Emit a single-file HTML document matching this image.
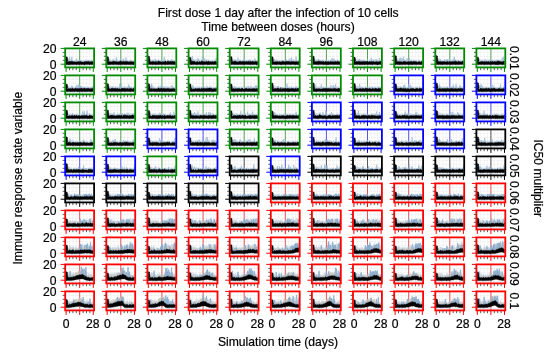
<!DOCTYPE html><html><head><meta charset="utf-8"><style>html,body{margin:0;padding:0;background:#fff;overflow:hidden}svg{display:block;will-change:transform;filter:blur(.3px)}.b{fill:none;stroke:#86a9cc;stroke-width:.75}.d{fill:none;stroke:#97b6d4;stroke-width:.65}.c{fill:#acbfd2;opacity:.6}.t{fill:#d5bb9c;opacity:.6}.k{fill:#000;stroke:#000;stroke-width:.4;stroke-linejoin:round}.z{fill:none;stroke:#d3e3f1;stroke-width:.6}</style></head><body>
<svg width="550" height="353" viewBox="0 0 550 353" font-family="Liberation Sans, sans-serif" font-size="12.15" fill="#000" stroke="#000" stroke-width=".2">
<rect width="550" height="353" fill="#fff" stroke="none"/>
<defs><g id="g"><path d="M4.3 0v19M7.7 0v19M11.1 0v19M17.9 0v19M21.3 0v19M24.7 0v19M0 11.9h28.9M0 7.9h28.9M0 4h28.9" stroke="#d6d6d6" stroke-width=".5" stroke-dasharray="1 1" fill="none"/><path d="M14.5 0v19" stroke="currentColor" stroke-width=".8" opacity=".8"/><path d="M14.5 0v19" stroke="#333" stroke-width=".8" opacity=".15"/><path class="z" d="M0 17.2h28.9"/></g><g id="f"><path d="M-2.5 11.9h2.5M-2.5 7.9h2.5M-2.5 4h2.5M4.3 19v2.8M7.7 19v2.8M11.1 19v2.8M17.9 19v2.8M21.3 19v2.8M24.7 19v2.8" stroke="#333" stroke-width=".8"/><path d="M-4.5 15.8h4.5M-4.5 0h4.5M.9 19v4.5M14.5 19v4.5M28.1 19v4.5" stroke="currentColor" stroke-width="1"/><rect width="28.9" height="19.0" fill="none" stroke="currentColor" stroke-width="1.8"/></g></defs>
<text x="278.2" y="17.1" text-anchor="middle">First dose 1 day after the infection of 10 cells</text>
<text x="278" y="30.6" text-anchor="middle">Time between doses (hours)</text>
<text x="278" y="345.5" text-anchor="middle">Simulation time (days)</text>
<text transform="translate(22.4,178.2) rotate(-90)" text-anchor="middle">Immune response state variable</text>
<text transform="translate(533.6,178.2) rotate(90)" text-anchor="middle">IC50 multiplier</text>
<text x="79.65" y="45.6" text-anchor="middle">24</text>
<text x="66.20" y="328" text-anchor="middle">0</text>
<text x="92.80" y="328" text-anchor="middle">28</text>
<text x="120.77" y="45.6" text-anchor="middle">36</text>
<text x="107.32" y="328" text-anchor="middle">0</text>
<text x="133.92" y="328" text-anchor="middle">28</text>
<text x="161.89" y="45.6" text-anchor="middle">48</text>
<text x="148.44" y="328" text-anchor="middle">0</text>
<text x="175.04" y="328" text-anchor="middle">28</text>
<text x="203.01" y="45.6" text-anchor="middle">60</text>
<text x="189.56" y="328" text-anchor="middle">0</text>
<text x="216.16" y="328" text-anchor="middle">28</text>
<text x="244.13" y="45.6" text-anchor="middle">72</text>
<text x="230.68" y="328" text-anchor="middle">0</text>
<text x="257.28" y="328" text-anchor="middle">28</text>
<text x="285.25" y="45.6" text-anchor="middle">84</text>
<text x="271.80" y="328" text-anchor="middle">0</text>
<text x="298.40" y="328" text-anchor="middle">28</text>
<text x="326.37" y="45.6" text-anchor="middle">96</text>
<text x="312.92" y="328" text-anchor="middle">0</text>
<text x="339.52" y="328" text-anchor="middle">28</text>
<text x="367.49" y="45.6" text-anchor="middle">108</text>
<text x="354.04" y="328" text-anchor="middle">0</text>
<text x="380.64" y="328" text-anchor="middle">28</text>
<text x="408.61" y="45.6" text-anchor="middle">120</text>
<text x="395.16" y="328" text-anchor="middle">0</text>
<text x="421.76" y="328" text-anchor="middle">28</text>
<text x="449.73" y="45.6" text-anchor="middle">132</text>
<text x="436.28" y="328" text-anchor="middle">0</text>
<text x="462.88" y="328" text-anchor="middle">28</text>
<text x="490.85" y="45.6" text-anchor="middle">144</text>
<text x="477.40" y="328" text-anchor="middle">0</text>
<text x="504.00" y="328" text-anchor="middle">28</text>
<text x="56.5" y="52.90" text-anchor="end">20</text>
<text x="56.5" y="68.80" text-anchor="end">0</text>
<text transform="translate(510.3,57.90) rotate(90)" text-anchor="middle">0.01</text>
<text x="56.5" y="79.90" text-anchor="end">20</text>
<text x="56.5" y="95.80" text-anchor="end">0</text>
<text transform="translate(510.3,84.90) rotate(90)" text-anchor="middle">0.02</text>
<text x="56.5" y="106.90" text-anchor="end">20</text>
<text x="56.5" y="122.80" text-anchor="end">0</text>
<text transform="translate(510.3,111.90) rotate(90)" text-anchor="middle">0.03</text>
<text x="56.5" y="133.90" text-anchor="end">20</text>
<text x="56.5" y="149.80" text-anchor="end">0</text>
<text transform="translate(510.3,138.90) rotate(90)" text-anchor="middle">0.04</text>
<text x="56.5" y="160.90" text-anchor="end">20</text>
<text x="56.5" y="176.80" text-anchor="end">0</text>
<text transform="translate(510.3,165.90) rotate(90)" text-anchor="middle">0.05</text>
<text x="56.5" y="187.90" text-anchor="end">20</text>
<text x="56.5" y="203.80" text-anchor="end">0</text>
<text transform="translate(510.3,192.90) rotate(90)" text-anchor="middle">0.06</text>
<text x="56.5" y="214.90" text-anchor="end">20</text>
<text x="56.5" y="230.80" text-anchor="end">0</text>
<text transform="translate(510.3,219.90) rotate(90)" text-anchor="middle">0.07</text>
<text x="56.5" y="241.90" text-anchor="end">20</text>
<text x="56.5" y="257.80" text-anchor="end">0</text>
<text transform="translate(510.3,246.90) rotate(90)" text-anchor="middle">0.08</text>
<text x="56.5" y="268.90" text-anchor="end">20</text>
<text x="56.5" y="284.80" text-anchor="end">0</text>
<text transform="translate(510.3,273.90) rotate(90)" text-anchor="middle">0.09</text>
<text x="56.5" y="295.90" text-anchor="end">20</text>
<text x="56.5" y="311.80" text-anchor="end">0</text>
<text transform="translate(510.3,300.90) rotate(90)" text-anchor="middle">0.1</text>
<g transform="translate(65.2 48.4)" color="#008a00" stroke="none"><use href="#g"/><path class="c" d="M.9 8.4l.6 .8 .5 .1 .6 .7 .6 .2 .5 .7 .6-1 .6 1.6 .5-.6 .6 0 .6 .3 .5 .4 .6-.3 .6 .2 .5 .2 .6 .3 .6 .3 .5-.7 .6 .4 .6-.5 .5 .3 .6-.4 .6-.5 .5 1 .6-.1 .6-.4 .5 .2 .6 .3 .6-.2 .5 .2 .6-.3 .6 .2 .5 .5 .6-1.1 .6 1 .5-1.8 .6 1.1 .6-.4 .5 .3 .6 0 .6-.2 .5 .2 .6 .4 .6 .1 .5-1.2 .6-.2 .6 1.2 .5-.3 .6 .7 0 1.7-.6-.9-.5 .6-.6-.3-.6 .3-.5-.1-.6 0-.6-.1-.5-.4-.6 .2-.6 0-.5 .2-.6-.2-.6-.1-.5 .9-.6-1-.6 .8-.5 .2-.6-.5-.6 .5-.5-.6-.6 .2-.6-.5-.5 .1-.6 .1-.6 .4-.5-.4-.6 .1-.6 0-.5 0-.6 .4-.6 0-.5-.1-.6-.2-.6-.1-.5 .2-.6-.5-.6 .2-.5-.3-.6 .1-.6 .2-.5 0-.6-.6-.6 .7-.5 0-.6-.4-.6 .6-.5-.7-.6 .4z"/><path class="d" d="M.9 13l.6 0 .5 .6 .6-.5 .6 .3 .5-.6 .6-.3 .6 .3 .5 .6 .6-.4 .6-.3 .5 .5 .6-.2 .6 .1 .5 .4 .6-.6 .6 .8 .5-.4 .6-3.2 .6 3.4 .5-.1 .6-.2 .6 .2 .5 .3 .6-.2 .6-1.1 .5 .4 .6 .6 .6 .2 .5 .2 .6-.6 .6 .9 .5-.4 .6-.7 .6 1 .5-1.3 .6 .2 .6 .4 .5-.3 .6 .2 .6-.5 .5 .8 .6-.3 .6 .1 .5 .3 .6-.7 .6 .2 .5-.2 .6 1.1"/><path class="d" d="M.9 12.9l.6-.3 .5 1 .6-2.6 .6 2.5 .5-.1 .6-5 .6 4.8 .5-.1 .6-.4 .6-4.2 .5 4.6 .6 .1 .6 .4 .5-.4 .6 .3 .6 .4 .5-.2 .6 .3 .6-.9 .5 .2 .6-.1 .6-.2 .5 .8 .6-.6 .6-.4 .5-.1 .6 1 .6-.7 .5 .7 .6-.7 .6 .9 .5-.2 .6-1.1 .6 1.2 .5-1.5 .6 .4 .6 .5 .5 .1 .6-.1 .6-.2 .5 .2 .6-.3 .6-.2 .5 .3 .6 .3 .6-.2 .5-.1 .6 .9"/><path class="k" d="M.8 16.1l0-7.8 1.4 .5 .4 3.9-1.1 .1 .5 .7 .6-.6 .6 .4 .5 0 .6-.7 .6 .6 .5 0 .6-.2 .6-.1 .5 .3 .6-.2 .6 .5 .5-.2 .6 .1 .6 .2 .5 .1 .6 0 .6-.4 .5 0 .6 0 .6-.1 .5 .4 .6-.4 .6-.1 .5-.1 .6 .5 .6-.2 .5 .6 .6-.5 .6 .5 .5-.2 .6-.8 .6 1 .5-.9 .6 .1 .6 .2 .5-.2 .6 0 .6-.2 .5 .4 .6 .1 .6 0 .5 .1 .6-.3 .6 .3 .5-.6 .6 .9 0 2.5-.6-.1-.5-.2-.6 .3-.6-.1-.5-.2-.6 .3-.6 0-.5-.2-.6 .1-.6 0-.5 0-.6 0-.6 0-.5 0-.6 .4-.6-.2-.5-.4-.6 .3-.6-.1-.5 0-.6 .1-.6-.1-.5 0-.6-.1-.6 .2-.5-.1-.6 .1-.6-.2-.5 0-.6 .4-.6-.4-.5 .1-.6 0-.6 .1-.5-.1-.6 .1-.6-.1-.5 .1-.6-.2-.6 .3-.5-.3-.6 .2-.6 0-.5 .2-.6-.5-.6 .4-.5-.1-.7-.2z"/><use href="#f"/></g>
<g transform="translate(106.3 48.4)" color="#008a00" stroke="none"><use href="#g"/><path class="c" d="M.9 8.2l.6 1.9 .5 .1 .6 .9 .6-1.3 .5 1.4 .6-.5 .6 .7 .5 .2 .6-1.4 .6 .6 .5-1 .6 1.1 .6 .2 .5 .1 .6 .3 .6-.7 .5 .4 .6-.6 .6 1.2 .5-.3 .6 .8 .6-2 .5 .3 .6 .1 .6 1.1 .5-1.3 .6 1.5 .6-.5 .5-.4 .6 .1 .6 .7 .5 .2 .6-1 .6 .3 .5-.6 .6 1.1 .6-.1 .5 .6 .6-1.1 .6-.3 .5 .7 .6-.3 .6-.5 .5 .8 .6 .1 .6 .1 .5-.3 .6-.9 0 2.4-.6 .4-.5-.1-.6-.2-.6 .6-.5-.6-.6 .1-.6-.3-.5 .1-.6 .4-.6 .2-.5-.5-.6 .1-.6-.4-.5 .5-.6-.7-.6 1-.5-.4-.6-.3-.6 .2-.5-.1-.6 .2-.6 0-.5 0-.6-.9-.6 .4-.5 .1-.6 .7-.6-.2-.5 .1-.6-.1-.6-.4-.5 .4-.6 .2-.6-.7-.5 .3-.6-.1-.6-.7-.5 .8-.6 .1-.6 .2-.5-.1-.6-.1-.6 .5-.5-.8-.6 .3-.6 .1-.5 0-.6 .1z"/><path class="d" d="M.9 13.7l.6-.1 .5 0 .6-.1 .6-.8 .5 1.2 .6-.5 .6 .1 .5-.4 .6 0 .6 .2 .5-.9 .6 .9 .6-.6 .5 .4 .6 .6 .6-.2 .5-.9 .6 .7 .6 .4 .5-.3 .6 .4 .6-.7 .5-.3 .6-.5 .6 .8 .5-.2 .6 .4 .6-1.2 .5 1.2 .6-.4 .6 .5 .5 .1 .6-.8 .6 .4 .5-.1 .6 .2 .6-.1 .5 .8 .6-.4 .6-.7 .5 .4 .6 .3 .6-.2 .5 .5 .6-.4 .6-.2 .5 .2 .6-.8"/><path class="d" d="M.9 12.9l.6 .6 .5 0 .6 0 .6-.4 .5 .6 .6-.6 .6-.2 .5 .8 .6-.2 .6-.1 .5-.9 .6 .5 .6 .3 .5-.4 .6 .8 .6-4.9 .5 4.2 .6 .1 .6 .4 .5-.1 .6 .5 .6-.9 .5-.2 .6-.5 .6-.6 .5 1.7 .6 .1 .6-3.4 .5 3.1 .6-.6 .6 .4 .5 .6 .6-4.5 .6 3.9 .5 0 .6 .5 .6-.3 .5 .4 .6-.1 .6-.6 .5-.1 .6 .2 .6 .2 .5 .2 .6 0 .6 0 .5 0 .6-.2"/><path class="k" d="M.8 16.1l0-8 1.4 .5 .4 4.1-1.1 .7 .5 0 .6-.1 .6-.3 .5 .8 .6-.5 .6 .1 .5 .1 .6-.2 .6-.1 .5-.8 .6 .7 .6 .1 .5-.3 .6 .7 .6-.2 .5-.4 .6 .4 .6 .1 .5-.1 .6 .2 .6-.7 .5-.1 .6-.4 .6 .9 .5 0 .6 0 .6-.2 .5 .1 .6-.2 .6 .3 .5 .4 .6-1 .6 .7 .5-.5 .6 .4 .6-.1 .5 .5 .6-.2 .6-.4 .5-.1 .6 .3 .6-.1 .5 .6 .6-.6 .6 .2 .5 .1 .6-.4 0 3.1-.6 .1-.5 0-.6 0-.6-.1-.5 .1-.6-.1-.6 .1-.5-.1-.6 .1-.6 0-.5-.2-.6 0-.6 .1-.5 .1-.6-.2-.6 .2-.5 0-.6-.1-.6-.1-.5 .1-.6 .1-.6-.1-.5-.1-.6 0-.6 .2-.5 0-.6-.1-.6 .2-.5-.1-.6-.1-.6 .1-.5-.1-.6 0-.6-.1-.5 .1-.6 0-.6 .1-.5 0-.6-.2-.6 0-.5 0-.6 .2-.6-.1-.5 .1-.6 0-.6 0-.5 0-.7-.2z"/><use href="#f"/></g>
<g transform="translate(147.4 48.4)" color="#008a00" stroke="none"><use href="#g"/><path class="c" d="M.9 9.6l.6-.8 .5 .9 .6 1.2 .6-.3 .5 1.1 .6-.4 .6-.5 .5-.3 .6 .7 .6 .5 .5-.2 .6 .4 .6-.2 .5-1.6 .6 1.7 .6 .2 .5-1.1 .6-.7 .6 1.5 .5-.6 .6 .5 .6-.5 .5 .7 .6-.9 .6 .8 .5 .3 .6 .1 .6-1.1 .5 .9 .6-1.7 .6 1.3 .5 .7 .6-1 .6-.8 .5 .4 .6 .8 .6 .5 .5-.7 .6-.2 .6-.1 .5-.1 .6 .2 .6-.2 .5 .2 .6 .3 .6 .2 .5 .3 .6 .4 0 1.6-.6-.6-.5-.3-.6-.3-.6 .8-.5-1-.6 1.1-.6-.6-.5-.4-.6 .5-.6-.3-.5 1-.6-1-.6-.1-.5 .1-.6 .1-.6 1.3-.5-1.4-.6-.3-.6 .8-.5 0-.6 0-.6 .5-.5-.6-.6-.3-.6 .6-.5-.3-.6 0-.6-.2-.5-.1-.6-.3-.6-.1-.5 1.5-.6-.3-.6-1-.5 .4-.6 .3-.6 0-.5-.3-.6 0-.6-.3-.5 .5-.6-.1-.6 .4-.5-.5-.6 .1-.6-.3-.5 .3-.6 .5z"/><path class="d" d="M.9 13.7l.6-.5 .5 0 .6 .2 .6-.3 .5 .6 .6-1.3 .6 1.1 .5-.8 .6 0 .6 .7 .5 0 .6-.1 .6-.6 .5-.4 .6 1.5 .6 0 .5-1.3 .6-.2 .6 .9 .5-.2 .6 .4 .6 .2 .5 0 .6-.6 .6 .2 .5 .7 .6-.9 .6 .5 .5-.3 .6-.6 .6 .1 .5 1.1 .6-.6 .6-.4 .5 0 .6 0 .6 .6 .5-.7 .6 .2 .6-.1 .5 .1 .6 1 .6-1.8 .5 1.2 .6-.3 .6-.1 .5 .7 .6 0"/><path class="d" d="M.9 13.8l.6-.9 .5-.1 .6 .7 .6-.6 .5 .6 .6-.7 .6 .7 .5-1.2 .6 .8 .6 0 .5 .5 .6-3.2 .6 3 .5-.4 .6 1 .6 .1 .5-1.5 .6 .2 .6 .1 .5 .4 .6 .2 .6-.5 .5 .5 .6-1 .6 .4 .5 .9 .6-.5 .6-4.9 .5 5.2 .6-1 .6 .5 .5 1.3 .6-1.1 .6-.2 .5-.3 .6-.4 .6 1.5 .5-.9 .6 .3 .6-.6 .5-1.5 .6 2.3 .6-.7 .5 .8 .6-.9 .6 .1 .5 .5 .6 .8"/><path class="k" d="M.8 16.1l0-8.6 1.4 .5 .4 4.7-1.1 .6 .5-.3 .6 .3 .6-.1 .5 .5 .6-.4 .6 .1 .5-.5 .6 .3 .6 0 .5 .3 .6 0 .6-.3 .5-.4 .6 1 .6 .3 .5-1.5 .6 .1 .6 .3 .5 .1 .6 .2 .6 0 .5 .3 .6-.6 .6 .3 .5 .6 .6-.5 .6 0 .5 0 .6-.8 .6 .3 .5 1.4 .6-1.3 .6-.1 .5-.1 .6 .1 .6 1 .5-1 .6 .3 .6-.5 .5 .4 .6 .6 .6-1.1 .5 1 .6-.8 .6 .3 .5 .3 .6 .6 0 2.2-.6 0-.5 .1-.6-.1-.6 .2-.5-.2-.6 .1-.6-.1-.5 0-.6 0-.6 0-.5 0-.6 0-.6 .1-.5 0-.6-.2-.6 0-.5 .3-.6-.1-.6 .1-.5-.2-.6 0-.6-.1-.5-.1-.6 .3-.6-.1-.5-.1-.6 .1-.6-.1-.5 .2-.6-.1-.6-.1-.5 .2-.6 0-.6-.3-.5 .3-.6 0-.6-.1-.5-.1-.6 0-.6 .2-.5 0-.6-.2-.6 .1-.5-.1-.6 .1-.6 0-.5 .1-.7-.2z"/><use href="#f"/></g>
<g transform="translate(188.6 48.4)" color="#008a00" stroke="none"><use href="#g"/><path class="c" d="M.9 8.9l.6 .7 .5 .1 .6-.6 .6 1.2 .5 .2 .6-.3 .6 .3 .5 .5 .6 0 .6-.8 .5 1.5 .6-.8 .6 .3 .5 .3 .6 .1 .6 .8 .5-1.2 .6 .3 .6 .1 .5-.8 .6 .3 .6 .2 .5 0 .6 .3 .6-.9 .5 1.4 .6-1 .6 .6 .5 .2 .6-1 .6-.5 .5 1.2 .6-1.3 .6 1.1 .5 .4 .6 .4 .6-.3 .5-.4 .6 .8 .6-1.4 .5 .9 .6-.4 .6 .6 .5-.5 .6-1.1 .6 1.3 .5-.2 .6 .4 0 1.8-.6-.6-.5 0-.6-.1-.6-.1-.5 1-.6-.6-.6 .1-.5-.3-.6 1-.6-1.3-.5 .9-.6-.2-.6-.3-.5-.1-.6-.5-.6 .9-.5 .2-.6-1-.6 .6-.5 .2-.6-.5-.6 .3-.5 .1-.6-.3-.6-.2-.5-.1-.6-.3-.6 1-.5 .1-.6-.4-.6 .1-.5 .7-.6-.8-.6-.1-.5-.1-.6 .8-.6 0-.5-.5-.6-.5-.6 .1-.5 0-.6-.1-.6 0-.5 .3-.6-.9-.6 .6-.5 1-.6-.4z"/><path class="d" d="M.9 13.3l.6 .4 .5-1 .6-.5 .6 .4 .5 .2 .6 0 .6 .3 .5-.1 .6-.3 .6 .5 .5 .5 .6 0 .6-.9 .5-.2 .6 .7 .6-2.3 .5 1.5 .6 .9 .6 .3 .5-.7 .6-.4 .6 .3 .5-.2 .6 .2 .6 .5 .5-.2 .6-.4 .6 .9 .5-.3 .6-.9 .6 1.4 .5-.7 .6-.7 .6 .8 .5-.4 .6 .8 .6-.1 .5-1.1 .6 1.7 .6-1.2 .5 .5 .6-.2 .6 .7 .5-1 .6-.2 .6 .3 .5 .1 .6 .5"/><path class="d" d="M.9 12.9l.6 1.1 .5-1.3 .6-.3 .6 .8 .5-5.4 .6 5 .6-.1 .5 .5 .6-.3 .6 .6 .5 .3 .6-.4 .6-1 .5 .5 .6-3.3 .6 3.6 .5 .1 .6-.1 .6 .4 .5-.2 .6-.8 .6 .1 .5-4.6 .6 4.9 .6 .2 .5-.6 .6-2.6 .6 3.5 .5-.4 .6-.6 .6 1.1 .5-.2 .6-.9 .6 .4 .5 0 .6 .3 .6 .7 .5-1.3 .6 1.3 .6-1.1 .5 .6 .6-.7 .6 1.2 .5-.9 .6 .2 .6 0 .5-3.9 .6 4.1"/><path class="k" d="M.8 16.1l0-7.5 1.4 .4 .4 3.7-1.1 1.1 .5-1 .6-.6 .6 .9 .5-.3 .6 0 .6 .1 .5 0 .6-.1 .6 .5 .5 .5 .6 0 .6-.8 .5 .1 .6 .1 .6 .8 .5-.7 .6-.1 .6 .4 .5-.1 .6-1 .6 .3 .5 .1 .6 .2 .6 .3 .5-.1 .6-.3 .6 .5 .5-.2 .6-.6 .6 1 .5-.2 .6-.9 .6 .5 .5 .1 .6 .3 .6 .2 .5-.9 .6 1.3 .6-1 .5 .3 .6-.1 .6 .6 .5-1 .6 .1 .6 .1 .5 0 .6 .6 0 2.6-.6 0-.5-.2-.6 .1-.6 0-.5 0-.6 .1-.6-.2-.5 0-.6 .2-.6-.2-.5 .1-.6 0-.6 .1-.5 0-.6 0-.6 .1-.5-.1-.6-.1-.6-.2-.5 .2-.6 .2-.6-.2-.5 .1-.6-.1-.6 .1-.5 0-.6-.1-.6 .1-.5 0-.6-.1-.6 0-.5 0-.6 .2-.6-.1-.5-.1-.6 .1-.6 0-.5-.2-.6 .1-.6-.1-.5 .1-.6 .1-.6-.1-.5 0-.6 .4-.6-.4-.5 0-.7-.1z"/><use href="#f"/></g>
<g transform="translate(229.7 48.4)" color="#008a00" stroke="none"><use href="#g"/><path class="c" d="M.9 9.4l.6-.8 .5 2.1 .6-.3 .6-.2 .5-.2 .6 1 .6-.4 .5 .3 .6-.4 .6 .8 .5 0 .6-.3 .6 .7 .5 .2 .6-1.5 .6 1.1 .5-.5 .6 .1 .6 .4 .5 .1 .6-.6 .6 1.4 .5-2.3 .6 .8 .6 .6 .5 .4 .6-1 .6 .2 .5 .4 .6 0 .6-.6 .5 .1 .6 1.5 .6-2.7 .5 2.1 .6-1.1 .6 1.3 .5-.3 .6-.4 .6 .1 .5-.8 .6 1.3 .6-.4 .5-.5 .6 .6 .6 .2 .5-.9 .6 .9 0 1.7-.6-.7-.5 .5-.6-.3-.6-.2-.5 .5-.6 0-.6 0-.5-.2-.6-.5-.6 .4-.5 .5-.6-.7-.6 .2-.5-.4-.6 1.3-.6-1.3-.5 .4-.6 .3-.6 0-.5-.8-.6 .8-.6 .2-.5-.6-.6 .2-.6-.6-.5 1.1-.6-.7-.6 .1-.5 .2-.6-.4-.6 .3-.5 0-.6-.5-.6 1.4-.5-.8-.6 .3-.6-.2-.5-.1-.6-.5-.6 .1-.5-.2-.6 .5-.6-.1-.5 0-.6-.2-.6 .7-.5-.4-.6-.1z"/><path class="d" d="M.9 12.9l.6 .1 .5 .4 .6-.9 .6 .5 .5-.6 .6 .7 .6-.9 .5 .9 .6-1.5 .6 1.9 .5 .1 .6 .1 .6-4.5 .5 5.1 .6-1.8 .6 .8 .5-.2 .6-.5 .6 .3 .5 0 .6 0 .6 .9 .5-1.5 .6-3 .6 3.6 .5 .8 .6-.6 .6-.6 .5 .5 .6 .4 .6-.8 .5 0 .6 1.5 .6-1.3 .5 .3 .6-.1 .6 .6 .5-.6 .6-.1 .6-.3 .5 .5 .6 .1 .6 .3 .5-.4 .6-.2 .6 .6 .5-.5 .6 .8"/><path class="d" d="M.9 13l.6 0 .5 .7 .6-1.1 .6 .3 .5 .3 .6-.5 .6 0 .5-.2 .6-.3 .6 1.2 .5 .1 .6-.4 .6 .3 .5 .7 .6-1.3 .6 .3 .5 .1 .6-.2 .6 .3 .5 0 .6-.3 .6 .8 .5-1.6 .6 .8 .6-.3 .5 .9 .6-.2 .6-.8 .5 .3 .6 .3 .6-.1 .5-.3 .6 .8 .6-2.7 .5 2.4 .6-.9 .6 1.3 .5-.5 .6-.6 .6 .6 .5 .3 .6-.1 .6-3.3 .5 2.6 .6 .4 .6 .4 .5-.5 .6 .5"/><path class="k" d="M.8 16.1l0-8.1 1.4 .4 .4 4.3-1.1 .5 .5 .4 .6-.7 .6 .2 .5 0 .6 .1 .6-.5 .5 .2 .6-.1 .6 .5 .5 .1 .6 .2 .6-.3 .5 .8 .6-1.4 .6 .5 .5 0 .6-.3 .6 .4 .5-.2 .6-.1 .6 .7 .5-1.1 .6 .6 .6-.2 .5 .6 .6-.2 .6-.8 .5 .8 .6 0 .6-.3 .5-.4 .6 1.3 .6-1.3 .5 .4 .6-.2 .6 .7 .5-.5 .6-.4 .6 .5 .5 .2 .6 0 .6 0 .5-.5 .6 .2 .6 .3 .5-.5 .6 .7 0 2.7-.6-.1-.5 .3-.6-.2-.6-.2-.5 0-.6 .1-.6 0-.5 .1-.6 0-.6-.2-.5 .1-.6 0-.6 .2-.5-.1-.6-.1-.6-.1-.5 .2-.6-.1-.6 0-.5-.1-.6-.1-.6 .2-.5 .1-.6-.1-.6 .2-.5-.2-.6 .2-.6-.2-.5 0-.6 .1-.6-.2-.5 .1-.6 0-.6 .1-.5 0-.6-.3-.6 .2-.5 .1-.6-.1-.6 .1-.5 0-.6-.1-.6 0-.5 0-.6-.1-.6 .2-.5-.3-.7 .1z"/><use href="#f"/></g>
<g transform="translate(270.8 48.4)" color="#008a00" stroke="none"><use href="#g"/><path class="c" d="M.9 9.4l.6 .2 .5 .3 .6 .2 .6 .9 .5-.1 .6 .4 .6-.1 .5 .1 .6-.7 .6 .6 .5-.1 .6 1.2 .6-.9 .5 0 .6-.1 .6 .7 .5-.9 .6-.1 .6 .6 .5 0 .6-.4 .6 .8 .5-.8 .6-.3 .6 1 .5-2.2 .6 1.7 .6 .3 .5-.5 .6-.3 .6 1.1 .5-.1 .6 .3 .6-.6 .5-2.4 .6 1.7 .6 .6 .5-.9 .6 .4 .6 .4 .5-.2 .6 .7 .6-.5 .5 .2 .6 0 .6 0 .5-.9 .6 .2 0 2.1-.6 .3-.5-.1-.6 .3-.6-.2-.5-.2-.6 .3-.6 0-.5-.1-.6-.4-.6 .4-.5-.2-.6 .3-.6-.5-.5 .2-.6 .4-.6-.3-.5 .1-.6-.2-.6-.4-.5 .5-.6 0-.6-.3-.5 .4-.6-.5-.6 .5-.5 .4-.6-.5-.6-.3-.5 0-.6 .1-.6 .5-.5 0-.6-.2-.6 .1-.5-.3-.6 .9-.6-1.2-.5 .7-.6-.5-.6 .4-.5-.1-.6 .1-.6 .1-.5-.2-.6 0-.6-.1-.5 .3-.6-.1z"/><path class="d" d="M.9 10.5l.6 3.1 .5-.3 .6 0 .6-.2 .5 .5 .6-1 .6 .3 .5 .7 .6-.7 .6 .7 .5-.7 .6 1.1 .6-.7 .5-.2 .6 .4 .6 .2 .5-.7 .6-.4 .6 .3 .5-.7 .6 .5 .6 1.1 .5-.3 .6-1.2 .6 .9 .5-.2 .6 .1 .6 .2 .5-.5 .6 .3 .6 .3 .5-3.4 .6 3.7 .6-.5 .5-.3 .6 .4 .6-.2 .5 0 .6-.6 .6 .9 .5 .2 .6 0 .6-5.6 .5 5.3 .6 .1 .6 0 .5-.2 .6-.4"/><path class="d" d="M.9 13.6l.6-.3 .5 .1 .6-.1 .6-.2 .5-2.1 .6 2.5 .6-.3 .5 .2 .6-.3 .6 .5 .5-.7 .6 1 .6-1.1 .5 .2 .6 .6 .6 .1 .5-.9 .6 .3 .6-.3 .5-.9 .6 .8 .6 .7 .5-.4 .6-.2 .6 .7 .5-.5 .6 .3 .6-.1 .5-.4 .6 .4 .6-.2 .5 .2 .6 .2 .6-1.1 .5-3 .6 4.2 .6-.3 .5-.1 .6-.4 .6 .5 .5 .2 .6-.5 .6 .2 .5-.4 .6 .9 .6-.2 .5-.2 .6 0"/><path class="k" d="M.8 16.1l0-8 1.4 .5 .4 4.1-1.1 .8 .5-.3 .6 .1 .6 0 .5 .2 .6-.1 .6-.1 .5 .1 .6-.4 .6 .5 .5-.7 .6 1.2 .6-.9 .5 .3 .6-.1 .6 .2 .5 0 .6-.5 .6-.1 .5 0 .6 .3 .6 .5 .5-.4 .6-.5 .6 .5 .5-.4 .6 .3 .6 0 .5-.5 .6 .4 .6 .2 .5-.1 .6 .3 .6-.4 .5-.2 .6 .5 .6-.3 .5 .2 .6-.4 .6 .4 .5 .1 .6 0 .6-.3 .5 .2 .6 .2 .6-.3 .5 .1 .6-.3 0 3.4-.6-.1-.5 0-.6 0-.6-.1-.5-.1-.6 .2-.6 .2-.5-.3-.6 0-.6 0-.5-.1-.6 0-.6 .1-.5 .1-.6 0-.6-.1-.5-.1-.6 .1-.6 0-.5 0-.6-.1-.6 .2-.5-.1-.6 .2-.6-.2-.5-.1-.6 .1-.6 .1-.5-.1-.6 .1-.6 0-.5 0-.6 0-.6-.2-.5 .1-.6 0-.6 0-.5-.1-.6 .2-.6 0-.5-.2-.6 .2-.6-.1-.5 0-.6 0-.6 .1-.5-.2-.7 0z"/><use href="#f"/></g>
<g transform="translate(311.9 48.4)" color="#008a00" stroke="none"><use href="#g"/><path class="c" d="M.9 8.6l.6 .1 .5 .2 .6 1.1 .6 .6 .5 0 .6 .1 .6 .3 .5 .3 .6-1 .6 .1 .5 .8 .6-.2 .6 .2 .5 .2 .6 .2 .6-1.2 .5 1.5 .6-1.4 .6 .9 .5 0 .6 .7 .6-.9 .5 .3 .6-.3 .6 1.3 .5-.7 .6-1 .6 .4 .5 .5 .6 .2 .6-1.2 .5 .9 .6-1.1 .6 .4 .5 .6 .6-.3 .6 .9 .5-.2 .6 0 .6-.7 .5 .9 .6-.8 .6-.1 .5-.5 .6 .3 .6 .6 .5 .4 .6 0 0 1.7-.6-.3-.5 0-.6-.2-.6-.3-.5 0-.6 .6-.6 .1-.5-1-.6 .7-.6 0-.5 .3-.6-.5-.6 .5-.5-.7-.6 .8-.6-.5-.5-.4-.6 .9-.6-.2-.5-.3-.6-.1-.6 0-.5 .9-.6-.9-.6-.1-.5 .1-.6 .8-.6-.5-.5-.3-.6-.2-.6 .7-.5-.7-.6 .5-.6-.2-.5-.4-.6 0-.6 .3-.5-.3-.6-.1-.6 .7-.5-.3-.6 .2-.6-.1-.5 0-.6-.1-.6-.1-.5-.1-.6 .4z"/><path class="d" d="M.9 13.1l.6-.2 .5 .3 .6-.1 .6 .2 .5-.1 .6 .2 .6-.7 .5 .9 .6-1.3 .6-1.5 .5 2.3 .6-.5 .6 .3 .5 .2 .6 .3 .6-1.2 .5 .8 .6-.1 .6-.2 .5 .8 .6 .3 .6-.7 .5-.3 .6 .2 .6 1 .5-.8 .6 0 .6-.1 .5 .2 .6 .5 .6-1.1 .5-.4 .6 .9 .6-.7 .5 1.3 .6-.6 .6-3.1 .5 1 .6 2 .6-.4 .5 .6 .6 .4 .6-.8 .5 .1 .6-.3 .6 .9 .5-.7 .6 .9"/><path class="d" d="M.9 13.4l.6-.7 .5 .4 .6-.3 .6-.2 .5-.2 .6 .8 .6-.4 .5 .6 .6-.6 .6 0 .5 .2 .6 0 .6-.4 .5 .8 .6-.1 .6-.8 .5 1 .6-.9 .6 .6 .5 .1 .6 .3 .6-.9 .5 .5 .6 0 .6 .6 .5-.7 .6 .2 .6 0 .5 .2 .6 .4 .6-1.4 .5 .6 .6 .8 .6-4.2 .5 4 .6-.4 .6 0 .5-.3 .6 0 .6-.4 .5 .9 .6-.6 .6-.2 .5-.5 .6 .9 .6 .5 .5 0 .6 .2"/><path class="k" d="M.8 16.1l0-8.6 1.4 .5 .4 4.7-1.1 .2 .5 .1 .6 .1 .6 .1 .5 0 .6 .1 .6-.2 .5 .3 .6-.7 .6 .1 .5 .3 .6-.3 .6 0 .5 .4 .6 .2 .6-.5 .5 .7 .6-.7 .6 .2 .5 .3 .6 .5 .6-.8 .5-.1 .6 .1 .6 .9 .5-.9 .6 0 .6 .1 .5 .3 .6 .2 .6-.9 .5 .4 .6 .5 .6-.8 .5 .7 .6-.5 .6 .5 .5-.3 .6 0 .6-.7 .5 1 .6-.1 .6-.6 .5 0 .6 .3 .6 .2 .5 0 .6 .3 0 2.6-.6-.1-.5 .1-.6-.1-.6 .1-.5-.1-.6 0-.6-.1-.5 0-.6 .2-.6-.1-.5 0-.6 .2-.6-.2-.5 0-.6-.1-.6 .2-.5-.3-.6 .2-.6 0-.5 .1-.6 0-.6 0-.5 0-.6-.3-.6 .4-.5-.3-.6 .1-.6 .1-.5 0-.6-.2-.6 0-.5 .1-.6-.2-.6 .1-.5 .1-.6 0-.6 0-.5 .1-.6 0-.6-.1-.5-.2-.6 .3-.6-.2-.5 .1-.6-.1-.6 0-.5 .1-.7-.1z"/><use href="#f"/></g>
<g transform="translate(353 48.4)" color="#008a00" stroke="none"><use href="#g"/><path class="c" d="M.9 8.6l.6-.3 .5 2 .6-.4 .6 .7 .5 .5 .6 0 .6-.5 .5 .1 .6 .7 .6-.8 .5 .5 .6 .5 .6-.2 .5 .2 .6 .1 .6-1 .5 .6 .6-.6 .6 .5 .5 .4 .6 .1 .6-.4 .5 .9 .6-1.7 .6 1.6 .5 .2 .6-1 .6-1.2 .5 2.1 .6-1.4 .6 .7 .5 .6 .6-1.4 .6 .3 .5 0 .6 .5 .6 .8 .5-1 .6 .4 .6-1.3 .5 1.3 .6-.6 .6 .4 .5 0 .6 .3 .6-1.2 .5 .9 .6-.1 0 1.5-.6 .2-.5 0-.6 .1-.6 .2-.5 .1-.6-.1-.6-.2-.5 0-.6 .3-.6-.1-.5 .4-.6-.4-.6-.3-.5 0-.6 .2-.6 .1-.5-.5-.6 .1-.6 .5-.5-.6-.6 .5-.6 .2-.5 .1-.6-1.1-.6 1.1-.5-.9-.6 .7-.6-.3-.5-.2-.6 .2-.6-.1-.5-.1-.6 .2-.6 .1-.5 0-.6 0-.6-.3-.5 .1-.6 .1-.6-.3-.5 .4-.6-.2-.6 .2-.5-.4-.6 .7-.6-.3-.5-.1-.6-.1z"/><path class="d" d="M.9 12.8l.6 0 .5 .7 .6 .3 .6-.9 .5 .3 .6 0 .6 0 .5-.3 .6 0 .6-2.5 .5 2.6 .6-.1 .6 .3 .5-1.8 .6 1.9 .6-.4 .5-.4 .6 .7 .6-.7 .5 .1 .6 1.1 .6-.7 .5 .5 .6-1 .6 1.1 .5 0 .6-.1 .6-.6 .5 .6 .6-.4 .6-3.9 .5 4.3 .6-.4 .6 0 .5-1.8 .6 1.6 .6 .6 .5-.1 .6-2.8 .6 2.8 .5-.4 .6 .6 .6-.2 .5 .1 .6-.4 .6 .1 .5-.3 .6 .2"/><path class="d" d="M.9 13.4l.6 .1 .5-1.7 .6 1.9 .6-1 .5 .5 .6 0 .6-.1 .5-.8 .6 .9 .6-.2 .5-.9 .6 .6 .6 .3 .5-.2 .6-.1 .6 .4 .5 .1 .6 .1 .6-.3 .5 .1 .6 .4 .6-.6 .5 .2 .6-.3 .6 .8 .5 .2 .6-.6 .6-.8 .5 1.1 .6-.7 .6 .3 .5 .1 .6 .3 .6-.2 .5-.3 .6 .4 .6 .2 .5-.5 .6 .2 .6 0 .5-.2 .6 .4 .6-.2 .5-.1 .6-3.5 .6 3.5 .5-.9 .6 .4"/><path class="k" d="M.8 16.1l0-7.5 1.4 .5 .4 3.6-1.1 .5 .5 .1 .6 .3 .6-.7 .5 .4 .6-.2 .6 .2 .5-.4 .6 .3 .6-.1 .5-.1 .6 .3 .6 0 .5 0 .6-.1 .6-.2 .5 .1 .6 .1 .6-.2 .5 .2 .6 .3 .6-.7 .5 .9 .6-1.1 .6 1.1 .5-.1 .6-.2 .6-.5 .5 .6 .6-.5 .6-.1 .5 .5 .6-.1 .6-.2 .5 0 .6 .3 .6 .4 .5-.4 .6 .1 .6-.3 .5 0 .6 .2 .6 .1 .5-.1 .6-.2 .6-.1 .5 0 .6-.2 0 3.2-.6 0-.5-.1-.6 .2-.6 0-.5 .1-.6 .2-.6-.2-.5 0-.6-.1-.6 0-.5-.1-.6 0-.6 .1-.5 0-.6 .2-.6 0-.5-.2-.6 0-.6 .1-.5-.1-.6 0-.6 .1-.5-.1-.6-.1-.6 0-.5 .1-.6-.1-.6 .2-.5 .1-.6 0-.6-.2-.5 .2-.6-.1-.6 0-.5-.1-.6 0-.6 .3-.5-.1-.6-.3-.6-.1-.5 .1-.6 .3-.6-.2-.5 0-.6 .1-.6-.2-.5 .2-.7-.2z"/><use href="#f"/></g>
<g transform="translate(394.2 48.4)" color="#008a00" stroke="none"><use href="#g"/><path class="c" d="M.9 8.3l.6 1.5 .5 .4 .6 .5 .6-1.3 .5 1.8 .6 .3 .6-.2 .5 .1 .6 .2 .6-.6 .5 .2 .6 .2 .6-.2 .5 .1 .6-.7 .6 .3 .5 .4 .6 .4 .6-.2 .5 .5 .6-.3 .6-1.1 .5 1 .6-.6 .6 .9 .5-.6 .6 .4 .6-.3 .5-.3 .6 .3 .6 .7 .5-1.7 .6 .5 .6 .4 .5 .3 .6 .2 .6 0 .5-.9 .6 .4 .6 1.2 .5-1.4 .6 .1 .6-.4 .5 1.2 .6 .4 .6-1 .5 .2 .6-.7 0 2.7-.6-.5-.5-.3-.6 1-.6-.3-.5-.4-.6 .3-.6-.1-.5 .9-.6-.9-.6 .1-.5 .2-.6-.4-.6-.2-.5 0-.6 0-.6 0-.5 .6-.6-.6-.6 0-.5-.1-.6 .4-.6-.3-.5 .6-.6-.4-.6-.1-.5 .2-.6 .4-.6-.1-.5-.3-.6-.2-.6 .3-.5-.8-.6 .2-.6 .7-.5 .2-.6-.5-.6 .4-.5-.5-.6 .4-.6-.4-.5 .2-.6-.1-.6 .4-.5-.7-.6 .3-.6 0-.5-.7-.6 .6z"/><path class="d" d="M.9 13.2l.6-.9 .5 1 .6-.4 .6-.1 .5 .3 .6 .2 .6 .1 .5-.4 .6-3.9 .6 4.1 .5 .5 .6-4 .6 3.8 .5 0 .6-.6 .6-.2 .5 .1 .6-.5 .6 1 .5 .3 .6-.1 .6-.1 .5-.9 .6 .4 .6-3.3 .5 3.2 .6 .6 .6-.5 .5 0 .6 .2 .6 .4 .5-.4 .6 0 .6-.3 .5 0 .6-.1 .6 1.1 .5-.2 .6-.2 .6 .7 .5-1 .6 .2 .6-.7 .5 .7 .6 .7 .6-1.2 .5 .4 .6 .2"/><path class="d" d="M.9 12.9l.6-.3 .5 .5 .6-.1 .6-.4 .5 .6 .6-.2 .6 .4 .5-3.2 .6 3.1 .6-.6 .5 .5 .6 .2 .6 .1 .5-.3 .6-4.9 .6 4.1 .5 .9 .6-.9 .6 1.1 .5 .1 .6-3.9 .6 3.4 .5 .1 .6-.2 .6 .9 .5-.7 .6-.1 .6-1 .5 .7 .6 .3 .6 .4 .5-.3 .6-.2 .6-.1 .5 .1 .6 .2 .6 .5 .5-.2 .6-.1 .6 .9 .5-.9 .6 .1 .6-.5 .5 .4 .6 .4 .6-1.1 .5 .3 .6 .8"/><path class="k" d="M.8 16.1l0-8.9 1.4 .5 .4 5-1.1-.2 .5 .7 .6 0 .6-.3 .5 .7 .6-.4 .6 .1 .5-.2 .6 .4 .6-.4 .5 .5 .6-.4 .6 .5 .5-.2 .6-.7 .6-.2 .5 .8 .6-.3 .6 .2 .5 .3 .6 .1 .6-.4 .5-.2 .6 .1 .6 .4 .5-.6 .6 .3 .6-.4 .5 .1 .6 0 .6 .6 .5-.6 .6 0 .6 0 .5 0 .6 .2 .6 .4 .5-.2 .6-.1 .6 .9 .5-.9 .6 .1 .6-.3 .5 .4 .6 .3 .6-1 .5 .3 .6 .5 0 2.6-.6 .1-.5-.2-.6 .2-.6 .1-.5-.3-.6 0-.6 .1-.5-.1-.6 0-.6 .3-.5-.1-.6-.1-.6-.1-.5 .3-.6-.2-.6 0-.5 .1-.6 .1-.6-.1-.5-.1-.6 .1-.6-.1-.5 .1-.6 0-.6-.1-.5-.1-.6 0-.6 .1-.5 .1-.6-.1-.6-.2-.5 .3-.6-.1-.6 0-.5 .1-.6-.1-.6 .2-.5-.2-.6 .1-.6 0-.5 0-.6-.1-.6 0-.5 .1-.6-.1-.6 0-.5 .2-.7-.3z"/><use href="#f"/></g>
<g transform="translate(435.3 48.4)" color="#008a00" stroke="none"><use href="#g"/><path class="c" d="M.9 9.7l.6 .1 .5 .7 .6-.1 .6-.2 .5-.3 .6 1.3 .6 .4 .5-1.2 .6 1.3 .6-.1 .5-.1 .6 .3 .6 0 .5-.5 .6 .3 .6 .2 .5 0 .6-.1 .6 0 .5-.6 .6 .9 .6 0 .5-1 .6 .9 .6-.4 .5-.7 .6 .5 .6 .3 .5-1.3 .6 .4 .6-.5 .5 1 .6-.9 .6-.2 .5 1.6 .6 .1 .6-.4 .5 0 .6-.2 .6 .2 .5 .4 .6 .1 .6-1 .5-.1 .6 1.3 .6-1.2 .5 .6 .6-.2 0 2.2-.6-.6-.5-.2-.6 .9-.6-.1-.5-.3-.6 .3-.6-.3-.5-.1-.6-.2-.6 .4-.5 .2-.6-.4-.6 .2-.5-.7-.6-.1-.6 .5-.5 0-.6 .3-.6-.4-.5 .5-.6-.1-.6-.3-.5 .7-.6-.4-.6-.6-.5 1-.6 .3-.6-1.3-.5 .5-.6 .4-.6 0-.5-.3-.6-.2-.6 .2-.5 0-.6-.1-.6 0-.5 .2-.6 0-.6-.5-.5 .5-.6 .3-.6-1.1-.5 .6-.6-.3-.6 .3-.5-.1-.6-.2z"/><path class="d" d="M.9 13l.6 0 .5-2.1 .6 1.7 .6 .6 .5-.7 .6 .8 .6-.2 .5-.4 .6 .5 .6 .4 .5-.6 .6 .2 .6 .3 .5-1.2 .6-1.5 .6 2.5 .5 .2 .6-2.4 .6 2 .5-.6 .6 1.5 .6-.3 .5-3.5 .6 3.2 .6 .3 .5-1.1 .6 .9 .6-.5 .5-.2 .6-1.3 .6 1.4 .5-4.5 .6 4.1 .6-.7 .5 1.3 .6-.8 .6 1.5 .5-.6 .6-.9 .6 .5 .5 .4 .6-.1 .6-.2 .5 .7 .6-.3 .6-.7 .5 0 .6 .8"/><path class="d" d="M.9 12.8l.6 .3 .5 .3 .6-.5 .6 .6 .5-1 .6 1.1 .6-3.2 .5 2.6 .6 .1 .6 .2 .5 .1 .6-.2 .6-.1 .5 0 .6 0 .6-.2 .5 .4 .6 0 .6 .1 .5-2.7 .6 3.1 .6-.5 .5-.4 .6 .6 .6 .3 .5-.7 .6 .3 .6 .1 .5-.8 .6 .5 .6-.3 .5 .2 .6-.4 .6-.1 .5 .4 .6 .1 .6 .5 .5-.2 .6-.4 .6-.1 .5 .5 .6-.5 .6 .3 .5 .2 .6 0 .6-.5 .5 0 .6 .8"/><path class="k" d="M.8 16.1l0-8.9 1.4 .5 .4 5-1.1 .4 .5 .1 .6-.3 .6 .3 .5-.6 .6 1.1 .6-.3 .5-.5 .6 .5 .6 0 .5-.2 .6 0 .6 .1 .5 0 .6-.2 .6 .2 .5 .3 .6 0 .6-.4 .5-.5 .6 1.3 .6-.3 .5-1 .6 .6 .6 .4 .5-.7 .6 .3 .6 .1 .5-.5 .6 .4 .6-.3 .5 0 .6-.5 .6 .1 .5 .7 .6-.2 .6 .4 .5-.2 .6-.4 .6 .2 .5 .1 .6 .3 .6-.3 .5 .3 .6 .1 .6-.9 .5 .2 .6 .6 0 2.7-.6 0-.5-.1-.6 .1-.6 0-.5 0-.6 0-.6-.1-.5 .2-.6-.1-.6 .1-.5-.1-.6 0-.6 .1-.5 0-.6-.2-.6 0-.5 0-.6 .1-.6 .1-.5-.2-.6 .1-.6 .2-.5-.1-.6-.1-.6 0-.5 0-.6 0-.6 .1-.5-.1-.6 .1-.6-.1-.5 0-.6 0-.6 0-.5-.1-.6 .2-.6 0-.5-.3-.6 .3-.6 .1-.5-.2-.6-.2-.6 .1-.5 .2-.6-.3-.6 .2-.5 .1-.7-.2z"/><use href="#f"/></g>
<g transform="translate(476.4 48.4)" color="#008a00" stroke="none"><use href="#g"/><path class="c" d="M.9 8.9l.6 .5 .5 1.4 .6-1 .6 1.1 .5 .5 .6 0 .6 0 .5-.8 .6 .4 .6-.3 .5 1 .6-.3 .6-.3 .5 .8 .6-.8 .6 0 .5 .6 .6-.4 .6 .7 .5-1.4 .6 .7 .6 1.1 .5-1 .6-.9 .6 1.4 .5-1 .6 .1 .6 .4 .5 .7 .6-.8 .6 .5 .5-.8 .6 0 .6-.1 .5-.4 .6 .3 .6 .7 .5-.6 .6 .2 .6 .6 .5-1 .6 1.7 .6-.8 .5 .6 .6-.8 .6 .3 .5-1.2 .6 .3 0 2.3-.6-.5-.5 .6-.6 0-.6 .5-.5-.6-.6 .6-.6-.6-.5 0-.6-.3-.6-.3-.5 .4-.6-.2-.6 .1-.5 .2-.6 .5-.6-.3-.5-.1-.6 .1-.6 .3-.5-.4-.6-.1-.6 .2-.5 .5-.6-1.1-.6 .5-.5 .7-.6-.1-.6-.9-.5 .5-.6 .1-.6 .4-.5-1-.6 .5-.6 .2-.5-.5-.6 .4-.6-.1-.5-.1-.6-.1-.6-.1-.5 .2-.6 .2-.6 0-.5 .1-.6-.1-.6 .1-.5-.6-.6 .4z"/><path class="d" d="M.9 13.3l.6-.4 .5 .8 .6-.5 .6 .5 .5-.1 .6 0 .6-.5 .5-.5 .6 .5 .6-.3 .5 .4 .6 .3 .6-.8 .5-1.7 .6 2.3 .6-.5 .5 1.2 .6-1.2 .6 .2 .5-.1 .6 .9 .6-2.5 .5 1.3 .6-.4 .6-.7 .5 1.7 .6-.8 .6 1 .5-.6 .6 0 .6 .5 .5-.3 .6 0 .6-.5 .5 .5 .6-.7 .6 .6 .5-.4 .6 .3 .6 .5 .5-.1 .6 .6 .6-.8 .5 .7 .6-.9 .6 .6 .5-.7 .6 .5"/><path class="d" d="M.9 13.4l.6-.8 .5 .6 .6 .3 .6-.1 .5-.5 .6 .3 .6 .2 .5-.8 .6 .6 .6 .1 .5 .2 .6 0 .6-.6 .5 .5 .6-.3 .6-.2 .5 .8 .6-.4 .6-.3 .5-.3 .6 .7 .6 .2 .5-.6 .6-.4 .6 .8 .5-.3 .6-.3 .6-.3 .5 1.1 .6-.4 .6 0 .5 0 .6 .1 .6-.6 .5 .2 .6 0 .6 0 .5-.9 .6 .7 .6 .4 .5 0 .6 .7 .6-1.1 .5-3.3 .6 3.8 .6-4.9 .5 4.4 .6 .6"/><path class="k" d="M.8 16.1l0-7.6 1.4 .5 .4 3.7-1.1 .2 .5 .6 .6-.1 .6 .1 .5-.1 .6 0 .6-.2 .5-.2 .6 .1 .6 .1 .5 .1 .6 .1 .6-.4 .5 .5 .6-.2 .6-.5 .5 1 .6-.4 .6-.1 .5-.5 .6 .9 .6 .1 .5-.7 .6-.5 .6 1.1 .5-.5 .6-.2 .6 .1 .5 .4 .6-.3 .6-.1 .5 .1 .6 .3 .6-.5 .5-.2 .6-.1 .6 .2 .5-.4 .6 .3 .6 .3 .5 0 .6 .6 .6-.6 .5 .6 .6-.5 .6 0 .5-.6 .6 .5 0 3-.6 .2-.5-.1-.6 0-.6 .3-.5-.4-.6 .1-.6 0-.5 0-.6 0-.6 .1-.5 0-.6 0-.6 0-.5 0-.6 0-.6 0-.5-.1-.6-.1-.6 .1-.5-.1-.6 0-.6 .1-.5 0-.6 0-.6 .1-.5 0-.6-.2-.6 0-.5-.1-.6 .2-.6 .2-.5-.3-.6 .1-.6-.1-.5 .2-.6 0-.6-.1-.5-.1-.6 0-.6 0-.5 .2-.6-.1-.6-.1-.5 .1-.6-.1-.6 .2-.5-.1-.7-.1z"/><use href="#f"/></g>
<g transform="translate(65.2 75.4)" color="#008a00" stroke="none"><use href="#g"/><path class="c" d="M.9 9.3l.6-1.2 .5 1.9 .6 .6 .6 .1 .5-.2 .6 1.1 .6-.8 .5 .8 .6-.5 .6-.3 .5 .5 .6-.7 .6 .9 .5 .3 .6-.4 .6 .4 .5-.5 .6-.1 .6 .2 .5 .1 .6-.3 .6 .5 .5-.4 .6 0 .6-1 .5 .8 .6 0 .6 .2 .5-.6 .6 .8 .6-.1 .5-.6 .6 .6 .6-.6 .5 1 .6-.4 .6 .5 .5-1.5 .6 .9 .6 0 .5 .4 .6-.7 .6 .7 .5 0 .6-.7 .6 .1 .5 .1 .6 .3 0 1.9-.6-.5-.5 .1-.6-.2-.6 .7-.5-.1-.6-.3-.6 .3-.5-.3-.6-.3-.6 .1-.5 .5-.6-.2-.6-.1-.5 .6-.6-1-.6 .3-.5-.1-.6 .3-.6 .4-.5-.9-.6 .4-.6 .3-.5-.9-.6 .7-.6 0-.5 .1-.6-.1-.6 0-.5-.1-.6-.1-.6-.2-.5 .4-.6 .1-.6-.1-.5 .3-.6-.7-.6 .1-.5 .4-.6-.1-.6 .2-.5-.5-.6 .5-.6-.2-.5 .1-.6 .3-.6-.3-.5-.1-.6 .3z"/><path class="d" d="M.9 13.5l.6-.8 .5 .5 .6 .2 .6 .1 .5-.1 .6-.2 .6-.1 .5 .2 .6-.4 .6 .3 .5-.1 .6-.2 .6 .6 .5-.4 .6 .2 .6-.5 .5 0 .6 .3 .6 .2 .5-.2 .6-3.8 .6 3.8 .5 .2 .6 .1 .6-1.6 .5 1.7 .6-2.4 .6 1 .5 1 .6 .3 .6-.9 .5 .3 .6-.3 .6 1.5 .5-.9 .6 0 .6 .1 .5-.1 .6-.1 .6 .3 .5 .1 .6-.3 .6 .3 .5-.1 .6-.7 .6 .3 .5-.3 .6-2.7"/><path class="d" d="M.9 13.5l.6-.6 .5 .4 .6 .1 .6-.3 .5 .3 .6 0 .6-.5 .5 .5 .6-.1 .6-3.1 .5 2.8 .6-.2 .6 .8 .5-.7 .6 .5 .6-.3 .5-.1 .6-3.1 .6 2.8 .5 .7 .6 0 .6 .1 .5-4.4 .6 3.7 .6-2.4 .5 2.4 .6 .4 .6-.3 .5 .5 .6-.3 .6-.4 .5-.1 .6-.4 .6 1.3 .5-.5 .6 .3 .6-.1 .5-.2 .6 0 .6 .1 .5 .3 .6-.5 .6 .5 .5 .1 .6-.9 .6 .4 .5 .1 .6 .2"/><path class="k" d="M.8 16.1l0-7.5 1.4 .5 .4 3.6-1.1 .5 .5 .1 .6 .3 .6-.3 .5-.1 .6 .2 .6-.5 .5 .5 .6-.2 .6 .1 .5-.4 .6-.1 .6 .7 .5-.3 .6 .1 .6-.1 .5-.4 .6 .2 .6 .1 .5 .1 .6 0 .6 .1 .5-.1 .6 0 .6-.7 .5 .9 .6-.3 .6-.4 .5 .9 .6-.4 .6-.3 .5 .1 .6-.3 .6 1 .5-.6 .6 .1 .6 .2 .5-.5 .6-.1 .6 .3 .5 .3 .6-.3 .6 .3 .5 .1 .6-.7 .6 .2 .5-.1 .6 .5 0 2.8-.6 .1-.5-.1-.6 .1-.6-.1-.5 .1-.6 .1-.6-.2-.5 0-.6-.2-.6 .1-.5 .2-.6-.1-.6 .1-.5 0-.6-.1-.6 .1-.5-.1-.6-.1-.6 .3-.5-.1-.6 0-.6-.1-.5-.1-.6 .1-.6 .2-.5-.2-.6 .2-.6-.1-.5 0-.6-.2-.6-.2-.5 .4-.6 0-.6-.1-.5 0-.6 0-.6 .1-.5-.2-.6 .2-.6 0-.5-.2-.6 .1-.6-.1-.5 .1-.6 .1-.6-.1-.5-.1-.7 0z"/><use href="#f"/></g>
<g transform="translate(106.3 75.4)" color="#008a00" stroke="none"><use href="#g"/><path class="c" d="M.9 9.8l.6 .6 .5-.4 .6 .6 .6 0 .5 .2 .6 .8 .6-1.3 .5 .3 .6 0 .6 .5 .5-.4 .6-.7 .6 1.7 .5-.9 .6 .4 .6-.8 .5 1.4 .6-.9 .6 .4 .5 .6 .6-.7 .6-.1 .5 .4 .6 1.1 .6-.9 .5-.3 .6 .2 .6-.9 .5 1.2 .6-.8 .6-.7 .5 0 .6 1.3 .6-.6 .5 .2 .6-.3 .6 .9 .5 0 .6-.4 .6-.3 .5-.2 .6 .8 .6-.2 .5 .5 .6-.3 .6-1.8 .5 1.3 .6 .1 0 1.8-.6-.4-.5 .4-.6 .4-.6-.2-.5-.3-.6 .1-.6-.2-.5-.4-.6 .9-.6 0-.5-.3-.6-.4-.6 1-.5-1-.6 .5-.6-.1-.5-.3-.6 .2-.6 .1-.5-.5-.6 .5-.6-.5-.5 .5-.6 .7-.6-.5-.5-.1-.6 0-.6 .2-.5-.5-.6-.1-.6 .6-.5-.3-.6-.3-.6 .1-.5 .2-.6-.4-.6 .4-.5 .4-.6-1-.6 .5-.5-.1-.6 .7-.6-.6-.5 .3-.6-.3-.6 .1-.5 .6-.6-.3z"/><path class="d" d="M.9 13.2l.6 .7 .5-.9 .6 .2 .6 .2 .5-.8 .6 .7 .6-.2 .5 .2 .6-.8 .6 1 .5 0 .6-1 .6 .8 .5-.3 .6-.4 .6 .7 .5 .3 .6-.8 .6 .3 .5 .2 .6-.2 .6-4.4 .5 4.2 .6 1 .6-5.5 .5 3.6 .6 1.1 .6-.4 .5 .2 .6 0 .6-.3 .5 .9 .6-.1 .6-.4 .5 .8 .6-.9 .6 .5 .5-4.4 .6 4.7 .6-1.6 .5 .8 .6-1.4 .6 1.4 .5 .6 .6-.6 .6 0 .5-1 .6 1.5"/><path class="d" d="M.9 13.4l.6 .6 .5-1 .6 .3 .6 .3 .5-1.2 .6 1.3 .6-.5 .5-.2 .6-1.1 .6 1.9 .5-.6 .6-.3 .6 .3 .5-.7 .6 .5 .6 .3 .5-.1 .6-.3 .6 0 .5 .5 .6 .1 .6-.6 .5 .4 .6 .8 .6-1.1 .5-.2 .6 .4 .6-.4 .5 .4 .6 0 .6-1 .5 1.2 .6 0 .6-.6 .5 .7 .6-.7 .6-.2 .5 .9 .6-2.8 .6 1.9 .5 .5 .6 .3 .6-.1 .5 .3 .6 0 .6-.4 .5-.2 .6 .1"/><path class="k" d="M.8 16.1l0-7.9 1.4 .5 .4 4-1.1 1.1 .5-.6 .6-.1 .6 .3 .5-.3 .6 .6 .6-.7 .5 .1 .6-.5 .6 1 .5-.4 .6-.4 .6 .4 .5-.2 .6-.1 .6 .3 .5 .3 .6-.6 .6 .1 .5 .5 .6-.2 .6 0 .5 .1 .6 .5 .6-.7 .5-.5 .6 .5 .6-.5 .5 .5 .6-.1 .6-.2 .5 .3 .6 .1 .6-.5 .5 1 .6-1 .6 .4 .5 .3 .6 0 .6-.9 .5 .4 .6 .2 .6-.1 .5 .3 .6 .2 .6-.4 .5-.4 .6 .4 0 3.1-.6 0-.5-.1-.6-.1-.6 0-.5 .1-.6-.1-.6 .2-.5 .1-.6-.2-.6-.1-.5 .1-.6 0-.6 0-.5 0-.6-.1-.6 .2-.5 .1-.6-.3-.6-.1-.5 .2-.6-.1-.6 .2-.5-.1-.6 0-.6 0-.5 0-.6 .1-.6-.1-.5-.2-.6 .4-.6-.3-.5 .3-.6-.3-.6 .2-.5 0-.6-.1-.6 0-.5 .2-.6-.3-.6 .2-.5 0-.6-.1-.6 0-.5 0-.6 .3-.6-.3-.5 0-.7-.1z"/><use href="#f"/></g>
<g transform="translate(147.4 75.4)" color="#008a00" stroke="none"><use href="#g"/><path class="c" d="M.9 8.7l.6 .7 .5-.2 .6 .8 .6 .2 .5 .1 .6 .7 .6 0 .5-1 .6 .6 .6 1.1 .5-.6 .6 .9 .6 0 .5 0 .6-.5 .6-1.6 .5 2.1 .6-1.6 .6-.3 .5 .2 .6 1.3 .6-.4 .5-.7 .6 .8 .6-1 .5 1.3 .6-1.2 .6-.3 .5 .8 .6 .8 .6-1.3 .5-.3 .6 2.1 .6-1.5 .5 .7 .6 .1 .6-.4 .5 .9 .6-1.6 .6 .2 .5 .8 .6-.1 .6-.3 .5 .5 .6-.1 .6-.4 .5 .2 .6 .9 0 1.5-.6-.2-.5-.1-.6-.3-.6 0-.5 .3-.6-.2-.6 .2-.5 .2-.6-.2-.6 .2-.5-.3-.6-.2-.6 .2-.5-.4-.6 .7-.6-.3-.5-.1-.6 .2-.6-.3-.5 0-.6-.2-.6 .5-.5-.3-.6 0-.6-.3-.5 .1-.6 .6-.6 0-.5-.6-.6-.4-.6 1.2-.5-.3-.6 0-.6 .1-.5 .1-.6 0-.6-.4-.5 .8-.6-.7-.6-.2-.5 1.1-.6-1-.6-.1-.5 .3-.6-.2-.6 .1-.5 0-.6 .5z"/><path class="d" d="M.9 13.4l.6-.3 .5 0 .6-.1 .6 .4 .5-.6 .6-4.6 .6 5.8 .5-.9 .6 .3 .6 .5 .5-.7 .6 .3 .6 .3 .5-.6 .6 .2 .6 .1 .5-.1 .6-.9 .6 .3 .5 .3 .6 .3 .6-.4 .5-3 .6 2.7 .6 .5 .5-.2 .6 0 .6 .1 .5-.3 .6 .7 .6-.8 .5-.3 .6 1.2 .6-.7 .5 .2 .6-.5 .6 .6 .5 .5 .6-.8 .6 .8 .5-.6 .6 .2 .6-.1 .5-.1 .6 .2 .6 0 .5-.3 .6 .5"/><path class="d" d="M.9 13.8l.6-.9 .5 .5 .6-.4 .6 .5 .5-.6 .6-2.4 .6 3.8 .5-1.3 .6 .3 .6 .7 .5-.8 .6 .1 .6 .2 .5 0 .6-.1 .6 0 .5-.1 .6-1.2 .6 .7 .5 .7 .6-.2 .6-.7 .5-3.3 .6 3.6 .6 .3 .5 .1 .6-.3 .6-.1 .5-.1 .6 .2 .6 .2 .5-.3 .6 .4 .6-.8 .5 .5 .6-.8 .6 .6 .5 .6 .6-.1 .6 .3 .5-.5 .6-3.2 .6 3.5 .5-.7 .6 .1 .6-.1 .5 .6 .6-.1"/><path class="k" d="M.8 16.1l0-7.9 1.4 .5 .4 4-1.1 .5 .5 0 .6-.1 .6 .2 .5-.3 .6 .1 .6 1 .5-1.1 .6 .2 .6 .7 .5-.8 .6 .4 .6 0 .5-.1 .6-.1 .6 0 .5 .3 .6-1.2 .6 .4 .5 .6 .6 0 .6-.6 .5-.1 .6 .3 .6 0 .5 .3 .6-.5 .6 .2 .5 0 .6 .3 .6-.2 .5 .1 .6 .3 .6-.7 .5 .4 .6-.2 .6 .2 .5 .3 .6-.2 .6 .2 .5-.2 .6-.2 .6 .2 .5-.3 .6 0 .6 .3 .5 .1 .6 .2 0 2.7-.6 0-.5-.1-.6 0-.6 0-.5-.1-.6 .1-.6 .1-.5 .1-.6-.3-.6 .2-.5 0-.6 0-.6-.2-.5 .1-.6 .1-.6 .1-.5-.2-.6 .1-.6 0-.5 0-.6-.1-.6 .1-.5 0-.6 0-.6-.2-.5 0-.6 .2-.6 .1-.5 0-.6-.3-.6 0-.5 .2-.6 .1-.6 0-.5-.3-.6 .2-.6 0-.5-.1-.6-.1-.6 0-.5 .1-.6-.1-.6 .2-.5 0-.6-.1-.6 .1-.5-.2-.7 0z"/><use href="#f"/></g>
<g transform="translate(188.6 75.4)" color="#008a00" stroke="none"><use href="#g"/><path class="c" d="M.9 9.2l.6 1.3 .5-.2 .6-.1 .6 .4 .5 .7 .6 .4 .6-1 .5 .6 .6 .2 .6-.3 .5-.4 .6 1.2 .6-.2 .5-1.3 .6 .5 .6-.7 .5 .7 .6 .5 .6 .3 .5 .6 .6-1.4 .6 .7 .5 0 .6-.7 .6 .4 .5-1.2 .6 .8 .6 .5 .5-.2 .6-.6 .6-.7 .5 .4 .6 1 .6 .5 .5-1.4 .6 .8 .6-1.1 .5 .6 .6 .1 .6 1.4 .5-1.3 .6 .3 .6 .2 .5-.2 .6 .3 .6 .2 .5-1.1 .6-.2 0 2.6-.6-.6-.5 .7-.6 .6-.6-.9-.5 .3-.6 .1-.6 .1-.5 .3-.6-.8-.6 0-.5 0-.6-.2-.6-.1-.5 .8-.6-.7-.6 .1-.5 .2-.6 .4-.6-.7-.5 .8-.6-.4-.6-.1-.5-.1-.6-.1-.6 .5-.5 0-.6-.8-.6 1.2-.5 .1-.6-.5-.6-.4-.5 .1-.6 .4-.6-.2-.5 .6-.6-.4-.6-.8-.5 1.3-.6-.2-.6-.4-.5 0-.6 .7-.6-.7-.5-.2-.6-.3-.6 .9-.5-.1-.6-.5z"/><path class="d" d="M.9 12.7l.6 1.1 .5-.1 .6-.7 .6 .2 .5 .1 .6 .7 .6-.8 .5-.4 .6 1.1 .6-.3 .5-1.1 .6 .7 .6 .3 .5-.2 .6 .3 .6-.5 .5-.2 .6 .6 .6 .3 .5 .1 .6-1.8 .6-.8 .5 1.9 .6-1.3 .6 1 .5-.2 .6 .6 .6 .5 .5-1.6 .6 1 .6 0 .5-.3 .6-.5 .6 .7 .5-.3 .6-.2 .6 .4 .5-.2 .6 .2 .6 .9 .5-.6 .6 0 .6-.2 .5-.2 .6 1.1 .6-1 .5-1 .6 .6"/><path class="d" d="M.9 13.3l.6 .2 .5 .3 .6-.9 .6 .2 .5 .3 .6-3.6 .6 3.4 .5 .2 .6 .4 .6 .2 .5-1.2 .6 .4 .6 .2 .5-.3 .6 .3 .6-.5 .5-.2 .6-.3 .6 1.5 .5-.4 .6-1 .6 .6 .5 .3 .6-.4 .6-.4 .5 .5 .6 .2 .6 .1 .5-.5 .6 .4 .6-.4 .5-.6 .6 .6 .6 .2 .5-1.2 .6 .9 .6-.2 .5 0 .6-.1 .6 1.2 .5-.5 .6-.2 .6 .3 .5-.8 .6 .9 .6-.7 .5-.5 .6 .2"/><path class="k" d="M.8 16.1l0-7.8 1.4 .4 .4 4-1.1 .9 .5 .1 .6-.9 .6 .3 .5 .2 .6 .7 .6-.7 .5 0 .6 .4 .6 .2 .5-1.3 .6 .8 .6 .4 .5-.6 .6 .2 .6-.4 .5-.1 .6 .4 .6 .5 .5-.1 .6-1.2 .6 .8 .5 0 .6-.5 .6 .1 .5 .1 .6 .1 .6 .4 .5-.8 .6 .7 .6-.4 .5-.2 .6-.1 .6 .7 .5-.8 .6 .1 .6 .2 .5 0 .6 0 .6 .8 .5-.3 .6-.1 .6-.1 .5-.3 .6 .9 .6-.6 .5-.7 .6 .6 0 3-.6 .1-.5-.1-.6 .1-.6 0-.5 .1-.6 0-.6 0-.5 0-.6 .1-.6-.2-.5 0-.6 .1-.6-.2-.5 .2-.6-.2-.6 .1-.5 .1-.6 0-.6-.1-.5-.1-.6 .1-.6 .2-.5-.2-.6 .2-.6-.3-.5 .1-.6 .1-.6-.1-.5 .2-.6-.3-.6 .2-.5-.1-.6-.1-.6 .2-.5-.1-.6 0-.6 0-.5 0-.6-.1-.6 .2-.5-.2-.6 0-.6 .3-.5-.1-.6 .1-.6-.2-.5 .2-.7-.3z"/><use href="#f"/></g>
<g transform="translate(229.7 75.4)" color="#008a00" stroke="none"><use href="#g"/><path class="c" d="M.9 8.6l.6 .7 .5-.3 .6 .5 .6 1.3 .5 .1 .6-.1 .6 .6 .5-.6 .6 .1 .6 .7 .5-.2 .6 .3 .6 0 .5-.5 .6-.3 .6 .4 .5 .3 .6 .4 .6-.5 .5-.6 .6 .5 .6 .3 .5-.1 .6-.2 .6 .8 .5-1.4 .6 .1 .6 .4 .5-.4 .6 1.2 .6-.5 .5-.4 .6 0 .6 .2 .5 .4 .6-.5 .6 0 .5-.2 .6 .7 .6-.4 .5 .1 .6-.1 .6-1 .5 1.2 .6 .1 .6-.4 .5-.1 .6-.3 0 2.2-.6 .3-.5-.2-.6 .1-.6 .2-.5-.6-.6 .4-.6-.1-.5-.2-.6 .3-.6-.1-.5 .2-.6 .1-.6-.1-.5-.1-.6-.2-.6 .4-.5-.4-.6 .6-.6-.7-.5-.1-.6 .3-.6-.2-.5 .6-.6-.2-.6 .6-.5-.8-.6-.1-.6-.4-.5 .7-.6 .3-.6-.4-.5-.3-.6 .3-.6-.3-.5 .2-.6-.1-.6 .5-.5-.5-.6 .3-.6-.3-.5 .4-.6-.4-.6 0-.5 .2-.6 0-.6-.7-.5 1-.6-.3z"/><path class="d" d="M.9 13.4l.6-.5 .5-.5 .6 1 .6-.2 .5-.1 .6-.3 .6-1.7 .5 2 .6 .4 .6-.1 .5 .3 .6-.6 .6 0 .5-.3 .6 .7 .6-.8 .5 .5 .6 .1 .6-.3 .5-.5 .6 .8 .6-.1 .5 .9 .6-.6 .6 .1 .5-.8 .6 .4 .6-.3 .5-.4 .6 1.4 .6-.6 .5 .2 .6-.3 .6 .1 .5-.2 .6-2.8 .6 3.1 .5-.1 .6-.1 .6-.9 .5 .4 .6 .5 .6-.1 .5-3 .6 3.4 .6-3.5 .5 3.2 .6-.1"/><path class="d" d="M.9 13.3l.6 .2 .5-1.7 .6 1.5 .6-.3 .5-.2 .6 0 .6 .3 .5 .1 .6 .5 .6-1.3 .5 1.3 .6-.7 .6 .4 .5-.9 .6 .8 .6 0 .5-.1 .6 .3 .6 0 .5-.6 .6 .1 .6 .2 .5 1 .6-.7 .6 .2 .5-.7 .6-.2 .6-.3 .5 .5 .6 .7 .6-3.2 .5 2.8 .6-.3 .6 0 .5 .4 .6 .1 .6 0 .5-.3 .6 .1 .6-.2 .5-.3 .6 .5 .6-.5 .5 .1 .6 .6 .6-.2 .5 0 .6-.8"/><path class="k" d="M.8 16.1l0-7.8 1.4 .5 .4 3.9-1.1 .9 .5-1 .6 .7 .6 0 .5-.2 .6 0 .6 .4 .5-.4 .6 .3 .6-.3 .5 .5 .6-.5 .6 .1 .5-.2 .6 .3 .6-.3 .5 .3 .6 .4 .6-.3 .5-.7 .6 .4 .6 .1 .5 .8 .6-.6 .6 .2 .5-.6 .6 .2 .6-.3 .5 .1 .6 .7 .6-.6 .5 .4 .6-.4 .6 .2 .5 .1 .6 .1 .6-.1 .5-.2 .6 .1 .6-.3 .5 .2 .6 .1 .6-.4 .5 .6 .6-.2 .6-.1 .5 .2 .6-.3 0 3.3-.6-.3-.5 .3-.6-.2-.6-.1-.5 .4-.6-.3-.6 .1-.5-.1-.6 .1-.6-.1-.5 0-.6 .2-.6-.2-.5 0-.6-.1-.6 0-.5 .2-.6-.1-.6 0-.5-.1-.6 0-.6 0-.5 .2-.6-.2-.6 0-.5 0-.6 .1-.6 0-.5 .1-.6 .1-.6-.4-.5 .1-.6 .1-.6 0-.5 .1-.6 0-.6-.2-.5 0-.6 .1-.6 .1-.5 .1-.6-.1-.6 0-.5-.1-.6 .1-.6 0-.5-.1-.7-.1z"/><use href="#f"/></g>
<g transform="translate(270.8 75.4)" color="#008a00" stroke="none"><use href="#g"/><path class="c" d="M.9 8.1l.6 1.8 .5 .2 .6-.5 .6 1.4 .5-1.6 .6 1.4 .6 .4 .5-.3 .6-.1 .6-.2 .5 .6 .6-.8 .6-.1 .5 1.8 .6 .3 .6-1.9 .5 1.7 .6-1 .6 .4 .5 0 .6 .1 .6 .3 .5-1.1 .6 .7 .6-1 .5 1.5 .6-.3 .6-1 .5 1 .6-.8 .6-.4 .5 1.8 .6-.5 .6-1.2 .5-.3 .6 1 .6 .4 .5-.7 .6 .5 .6 .4 .5-.6 .6 .2 .6-.4 .5 1 .6-.8 .6-.5 .5 .6 .6 .2 0 1.6-.6-.4-.5 .2-.6-.2-.6 .8-.5-.5-.6-.1-.6-.1-.5 .5-.6-.2-.6-.1-.5 0-.6-.4-.6 0-.5 .7-.6-.2-.6 .4-.5-.8-.6 .4-.6-.1-.5 0-.6-.1-.6 .6-.5-1.1-.6 .5-.6 0-.5 .3-.6-.4-.6 .3-.5-.3-.6 .5-.6 .3-.5-1.6-.6 1.6-.6-.2-.5-.6-.6-.2-.6 .1-.5-.2-.6 .6-.6-.3-.5 .1-.6 .1-.6-.1-.5 .5-.6-.6-.6 0-.5 .1-.6-.1z"/><path class="d" d="M.9 12.7l.6 .5 .5-.7 .6 .4 .6 .8 .5-.8 .6 .4 .6-.7 .5 .1 .6 .7 .6-.8 .5 0 .6 .3 .6 .3 .5 .5 .6 .1 .6-1.5 .5 1.5 .6-.5 .6-.3 .5 .4 .6-.3 .6 0 .5 .2 .6-.4 .6-.2 .5 1.1 .6-.6 .6-.1 .5 .2 .6 0 .6-.6 .5 .6 .6 .2 .6 0 .5-1 .6 .2 .6 .7 .5 0 .6-.2 .6 .3 .5-.6 .6 .2 .6-2.5 .5 3.2 .6-1.1 .6 .4 .5 0 .6 .1"/><path class="d" d="M.9 13l.6 .3 .5-.3 .6-.2 .6 .8 .5-.4 .6-.1 .6 0 .5-.3 .6 .1 .6 0 .5-2.2 .6 2.2 .6 .1 .5-.2 .6 1 .6-1.8 .5 1.4 .6 0 .6-.7 .5 .7 .6-.7 .6 .5 .5 .1 .6 0 .6-1.4 .5 .2 .6-3.8 .6 4.9 .5 0 .6 .1 .6-1.3 .5 1.7 .6-.3 .6-.6 .5-.2 .6-.2 .6 .9 .5 .1 .6-.7 .6 .3 .5-.5 .6 .7 .6 .2 .5 .2 .6-.5 .6 0 .5-.3 .6 .7"/><path class="k" d="M.8 16.1l0-8.6 1.4 .4 .4 4.8-1.1 .4 .5-.1 .6 0 .6 .6 .5-.5 .6 .1 .6-.1 .5-.1 .6 .3 .6-.6 .5 .2 .6-.1 .6 .2 .5 .6 .6 .2 .6-1.6 .5 1.6 .6-.3 .6-.5 .5 .3 .6-.3 .6 .4 .5-.3 .6 0 .6-.5 .5 1.1 .6-.6 .6 .1 .5 0 .6 .1 .6-.4 .5 .8 .6-.4 .6 .2 .5-.7 .6 0 .6 .4 .5 0 .6 .1 .6 .2 .5-.5 .6 .1 .6 .1 .5 .5 .6-.8 .6 .2 .5-.2 .6 .4 0 2.8-.6 .1-.5 0-.6 0-.6-.1-.5 .2-.6-.2-.6 .2-.5 0-.6 0-.6-.1-.5 0-.6 .1-.6-.1-.5-.1-.6 0-.6 .2-.5 0-.6 .2-.6-.3-.5 .2-.6-.1-.6-.2-.5 .3-.6-.2-.6 .1-.5-.1-.6 0-.6 0-.5 .1-.6-.2-.6 .2-.5 0-.6 0-.6-.1-.5 .1-.6 0-.6-.1-.5 .1-.6 0-.6-.1-.5 0-.6 0-.6-.1-.5 .2-.6-.2-.6 .2-.5 0-.7-.2z"/><use href="#f"/></g>
<g transform="translate(311.9 75.4)" color="#008a00" stroke="none"><use href="#g"/><path class="c" d="M.9 9l.6 .8 .5-.5 .6 .9 .6 .7 .5 .8 .6-1.7 .6 1.2 .5 .7 .6-1.3 .6 .9 .5-1.1 .6 .9 .6 .1 .5 .3 .6-.2 .6 .2 .5 0 .6-.5 .6 .1 .5-.8 .6 1 .6 .4 .5-1.1 .6 .4 .6-.3 .5 .5 .6 .4 .6-1.2 .5 .8 .6 .7 .6 0 .5-1.3 .6 1 .6 .6 .5-.6 .6-1.4 .6 1.5 .5-1.3 .6 .6 .6 .5 .5-1.2 .6 1.5 .6-.8 .5 .9 .6-.8 .6-.9 .5 1.7 .6-.4 0 1.3-.6 .6-.5-.9-.6 .5-.6 .3-.5-.3-.6 .3-.6-.4-.5 .2-.6-.1-.6-.7-.5 1-.6-.3-.6-.1-.5 1-.6-.9-.6 0-.5 .1-.6 .1-.6-.4-.5-.1-.6 .7-.6-.6-.5 .1-.6 .1-.6-.4-.5 .4-.6-.1-.6 .2-.5-.5-.6 .4-.6 .2-.5 .1-.6 .1-.6-.2-.5 .4-.6-.5-.6-.1-.5 .3-.6-.4-.6 .6-.5-.2-.6-.5-.6 .7-.5-.3-.6-.2-.6-.6-.5 .9-.6-.7z"/><path class="d" d="M.9 13l.6-.2 .5-.1 .6-.2 .6-3.8 .5 5.1 .6-.6 .6-.1 .5 .8 .6-1.2 .6 .9 .5-.4 .6 .1 .6 .4 .5-.5 .6 .5 .6-.2 .5 0 .6-.8 .6-.2 .5 .7 .6-.5 .6 .7 .5-.6 .6 .6 .6-.7 .5 .3 .6 .1 .6-.5 .5 .3 .6 .5 .6-.2 .5-3.7 .6 3.9 .6 .6 .5-1.4 .6-2.8 .6 3.6 .5-.7 .6 .6 .6-.2 .5-.2 .6 .1 .6 .3 .5-.2 .6 .1 .6-.5 .5 1 .6-1.1"/><path class="d" d="M.9 12.4l.6 1.1 .5-.9 .6 .6 .6 .4 .5 .2 .6-.9 .6 .4 .5 .3 .6-.5 .6 .1 .5 .2 .6 0 .6 .5 .5-.4 .6-4.6 .6 4.8 .5-.3 .6-.2 .6-.7 .5 .6 .6 .2 .6 0 .5-.5 .6 0 .6 .1 .5 .1 .6 .6 .6-1 .5 0 .6 .6 .6-.1 .5-.2 .6 .4 .6 .7 .5-.8 .6 .1 .6-.2 .5-.8 .6 .2 .6-3.7 .5 4.1 .6 .6 .6-.4 .5 .4 .6-.4 .6-.7 .5 1.3 .6-.7"/><path class="k" d="M.8 16.1l0-8.8 1.4 .5 .4 4.9-1.1 .8 .5-.9 .6 .6 .6 .2 .5 .3 .6-.7 .6 .5 .5 .2 .6-.6 .6 .4 .5-.3 .6 .1 .6 .5 .5-.4 .6 .2 .6-.1 .5-.1 .6-.2 .6-.4 .5 .5 .6-.2 .6 .1 .5-.4 .6 .4 .6-.1 .5-.1 .6 .6 .6-.7 .5 .1 .6 .4 .6-.1 .5-.1 .6 0 .6 .9 .5-1 .6 .1 .6 .3 .5-1 .6 .7 .6 .1 .5-.2 .6 .4 .6-.3 .5 .3 .6-.3 .6-.5 .5 .9 .6-.6 0 3.3-.6-.1-.5 .1-.6 .2-.6-.2-.5-.1-.6-.1-.6 .2-.5 .1-.6-.2-.6-.2-.5 .2-.6 0-.6-.1-.5 .1-.6 0-.6-.1-.5 .1-.6 0-.6 .1-.5-.1-.6 .2-.6-.1-.5-.1-.6 0-.6 .2-.5-.1-.6-.2-.6 .1-.5-.1-.6 .2-.6 0-.5-.2-.6 0-.6 .2-.5-.1-.6 0-.6 0-.5 0-.6-.1-.6 .1-.5 .1-.6 0-.6 0-.5-.2-.6 .1-.6 .1-.5-.3-.7 .1z"/><use href="#f"/></g>
<g transform="translate(353 75.4)" color="#008a00" stroke="none"><use href="#g"/><path class="c" d="M.9 8.5l.6 1.4 .5-.2 .6 .1 .6 .9 .5-.5 .6 .5 .6-.7 .5 1.4 .6 .3 .6-.2 .5-.4 .6 .4 .6-.1 .5-.1 .6-.1 .6 .6 .5-.2 .6 .2 .6 .2 .5-.8 .6-1.2 .6 1.4 .5 .5 .6-.5 .6-1 .5 1.6 .6-1.7 .6-.2 .5 1.5 .6 .1 .6 0 .5-.7 .6 .1 .6 .2 .5 .7 .6-.3 .6-.5 .5 .1 .6-1.6 .6 2.2 .5-.2 .6 0 .6-.3 .5-.5 .6-.5 .6 1.5 .5-.2 .6 .1 0 1.5-.6-.1-.5 .3-.6-.4-.6-.2-.5-.1-.6 .9-.6-.3-.5-.1-.6-.4-.6 .2-.5-.4-.6 1.3-.6-.5-.5-.4-.6-.2-.6 .4-.5 .4-.6-.4-.6 .1-.5-.1-.6-.7-.6 .9-.5 .1-.6-.7-.6 .3-.5-.3-.6-.2-.6 .2-.5 .6-.6-.2-.6-.2-.5 .2-.6-.4-.6 .8-.5-.4-.6 .3-.6-.9-.5 .7-.6 .3-.6 0-.5-.5-.6 .4-.6-.4-.5 .3-.6-.4-.6 0-.5 .3-.6-.6z"/><path class="d" d="M.9 12.7l.6 .8 .5-.7 .6 .1 .6 .6 .5-.2 .6 .5 .6-.7 .5 .3 .6 .3 .6-5 .5 3.4 .6 .7 .6 .7 .5-2.1 .6 1.3 .6 .5 .5-.2 .6 .5 .6 .3 .5-.7 .6-.4 .6 .2 .5 .5 .6-.3 .6 .4 .5-.1 .6-1.4 .6 1.2 .5 .2 .6-.2 .6 .6 .5-.4 .6-.4 .6-.1 .5 .7 .6 .1 .6-.9 .5-.2 .6 .6 .6 0 .5 .3 .6-.6 .6-.5 .5 .2 .6 .5 .6 .2 .5-1.8 .6 1.9"/><path class="d" d="M.9 12.9l.6 .3 .5-.1 .6 .1 .6 .4 .5-.4 .6 .3 .6-.4 .5 .4 .6 .4 .6-.3 .5-.7 .6 .9 .6-1.2 .5 1.2 .6-.8 .6 .6 .5-.6 .6 .3 .6 0 .5-.4 .6-.6 .6 .4 .5 .6 .6-.3 .6 .6 .5-.3 .6-.7 .6 .7 .5 0 .6 0 .6 .5 .5-2.4 .6 1.2 .6 .4 .5 .3 .6 .8 .6-1.8 .5 .9 .6 0 .6-.2 .5 .6 .6 .1 .6-1.7 .5 1.1 .6-.3 .6 .8 .5-.5 .6 0"/><path class="k" d="M.8 16.1l0-8.2 1.4 .5 .4 4.3-1.1 .7 .5-.3 .6 0 .6 .4 .5-.3 .6 .4 .6-.4 .5 .5 .6 0 .6-.3 .5-.7 .6 .9 .6-.3 .5 .4 .6-.8 .6 .4 .5-.2 .6 .2 .6 .2 .5-.6 .6-.2 .6 .2 .5 .3 .6-.3 .6 .7 .5-.1 .6-.9 .6 .7 .5 .1 .6-.1 .6 .4 .5-.4 .6-.4 .6 .2 .5 .4 .6 .5 .6-1.3 .5 .4 .6-.2 .6 .4 .5 .1 .6 .3 .6-.9 .5 .1 .6 .2 .6 .4 .5-.3 .6 .1 0 3.1-.6-.2-.5 .1-.6 0-.6 0-.5 0-.6 0-.6 0-.5 0-.6-.1-.6 .1-.5-.1-.6 .1-.6 0-.5-.4-.6 .2-.6 .2-.5 .1-.6-.2-.6 .1-.5 0-.6-.1-.6-.2-.5 .2-.6-.1-.6 .2-.5 0-.6-.1-.6 .1-.5-.1-.6 .1-.6-.2-.5-.1-.6 .3-.6-.2-.5 .3-.6-.2-.6 .1-.5-.1-.6-.3-.6 .4-.5-.1-.6 0-.6 .1-.5-.1-.6 0-.6 .1-.5 0-.7-.2z"/><use href="#f"/></g>
<g transform="translate(394.2 75.4)" color="#0000ff" stroke="none"><use href="#g"/><path class="c" d="M.9 9.9l.6-.1 .5 .4 .6-1 .6 1.3 .5 0 .6 .4 .6 0 .5 0 .6-.1 .6-.8 .5 1.1 .6 0 .6 .9 .5-.3 .6-.5 .6-.2 .5 .4 .6 .1 .6 .2 .5 0 .6 .6 .6-.9 .5-.6 .6 .6 .6 1 .5-.5 .6-.5 .6-.9 .5 .1 .6 .9 .6-.5 .5-.1 .6 1.2 .6-.5 .5 .5 .6-1.3 .6 .5 .5-.3 .6 0 .6 .8 .5 1 .6-1 .6-1.5 .5 .6 .6 .6 .6 .4 .5 0 .6-.9 0 1.6-.6 .8-.5 0-.6-.2-.6 0-.5-.3-.6 .3-.6 .9-.5-.8-.6-.8-.6 .7-.5 0-.6 .1-.6 .3-.5 .1-.6-.2-.6-.8-.5 .6-.6-.1-.6-.2-.5 .1-.6 .2-.6 0-.5 .7-.6-.8-.6 .1-.5-.4-.6 1.1-.6-.6-.5-.4-.6-.1-.6 .5-.5-.2-.6-.3-.6 .2-.5 .3-.6-.5-.6 0-.5-.4-.6 .4-.6-.1-.5 .9-.6-.7-.6 0-.5 .6-.6-1.1-.6 .7-.5-.1-.6-.3z"/><path class="d" d="M.9 12.9l.6 .4 .5-.1 .6-.6 .6 1.1 .5-.5 .6-.3 .6 .4 .5-.3 .6 .1 .6-.8 .5-.2 .6 .4 .6 .8 .5-.4 .6-3 .6 3.5 .5 0 .6-.9 .6 .7 .5-.2 .6 .8 .6-.7 .5-.1 .6 .2 .6 .8 .5-.8 .6-3.8 .6 3.4 .5-.4 .6 1 .6-.2 .5-.6 .6 .9 .6 .2 .5-.3 .6 0 .6 0 .5-.2 .6-1.2 .6 1.5 .5 .2 .6-1.1 .6 .3 .5 0 .6 .1 .6 .3 .5 .2 .6-.9"/><path class="d" d="M.9 12.8l.6 .4 .5-.2 .6-.2 .6 .9 .5-.5 .6-.1 .6 .2 .5-.3 .6-.3 .6-.1 .5-.6 .6 .8 .6 .6 .5-1.3 .6 .7 .6 .4 .5-3.8 .6 3.7 .6-.2 .5 .6 .6 .5 .6-1.2 .5 .7 .6-5 .6 5 .5-.4 .6-.2 .6 0 .5-.4 .6 .6 .6 .2 .5-.4 .6 .7 .6-.3 .5 .2 .6-.5 .6-.1 .5 0 .6-.2 .6 .8 .5 .6 .6-1.1 .6 0 .5-.1 .6 .5 .6 0 .5-.4 .6-.3"/><path class="k" d="M.8 16.1l0-7.8 1.4 .5 .4 3.9-1.1 .4 .5 .1 .6-.7 .6 1.1 .5-.6 .6 0 .6 .7 .5-.9 .6 .1 .6-.4 .5 .4 .6 0 .6 .5 .5-.3 .6-.2 .6 .3 .5 .2 .6-.5 .6 .1 .5 .4 .6 .6 .6-1.1 .5 .4 .6-.1 .6 .8 .5-.7 .6 0 .6-.2 .5-.1 .6 .2 .6 .1 .5-.6 .6 .8 .6 .2 .5-.1 .6-.3 .6-.1 .5 0 .6-.7 .6 .8 .5 .8 .6-.9 .6-.3 .5 .3 .6 0 .6 .2 .5 0 .6-.8 0 3.7-.6-.1-.5 0-.6 .2-.6-.3-.5 .2-.6-.1-.6 0-.5 0-.6-.1-.6 0-.5 .2-.6 .1-.6-.1-.5-.2-.6-.1-.6 .1-.5 .3-.6-.1-.6-.1-.5 0-.6 0-.6 .3-.5-.1-.6-.2-.6 0-.5 .1-.6 .2-.6-.1-.5 .1-.6-.2-.6 .1-.5-.1-.6 .1-.6-.3-.5 .2-.6 0-.6-.2-.5 .2-.6-.1-.6 0-.5 .1-.6-.1-.6-.2-.5 .3-.6-.1-.6-.1-.5 .2-.7-.2z"/><use href="#f"/></g>
<g transform="translate(435.3 75.4)" color="#0000ff" stroke="none"><use href="#g"/><path class="c" d="M.9 9.3l.6 1.3 .5-.9 .6-.5 .6 1.8 .5 .1 .6-.4 .6-.4 .5 .5 .6 .9 .6-.4 .5-.1 .6 .7 .6-.9 .5-.3 .6 .5 .6 .1 .5 .1 .6 .3 .6-1.2 .5 .2 .6 .3 .6 .9 .5-.2 .6-.1 .6-.7 .5-.1 .6 .4 .6 .1 .5 .7 .6-.7 .6 .8 .5-.3 .6-1.2 .6 .6 .5-.1 .6 .3 .6 0 .5-.1 .6 .3 .6 .1 .5-1.3 .6 .9 .6 .5 .5 0 .6-1.1 .6 1.4 .5-1.9 .6 1.5 0 1.5-.6 0-.5 .2-.6-.3-.6 0-.5 .1-.6-.3-.6 .4-.5-.1-.6-.1-.6 0-.5 .5-.6-.2-.6 0-.5-.1-.6-.6-.6 1.1-.5-.3-.6-.4-.6 .4-.5-.8-.6 .3-.6-.1-.5 .1-.6 .7-.6-.7-.5 .4-.6-.2-.6-.7-.5 1.2-.6-.4-.6-.2-.5-.1-.6-.1-.6 .7-.5-.4-.6 .4-.6-.7-.5 .7-.6-.3-.6-.2-.5 .2-.6-.5-.6 .4-.5 .4-.6-.5-.6 .4-.5 0-.6-.6z"/><path class="d" d="M.9 12.9l.6 .1 .5-1.7 .6 2 .6 0 .5-.3 .6-.2 .6 .7 .5-.3 .6-1.4 .6 2 .5-.9 .6 .4 .6-.1 .5-.1 .6-.3 .6 .1 .5 0 .6 .4 .6 .2 .5-1.6 .6 1 .6 .5 .5-.5 .6 .3 .6-.4 .5 .1 .6-.2 .6-.3 .5 1.3 .6-2.6 .6 2.5 .5 .3 .6-1.2 .6 .4 .5-4.4 .6 4.8 .6 .1 .5-.3 .6-.3 .6 .5 .5 0 .6-1.2 .6 1 .5-.4 .6 .1 .6 .1 .5-.4 .6 .5"/><path class="d" d="M.9 12.7l.6 .7 .5 0 .6-.5 .6 .6 .5-.1 .6-4.5 .6 4.1 .5 0 .6 .2 .6 .4 .5-.8 .6 .7 .6-.2 .5 .2 .6-.6 .6-.2 .5 .2 .6-.1 .6 .7 .5-1.2 .6 .6 .6 .6 .5-.4 .6 .3 .6-.6 .5-.3 .6 0 .6 .3 .5 .8 .6-4.3 .6 3.2 .5 1.3 .6-1 .6 .6 .5-.2 .6 0 .6 0 .5-.2 .6 .2 .6 .2 .5-.2 .6-3.3 .6 3 .5 .1 .6 .3 .6-.3 .5 .4 .6 0"/><path class="k" d="M.8 16.1l0-8.6 1.4 .5 .4 4.7-1.1 .8 .5 0 .6-.4 .6 .5 .5-.4 .6-.4 .6 .5 .5-.2 .6 .2 .6 .3 .5-.7 .6 .7 .6-.4 .5 .4 .6-.7 .6 .1 .5 .1 .6 .2 .6 .4 .5-1.2 .6 .7 .6 .2 .5-.4 .6 .7 .6-.7 .5-.1 .6 .1 .6-.3 .5 .8 .6-.4 .6 .4 .5 .3 .6-1.1 .6 .6 .5 .1 .6 0 .6 .2 .5-.5 .6 0 .6 .1 .5 .1 .6-.4 .6 .3 .5-.1 .6 0 .6 .3 .5-.2 .6 0 0 3-.6 .1-.5-.1-.6 0-.6 .1-.5-.1-.6 0-.6 0-.5 0-.6 0-.6 0-.5 .1-.6 0-.6-.2-.5 .1-.6 .1-.6-.3-.5 .1-.6 .3-.6-.3-.5 .1-.6 0-.6 0-.5 .1-.6-.1-.6 0-.5-.1-.6 .1-.6-.2-.5 .2-.6 .1-.6 .1-.5 0-.6 0-.6-.2-.5 0-.6 .2-.6-.2-.5-.1-.6 .2-.6-.2-.5 .2-.6 0-.6-.1-.5 .2-.6-.2-.6-.1-.5 0-.7 0z"/><use href="#f"/></g>
<g transform="translate(476.4 75.4)" color="#0000ff" stroke="none"><use href="#g"/><path class="c" d="M.9 8.6l.6 1.6 .5-.8 .6 1.2 .6-.3 .5-.1 .6-.1 .6 1 .5-.5 .6-.1 .6-.4 .5 1.6 .6 0 .6-.2 .5-1 .6 1.2 .6-.6 .5 .6 .6 .1 .6-1 .5 .7 .6 .2 .6-.2 .5-.1 .6-1.1 .6 1.3 .5-.3 .6 .3 .6-1 .5 .4 .6-.2 .6 .4 .5 .3 .6 .4 .6 .2 .5-.5 .6 .2 .6 .1 .5-.2 .6-.6 .6 .5 .5-.1 .6 .6 .6 0 .5-.2 .6-.1 .6-1.3 .5-.1 .6 1.8 0 1.4-.6-.2-.5-.5-.6 .4-.6 .1-.5-.1-.6 .2-.6-.1-.5 .2-.6-.7-.6 .1-.5 .2-.6 .5-.6-.1-.5-.1-.6-.2-.6 .4-.5-.8-.6 .2-.6-.1-.5-.3-.6 .3-.6 .2-.5-.3-.6 .2-.6 .4-.5-.4-.6-.1-.6-.1-.5 .2-.6 .2-.6-.3-.5-.3-.6 .4-.6 0-.5 .3-.6-.2-.6 .2-.5-.3-.6 .2-.6-.4-.5 .5-.6-.8-.6 .8-.5 .6-.6-.4-.6-.7-.5 .3-.6 0z"/><path class="d" d="M.9 13.2l.6-.2 .5 .1 .6 .3 .6 .8 .5-1 .6-.6 .6-3.9 .5 1.2 .6 3.1 .6-.3 .5 .5 .6 0 .6 .1 .5-.5 .6 .5 .6-.4 .5 .3 .6 .2 .6-.5 .5 .2 .6-.1 .6 0 .5 .3 .6-.1 .6-1.1 .5 1.3 .6-.4 .6-.4 .5 .6 .6-.5 .6-.3 .5 1.2 .6-.1 .6-.1 .5 .4 .6-.7 .6-.5 .5 .6 .6-.1 .6 .6 .5-.2 .6-.3 .6 .3 .5-.2 .6 .2 .6-.5 .5-.2 .6 .6"/><path class="d" d="M.9 13.4l.6-.5 .5 .1 .6 .6 .6 .3 .5-4.1 .6 2.7 .6 .9 .5-.5 .6 .4 .6-.2 .5 .4 .6-.1 .6 .1 .5-.7 .6 .1 .6-.3 .5-.2 .6 .6 .6-.3 .5 .2 .6 0 .6 0 .5 .4 .6-.2 .6 0 .5-3.6 .6 .2 .6 3 .5 .3 .6 .3 .6-.3 .5 .5 .6-.2 .6 .4 .5-.1 .6-.6 .6 .4 .5-.3 .6-.6 .6 1.3 .5-4.7 .6 4.3 .6-.2 .5-.2 .6 .5 .6-.5 .5-1.8 .6 2.3"/><path class="k" d="M.8 16.1l0-8.9 1.4 .5 .4 5-1.1 .5 .5-.3 .6 .7 .6 .4 .5-.6 .6-.8 .6 .8 .5-.5 .6 .4 .6-.2 .5 .3 .6-.2 .6 .2 .5-.3 .6 0 .6-.4 .5 .3 .6 .3 .6-.2 .5-.2 .6 .1 .6 .1 .5 .4 .6-.4 .6-.2 .5 .3 .6-.2 .6-.3 .5 .3 .6 .1 .6-.2 .5 .8 .6-.4 .6 .2 .5 .1 .6 .1 .6-.5 .5-.2 .6-.1 .6 .7 .5-.2 .6 .1 .6-.2 .5 .1 .6-.1 .6-.4 .5 .5 .6 .2 0 2.5-.6 0-.5 0-.6 .2-.6-.1-.5 0-.6 .1-.6-.1-.5-.1-.6 0-.6 .2-.5-.2-.6 0-.6 .1-.5 0-.6 0-.6 .1-.5 0-.6-.1-.6 0-.5-.1-.6 .3-.6-.3-.5 .2-.6-.1-.6 .1-.5 0-.6-.2-.6 .1-.5-.1-.6 0-.6 .2-.5 0-.6-.1-.6 .2-.5-.2-.6 .1-.6 0-.5-.1-.6 .1-.6-.1-.5 .3-.6-.4-.6 .1-.5 .1-.6 .1-.6-.2-.5 .1-.7-.2z"/><use href="#f"/></g>
<g transform="translate(65.2 102.4)" color="#008a00" stroke="none"><use href="#g"/><path class="c" d="M.9 8.2l.6 1.4 .5-.7 .6 1.7 .6-.3 .5 1.5 .6-1.4 .6 1.1 .5-.2 .6 .1 .6 0 .5-.5 .6-.1 .6 1 .5-.5 .6 .3 .6 .2 .5-.3 .6-.7 .6 .9 .5-.6 .6 .5 .6 .3 .5-.8 .6 .7 .6 .3 .5-.4 .6-.2 .6-.5 .5 .8 .6 0 .6-.6 .5 .2 .6 .4 .6-.1 .5-.5 .6 .2 .6-.5 .5 .6 .6 .1 .6-1 .5 .1 .6 0 .6 .5 .5 .9 .6-.9 .6 .2 .5 .2 .6 .1 0 1.3-.6 .7-.5 0-.6-.5-.6 .3-.5-.4-.6-.4-.6 .4-.5 .6-.6-.1-.6-.1-.5-.3-.6-.4-.6 .1-.5 .4-.6-.2-.6 0-.5 .1-.6 .2-.6-.3-.5-.1-.6 .3-.6 .4-.5-.2-.6-.4-.6 .1-.5 .1-.6 0-.6 .2-.5-.4-.6-.3-.6 .6-.5 .1-.6-.6-.6 .1-.5 .5-.6-.3-.6-.2-.5 .1-.6 .3-.6-.1-.5 .5-.6-.8-.6 .7-.5-.2-.6 0-.6-.2-.5-.6-.6-.1z"/><path class="d" d="M.9 12.6l.6 .1 .5-3.6 .6 4.6 .6 0 .5 0 .6-.9 .6 1.2 .5-.9 .6 .2 .6-.1 .5-2.3 .6 2 .6 .8 .5-.9 .6 .3 .6 .3 .5-.3 .6-.2 .6-.1 .5 .8 .6-.2 .6-.2 .5 .2 .6-.1 .6 0 .5 .4 .6-.1 .6-.7 .5-3.7 .6 2 .6 1.9 .5-1.8 .6 1.8 .6-.2 .5-.1 .6-.5 .6 .9 .5 .5 .6-.1 .6 0 .5-.6 .6-.7 .6 0 .5 1.4 .6-.4 .6 .5 .5 0 .6-.6"/><path class="d" d="M.9 12.8l.6-.3 .5 .9 .6 0 .6 .2 .5-.2 .6-.6 .6 .9 .5-.6 .6-.1 .6-.2 .5 0 .6 .3 .6 .6 .5-.7 .6-.2 .6 .5 .5 .1 .6-.8 .6 .4 .5 .1 .6 .1 .6 .2 .5-.4 .6-.3 .6 .9 .5 .1 .6-.5 .6-.2 .5 0 .6 .4 .6-.1 .5-4.6 .6 4.4 .6 .4 .5-.5 .6-.2 .6-4.4 .5 4.8 .6 0 .6 .7 .5-1.1 .6 .1 .6 .2 .5 .2 .6 0 .6 .4 .5 .1 .6-.6"/><path class="k" d="M.8 16.1l0-8.5 1.4 .5 .4 4.6-1.1 0 .5 .6 .6 .2 .6 0 .5 .2 .6-.7 .6 .8 .5-.5 .6 .1 .6-.3 .5-.1 .6 .2 .6 .3 .5-.5 .6-.1 .6 .6 .5-.1 .6-.6 .6 .3 .5 .4 .6-.2 .6 0 .5-.1 .6-.1 .6 .4 .5 .2 .6-.4 .6-.3 .5 .1 .6 .3 .6-.2 .5-.1 .6 0 .6 .2 .5-.4 .6-.1 .6 .4 .5 .3 .6 .1 .6 .1 .5-.6 .6-.4 .6 .4 .5 .4 .6-.3 .6 .5 .5 0 .6-.7 0 3.1-.6 .3-.5-.4-.6 .2-.6 .1-.5-.1-.6 .1-.6 .1-.5-.1-.6-.2-.6 .3-.5-.1-.6-.1-.6 0-.5 0-.6 .1-.6-.3-.5 .4-.6-.2-.6 .1-.5 .1-.6-.2-.6 0-.5 0-.6 .1-.6 0-.5-.1-.6-.1-.6 .3-.5-.2-.6 0-.6 0-.5 .1-.6 0-.6-.1-.5 0-.6 .1-.6 0-.5 0-.6-.1-.6 0-.5 0-.6 0-.6 .1-.5 0-.6-.1-.6 0-.5 0-.7-.1z"/><use href="#f"/></g>
<g transform="translate(106.3 102.4)" color="#008a00" stroke="none"><use href="#g"/><path class="c" d="M.9 8.4l.6 .8 .5 1.3 .6-.3 .6 1.6 .5-1.4 .6 .5 .6-.6 .5 .3 .6 .1 .6 .7 .5-.2 .6 .7 .6-.5 .5 .4 .6-.1 .6-.2 .5 .4 .6-1.7 .6 1.5 .5-.2 .6-.8 .6 .8 .5-.6 .6 .7 .6-.6 .5 .2 .6 .9 .6-.3 .5-.4 .6-1.6 .6 1.8 .5-.5 .6-.1 .6-.8 .5-.2 .6 .7 .6 1.4 .5-.1 .6-.7 .6-1 .5 .2 .6 .3 .6 .5 .5-.6 .6-.3 .6 .3 .5 .6 .6-.3 0 1.7-.6 .1-.5 .4-.6-.5-.6-.3-.5 .8-.6-.1-.6 .2-.5-.1-.6-.3-.6 .6-.5-.2-.6-.5-.6 .2-.5 0-.6-.2-.6 0-.5 .3-.6-.8-.6 .8-.5 0-.6 .9-.6-1.1-.5 0-.6 .2-.6 .2-.5-.3-.6-.2-.6 .3-.5 0-.6-.3-.6 .6-.5-.2-.6 .3-.6 0-.5-.5-.6 .5-.6-.7-.5 .5-.6-.6-.6 .3-.5-.4-.6 .6-.6-.3-.5 1.1-.6-1.2-.6 .4-.5-.3-.6 .1z"/><path class="d" d="M.9 13.1l.6 0 .5 .3 .6-.3 .6 .5 .5-.8 .6 .3 .6-.5 .5 .6 .6-.3 .6 .5 .5-.6 .6-2.8 .6 3.2 .5 0 .6 .5 .6-.5 .5 .1 .6-.6 .6 .1 .5 .5 .6-.8 .6 .7 .5 .2 .6-.2 .6-.1 .5-.2 .6-1.7 .6 1.9 .5-.3 .6-1 .6 1.2 .5-.3 .6 .2 .6 .3 .5-.1 .6-.1 .6 .3 .5 .1 .6-.6 .6 .5 .5 0 .6-.4 .6 .4 .5-.8 .6 .4 .6 .4 .5-2.1 .6 .7"/><path class="d" d="M.9 12.9l.6 0 .5 .2 .6-.1 .6 1 .5-1 .6 .2 .6-1 .5 1 .6-.8 .6 .3 .5 .2 .6 .6 .6-.6 .5 .3 .6 .1 .6-.4 .5 .4 .6-.6 .6 .4 .5-.2 .6-.4 .6 .3 .5 .6 .6-.4 .6-.4 .5-1.6 .6 3 .6-.8 .5-.1 .6-1.1 .6 1 .5-.5 .6 .2 .6 .3 .5 .1 .6-.3 .6-2.5 .5 3.3 .6-.6 .6 .3 .5 .1 .6-.5 .6 .4 .5-.7 .6 .3 .6 .1 .5 0 .6-.2"/><path class="k" d="M.8 16.1l0-8.6 1.4 .5 .4 4.7-1.1 .2 .5 .3 .6-.4 .6 1.2 .5-1.1 .6 .3 .6-.6 .5 .4 .6-.3 .6 .6 .5-.5 .6 .7 .6-.5 .5 .5 .6 0 .6-.3 .5 .2 .6-.6 .6 .3 .5 0 .6-.3 .6 .2 .5 .3 .6-.2 .6-.2 .5 0 .6 1.1 .6-.9 .5 0 .6-.8 .6 .8 .5-.3 .6 0 .6 .2 .5 0 .6-.2 .6 .5 .5 .2 .6-.6 .6 .3 .5 .1 .6-.2 .6 .1 .5-.8 .6 .3 .6 .5 .5-.4 .6-.1 0 3.5-.6-.1-.5 .1-.6 .1-.6-.1-.5 0-.6 .1-.6-.1-.5 .2-.6-.1-.6 0-.5-.1-.6 0-.6 0-.5 .1-.6-.1-.6-.2-.5 .3-.6-.1-.6 0-.5 .1-.6-.2-.6 0-.5 0-.6 0-.6 .1-.5 0-.6 0-.6 0-.5 .2-.6-.2-.6 0-.5 0-.6-.1-.6 .2-.5-.1-.6-.1-.6 .1-.5 .1-.6-.3-.6 .3-.5 0-.6-.1-.6 0-.5-.2-.6 .3-.6-.2-.5 .3-.7-.3z"/><use href="#f"/></g>
<g transform="translate(147.4 102.4)" color="#008a00" stroke="none"><use href="#g"/><path class="c" d="M.9 8.9l.6-.1 .5 1 .6-.2 .6 .4 .5 1.1 .6 .4 .6-.3 .5-.9 .6 .3 .6 1.3 .5-1.6 .6 1 .6-.7 .5 .6 .6-.1 .6 0 .5 .8 .6-.5 .6-.4 .5 .4 .6-.2 .6-.3 .5 .5 .6 .3 .6-.5 .5-.3 .6 1 .6-1 .5 .4 .6-.7 .6 1.8 .5-.6 .6 0 .6-.4 .5 .6 .6-.4 .6-.1 .5 .2 .6-.1 .6-.3 .5 .8 .6 0 .6-.7 .5 .2 .6 .9 .6-1.1 .5 .4 .6-1.5 0 2.8-.6 0-.5-.1-.6 .9-.6-.6-.5-.2-.6 .6-.6-.2-.5-.3-.6-.1-.6 0-.5-.3-.6 .5-.6-.1-.5-.3-.6 .7-.6-.3-.5 .6-.6-.8-.6-.4-.5 .7-.6 .1-.6 .2-.5-.9-.6 .9-.6-.4-.5-.5-.6 0-.6 .4-.5-.2-.6 .1-.6 .3-.5-.2-.6-.1-.6-.1-.5 .3-.6-.1-.6-.5-.5 1.2-.6-1.1-.6-.1-.5 .4-.6 .7-.6 0-.5-.5-.6-.4-.6 .5-.5-.5-.6 .2z"/><path class="d" d="M.9 12.5l.6 .6 .5 .2 .6-.2 .6 0 .5 .6 .6 .3 .6-1.1 .5-.2 .6 0 .6 1 .5-.8 .6 .5 .6-.3 .5 0 .6 .2 .6-.4 .5 .5 .6-.3 .6 0 .5 .3 .6-1.2 .6 .2 .5 1.1 .6-.2 .6-.5 .5 1.1 .6-2.4 .6 1.9 .5-1.3 .6 .9 .6 1 .5-.5 .6 0 .6-.5 .5 .4 .6 0 .6-.6 .5-.3 .6 .6 .6 .1 .5 .5 .6-.3 .6-.8 .5 .5 .6-4 .6 3.5 .5 .6 .6-.2"/><path class="d" d="M.9 13.2l.6-.5 .5-3.2 .6 2.7 .6 1.1 .5 0 .6 .6 .6-.9 .5-.1 .6-.6 .6 1.7 .5-1.3 .6 .4 .6 .1 .5-.2 .6 .2 .6-.2 .5 .6 .6-.4 .6-.7 .5-2.1 .6 2.1 .6-.2 .5 .7 .6 .7 .6-.7 .5 .8 .6-.6 .6-.1 .5-.5 .6 .4 .6 1.1 .5-1.3 .6 .7 .6-.8 .5 .6 .6 .1 .6-.6 .5 .3 .6-3.1 .6 3.4 .5-.5 .6 1 .6-.6 .5 .1 .6 .6 .6-.8 .5-.2 .6-.2"/><path class="k" d="M.8 16.1l0-8.1 1.4 .4 .4 4.3-1.1 .2 .5 .5 .6-.5 .6 .4 .5 .5 .6 0 .6-.7 .5-.4 .6 .1 .6 1.1 .5-1.2 .6 .5 .6 .1 .5-.3 .6 .1 .6 .1 .5 .2 .6-.3 .6-.1 .5 .2 .6-.4 .6 0 .5 .5 .6 .4 .6-.9 .5 .9 .6-.2 .6-.1 .5-.7 .6 .4 .6 .8 .5-.6 .6 .3 .6-.7 .5 .3 .6 .1 .6-.5 .5 .3 .6 0 .6 .1 .5 .3 .6 .2 .6-.6 .5 .2 .6 .6 .6-.9 .5 .1 .6 0 0 3.1-.6-.1-.5 .1-.6 0-.6 0-.5 0-.6 .2-.6-.1-.5 .1-.6-.2-.6-.2-.5 .1-.6 .1-.6 0-.5-.2-.6 .1-.6 .1-.5 .1-.6-.1-.6 .3-.5-.1-.6-.2-.6-.1-.5 .1-.6 .1-.6-.2-.5 .1-.6 0-.6 .1-.5 0-.6 0-.6 0-.5 .1-.6-.1-.6 0-.5 .1-.6-.2-.6 0-.5 .1-.6-.1-.6 .1-.5 0-.6 0-.6-.1-.5-.1-.6 .1-.6 .2-.5-.2-.7-.1z"/><use href="#f"/></g>
<g transform="translate(188.6 102.4)" color="#008a00" stroke="none"><use href="#g"/><path class="c" d="M.9 9l.6-.1 .5 .5 .6 .6 .6 .8 .5-.2 .6 .5 .6 0 .5-.6 .6 1 .6-.7 .5-.4 .6 .5 .6 .3 .5 .7 .6 0 .6-.5 .5 1 .6-.7 .6-.7 .5 1.3 .6-1.5 .6 .8 .5-.5 .6 .3 .6-1.2 .5 1.5 .6-.5 .6 .3 .5-.7 .6 .7 .6 .9 .5-.5 .6-.8 .6-.9 .5 1.2 .6 .3 .6-1.8 .5 .6 .6 1 .6-.3 .5-.8 .6 .2 .6 1.1 .5-.3 .6 .7 .6-1.2 .5 .2 .6-.6 0 2.9-.6 0-.5-.7-.6 .8-.6-.4-.5 0-.6-.5-.6 .6-.5-.2-.6 .4-.6-.3-.5-.1-.6 .3-.6-.4-.5 .2-.6-.1-.6 .4-.5 .4-.6-.6-.6-.1-.5 .3-.6-.3-.6-.2-.5 0-.6 .2-.6 .3-.5-.3-.6 0-.6 .6-.5-1-.6 .4-.6 1.4-.5-1.1-.6 .2-.6-.3-.5 0-.6-.3-.6 0-.5 .7-.6-.1-.6-.5-.5-.1-.6 .2-.6-.2-.5 .6-.6-1-.6 .8-.5-.3-.6 .6z"/><path class="d" d="M.9 13.8l.6-.8 .5-.1 .6-.2 .6 1.1 .5-.8 .6-1.6 .6 1.5 .5 .1 .6 .4 .6-.3 .5-.2 .6 .1 .6 0 .5 .2 .6 .6 .6-.9 .5 1.5 .6-1.2 .6-.4 .5 .6 .6-.2 .6-.1 .5 .4 .6-.6 .6-.2 .5 .5 .6-.5 .6 .8 .5-.5 .6-3.4 .6 4.2 .5-.7 .6 0 .6 .1 .5-.1 .6 .1 .6-.2 .5-.1 .6 .4 .6-.6 .5 .3 .6-.5 .6 .1 .5 .6 .6 .5 .6-1.1 .5 .6 .6 .2"/><path class="d" d="M.9 13.5l.6-.4 .5 .5 .6-1.3 .6 1.2 .5-.9 .6 .3 .6 .1 .5 .1 .6-3.4 .6 3.9 .5-.7 .6 .2 .6 .1 .5 .2 .6-4.4 .6 4.4 .5 .8 .6-1.8 .6 .5 .5 .7 .6-.3 .6-.1 .5 .2 .6 0 .6-.9 .5-.3 .6 1 .6 .1 .5-.4 .6 .3 .6 .5 .5-.2 .6-.7 .6-3.3 .5 3.6 .6 .4 .6-3.2 .5 2.9 .6 .2 .6-.4 .5 .3 .6-.8 .6 .6 .5-.2 .6 .8 .6-1.1 .5 .5 .6-.1"/><path class="k" d="M.8 16.1l0-8.4 1.4 .5 .4 4.5-1.1 .4 .5 .3 .6-.8 .6 1 .5-.6 .6 .2 .6-.2 .5 .1 .6 .5 .6 .1 .5-.7 .6 0 .6 .3 .5 0 .6 .3 .6-.2 .5 1.1 .6-1.4 .6-.4 .5 1 .6-.6 .6 0 .5 .3 .6-.3 .6-.2 .5 0 .6 .2 .6 .3 .5-.3 .6 .1 .6 .6 .5-.4 .6-.4 .6 .1 .5-.2 .6 .4 .6-.3 .5 .1 .6 .3 .6-.4 .5 .2 .6-.6 .6 .5 .5 0 .6 .4 .6-.8 .5 .7 .6 0 0 2.7-.6 .2-.5-.1-.6 .1-.6-.2-.5 .1-.6 0-.6 0-.5 .1-.6 0-.6-.1-.5 0-.6 0-.6 0-.5-.1-.6 .4-.6-.4-.5 .1-.6-.1-.6 .1-.5-.1-.6 0-.6 .2-.5 0-.6-.1-.6 0-.5-.1-.6 0-.6 0-.5 .1-.6 .1-.6-.1-.5-.1-.6 .1-.6 0-.5-.1-.6-.1-.6 .3-.5-.1-.6 0-.6 0-.5 .2-.6-.2-.6 .1-.5-.4-.6 .3-.6 .1-.5-.1-.7-.1z"/><use href="#f"/></g>
<g transform="translate(229.7 102.4)" color="#008a00" stroke="none"><use href="#g"/><path class="c" d="M.9 8.1l.6 1 .5 .5 .6 1.9 .6-1.2 .5-.4 .6 1.3 .6-.4 .5-.7 .6 1 .6-.4 .5 .5 .6-.2 .6 0 .5 .8 .6-.8 .6 .1 .5 .6 .6-.2 .6 .3 .5-.8 .6 .1 .6 .2 .5 0 .6-.1 .6 .2 .5-1.4 .6 .2 .6 2.7 .5-1.3 .6 .6 .6-1.4 .5 1.3 .6-1.5 .6 .8 .5 .5 .6-1.8 .6 1.3 .5-1 .6 1 .6-.3 .5 .6 .6-.4 .6 .6 .5-.5 .6-.9 .6 1.2 .5-1 .6 .9 0 1.9-.6-.2-.5-.1-.6-.3-.6 .2-.5 .3-.6-.8-.6 .8-.5 0-.6-.3-.6-.1-.5 .6-.6-.8-.6 .4-.5 .4-.6-.8-.6 .8-.5-.2-.6 .2-.6 .1-.5 .5-.6-1-.6-.5-.5 .6-.6-.2-.6-.1-.5 .4-.6-.8-.6 .3-.5 .5-.6-.3-.6 .1-.5-.5-.6 .4-.6 .3-.5-.5-.6 .2-.6 .2-.5 0-.6-.2-.6-.1-.5 0-.6 .2-.6-.1-.5 .5-.6 .2-.6-.7-.5 .4-.6-.1z"/><path class="d" d="M.9 13.2l.6 .2 .5-.1 .6 .6 .6-.4 .5-.4 .6 .2 .6-.2 .5 .1 .6 .1 .6 .2 .5 0 .6-.9 .6-.1 .5 1.1 .6-.4 .6-.7 .5 .8 .6-.2 .6 .3 .5-.4 .6-.4 .6 .9 .5-.3 .6-.1 .6 .4 .5-1 .6 .6 .6 1.2 .5-.5 .6-.4 .6-.1 .5 .4 .6-.8 .6 .8 .5-.4 .6-.8 .6 1 .5-.6 .6 0 .6 .4 .5 .2 .6-1.3 .6 1 .5-.1 .6-.6 .6 .6 .5 .2 .6 .4"/><path class="d" d="M.9 9.1l.6 4.5 .5-1 .6 1.4 .6-.8 .5-.7 .6 .8 .6-.2 .5-.1 .6 .1 .6-.5 .5 .6 .6-.6 .6 .5 .5-.2 .6-.1 .6-.1 .5 .6 .6-4.4 .6 4.3 .5-.4 .6 0 .6 .6 .5-.7 .6 .5 .6 0 .5-.8 .6 .5 .6 .8 .5-.6 .6-3.8 .6 4.2 .5 .2 .6-1.3 .6-.7 .5 1.6 .6-.5 .6 .5 .5-.4 .6-3.8 .6 4.2 .5 .1 .6-.7 .6 .4 .5 .1 .6-.3 .6 .2 .5 0 .6 .6"/><path class="k" d="M.8 16.1l0-8 1.4 .5 .4 4.1-1.1 .8 .5-.4 .6 .7 .6-.2 .5-.5 .6 .1 .6-.2 .5 0 .6 .1 .6 .2 .5 0 .6-.2 .6-.2 .5 .5 .6-.3 .6-.4 .5 .5 .6-.1 .6 .3 .5-.5 .6-.3 .6 .8 .5-.4 .6 .1 .6 .2 .5-.6 .6 .5 .6 1 .5-.5 .6-.1 .6-.2 .5 .2 .6-.8 .6 .8 .5-.4 .6-.4 .6 .8 .5-.6 .6 .1 .6 .3 .5 0 .6-.8 .6 .8 .5-.3 .6-.2 .6 .3 .5 .1 .6 .2 0 2.8-.6-.1-.5-.1-.6 .2-.6 0-.5-.1-.6 .1-.6-.1-.5 .1-.6-.1-.6 0-.5-.1-.6 .2-.6 0-.5 0-.6 0-.6-.1-.5 0-.6 0-.6 .1-.5-.1-.6 .1-.6 0-.5-.2-.6 .1-.6 .1-.5-.1-.6-.2-.6 .2-.5 0-.6 0-.6 .1-.5-.1-.6 0-.6 .1-.5-.1-.6 .1-.6 0-.5 0-.6-.1-.6 0-.5 0-.6 .1-.6-.1-.5 0-.6 0-.6 .2-.5-.2-.7-.1z"/><use href="#f"/></g>
<g transform="translate(270.8 102.4)" color="#008a00" stroke="none"><use href="#g"/><path class="c" d="M.9 8l.6 1.4 .5-1.3 .6 2 .6-.3 .5 1.1 .6-.6 .6 0 .5 .8 .6 .4 .6-.3 .5 .5 .6 .6 .6-1.6 .5 .5 .6 .6 .6 .6 .5-1 .6 .3 .6 .1 .5 .2 .6-1 .6 1.5 .5-.8 .6 .3 .6 .1 .5-.2 .6-1.3 .6 .6 .5 .6 .6 0 .6-1.4 .5 .9 .6-.3 .6 .3 .5 .4 .6-.3 .6-.2 .5 .2 .6-.7 .6 .3 .5 1.1 .6-.7 .6 0 .5-.6 .6 .5 .6 1.1 .5-.7 .6-.9 0 2.1-.6 .4-.5 .6-.6-.7-.6-.3-.5 .5-.6 0-.6 .1-.5-.4-.6 .1-.6-.4-.5 .1-.6 .6-.6-.4-.5 .3-.6-.4-.6-.1-.5 .3-.6 0-.6 .2-.5-.5-.6-.1-.6 .5-.5 .4-.6-.3-.6 .1-.5 .3-.6-.8-.6 .7-.5-.6-.6 .2-.6 .1-.5 .5-.6-.7-.6 .3-.5-.3-.6 .6-.6-.6-.5 .1-.6-.2-.6 .2-.5-.4-.6 .3-.6 0-.5 .1-.6-.6-.6-.1-.5 .4-.6-.1z"/><path class="d" d="M.9 12.5l.6 .4 .5-.2 .6 0 .6 .5 .5-3.5 .6 3.6 .6-.4 .5-.3 .6 .4 .6 0 .5 .3 .6 .1 .6-.5 .5 .6 .6-.8 .6-.7 .5 1.4 .6 0 .6-.5 .5 .7 .6-.5 .6 .7 .5-.2 .6 0 .6-.5 .5 .2 .6-.5 .6 .2 .5 .3 .6 .1 .6-.3 .5-.1 .6-.1 .6 .6 .5-.3 .6 .4 .6-.9 .5 .2 .6 .5 .6-.2 .5 .3 .6 0 .6-4.2 .5 3.8 .6 .2 .6 .7 .5-.7 .6-.4"/><path class="d" d="M.9 13l.6 0 .5-.4 .6 .3 .6 .2 .5 .3 .6-.1 .6-.3 .5 0 .6 .3 .6-.1 .5 .1 .6 .2 .6-.1 .5 .1 .6-.4 .6 1 .5-1.2 .6 .6 .6-.3 .5 .3 .6-.7 .6-1.1 .5 1 .6 .6 .6 .3 .5-.4 .6-.9 .6 .9 .5 .5 .6-.3 .6-.3 .5 0 .6-.9 .6 1.3 .5-.8 .6 .3 .6-.2 .5 .1 .6 .2 .6 .1 .5 .3 .6-.4 .6 .4 .5-.8 .6 .6 .6-.2 .5-.1 .6-1.1"/><path class="k" d="M.8 16.1l0-7.7 1.4 .5 .4 3.8-1.1 .3 .5-.4 .6 .1 .6 .6 .5-.1 .6 0 .6-.3 .5 .4 .6-.2 .6 .2 .5-.1 .6 .6 .6-.6 .5 .3 .6-.3 .6 .7 .5-.5 .6-.1 .6-.2 .5 .6 .6-.7 .6 .8 .5-.3 .6-.1 .6 .3 .5-.4 .6-.5 .6 .1 .5 .5 .6-.2 .6 0 .5-.3 .6 .1 .6 .4 .5-.3 .6 .4 .6-.6 .5-.1 .6 .4 .6-.1 .5 .4 .6-.1 .6 0 .5-.5 .6 .3 .6 .7 .5-.6 .6-.4 0 3.4-.6 .1-.5-.4-.6 .2-.6 0-.5 0-.6 0-.6 0-.5-.1-.6 .1-.6 .1-.5 .1-.6-.2-.6 0-.5 0-.6 0-.6 0-.5 .2-.6-.2-.6 0-.5 .1-.6 .1-.6-.1-.5-.2-.6 .2-.6 0-.5-.2-.6 .3-.6-.2-.5 0-.6 .2-.6-.2-.5 .1-.6-.2-.6 .2-.5-.1-.6 0-.6-.1-.5 0-.6 .1-.6-.1-.5 .1-.6 0-.6-.1-.5 .1-.6 .1-.6-.1-.5 0-.7-.1z"/><use href="#f"/></g>
<g transform="translate(311.9 102.4)" color="#0000ff" stroke="none"><use href="#g"/><path class="c" d="M.9 9.2l.6 .3 .5 .7 .6 .4 .6-.7 .5 1 .6 .1 .6 .6 .5-.6 .6-.5 .6 .7 .5-.5 .6-.4 .6 .9 .5-.2 .6 .8 .6 .2 .5-.6 .6 .3 .6 .4 .5-.3 .6 .1 .6-.7 .5 .7 .6-.2 .6 .5 .5-.3 .6 0 .6-.4 .5-.8 .6 .9 .6 0 .5-.9 .6 1.6 .6-.4 .5-.8 .6 .5 .6-.6 .5 .6 .6 0 .6 .4 .5-1.2 .6 .3 .6 .3 .5-1.3 .6 1.8 .6-.9 .5 .1 .6 .7 0 1.6-.6-.6-.5 .2-.6 .6-.6-.8-.5 .1-.6 .1-.6-.1-.5 .3-.6 0-.6 .2-.5-.2-.6-.1-.6-.2-.5 .4-.6 .4-.6-.5-.5-.2-.6 .1-.6-.3-.5 .3-.6 .2-.6 .4-.5 .3-.6-.4-.6-.2-.5-.3-.6 .3-.6-.2-.5 .3-.6-.1-.6 0-.5 0-.6-.2-.6-.5-.5 .1-.6-.6-.6 .5-.5 .9-.6-.4-.6 .2-.5 .3-.6-.3-.6-.4-.5 0-.6 .6-.6-.7-.5 .5-.6-.4z"/><path class="d" d="M.9 12.3l.6 .8 .5-.7 .6 .9 .6-.2 .5-.1 .6-.1 .6 .9 .5-.5 .6-.1 .6 .2 .5-.6 .6-.6 .6-2 .5 2.2 .6 .7 .6 .5 .5 0 .6-4 .6 3.9 .5-.5 .6 .1 .6-.2 .5 .5 .6-4.2 .6 4.8 .5-.5 .6-.4 .6 0 .5-.4 .6 .4 .6 .1 .5-.1 .6-3.5 .6 3.6 .5-.3 .6 .4 .6-.1 .5 .1 .6-.5 .6 .2 .5 .1 .6 .1 .6-.6 .5 .4 .6 .6 .6-.6 .5-.1 .6 .5"/><path class="d" d="M.9 12.9l.6 .5 .5-1 .6 1 .6-1 .5 .8 .6 .3 .6-.3 .5 .2 .6-.2 .6 .3 .5-.6 .6-.6 .6 .7 .5-.5 .6 .4 .6 .4 .5-.3 .6 .6 .6-.1 .5-.7 .6 .7 .6-.4 .5-4.5 .6 4.7 .6 .8 .5-.4 .6-.6 .6 .2 .5-.9 .6 .5 .6 .2 .5-.4 .6 1.2 .6-.6 .5-.4 .6-.3 .6 .8 .5-.3 .6-.2 .6 .4 .5-.4 .6 .3 .6-.7 .5 0 .6 1.1 .6-1.1 .5 .4 .6 .6"/><path class="k" d="M.8 16.1l0-8.6 1.4 .5 .4 4.7-1.1 .7 .5-.5 .6 .7 .6-.6 .5 0 .6 .4 .6 .3 .5-.3 .6-.2 .6 .4 .5-.9 .6-.5 .6 .6 .5-.1 .6 .5 .6 .2 .5 0 .6 0 .6 .1 .5-.3 .6 .2 .6-.3 .5 .3 .6 .2 .6 .4 .5-.3 .6-.4 .6-.2 .5-.3 .6 .3 .6-.1 .5 .2 .6 .5 .6-.4 .5-.4 .6 .2 .6 .1 .5 .2 .6-.2 .6 0 .5-.3 .6 .1 .6-.1 .5-.1 .6 .8 .6-.6 .5-.2 .6 .6 0 2.9-.6-.1-.5 .2-.6-.2-.6 .1-.5-.1-.6 .1-.6-.1-.5 .2-.6-.1-.6-.2-.5 .2-.6-.1-.6 0-.5 .1-.6 0-.6 0-.5 0-.6-.2-.6 .1-.5-.1-.6 .3-.6 0-.5-.1-.6 .1-.6 .1-.5-.2-.6-.2-.6-.1-.5 .3-.6 0-.6 0-.5-.1-.6 0-.6-.1-.5 0-.6 .1-.6-.1-.5 .2-.6 0-.6 0-.5-.1-.6 .1-.6-.1-.5-.1-.6 .1-.6-.2-.5 .3-.7-.2z"/><use href="#f"/></g>
<g transform="translate(353 102.4)" color="#0000ff" stroke="none"><use href="#g"/><path class="c" d="M.9 8.1l.6 1.3 .5 .9 .6 .3 .6-.3 .5 .3 .6-.3 .6 .5 .5-.3 .6 1.1 .6-.9 .5 1.9 .6-1.6 .6 .5 .5-.6 .6 .5 .6-.3 .5-.3 .6 .4 .6 0 .5 .3 .6-.8 .6 1.1 .5-.5 .6 .2 .6 0 .5 .1 .6 .2 .6-.1 .5-.1 .6-.2 .6-1.3 .5 .7 .6 .4 .6-.2 .5-.1 .6 .7 .6-.4 .5 .1 .6 1 .6-.4 .5-.2 .6 .2 .6 0 .5-.5 .6-.3 .6 .9 .5-.8 .6-.3 0 2.4-.6-.1-.5 .4-.6-.5-.6 0-.5 .4-.6 0-.6-.5-.5 .7-.6-.1-.6-.2-.5-.1-.6-.2-.6 .4-.5-.7-.6 .1-.6 .1-.5-.4-.6 1.1-.6-.3-.5-.3-.6 0-.6-.2-.5 .7-.6-.2-.6-.3-.5 .3-.6-.6-.6 .6-.5-.2-.6 0-.6-.5-.5 .5-.6 0-.6-.2-.5 .7-.6-.2-.6 .6-.5-1.1-.6 .6-.6-.4-.5 .1-.6 .1-.6-.2-.5-.1-.6-.1-.6 .5-.5-.2-.6-.3z"/><path class="d" d="M.9 13.1l.6 .3 .5 .2 .6-.9 .6 .1 .5 .2 .6 .1 .6 0 .5-.1 .6 .6 .6-1 .5 1.7 .6-.8 .6-.2 .5-.8 .6 .9 .6-.3 .5-.4 .6 .6 .6 .1 .5-.2 .6-.2 .6 .6 .5-.9 .6 .8 .6-.2 .5-.3 .6 .2 .6 0 .5 .3 .6 .1 .6-.8 .5 0 .6 .2 .6-.1 .5 .3 .6-.1 .6-.6 .5 .8 .6-.1 .6-4.2 .5 4.1 .6 .2 .6-.2 .5 .2 .6-3.8 .6 4.1 .5-.7 .6 .1"/><path class="d" d="M.9 13l.6 .1 .5 .3 .6-.3 .6 0 .5-.6 .6 .7 .6-.1 .5-4.8 .6 5.4 .6-.6 .5 .9 .6-.4 .6 0 .5-.7 .6 0 .6 .5 .5-1.3 .6-.7 .6 1.3 .5 .2 .6-.3 .6 .9 .5-.3 .6 .2 .6 .1 .5-.5 .6 .2 .6-.1 .5 .5 .6 .2 .6-1.5 .5 .8 .6-.1 .6-.2 .5 .5 .6-.2 .6 .1 .5-1.7 .6 2.3 .6 0 .5-.9 .6 .2 .6 0 .5-.5 .6 .5 .6 .7 .5-.8 .6 .2"/><path class="k" d="M.8 16.1l0-8.9 1.4 .5 .4 5-1.1 .6 .5 .2 .6-.5 .6 .1 .5 .1 .6 .2 .6-.1 .5-.1 .6 .4 .6-.6 .5 1.1 .6-.6 .6 .2 .5-.7 .6 .2 .6 0 .5-.5 .6 .5 .6 0 .5 .2 .6-.6 .6 .6 .5-.3 .6 .3 .6 .2 .5-.7 .6 .2 .6 0 .5 .3 .6 .3 .6-1.1 .5 .4 .6-.1 .6-.1 .5 .7 .6-.4 .6 .2 .5 .1 .6 .2 .6 .1 .5-.7 .6 .5 .6 0 .5-.4 .6 0 .6 .5 .5-.4 .6 .1 0 2.9-.6 0-.5 .1-.6-.2-.6 .2-.5 .2-.6-.2-.6 .1-.5-.3-.6 .1-.6 .1-.5 .1-.6-.2-.6 0-.5 0-.6 .1-.6 0-.5 0-.6 0-.6 0-.5-.1-.6 .1-.6-.1-.5 .1-.6-.1-.6 .1-.5-.1-.6 0-.6 0-.5 .1-.6 0-.6 .1-.5-.3-.6 .3-.6-.1-.5-.1-.6-.1-.6 .4-.5-.1-.6-.1-.6-.1-.5-.1-.6-.1-.6 .3-.5-.1-.6 0-.6-.1-.5 0-.7 0z"/><use href="#f"/></g>
<g transform="translate(394.2 102.4)" color="#0000ff" stroke="none"><use href="#g"/><path class="c" d="M.9 9.5l.6-.4 .5 .4 .6 .6 .6 .1 .5 .2 .6 .4 .6 .4 .5 .4 .6 .1 .6 .1 .5-.5 .6-.4 .6 .1 .5 .3 .6 .5 .6-1.1 .5-.4 .6 1.8 .6-.8 .5-.6 .6 1 .6-.4 .5 1 .6-.5 .6-.5 .5 .8 .6-1.4 .6 .4 .5-.1 .6 .6 .6-.3 .5 .5 .6-.5 .6 .8 .5-1.2 .6-.1 .6 .3 .5 .8 .6-.9 .6-1.2 .5 1.6 .6 0 .6 .3 .5 .1 .6 .2 .6-.7 .5 .1 .6-.1 0 1.9-.6-.4-.5 .2-.6 .4-.6 .2-.5-.1-.6-.7-.6 .6-.5 .1-.6-.6-.6 .3-.5 0-.6-.1-.6 .1-.5 .3-.6-.3-.6 .2-.5-.4-.6 .6-.6-.4-.5-.2-.6 .3-.6 .2-.5-.2-.6 .4-.6 .3-.5-1.2-.6 .6-.6-.6-.5 .3-.6 .4-.6-1.1-.5 .6-.6 .2-.6-.2-.5-.1-.6 .3-.6 .5-.5-.3-.6 0-.6-.1-.5-.2-.6 .7-.6-1-.5 0-.6 .1-.6 .3-.5-.2-.6 .5z"/><path class="d" d="M.9 13.6l.6-.4 .5-1.9 .6 .9 .6 .4 .5 .3 .6 1.1 .6-.8 .5-.1 .6 .3 .6 .1 .5 .3 .6-.6 .6-.1 .5-.3 .6 .5 .6-.4 .5-1 .6 1.5 .6-.2 .5-1 .6 1.1 .6-.7 .5-2.4 .6 3.8 .6-.5 .5 .2 .6-.6 .6-.5 .5 .7 .6 .3 .6-.8 .5 .3 .6-.1 .6-1.2 .5 1.3 .6-.2 .6-3.6 .5 4 .6-.2 .6 .6 .5-.5 .6-.4 .6 .7 .5 .3 .6-1 .6 .3 .5-.2 .6-.2"/><path class="d" d="M.9 13.7l.6-1.4 .5 .8 .6-.1 .6-.2 .5 .2 .6 1 .6-.9 .5 .2 .6 .3 .6-.8 .5 .9 .6-.6 .6 .1 .5-.5 .6 .5 .6-.2 .5-1.1 .6-2.9 .6 4.2 .5-.4 .6 .5 .6-1.3 .5 1.8 .6-.3 .6-.1 .5 .3 .6-.3 .6-.5 .5 .6 .6 .1 .6-.8 .5 .3 .6 .1 .6 .4 .5-.4 .6 .1 .6-.1 .5 .1 .6-.3 .6 .7 .5-.9 .6 .2 .6 0 .5 .6 .6-.1 .6-.6 .5 .2 .6-.3"/><path class="k" d="M.8 16.1l0-7.5 1.4 .5 .4 3.6-1.1 .3 .5 .2 .6-.3 .6-.1 .5 0 .6 1 .6-.7 .5 .2 .6 .1 .6 0 .5 .3 .6-.5 .6-.3 .5 .1 .6 .2 .6-.2 .5-.6 .6 1.1 .6-.4 .5-.3 .6 .6 .6-.6 .5 1.2 .6-.3 .6-.4 .5 .2 .6-.2 .6-.3 .5 .2 .6 .4 .6-.6 .5 .4 .6-.2 .6 .3 .5-.3 .6-.1 .6 .1 .5 0 .6-.3 .6 .6 .5-.1 .6-.6 .6 .7 .5 .1 .6-.2 .6-.4 .5-.2 .6 .4 0 3.1-.6-.2-.5 .1-.6 .1-.6-.1-.5 .1-.6-.2-.6 .1-.5 0-.6-.1-.6 .1-.5-.1-.6 .2-.6-.1-.5 0-.6 0-.6 .1-.5-.1-.6 0-.6 .1-.5-.1-.6-.2-.6 .3-.5 .1-.6-.3-.6 .2-.5-.1-.6 .1-.6 .1-.5-.2-.6 .1-.6-.2-.5 0-.6 .1-.6 0-.5 0-.6 0-.6 0-.5 .1-.6-.2-.6 .1-.5 0-.6 0-.6 .1-.5-.1-.6 0-.6 0-.5 .1-.7-.2z"/><use href="#f"/></g>
<g transform="translate(435.3 102.4)" color="#0000ff" stroke="none"><use href="#g"/><path class="c" d="M.9 9.2l.6-.8 .5 1.8 .6-.1 .6-.8 .5 .4 .6 1.6 .6-1.4 .5 1 .6 .8 .6-1.5 .5 .6 .6 .4 .6 .5 .5-.5 .6 .5 .6-.2 .5-.4 .6-.2 .6-.2 .5 .9 .6-.8 .6 1 .5-.3 .6-.5 .6 .6 .5-.6 .6 .5 .6 0 .5 0 .6 .6 .6-1 .5-1.4 .6 2.4 .6-1 .5 .2 .6 .7 .6-.5 .5-.4 .6-.6 .6 .8 .5-.3 .6-.7 .6 1.6 .5-1.4 .6 1.5 .6-.7 .5 .2 .6-1.4 0 3.1-.6 0-.5 .3-.6 0-.6-.5-.5 .4-.6-.4-.6 .2-.5-.4-.6 .3-.6 .2-.5 .3-.6-.2-.6-.2-.5 .1-.6 .4-.6-.9-.5 0-.6 .6-.6-.2-.5-.4-.6 .4-.6 0-.5 .3-.6-.3-.6-.1-.5 .3-.6-.4-.6 0-.5 0-.6 .1-.6 .1-.5 .5-.6-.5-.6 .3-.5-.3-.6-.4-.6 .2-.5 .2-.6 .2-.6-.6-.5 .5-.6 .1-.6-.7-.5 .9-.6-.6-.6 .5-.5 0-.6-.2z"/><path class="d" d="M.9 13.3l.6 .3 .5-.4 .6 0 .6 .2 .5-.5 .6 .5 .6-.3 .5-.5 .6 .4 .6-.5 .5 .6 .6-.1 .6 .4 .5 0 .6-.3 .6 .8 .5-.8 .6-.3 .6 .2 .5-.3 .6 .2 .6 .5 .5-.9 .6 .6 .6 .3 .5-.2 .6-.3 .6 0 .5-3.6 .6 4.3 .6-.5 .5-.4 .6 .8 .6-.3 .5 0 .6 0 .6 .5 .5-4.2 .6 3.5 .6-.4 .5 .7 .6-.5 .6 .7 .5-.4 .6 .1 .6 .2 .5-.5 .6 .3"/><path class="d" d="M.9 12.5l.6 1 .5 .1 .6-.5 .6 .6 .5-1 .6 .9 .6-.5 .5-.5 .6 .4 .6 .3 .5-.1 .6-.5 .6 .7 .5 .2 .6-.6 .6 .9 .5-.5 .6-.3 .6-.2 .5 .3 .6-.2 .6 .5 .5-.4 .6-.4 .6 1 .5-4.1 .6 3.6 .6-.4 .5 .5 .6-.3 .6-.5 .5 .2 .6 .8 .6 0 .5-.1 .6-.7 .6 .8 .5-2.5 .6 1.7 .6-.5 .5 .7 .6-.2 .6 .8 .5-.8 .6 .8 .6-.5 .5 .2 .6 0"/><path class="k" d="M.8 16.1l0-8 1.4 .5 .4 4.1-1.1 .8 .5 0 .6-.5 .6 .6 .5-.9 .6 .7 .6-.1 .5-.5 .6 .6 .6-.2 .5-.2 .6-.2 .6 .4 .5 .3 .6-.3 .6 .5 .5-.5 .6-.1 .6-.1 .5 0 .6 0 .6 .4 .5-.3 .6 .1 .6 .3 .5-.3 .6 0 .6-.4 .5 .4 .6 .2 .6-.6 .5 0 .6 .9 .6-.4 .5-.1 .6 .2 .6 .2 .5-.3 .6-.2 .6-.3 .5 .4 .6-.2 .6 .4 .5-.4 .6 .5 .6 0 .5-.3 .6 0 0 3-.6 .1-.5 0-.6-.2-.6 0-.5 0-.6 .2-.6-.1-.5-.1-.6 .2-.6-.1-.5-.1-.6 .2-.6-.1-.5 .1-.6-.2-.6 .3-.5-.2-.6 0-.6 .1-.5 0-.6-.2-.6 .2-.5 0-.6-.2-.6 .1-.5 .2-.6-.1-.6 0-.5 0-.6 0-.6-.1-.5 .1-.6 .1-.6-.1-.5 0-.6 0-.6 .1-.5-.1-.6-.3-.6 .2-.5 0-.6 0-.6 0-.5 .1-.6 0-.6-.2-.5 .1-.7-.1z"/><use href="#f"/></g>
<g transform="translate(476.4 102.4)" color="#0000ff" stroke="none"><use href="#g"/><path class="c" d="M.9 9.3l.6 .4 .5 .7 .6 .3 .6-.3 .5-.1 .6 .5 .6 .2 .5 0 .6-.1 .6-.1 .5 .4 .6 .1 .6 .4 .5-.9 .6 .2 .6 .4 .5 .1 .6-.2 .6-.3 .5 1.2 .6-.9 .6 .2 .5 .5 .6-.9 .6-.3 .5 .8 .6-.2 .6-.2 .5 .4 .6-.6 .6-.3 .5 .5 .6 .6 .6-1.8 .5 .8 .6 .9 .6 0 .5-1.3 .6 1.8 .6-.6 .5 .7 .6-2 .6 1 .5 .1 .6 .7 .6-1.8 .5 1 .6 .6 0 1.3-.6 .5-.5-.5-.6 .2-.6-.4-.5 .3-.6 0-.6 .3-.5-.4-.6 .4-.6-.3-.5 .1-.6 0-.6-.8-.5 .3-.6 .2-.6-.5-.5 .7-.6-.3-.6 .3-.5 .4-.6-.9-.6 .6-.5 .4-.6-.9-.6 .4-.5-.5-.6 .6-.6 .3-.5-.4-.6-.5-.6 .5-.5-.4-.6 .1-.6 .3-.5-.2-.6-.2-.6 .3-.5 .2-.6-.6-.6 .7-.5-.4-.6-.1-.6 .2-.5-.2-.6 .2-.6 .6-.5-.3-.6-.6z"/><path class="d" d="M.9 12.8l.6 .9 .5-.2 .6-3 .6 2.7 .5-.2 .6 .2 .6-.2 .5 .7 .6-1 .6 .2 .5 .2 .6-4.8 .6 4.2 .5 .7 .6-1.1 .6 .4 .5 .5 .6-.4 .6 .8 .5-.1 .6 0 .6-.3 .5 0 .6 .1 .6 .7 .5-.6 .6-.6 .6 1.2 .5-.8 .6-.3 .6 0 .5 0 .6 .6 .6-.4 .5-.5 .6 .8 .6 .3 .5-.8 .6 1 .6-.8 .5 .2 .6 .3 .6-.1 .5-.3 .6 .3 .6 0 .5 .5 .6-1.3"/><path class="d" d="M.9 12.2l.6 1.4 .5 .3 .6-.5 .6-.4 .5 .2 .6-.2 .6 0 .5 .3 .6-.6 .6 .3 .5 .3 .6-.3 .6 .3 .5-.6 .6 .2 .6 .1 .5 .4 .6-.5 .6 .2 .5 .8 .6-.5 .6-.5 .5 .4 .6-.8 .6 1.1 .5-.2 .6-.7 .6 1.2 .5-.5 .6-1.1 .6 .6 .5-.6 .6 .5 .6 0 .5-.5 .6 .9 .6 .2 .5 .1 .6 .1 .6-.9 .5 .9 .6-.7 .6-.4 .5 .1 .6 .9 .6-.3 .5 .4 .6-.3"/><path class="k" d="M.8 16.1l0-8.6 1.4 .5 .4 4.7-1.1 .8 .5 .3 .6-.6 .6-.2 .5 .2 .6-.2 .6 .1 .5 .4 .6-.7 .6 .6 .5-.2 .6-.3 .6 .2 .5 .2 .6-.3 .6-.1 .5 .4 .6-.5 .6 .5 .5 .4 .6-.3 .6-.6 .5 .5 .6-.4 .6 .9 .5-.4 .6-.6 .6 .9 .5-.4 .6-.3 .6 .3 .5-.7 .6 .5 .6-.2 .5-.3 .6 .8 .6 0 .5-.1 .6 .3 .6-.4 .5 .4 .6-.3 .6 0 .5-.3 .6 .4 .6-.2 .5 .5 .6-.5 0 3-.6 .1-.5-.1-.6 .2-.6-.2-.5 .1-.6-.2-.6 .1-.5 0-.6 .1-.6-.1-.5 0-.6 .1-.6 0-.5-.1-.6 .2-.6-.1-.5-.2-.6 .1-.6-.1-.5 .1-.6-.1-.6 0-.5 0-.6 .1-.6 .1-.5-.1-.6 .1-.6 0-.5-.2-.6 0-.6 0-.5 .2-.6-.2-.6 .1-.5 .1-.6 0-.6-.1-.5 0-.6 .2-.6-.3-.5 0-.6 .1-.6 0-.5 0-.6 .1-.6 .1-.5-.1-.7-.2z"/><use href="#f"/></g>
<g transform="translate(65.2 129.4)" color="#008a00" stroke="none"><use href="#g"/><path class="c" d="M.9 8.7l.6 1.1 .5 .9 .6 .2 .6-.4 .5 1.1 .6-1 .6 .6 .5-.3 .6-.6 .6 1.6 .5-.8 .6-1 .6 .5 .5 .5 .6 .7 .6-.2 .5 .4 .6-1.4 .6 1.6 .5-.6 .6-.5 .6 .6 .5-.1 .6-1.1 .6 .6 .5 .2 .6 .3 .6-.6 .5 0 .6-.1 .6 .3 .5-.1 .6 .2 .6 .5 .5 .2 .6-1.2 .6 .3 .5 .7 .6 .4 .6 .2 .5-.6 .6-.1 .6-.2 .5-.5 .6-.1 .6-.2 .5 .1 .6 .8 0 1.6-.6 .1-.5-.1-.6-.2-.6 0-.5 .2-.6 .2-.6 .3-.5-.1-.6 0-.6-.1-.5-.3-.6 .2-.6-.1-.5 .2-.6-.3-.6-.4-.5 0-.6 .3-.6 .3-.5-.1-.6 .1-.6-.5-.5 .2-.6-.4-.6 1.1-.5-.5-.6-.1-.6 0-.5 .4-.6-.3-.6 .1-.5-.4-.6 .3-.6-.1-.5 0-.6-.5-.6 .7-.5 .5-.6-.8-.6-.1-.5 0-.6-.5-.6 1.2-.5-1-.6 .9-.6-.2-.5 0-.6 .3z"/><path class="d" d="M.9 13.4l.6 .2 .5-.6 .6 .6 .6-1 .5 1.1 .6-1.4 .6 .8 .5-.3 .6 .4 .6 .8 .5-.5 .6-.7 .6 .3 .5 .2 .6 .2 .6-.4 .5 .5 .6-.5 .6 .2 .5-.1 .6 .2 .6-.2 .5 .9 .6-1.8 .6 .7 .5-.3 .6 .9 .6-.7 .5 .5 .6-.5 .6-2.8 .5 2.7 .6 .5 .6 0 .5-.3 .6 .6 .6-.2 .5-.2 .6 .6 .6 0 .5-.1 .6-.6 .6 0 .5-.3 .6 .4 .6-.3 .5 .3 .6-.4"/><path class="d" d="M.9 13.8l.6-.4 .5 .2 .6 0 .6-.7 .5 .8 .6-1.2 .6-3.2 .5 3.8 .6 .3 .6 .3 .5-.9 .6-.3 .6 .5 .5-.2 .6 .4 .6-.7 .5 1 .6-.5 .6 .3 .5-.4 .6 .5 .6 .1 .5 .3 .6-1.1 .6 .4 .5-.5 .6 .8 .6-.3 .5 .3 .6-.4 .6-.1 .5 0 .6 .4 .6 0 .5-.3 .6 .4 .6 .1 .5-.3 .6 .6 .6-.5 .5 .2 .6 .1 .6-.3 .5-3.8 .6 3.7 .6 0 .5 .2 .6-.2"/><path class="k" d="M.8 16.1l0-8.7 1.4 .5 .4 4.8-1.1 .7 .5 0 .6 .2 .6-.9 .5 1 .6-1.2 .6 .5 .5 0 .6 .1 .6 .8 .5-.5 .6-.7 .6 .5 .5 0 .6 .1 .6-.3 .5 .4 .6-.1 .6 .3 .5-.4 .6 0 .6 .1 .5 .5 .6-1.1 .6 .4 .5-.2 .6 .5 .6-.1 .5 .1 .6-.3 .6-.3 .5 0 .6 .4 .6 .3 .5-.2 .6 .1 .6-.2 .5 .3 .6 .1 .6 0 .5 .1 .6-.3 .6-.2 .5-.2 .6 0 .6 .2 .5 .1 .6-.1 0 2.9-.6 .1-.5 0-.6 0-.6 .1-.5-.2-.6 .1-.6 .1-.5-.1-.6 0-.6 0-.5-.1-.6 .2-.6-.1-.5 .1-.6-.2-.6-.1-.5 .2-.6 0-.6 .1-.5-.2-.6 .1-.6 .2-.5-.2-.6 .1-.6 0-.5-.2-.6 .2-.6 0-.5 0-.6-.1-.6 .2-.5-.4-.6 .2-.6 0-.5 .2-.6 0-.6-.1-.5-.1-.6-.2-.6 .3-.5-.2-.6 .1-.6 .1-.5-.2-.6 0-.6 .2-.5 0-.7-.2z"/><use href="#f"/></g>
<g transform="translate(106.3 129.4)" color="#008a00" stroke="none"><use href="#g"/><path class="c" d="M.9 10.2l.6-.5 .5 .7 .6-.2 .6-.1 .5 .6 .6 .6 .6 0 .5 .4 .6-.3 .6 .3 .5-1.2 .6 .4 .6 .1 .5 .2 .6 .2 .6 .1 .5-.7 .6 1 .6 .1 .5 .3 .6-.6 .6-.9 .5 .5 .6 0 .6-.2 .5 1.2 .6-.4 .6-.9 .5 .4 .6 0 .6-.7 .5 1.2 .6-.8 .6 .2 .5 .2 .6-1.5 .6 1.9 .5-1.3 .6 1.1 .6-.4 .5 .5 .6 .4 .6-.1 .5-.6 .6-.7 .6 .6 .5 .1 .6-.9 0 2.2-.6 .3-.5 .2-.6 0-.6 .5-.5-.4-.6 .3-.6-.3-.5-.3-.6 .6-.6-.5-.5 .2-.6-.4-.6 .1-.5-.2-.6-.5-.6 1.4-.5-.9-.6 .3-.6 .2-.5-.3-.6 .2-.6 .4-.5-.3-.6 .1-.6-.7-.5 .4-.6 .5-.6 0-.5-.3-.6-.1-.6 .2-.5-.3-.6-.3-.6 .4-.5-.3-.6 .3-.6-.4-.5 .9-.6-.2-.6-.2-.5-.2-.6 .4-.6-.3-.5 .1-.6 .2-.6-.2-.5 .2-.6 0z"/><path class="d" d="M.9 13.1l.6-.1 .5-.1 .6 .8 .6-.9 .5 .3 .6 .5 .6-.6 .5 .1 .6 .4 .6-3.1 .5 2.3 .6 .5 .6-.1 .5 .2 .6-.7 .6 .6 .5 .1 .6 .1 .6 .1 .5-.4 .6 .6 .6-.4 .5-.5 .6 .8 .6-.2 .5-.1 .6-.2 .6 .1 .5-2.4 .6 2.5 .6-.6 .5 1.2 .6-1.4 .6 .5 .5-.4 .6 .3 .6 .6 .5-.2 .6-.3 .6 0 .5 .3 .6 .4 .6-.5 .5 .3 .6-.3 .6-3.2 .5 3.2 .6-.5"/><path class="d" d="M.9 13.1l.6 .4 .5 0 .6 0 .6-.3 .5-.4 .6 .8 .6-.8 .5 .4 .6 .4 .6-.2 .5-.5 .6 .3 .6-.1 .5-3.6 .6 3.1 .6 .7 .5-.3 .6 .1 .6 .2 .5 .3 .6-.2 .6-.6 .5-.1 .6 .7 .6-.3 .5 .8 .6-.7 .6-.8 .5 1.1 .6-.4 .6-.3 .5 1 .6-1.5 .6 .4 .5 .4 .6-.1 .6 .2 .5-.4 .6 .4 .6-.7 .5 .8 .6-.1 .6 .2 .5 .4 .6-.9 .6 .1 .5 0 .6-.3"/><path class="k" d="M.8 16.1l0-8.2 1.4 .5 .4 4.3-1.1 .8 .5-.2 .6 .2 .6-.2 .5-.1 .6 .3 .6-.4 .5 .2 .6 .2 .6 .2 .5-.9 .6 .4 .6-.3 .5 .3 .6-.4 .6 .3 .5 .3 .6-.2 .6 .1 .5 .3 .6 0 .6-.5 .5-.4 .6 .7 .6-.1 .5 .3 .6-.4 .6-.2 .5 .3 .6-.2 .6-.3 .5 .9 .6-1.4 .6 .5 .5 .2 .6-.1 .6 .4 .5-.2 .6 .5 .6-.6 .5 .3 .6 .3 .6-.3 .5 .4 .6-.5 .6 0 .5-.2 .6-.3 0 3.6-.6 0-.5 0-.6-.1-.6 0-.5 0-.6 0-.6-.1-.5 .1-.6 .1-.6 0-.5-.1-.6 .1-.6-.1-.5-.1-.6 .2-.6 0-.5-.2-.6 .1-.6-.1-.5 .1-.6 .1-.6 0-.5 .1-.6-.2-.6 0-.5 .1-.6-.1-.6 .1-.5-.2-.6 .1-.6 0-.5 .1-.6-.2-.6 .1-.5 .1-.6-.1-.6 .1-.5-.1-.6 .1-.6-.2-.5 .2-.6 .1-.6-.1-.5-.1-.6 0-.6 0-.5-.1-.7 0z"/><use href="#f"/></g>
<g transform="translate(147.4 129.4)" color="#0000ff" stroke="none"><use href="#g"/><path class="c" d="M.9 8.7l.6 1.8 .5-1.1 .6 1.1 .6-.4 .5 .9 .6-.4 .6 .4 .5-.1 .6 1 .6-1 .5 .8 .6-1.3 .6 .9 .5-.4 .6 .4 .6 0 .5-.2 .6 .5 .6 .5 .5 .4 .6-.6 .6-.2 .5 0 .6-1 .6 .3 .5 1 .6-.9 .6 .3 .5 0 .6 .4 .6 .3 .5-.5 .6-.5 .6 .1 .5-.6 .6 .8 .6-.1 .5 .2 .6 1.1 .6-.5 .5-.9 .6 1.3 .6-1.4 .5 .2 .6-.3 .6 .7 .5 .1 .6 .4 0 1.3-.6-.3-.5-.2-.6 .8-.6-1-.5 0-.6 1-.6-.3-.5 0-.6 .5-.6-1-.5-.3-.6 .6-.6-.6-.5 .1-.6 0-.6 .3-.5 .3-.6-.2-.6 .3-.5-.7-.6 .2-.6 .9-.5-.7-.6-.1-.6 .3-.5-.4-.6 .8-.6 .1-.5-.3-.6-.2-.6-.2-.5 .1-.6-.4-.6 .1-.5 0-.6 .4-.6-.1-.5-.7-.6 1-.6-.4-.5-.3-.6 .6-.6-.2-.5-.5-.6 .6-.6-.7-.5 .6-.6 0z"/><path class="d" d="M.9 13.3l.6 .1 .5-.6 .6 .7 .6-1.4 .5 1.3 .6 .1 .6-.4 .5-.3 .6 .5 .6-.9 .5 1 .6 .2 .6-.5 .5-.1 .6-.5 .6 .6 .5-.2 .6 .3 .6 .3 .5-.6 .6 .8 .6-3 .5 2.3 .6 .2 .6-.3 .5 1.2 .6-.9 .6-.4 .5 .8 .6-.3 .6 .1 .5-.4 .6-.1 .6-.4 .5 .2 .6 .5 .6-.6 .5 .1 .6 1.1 .6-.3 .5 0 .6 .4 .6-1.2 .5 .3 .6 .7 .6-1.1 .5-4 .6 5"/><path class="d" d="M.9 13.4l.6 .1 .5-.7 .6 .7 .6-1.3 .5 .8 .6 .7 .6-.6 .5-.3 .6 .4 .6-.8 .5 1 .6-.1 .6-1 .5 .8 .6 0 .6 .3 .5-.1 .6 0 .6 0 .5-4.4 .6 4.8 .6-.6 .5 .5 .6-1.1 .6-.2 .5 1.6 .6-1 .6-.2 .5 .9 .6-.3 .6-.1 .5-.6 .6 .1 .6 0 .5-.1 .6 .6 .6-.7 .5 .4 .6 .7 .6-.1 .5-.2 .6 .3 .6-.6 .5-1.2 .6 2.1 .6-.8 .5 .3 .6-.1"/><path class="k" d="M.8 16.1l0-7.8 1.4 .5 .4 3.9-1.1 .6 .5-.6 .6 .7 .6-.6 .5 .5 .6 .2 .6-.6 .5 .3 .6 .4 .6-1 .5 .7 .6 .1 .6-.4 .5 0 .6-.1 .6 .4 .5-.1 .6 .2 .6 .2 .5 .3 .6-.1 .6-.8 .5 .4 .6-.3 .6 .1 .5 .7 .6-.9 .6-.2 .5 .7 .6-.3 .6 .2 .5-.3 .6-.3 .6 0 .5-.1 .6 .6 .6-.6 .5 .3 .6 1 .6-.5 .5 0 .6 .3 .6-1 .5 0 .6 1 .6-.8 .5 .2 .6 .3 0 2.9-.6-.3-.5 .2-.6-.1-.6-.1-.5 .1-.6 0-.6 0-.5-.1-.6 .1-.6 0-.5 0-.6-.1-.6 .1-.5 0-.6-.1-.6 .1-.5 .1-.6 0-.6-.2-.5 0-.6 .3-.6 0-.5-.1-.6 0-.6 0-.5-.1-.6 .1-.6 0-.5-.1-.6 .1-.6-.1-.5 .2-.6-.1-.6 0-.5-.1-.6 0-.6 0-.5-.1-.6 .2-.6 0-.5 0-.6-.1-.6 0-.5 .1-.6-.1-.6 0-.5 .2-.7-.3z"/><use href="#f"/></g>
<g transform="translate(188.6 129.4)" color="#0000ff" stroke="none"><use href="#g"/><path class="c" d="M.9 9.4l.6 .3 .5 .7 .6-.4 .6 1 .5 .4 .6-.7 .6 .1 .5 .8 .6 0 .6-1.2 .5 .6 .6 .1 .6-.1 .5-.9 .6 .4 .6 .1 .5 1.1 .6-.3 .6-.7 .5 .6 .6 .5 .6-.3 .5-.1 .6-.1 .6 .7 .5-.4 .6-1.8 .6 1.5 .5 .4 .6-.6 .6 .4 .5 .2 .6-1.2 .6 1.2 .5-1.3 .6 1.4 .6 .5 .5-.5 .6-1.8 .6 .5 .5-.2 .6 1.5 .6 .1 .5-.8 .6 .2 .6 .1 .5-.3 .6 .6 0 1.4-.6 .1-.5 .6-.6-.5-.6 0-.5-.1-.6 0-.6 .1-.5-.1-.6 0-.6 .9-.5-.4-.6-.5-.6 0-.5 .2-.6-.5-.6 .2-.5 0-.6 0-.6-.1-.5 .1-.6-.4-.6 .7-.5 .2-.6-.6-.6 .2-.5-.3-.6 .4-.6 .1-.5-.8-.6 .7-.6 .1-.5-.1-.6-.1-.6-.5-.5 .4-.6 0-.6-.3-.5 .1-.6 .7-.6-.3-.5-.2-.6-.3-.6 .4-.5 .4-.6-.4-.6 .2-.5-.3-.6 0z"/><path class="d" d="M.9 12.9l.6 .3 .5-.8 .6 .9 .6 .1 .5-.7 .6 .2 .6 .4 .5-.5 .6 .5 .6-.4 .5-.3 .6 .4 .6 0 .5-.4 .6 .7 .6-.3 .5-2.9 .6 3 .6-.4 .5 .9 .6-.7 .6-.1 .5 .3 .6-.7 .6 1.2 .5-.9 .6-.4 .6 .8 .5-4.3 .6-.9 .6 5.1 .5-5 .6 4.6 .6 .2 .5 .4 .6-.1 .6 .5 .5 .4 .6-1 .6 .1 .5-2 .6-1 .6 3.1 .5 .1 .6-2.2 .6 2.7 .5-.5 .6-.4"/><path class="d" d="M.9 12.8l.6-.4 .5 1.1 .6-.8 .6 1.1 .5-.9 .6-.2 .6 .5 .5-.3 .6 0 .6 0 .5-.2 .6 .5 .6-.3 .5-.6 .6 1 .6-.2 .5 .1 .6 .3 .6-.8 .5 .6 .6 .1 .6-.3 .5-3.2 .6 3.3 .6 .6 .5-.7 .6-.3 .6 .1 .5 .1 .6 .1 .6 .1 .5-.4 .6 .2 .6 .6 .5-1.3 .6 .7 .6 .6 .5 .5 .6-1.1 .6 .3 .5-.1 .6 .1 .6-.6 .5 .8 .6-.1 .6 .3 .5-.5 .6 .1"/><path class="k" d="M.8 16.1l0-8.1 1.4 .5 .4 4.2-1.1 .4 .5 .3 .6-.2 .6 .4 .5-.4 .6-.4 .6 .3 .5 .2 .6 .3 .6-.7 .5-.1 .6 .3 .6 0 .5-.4 .6 .5 .6 .1 .5 .1 .6-.1 .6-.7 .5 .8 .6-.1 .6-.4 .5 .3 .6-.2 .6 .6 .5-.2 .6-.7 .6 .4 .5-.1 .6 .1 .6 0 .5 0 .6-.2 .6 .5 .5-.2 .6 0 .6 .5 .5 .4 .6-.9 .6 0 .5 .1 .6-.1 .6 0 .5 .1 .6 0 .6 .5 .5-.6 .6-.1 0 3.4-.6-.5-.5 .3-.6-.2-.6 .2-.5 0-.6-.2-.6 .1-.5 .1-.6-.1-.6-.1-.5 0-.6 .1-.6 .1-.5-.1-.6-.2-.6 .2-.5 .2-.6 0-.6-.2-.5-.1-.6 .3-.6-.1-.5 0-.6-.1-.6 0-.5-.1-.6 .1-.6 .1-.5-.1-.6 .1-.6-.1-.5 0-.6 .3-.6-.2-.5 .1-.6-.2-.6-.1-.5 0-.6 .1-.6-.1-.5 .1-.6 .1-.6-.2-.5 0-.6 0-.6 .1-.5 0-.7-.1z"/><use href="#f"/></g>
<g transform="translate(229.7 129.4)" color="#008a00" stroke="none"><use href="#g"/><path class="c" d="M.9 8.7l.6 1.3 .5-.2 .6 0 .6 .7 .5-.7 .6 1.1 .6-.1 .5-.5 .6 .4 .6-.1 .5 .4 .6 .3 .6 .5 .5 0 .6-1.3 .6 .4 .5 1.1 .6-1 .6 .2 .5 .7 .6-.7 .6 .4 .5-.1 .6 .1 .6-.2 .5-.3 .6-.4 .6 .5 .5-.2 .6 .2 .6 .7 .5-.5 .6 .1 .6 0 .5-.6 .6 .2 .6 .7 .5-.3 .6 .2 .6-.8 .5 .4 .6-.9 .6 1.6 .5-.5 .6-.1 .6-.1 .5 0 .6-.2 0 1.7-.6 .2-.5-.4-.6 .2-.6 .5-.5 .3-.6-.9-.6 .4-.5-.2-.6 .3-.6-.2-.5 .2-.6-.6-.6 .7-.5 0-.6-.3-.6 .2-.5 .1-.6-.4-.6-.2-.5 .1-.6 .6-.6 .1-.5-.4-.6-.1-.6 0-.5-.1-.6 .1-.6 .3-.5-.3-.6 .2-.6 .3-.5-.8-.6-.2-.6 .8-.5 .1-.6-.2-.6-.3-.5 .5-.6-.3-.6-.2-.5 .2-.6 .1-.6-.6-.5 .7-.6 0-.6-.3-.5 .5-.6-.1z"/><path class="d" d="M.9 13.6l.6-.6 .5 .2 .6-.2 .6 .4 .5-.8 .6 .3 .6-2.4 .5-1 .6 3.7 .6-.1 .5-.8 .6 1.1 .6 0 .5-.3 .6-.4 .6-.3 .5 .7 .6 0 .6-.1 .5 .2 .6-.5 .6 .2 .5 .1 .6-.2 .6 .3 .5 .1 .6 0 .6-.3 .5-.2 .6 .2 .6-2.9 .5 3.4 .6-.3 .6-3.5 .5 3.6 .6-1.2 .6 1.1 .5-.3 .6-.3 .6 .5 .5 .2 .6-.7 .6 1.2 .5-.2 .6-.6 .6-.6 .5 .9 .6-.3"/><path class="d" d="M.9 13.1l.6-1.3 .5 1.4 .6-.1 .6-2.9 .5 2.6 .6 .4 .6-.2 .5-.4 .6 0 .6 .9 .5-1 .6 .9 .6 0 .5-.4 .6-.5 .6-.1 .5-2.5 .6 3.2 .6 .1 .5-.1 .6 .1 .6-.7 .5 .3 .6 .2 .6 0 .5 .6 .6-.7 .6-.2 .5 .1 .6 .3 .6 .3 .5-.3 .6 0 .6 .1 .5-.3 .6-.4 .6 .5 .5-.7 .6-.1 .6 .6 .5 0 .6-4.1 .6 4.8 .5-.5 .6-.1 .6-.2 .5 .2 .6-.2"/><path class="k" d="M.8 16.1l0-8.5 1.4 .5 .4 4.6-1.1 .8 .5-.5 .6 .3 .6 0 .5-.7 .6 .6 .6-.1 .5-.2 .6 .2 .6 .3 .5-.5 .6 .3 .6 .2 .5-.1 .6-.8 .6 .2 .5 .8 .6-.3 .6-.2 .5 .3 .6-.3 .6-.1 .5 .1 .6 0 .6 .1 .5 .4 .6-.1 .6-.6 .5-.1 .6 .2 .6 .4 .5-.1 .6-.2 .6 .3 .5 0 .6-.7 .6 .6 .5-.2 .6 .2 .6-.3 .5 .2 .6-.4 .6 .9 .5-.3 .6-.5 .6-.2 .5 .4 .6-.2 0 3.6-.6-.1-.5-.1-.6 .2-.6-.1-.5-.1-.6 0-.6 .2-.5-.2-.6 .1-.6 0-.5 .2-.6-.3-.6-.1-.5 .2-.6-.1-.6 0-.5 0-.6 .1-.6-.2-.5 .1-.6 .1-.6-.1-.5 .1-.6 .1-.6-.1-.5-.1-.6 0-.6 0-.5 .1-.6-.1-.6 .1-.5 0-.6-.1-.6-.2-.5 .3-.6-.2-.6 .2-.5 0-.6-.1-.6-.2-.5 .1-.6 0-.6 .1-.5 .1-.6 0-.6-.2-.5 .1-.7-.1z"/><use href="#f"/></g>
<g transform="translate(270.8 129.4)" color="#008a00" stroke="none"><use href="#g"/><path class="c" d="M.9 7.5l.6 1.5 .5 1 .6 .3 .6-.5 .5 .6 .6-.3 .6 .6 .5 0 .6 .9 .6-.9 .5 .3 .6 .3 .6 .1 .5-.1 .6 .2 .6 .7 .5-1.2 .6 .7 .6-1.6 .5 .7 .6 1.2 .6-.5 .5 0 .6-.6 .6 .4 .5 .7 .6-1.1 .6 .7 .5-.8 .6 .9 .6-.1 .5 0 .6-.5 .6 1 .5-.1 .6-.4 .6-.5 .5 .2 .6 .1 .6-.2 .5 .5 .6-.5 .6 .2 .5-.3 .6 .5 .6-1.4 .5 1.6 .6-.3 0 1.4-.6 .3-.5-.5-.6 .5-.6 .7-.5-.9-.6 .1-.6 .4-.5-.3-.6-.2-.6 .2-.5 0-.6 .1-.6 .1-.5 .3-.6-.4-.6 .1-.5 0-.6-.3-.6-.4-.5 .5-.6 .3-.6 .5-.5-.7-.6 0-.6-.2-.5 .2-.6 .5-.6-1-.5 .6-.6 .1-.6-.7-.5 .8-.6-.5-.6 .1-.5 .7-.6-1-.6-.1-.5 0-.6 .8-.6 .1-.5-.3-.6-.5-.6-.4-.5 .9-.6 0-.6-.5-.5 0-.6 .1z"/><path class="d" d="M.9 12.9l.6 .1 .5-.1 .6 .5 .6 .2 .5-1.9 .6-.6 .6 2.1 .5 .6 .6-.1 .6-.8 .5-.2 .6 .2 .6 .8 .5-.4 .6-.2 .6 .3 .5-.4 .6 0 .6 .2 .5-.6 .6 1.3 .6-.6 .5-.5 .6 .5 .6-.3 .5 .6 .6 .1 .6-.6 .5-.8 .6 .9 .6 .4 .5-.3 .6-.1 .6 .5 .5-.3 .6 .1 .6-.3 .5-.3 .6 0 .6 .6 .5-.5 .6 .2 .6-.2 .5 1.1 .6-.9 .6-.7 .5 .8 .6-.6"/><path class="d" d="M.9 13.2l.6-.5 .5-.1 .6 .8 .6-.2 .5-1 .6 .6 .6 .3 .5 .3 .6 .3 .6-1.1 .5 .1 .6 .1 .6 .8 .5-.3 .6-.2 .6 .7 .5-1.4 .6-.4 .6 1.3 .5-.5 .6-3.3 .6 4 .5-.2 .6-.1 .6 0 .5 .9 .6-.6 .6-.1 .5-.5 .6 .4 .6-.1 .5-.2 .6 .4 .6 .5 .5-.6 .6-.2 .6 .2 .5-.1 .6-.6 .6 .8 .5 .2 .6-.3 .6-.4 .5 .8 .6-.9 .6-.4 .5 .8 .6-.4"/><path class="k" d="M.8 16.1l0-8 1.4 .5 .4 4.1-1.1 .2 .5 0 .6 .5 .6 0 .5-.9 .6 .4 .6 .5 .5 .3 .6-.1 .6-.8 .5 0 .6 .1 .6 1 .5-.7 .6-.1 .6 .5 .5-.8 .6 .7 .6-.1 .5-.6 .6 1 .6-.5 .5-.2 .6 .2 .6 0 .5 .7 .6-.5 .6-.3 .5-.5 .6 .4 .6 .3 .5 0 .6-.1 .6 .4 .5-.3 .6-.1 .6-.1 .5 0 .6-.2 .6 .2 .5 .3 .6-.4 .6-.1 .5 .9 .6-.7 .6-.5 .5 .5 .6-.3 0 3.2-.6 .2-.5-.1-.6-.1-.6 .1-.5-.1-.6 0-.6 .2-.5-.3-.6 0-.6 .4-.5-.2-.6-.1-.6 .1-.5 .1-.6-.1-.6 0-.5 .1-.6-.3-.6 .3-.5 0-.6 0-.6-.1-.5 .1-.6-.1-.6 .1-.5-.1-.6 0-.6 0-.5 .1-.6 0-.6-.4-.5 .5-.6-.2-.6 .2-.5 .2-.6-.4-.6 0-.5 0-.6 0-.6 0-.5 0-.6 .1-.6-.1-.5-.1-.6 .3-.6-.2-.5 .2-.7-.3z"/><use href="#f"/></g>
<g transform="translate(311.9 129.4)" color="#0000ff" stroke="none"><use href="#g"/><path class="c" d="M.9 8.7l.6 .1 .5 1.2 .6 .3 .6 .1 .5 .9 .6-.8 .6-.8 .5 1.8 .6 .1 .6-1.6 .5 1.3 .6 .2 .6-1 .5 .9 .6 .1 .6 .4 .5-.6 .6-.4 .6 .1 .5 .4 .6-.7 .6 .3 .5 .5 .6-1.2 .6 1.1 .5-.6 .6 .5 .6-.6 .5 .3 .6-.5 .6 .6 .5 .3 .6-.4 .6 .6 .5 .5 .6-1.6 .6 1.4 .5-.4 .6 .5 .6-.3 .5-.1 .6 .3 .6 .4 .5-.8 .6 0 .6-.4 .5 .5 .6 .4 0 1.4-.6 .1-.5-.3-.6 0-.6-.2-.5 1-.6-.7-.6-.4-.5 .1-.6 .5-.6-.4-.5 .6-.6 0-.6-.2-.5-.5-.6-.1-.6 0-.5 .4-.6-.4-.6-.3-.5 .1-.6 .2-.6-.3-.5 .3-.6-.2-.6 .8-.5-.8-.6 .6-.6-.2-.5 .2-.6-1.1-.6 .4-.5 .7-.6-.1-.6-.3-.5 .8-.6-.6-.6 0-.5-.6-.6 .9-.6-.4-.5-.3-.6 .5-.6 .5-.5-.5-.6 0-.6 .2-.5-.4-.6 .2z"/><path class="d" d="M.9 13.4l.6-.3 .5 .5 .6-.3 .6-.1 .5 .6 .6-.5 .6-.5 .5 0 .6 .5 .6-1.1 .5 1.1 .6-.5 .6 1.1 .5-1.1 .6 .4 .6-.2 .5-.4 .6-.7 .6 1.1 .5-.2 .6 .3 .6-.5 .5 .9 .6-1 .6 0 .5 .2 .6 .4 .6-.5 .5 0 .6 .2 .6 .2 .5-.4 .6 .5 .6 0 .5 0 .6 .1 .6-1.7 .5 1.4 .6 .8 .6-.9 .5-4.5 .6 5 .6 .8 .5-1.2 .6 .4 .6 0 .5-.2 .6 .3"/><path class="d" d="M.9 13.2l.6 0 .5 .3 .6-.1 .6-.5 .5 .5 .6-.4 .6-.5 .5 0 .6 .6 .6-1 .5 .7 .6 .5 .6 .3 .5-.7 .6 .4 .6 .1 .5-.7 .6-.7 .6 1.5 .5-.2 .6-.2 .6-3.4 .5 3.8 .6-.6 .6-2.8 .5 2.4 .6 .5 .6-.4 .5-.2 .6 .4 .6 .1 .5-.4 .6 .1 .6 .2 .5 .8 .6 .3 .6 0 .5-1 .6 .8 .6-1.1 .5 .1 .6 .5 .6 .8 .5-.9 .6-.2 .6 .1 .5 .1 .6 0"/><path class="k" d="M.8 16.1l0-8.5 1.4 .5 .4 4.6-1.1 .3 .5 .4 .6-.2 .6 0 .5 .5 .6-.5 .6-.5 .5 .3 .6 .4 .6-.9 .5 .6 .6 0 .6 .6 .5-.8 .6 .3 .6 .1 .5-.7 .6-.4 .6 1.1 .5-.2 .6 .2 .6-.6 .5 .8 .6-.8 .6 .2 .5-.3 .6 .3 .6-.2 .5-.1 .6 .3 .6 .4 .5-.4 .6 0 .6 .1 .5 .5 .6 .2 .6 0 .5-.6 .6 .4 .6-.5 .5-.1 .6 .4 .6 .7 .5-1 .6 .2 .6 0 .5 .3 .6-.1 0 3-.6 0-.5-.1-.6-.2-.6 .3-.5-.2-.6 .1-.6 0-.5-.1-.6 .1-.6-.1-.5 .2-.6-.2-.6 .1-.5-.2-.6 .1-.6 0-.5-.2-.6 .3-.6-.1-.5 .1-.6 0-.6-.1-.5 0-.6 0-.6 0-.5 .1-.6-.3-.6 .1-.5 .1-.6 .1-.6 0-.5 0-.6 .1-.6-.1-.5 .1-.6-.1-.6-.1-.5 0-.6 .2-.6-.4-.5 .3-.6-.1-.6 0-.5 .2-.6 0-.6-.2-.5 .1-.7-.2z"/><use href="#f"/></g>
<g transform="translate(353 129.4)" color="#0000ff" stroke="none"><use href="#g"/><path class="c" d="M.9 9l.6 1.2 .5 .2 .6 .4 .6 .8 .5-.9 .6 .4 .6 0 .5 .5 .6-.7 .6 .3 .5 .4 .6 0 .6-.6 .5 1 .6-1 .6 .7 .5-1 .6 .8 .6-.8 .5 .8 .6 .2 .6-.5 .5-.5 .6-.1 .6 .4 .5 .2 .6 .1 .6-.9 .5 1 .6-.4 .6 .3 .5 .5 .6-.8 .6 .5 .5 .8 .6-1.3 .6 .6 .5-.5 .6 .2 .6 .7 .5-.1 .6-.3 .6-1.8 .5 2 .6-.7 .6 .3 .5 .9 .6-.1 0 1.4-.6 .1-.5-.1-.6-.4-.6 .2-.5-.5-.6 .4-.6 .5-.5 .1-.6-.9-.6-.2-.5 .5-.6-.6-.6 1.2-.5-.9-.6 0-.6 .2-.5 .4-.6 0-.6-.2-.5-1.1-.6 .5-.6 .4-.5-.1-.6-.2-.6-.6-.5 .9-.6 .5-.6-.6-.5 .1-.6 .1-.6 .1-.5-.3-.6 .4-.6-.1-.5-.4-.6 .6-.6-.1-.5-.5-.6 0-.6 .4-.5-.4-.6 .4-.6 .1-.5 .1-.6-.6-.6 .4-.5-.3-.6-.1z"/><path class="d" d="M.9 13l.6-.2 .5 .6 .6-.7 .6 .5 .5 .4 .6-.4 .6-.4 .5 .6 .6-.6 .6 .2 .5 .6 .6 0 .6-.4 .5 0 .6 .4 .6-.4 .5 .4 .6-.5 .6 .1 .5-.2 .6 .6 .6-.2 .5-1.1 .6 .4 .6 .3 .5 .2 .6-.5 .6-.4 .5 1.2 .6 .1 .6-.5 .5 0 .6-.1 .6 .2 .5 .7 .6-1.3 .6 0 .5 0 .6-.2 .6-.7 .5 1.5 .6-.2 .6-.1 .5 .6 .6-1 .6 1.2 .5-.3 .6-.1"/><path class="d" d="M.9 13.2l.6-4.3 .5 4.2 .6-.1 .6 .2 .5-.2 .6 .4 .6-.3 .5 .3 .6-3 .6 2.7 .5 .5 .6-.4 .6 .1 .5 .1 .6-.3 .6-.4 .5 .9 .6-.6 .6 0 .5-.4 .6 .9 .6-.4 .5-.8 .6 .4 .6-.2 .5 .8 .6-.9 .6 0 .5 1 .6 .2 .6-.3 .5-.1 .6 0 .6-.6 .5 .5 .6-.9 .6 1.2 .5-.8 .6 .4 .6 .9 .5-.7 .6-.2 .6 0 .5 .4 .6 0 .6 .4 .5 0 .6 0"/><path class="k" d="M.8 16.1l0-7.7 1.4 .5 .4 3.8-1.1 .4 .5 .3 .6-.4 .6 .6 .5-.1 .6-.1 .6-.4 .5 .4 .6-.4 .6 0 .5 .5 .6 .1 .6-.6 .5 .4 .6 .1 .6-.4 .5 .3 .6-.1 .6-.1 .5-.1 .6 .6 .6-.5 .5-.9 .6 .6 .6 .2 .5 .1 .6-.4 .6-.5 .5 1.1 .6 .2 .6 0 .5-.4 .6-.2 .6 0 .5 .9 .6-1.2 .6 .6 .5-.5 .6 .2 .6 .9 .5-.1 .6-.5 .6-.4 .5 .5 .6-.2 .6 .4 .5 .1 .6-.1 0 2.7-.6-.1-.5 .1-.6 .1-.6-.2-.5 .1-.6 .1-.6-.3-.5 .3-.6-.1-.6-.1-.5 0-.6 0-.6-.1-.5 .1-.6 0-.6-.3-.5 .5-.6-.3-.6 .3-.5-.2-.6 0-.6-.1-.5 .1-.6 0-.6 0-.5 0-.6 .1-.6 0-.5-.1-.6 .1-.6-.1-.5-.1-.6 .2-.6-.1-.5-.1-.6 .3-.6-.2-.5 0-.6 .1-.6 0-.5 .1-.6-.1-.6-.2-.5 .1-.6-.1-.6 0-.5 .1-.7-.1z"/><use href="#f"/></g>
<g transform="translate(394.2 129.4)" color="#0000ff" stroke="none"><use href="#g"/><path class="c" d="M.9 7.5l.6 1.5 .5 1.3 .6-.9 .6 .9 .5 1.1 .6-.9 .6 .7 .5 .1 .6 .5 .6-.3 .5-.4 .6-1 .6 1.1 .5 .6 .6-.9 .6 1.1 .5-.4 .6-.6 .6-1.2 .5 1.6 .6 .2 .6-.5 .5 .2 .6-.4 .6-.7 .5 2 .6-.8 .6-.4 .5 .8 .6-.6 .6 .9 .5-.1 .6-.7 .6 .4 .5-.1 .6 .2 .6-.5 .5-1.6 .6 1.9 .6-.3 .5-.1 .6 .3 .6-.3 .5 0 .6 .9 .6-1.9 .5 1.4 .6 .5 0 1.4-.6-.2-.5-.1-.6 .4-.6-.4-.5-.2-.6-.2-.6-.1-.5 .2-.6 .1-.6-.3-.5 .4-.6 .3-.6 .2-.5-.1-.6-.7-.6 .6-.5 0-.6-.4-.6 .5-.5-.3-.6-.2-.6 .6-.5-.8-.6 .6-.6-.1-.5 .3-.6-.4-.6 0-.5 0-.6 .4-.6-.1-.5 .1-.6-.1-.6-.2-.5-.1-.6-.1-.6-.5-.5 .7-.6 .6-.6-.7-.5 .1-.6-.3-.6 .6-.5-.1-.6-.9-.6 .8-.5-.3-.6-.3z"/><path class="d" d="M.9 12.8l.6 .2 .5 .4 .6-1 .6 .7 .5 .3 .6-.3 .6 .1 .5-.2 .6 .9 .6-.7 .5-.6 .6 .3 .6 .4 .5 0 .6-.2 .6 .6 .5-.2 .6-.1 .6-.2 .5-.6 .6 .5 .6 .5 .5-.3 .6 .3 .6-.8 .5 .8 .6-.8 .6-.1 .5 .8 .6-.4 .6 .2 .5 0 .6-1.2 .6 1.2 .5-2 .6 2.2 .6-.2 .5-.6 .6 .3 .6-.2 .5 0 .6-.6 .6 .5 .5 .7 .6 .3 .6-.4 .5-.3 .6 .6"/><path class="d" d="M.9 12.6l.6 .5 .5-.7 .6 .3 .6 .8 .5 .3 .6-.7 .6-.2 .5 .4 .6 .8 .6-1.3 .5 0 .6 .3 .6 .3 .5-.2 .6 .3 .6-.1 .5-.5 .6 .5 .6-.7 .5 .6 .6-.2 .6 .5 .5-.9 .6 .3 .6-.1 .5 .8 .6-1.1 .6 .6 .5 .3 .6-5.7 .6 5.8 .5-.5 .6-.5 .6 1 .5-2.8 .6 2.5 .6-.7 .5 .1 .6 0 .6 .4 .5-.2 .6-.1 .6 .2 .5-2.9 .6 3.5 .6-.7 .5 0 .6 .6"/><path class="k" d="M.8 16.1l0-8.3 1.4 .5 .4 4.4-1.1 .4 .5 .3 .6-.8 .6 .9 .5 .1 .6-.6 .6 .3 .5-.1 .6 .7 .6-.6 .5-.7 .6 .5 .6 .1 .5 .1 .6 .2 .6 .1 .5-.1 .6 .1 .6-.4 .5 0 .6 0 .6 .4 .5-.3 .6 .1 .6-.6 .5 .8 .6-.6 .6 .2 .5 .3 .6-.5 .6 .4 .5 0 .6-.6 .6 .7 .5 .1 .6-.2 .6-.3 .5-.4 .6 .3 .6-.1 .5-.2 .6 .1 .6 .2 .5 .2 .6 .4 .6-.4 .5 .1 .6 .2 0 2.8-.6-.2-.5 .2-.6 .1-.6-.2-.5 0-.6 0-.6-.1-.5 .2-.6 0-.6-.1-.5 0-.6-.1-.6 .1-.5 0-.6 .1-.6 0-.5-.1-.6 0-.6 0-.5 .1-.6-.1-.6 0-.5 0-.6-.1-.6 .2-.5-.2-.6 .2-.6 .1-.5-.2-.6 0-.6-.1-.5 0-.6 .2-.6-.1-.5 .1-.6-.2-.6 .1-.5 0-.6-.1-.6 .2-.5-.1-.6 .1-.6 0-.5-.2-.6 0-.6 .2-.5-.1-.7-.1z"/><use href="#f"/></g>
<g transform="translate(435.3 129.4)" color="#0000ff" stroke="none"><use href="#g"/><path class="c" d="M.9 7.8l.6 1.1 .5 1.9 .6-.3 .6-.1 .5 .3 .6 .2 .6 .4 .5-.5 .6 .7 .6 .2 .5-.7 .6-1.2 .6 2.1 .5-.2 .6-.3 .6 .5 .5-.5 .6-.1 .6 .2 .5 .5 .6-.3 .6 1.1 .5-1 .6-.4 .6-.3 .5 .4 .6-1 .6 1.4 .5-.8 .6 .8 .6 .4 .5-.7 .6 1.1 .6-1.6 .5 .5 .6-.4 .6 .6 .5-.4 .6-.3 .6 0 .5-1 .6 1.5 .6 .5 .5-1.2 .6 .4 .6 .4 .5-.2 .6 .5 0 1.5-.6-.5-.5 .1-.6-.2-.6-.3-.5 1-.6-.3-.6-.6-.5 0-.6 .2-.6-.1-.5 .5-.6-.5-.6 .5-.5-.2-.6 .9-.6-1.1-.5 .7-.6-.4-.6 .2-.5 .1-.6-.4-.6 0-.5 .7-.6-.4-.6 .2-.5 .4-.6-.5-.6 .1-.5-.1-.6-.7-.6 0-.5 1.2-.6-.5-.6-.4-.5 .5-.6-.9-.6 .6-.5 0-.6-.1-.6-.1-.5 .4-.6-.1-.6-.5-.5 .2-.6 .1-.6 .3-.5-.4-.6 .1z"/><path class="d" d="M.9 13.4l.6-.3 .5 .5 .6-.5 .6 .3 .5-.6 .6-3.3 .6 4 .5-.6 .6-.1 .6 .5 .5 .2 .6-1.1 .6 1 .5-.1 .6 .2 .6 .2 .5-.7 .6-.1 .6 .8 .5-.2 .6 0 .6 .3 .5 0 .6-.2 .6-.3 .5-.2 .6 0 .6 .1 .5 .2 .6-.5 .6 .6 .5-1 .6 1.7 .6-.9 .5-.1 .6-.5 .6 .8 .5-.5 .6 0 .6-.2 .5 .1 .6 .4 .6 0 .5-.7 .6 .3 .6-.3 .5 .4 .6 0"/><path class="d" d="M.9 13.1l.6 0 .5 .6 .6-.3 .6-.5 .5 0 .6-2.4 .6 3.1 .5-.8 .6 0 .6 .6 .5-.1 .6-.4 .6 .8 .5-1 .6 1 .6 .3 .5-1.5 .6 .2 .6 .5 .5-3.4 .6 2.9 .6 1.5 .5-.5 .6-.1 .6 0 .5-.2 .6-3.8 .6 3.8 .5 0 .6 0 .6-.1 .5-.5 .6 1.3 .6-1 .5-1.9 .6 1.8 .6 .1 .5-.2 .6-.6 .6 .4 .5-.4 .6 .9 .6 .6 .5-2.1 .6 .7 .6-3.5 .5 4.1 .6 .5"/><path class="k" d="M.8 16.1l0-8.8 1.4 .5 .4 4.9-1.1 .4 .5 .4 .6-.3 .6-.1 .5-.2 .6 .5 .6 .1 .5-.4 .6 .1 .6 .1 .5 0 .6-.6 .6 .9 .5-.5 .6 .4 .6 .5 .5-1.2 .6 0 .6 .7 .5 .1 .6-.1 .6 .5 .5-.4 .6-.2 .6 .4 .5-.7 .6 0 .6 .4 .5-.1 .6-.2 .6 .4 .5-.7 .6 1.1 .6-.9 .5 .2 .6-.5 .6 .5 .5-.5 .6 .1 .6-.2 .5 0 .6 .6 .6 .3 .5-1 .6 .3 .6 .2 .5-.1 .6 .5 0 2.7-.6 0-.5 0-.6 .1-.6 0-.5-.1-.6 .1-.6-.1-.5 .1-.6-.1-.6 0-.5 .1-.6 .2-.6-.3-.5 .1-.6 0-.6-.1-.5 .1-.6 0-.6-.2-.5 .2-.6 0-.6-.1-.5 .2-.6-.2-.6 0-.5 0-.6 0-.6 0-.5 .1-.6-.1-.6-.2-.5 .3-.6 0-.6-.2-.5 .1-.6 0-.6 0-.5-.1-.6 .2-.6-.1-.5 0-.6 0-.6 0-.5-.1-.6 .2-.6-.1-.5 0-.7-.1z"/><use href="#f"/></g>
<g transform="translate(476.4 129.4)" color="#000" stroke="none"><use href="#g"/><path class="c" d="M.9 9.4l.6-.1 .5 1.3 .6-1.6 .6 1.6 .5 .3 .6 .4 .6 .1 .5-.3 .6 .2 .6-.2 .5 0 .6-.2 .6-.4 .5 .8 .6-.6 .6 1.2 .5 0 .6-1.3 .6 1.2 .5-.2 .6-.5 .6 .3 .5-.3 .6 .7 .6-1.2 .5 .5 .6 .7 .6 0 .5 .7 .6-.4 .6-.5 .5 .1 .6-.4 .6-.6 .5 0 .6 .8 .6 .2 .5-.6 .6-.1 .6 .8 .5-.2 .6-.2 .6 .5 .5 .1 .6-1.1 .6-.1 .5-.9 .6 .9 0 2.2-.6 0-.5 .3-.6-.3-.6 .5-.5-.2-.6-.2-.6-.2-.5 .3-.6-.2-.6-.3-.5 .5-.6-.2-.6 .2-.5 0-.6 .1-.6-.3-.5 .3-.6 .2-.6 .5-.5-.8-.6 .1-.6 .3-.5-.6-.6 .1-.6 .3-.5-.4-.6 .6-.6-.1-.5-.1-.6 .1-.6 .3-.5 0-.6-.7-.6 .4-.5-.6-.6 .4-.6-.1-.5 .6-.6-.8-.6-.1-.5 .3-.6 .1-.6 .2-.5-.6-.6 0-.6 .1-.5-.2-.6 .2z"/><path class="d" d="M.9 13.1l.6-.2 .5 .1 .6-.4 .6 .5 .5 .3 .6 0 .6-.4 .5-.5 .6 .4 .6 .5 .5-.1 .6-.2 .6-.4 .5 .5 .6-.4 .6 .4 .5 .7 .6-.5 .6 .1 .5-.1 .6-.1 .6-.2 .5 .4 .6-.4 .6-.2 .5 .6 .6-.2 .6-.3 .5 1.2 .6-.8 .6-.1 .5-.2 .6 .4 .6-.3 .5-.8 .6 0 .6 .8 .5-.9 .6 .3 .6 .5 .5-.2 .6 .4 .6-.5 .5 .4 .6-.2 .6 .2 .5-.1 .6 0"/><path class="d" d="M.9 8.7l.6 4.2 .5 0 .6-3.5 .6 3 .5 1.3 .6-1 .6-2.1 .5 2.5 .6-.3 .6 .5 .5-.3 .6 .1 .6-4.5 .5 4.6 .6 .1 .6 .7 .5-.1 .6-.7 .6-.2 .5 .7 .6-.2 .6-.6 .5 .2 .6-.2 .6 .1 .5-3.5 .6 4 .6-.2 .5 .8 .6-.4 .6-.5 .5-.1 .6 .2 .6 0 .5-.2 .6-.1 .6 .2 .5-.5 .6 .4 .6-.1 .5-.1 .6 .1 .6-2.7 .5 3.2 .6-.4 .6 .2 .5-.4 .6 .3"/><path class="k" d="M.8 16.1l0-8.7 1.4 .4 .4 4.9-1.1 .1 .5 .2 .6-.1 .6 0 .5 .6 .6-.2 .6-.1 .5-.3 .6 .1 .6 .8 .5-.6 .6 .1 .6-.4 .5 .6 .6-.4 .6 .7 .5 0 .6-.3 .6-.1 .5 .1 .6 .1 .6-.6 .5 .4 .6-.3 .6-.1 .5 .6 .6-.3 .6-.1 .5 .8 .6-.5 .6-.2 .5-.3 .6 .3 .6-.1 .5 0 .6-.2 .6 .2 .5-.5 .6 .3 .6 .2 .5-.3 .6 .2 .6 .2 .5 .2 .6-.5 .6 .3 .5-.3 .6 0 0 3.3-.6-.2-.5 .3-.6-.2-.6-.1-.5 0-.6 0-.6 .1-.5 0-.6 0-.6 .1-.5-.2-.6 .2-.6-.1-.5 .2-.6-.2-.6 .1-.5-.1-.6 .1-.6 0-.5-.1-.6 0-.6 0-.5 0-.6 .2-.6-.1-.5-.1-.6 0-.6-.1-.5 .3-.6-.1-.6-.1-.5 .1-.6 0-.6 0-.5-.1-.6 .1-.6 0-.5-.2-.6 .2-.6 0-.5 .1-.6-.1-.6-.2-.5 0-.6 .1-.6 0-.5 .1-.7-.2z"/><use href="#f"/></g>
<g transform="translate(65.2 156.4)" color="#0000ff" stroke="none"><use href="#g"/><path class="c" d="M.9 8.2l.6 1.9 .5-.7 .6 .4 .6 0 .5-.1 .6 1.3 .6 .1 .5 0 .6-.6 .6 1 .5 .8 .6-.4 .6-.7 .5 .6 .6-.4 .6-1.3 .5 1.8 .6-.5 .6 .1 .5 .2 .6-.4 .6 .5 .5-1.8 .6 2.3 .6-2 .5 1.4 .6 .5 .6-1.2 .5 .8 .6-1.5 .6 1.5 .5 .4 .6-.3 .6-.6 .5 .3 .6 .1 .6-.1 .5 .4 .6-1 .6 .4 .5 .1 .6-.3 .6 .1 .5-.2 .6-.6 .6 .4 .5 .8 .6-.2 0 1.6-.6 .3-.5 .4-.6-.8-.6 0-.5 0-.6-.4-.6 .9-.5-.6-.6 .3-.6 .6-.5-.3-.6 .1-.6-.1-.5 0-.6 .1-.6 0-.5-.3-.6-.8-.6 .8-.5-.3-.6 .7-.6-.2-.5-.2-.6 .2-.6-.8-.5 .5-.6-.1-.6 .2-.5-.3-.6 .2-.6 .4-.5-.5-.6 0-.6 .2-.5-.6-.6 .9-.6 .2-.5-.6-.6-.1-.6 .1-.5 .4-.6-.2-.6-.4-.5-.1-.6 .2-.6 .1-.5 .1-.6-.3z"/><path class="d" d="M.9 12.8l.6 .7 .5-1.4 .6 .6 .6 .3 .5-.4 .6 .5 .6 .7 .5-.4 .6-.7 .6 .7 .5 .6 .6-.1 .6-1 .5 .4 .6-1 .6 .5 .5 .5 .6-.3 .6 0 .5 .3 .6-.1 .6-.2 .5-.2 .6 .4 .6-.5 .5 .6 .6 .1 .6-.6 .5 .6 .6-1.3 .6 1.3 .5 .1 .6-.4 .6 0 .5-1.5 .6 1.6 .6 0 .5 .6 .6-.6 .6-.6 .5 1.1 .6-1.4 .6 .5 .5 .2 .6-.6 .6 1.3 .5-.4 .6-.1"/><path class="d" d="M.9 12.6l.6 .8 .5-.3 .6-.1 .6-.5 .5 .4 .6 0 .6 .6 .5 0 .6-.3 .6-.1 .5 .8 .6-.7 .6-.4 .5 .3 .6 0 .6-.2 .5 .7 .6-.2 .6-.3 .5 .3 .6-.2 .6-2.8 .5 2.2 .6 1 .6-.5 .5 .4 .6-.3 .6 0 .5 .1 .6-.7 .6-3.5 .5 4.3 .6 .2 .6-.2 .5 .3 .6-.6 .6 .6 .5-.1 .6-.4 .6-1 .5 1.2 .6-.7 .6 .3 .5-.3 .6 .1 .6 1 .5-.2 .6-1.1"/><path class="k" d="M.8 16.1l0-8.9 1.4 .4 .4 5.1-1.1 .6 .5-.1 .6-.1 .6-.2 .5 .1 .6 .4 .6 .2 .5-.4 .6-.1 .6 .1 .5 .6 .6-.2 .6-.9 .5 .6 .6-.2 .6 0 .5 .5 .6-.4 .6-.2 .5 .3 .6-.2 .6 .1 .5-.5 .6 .8 .6-.2 .5 .2 .6 .2 .6-.7 .5 .3 .6-.8 .6 .8 .5 .3 .6 0 .6-.1 .5 0 .6 .1 .6-.1 .5 .3 .6-.6 .6-.3 .5 .6 .6-.9 .6 .4 .5 0 .6 0 .6 .8 .5-.4 .6-.3 0 3-.6 .1-.5 0-.6 .1-.6-.1-.5 .1-.6 0-.6-.2-.5 .2-.6 0-.6-.1-.5 .2-.6-.2-.6 0-.5 0-.6 0-.6-.1-.5 .3-.6-.1-.6 0-.5-.1-.6 .1-.6-.1-.5 0-.6 0-.6 0-.5 .2-.6-.2-.6 0-.5 0-.6 .1-.6-.1-.5 .2-.6-.3-.6 .1-.5 .1-.6 0-.6 0-.5-.2-.6 0-.6 .1-.5 .1-.6-.2-.6 .1-.5 .2-.6-.3-.6 .2-.5 0-.7-.2z"/><use href="#f"/></g>
<g transform="translate(106.3 156.4)" color="#0000ff" stroke="none"><use href="#g"/><path class="c" d="M.9 9.3l.6-.5 .5 .7 .6 .8 .6 0 .5 1 .6-.5 .6 .3 .5 .2 .6-.5 .6 1.4 .5-1 .6 .5 .6-1.5 .5 1 .6 0 .6-.2 .5 .6 .6-.1 .6 0 .5-.5 .6 1.5 .6-1.2 .5-2 .6 2.5 .6 0 .5 0 .6-.6 .6 .1 .5 0 .6-1 .6 0 .5 1.7 .6-.5 .6-2 .5 2 .6-.3 .6 1.1 .5-.2 .6-1 .6 .1 .5 .5 .6-.9 .6 1.2 .5-.3 .6 .2 .6 .1 .5-.7 .6-.4 0 1.8-.6 .4-.5 .7-.6-.4-.6 .3-.5-.3-.6-.4-.6 .2-.5 .3-.6-.5-.6 .3-.5 .6-.6-1-.6 0-.5 .1-.6 .2-.6 .3-.5-.4-.6-.1-.6 0-.5 .4-.6-.2-.6-.1-.5 0-.6 0-.6-.4-.5 .3-.6 1-.6-.8-.5 .5-.6-.3-.6 .2-.5-.2-.6-.4-.6 .4-.5-.9-.6 .7-.6-.2-.5 .8-.6-.7-.6 .3-.5-.1-.6-.4-.6 .9-.5-.4-.6-.1-.6 .4-.5 .2-.6-.6z"/><path class="d" d="M.9 13.2l.6 .4 .5 .2 .6-.7 .6 .4 .5 .4 .6-1.1 .6 .1 .5 .5 .6-.6 .6 .9 .5-.7 .6-.1 .6-.6 .5 1 .6-.4 .6 .7 .5-2 .6 2 .6 .1 .5-.5 .6 .2 .6-.2 .5-.5 .6 .2 .6-.1 .5-.1 .6 0 .6 .7 .5-.5 .6 .1 .6-.1 .5 .2 .6-.1 .6-2 .5 1.8 .6 .2 .6 1.2 .5-.9 .6-.4 .6 .8 .5-1.2 .6 .6 .6-.5 .5 1.1 .6-.1 .6 0 .5-.4 .6-.4"/><path class="d" d="M.9 12.7l.6 1.1 .5-.3 .6-.3 .6 .4 .5 .2 .6-.8 .6 .4 .5 0 .6-.5 .6 1 .5-.7 .6-.4 .6-.1 .5 .5 .6-.3 .6 .4 .5 .5 .6-.5 .6 .1 .5-.3 .6 .8 .6-1.2 .5 .1 .6 0 .6 .3 .5-3.4 .6 3.1 .6 .5 .5-.4 .6 .2 .6 .2 .5 .4 .6-.5 .6-.1 .5-.2 .6 0 .6 1 .5-.6 .6-.1 .6 .4 .5-.3 .6-.1 .6 .3 .5-.2 .6 .4 .6-.5 .5-.6 .6-4.1"/><path class="k" d="M.8 16.1l0-8.6 1.4 .5 .4 4.7-1.1 1.2 .5-.2 .6-.4 .6 .1 .5 .4 .6-.9 .6 .4 .5 .1 .6-.3 .6 .7 .5-.8 .6 .2 .6-.7 .5 .9 .6-.4 .6 .4 .5 .2 .6-.2 .6 .3 .5-.5 .6 .8 .6-1 .5-.3 .6 .4 .6 0 .5 0 .6 .1 .6 .2 .5-.4 .6 0 .6 .1 .5 .4 .6-.3 .6-.2 .5-.1 .6 0 .6 1 .5-.6 .6-.3 .6 .5 .5-.3 .6-.2 .6 .4 .5 .3 .6-.3 .6 .4 .5-.7 .6-.4 0 3.5-.6 0-.5 0-.6 0-.6 0-.5 0-.6 .1-.6-.1-.5 0-.6 .2-.6-.2-.5 .1-.6 0-.6 0-.5 0-.6 0-.6-.1-.5 0-.6 .2-.6-.3-.5 .2-.6-.1-.6 .1-.5-.1-.6 .2-.6-.3-.5 .3-.6-.3-.6 .2-.5-.2-.6 .1-.6 .1-.5-.1-.6 0-.6 .1-.5-.1-.6-.2-.6 .3-.5-.1-.6 .1-.6 0-.5 .1-.6-.1-.6 .1-.5-.2-.6 .1-.6-.2-.5 .2-.7-.2z"/><use href="#f"/></g>
<g transform="translate(147.4 156.4)" color="#008a00" stroke="none"><use href="#g"/><path class="c" d="M.9 8.8l.6 1.9 .5 0 .6 .5 .6-.5 .5 0 .6-.2 .6 0 .5 .9 .6-.2 .6 .7 .5-1.9 .6 1.5 .6 .3 .5-.4 .6-.6 .6 1.7 .5-1.6 .6 .1 .6-1.1 .5 1.3 .6 .7 .6-.4 .5-.8 .6 .7 .6-.6 .5 .7 .6 .5 .6-.5 .5-.7 .6 1.1 .6-1.2 .5 1.4 .6-1.3 .6 1.4 .5-.4 .6-.9 .6 .8 .5 .4 .6 0 .6-.9 .5-.6 .6 1 .6-.2 .5 .7 .6-1.2 .6 .2 .5 .4 .6 0 0 1.6-.6-.1-.5 .2-.6 0-.6 .4-.5-.6-.6 .2-.6 .1-.5-.5-.6 .7-.6 .3-.5 0-.6-1-.6 .9-.5-.2-.6-.1-.6 0-.5 0-.6 0-.6-1-.5 .7-.6 .4-.6-.6-.5 0-.6 .2-.6 .2-.5 0-.6 0-.6-.8-.5 .3-.6 .2-.6-.1-.5 1.2-.6-.8-.6-.1-.5 .1-.6-.1-.6-.5-.5 .8-.6-.6-.6 .5-.5-.4-.6 .2-.6-.6-.5 .5-.6 .6-.6-.6-.5 .5-.6-.7z"/><path class="d" d="M.9 12.6l.6 1.2 .5-1 .6 .9 .6-.5 .5-.8 .6 1 .6-.3 .5 .1 .6-.2 .6 .7 .5-1.2 .6 .2 .6-3 .5 3.3 .6 .2 .6 .6 .5-1.2 .6 .3 .6-.7 .5-.1 .6 .6 .6 .6 .5 0 .6-1 .6 .5 .5 .3 .6-.6 .6 0 .5-.5 .6 1.5 .6-.1 .5 .2 .6-.7 .6 .6 .5-.1 .6-.8 .6 1.3 .5-.1 .6-.6 .6-.3 .5 .5 .6 .1 .6-.4 .5 .1 .6-.5 .6 .2 .5-3.8 .6 3.6"/><path class="d" d="M.9 13l.6 .6 .5-.6 .6 .4 .6-.5 .5-.4 .6 .7 .6 0 .5 .2 .6-1.2 .6 1.4 .5-.8 .6 .4 .6 .2 .5-.5 .6-.2 .6 1.2 .5-.9 .6 .2 .6-.2 .5-.6 .6 1 .6 0 .5-.5 .6 .3 .6-.2 .5-.3 .6 .6 .6 0 .5-.8 .6 1.1 .6-.3 .5 .1 .6 .2 .6-.5 .5 .7 .6-3.2 .6 2.8 .5-.1 .6 .2 .6-.5 .5-.6 .6 1 .6-.6 .5 .7 .6-.1 .6-.6 .5 0 .6 .3"/><path class="k" d="M.8 16.1l0-8.2 1.4 .4 .4 4.4-1.1 .9 .5-.5 .6 .6 .6-.6 .5-.5 .6 .6 .6-.2 .5 .4 .6-.5 .6 .6 .5-.8 .6 .5 .6 .1 .5-.1 .6 .1 .6 .8 .5-1.2 .6 .1 .6-.2 .5-.3 .6 .8 .6 0 .5 0 .6-.2 .6-.2 .5 0 .6 .6 .6-.4 .5-.7 .6 1 .6 0 .5 0 .6 0 .6 .1 .5 .2 .6-.9 .6 1 .5 0 .6-.3 .6-.7 .5 .5 .6-.1 .6-.2 .5 .6 .6-.4 .6 0 .5-.2 .6 .1 0 3.1-.6 0-.5-.2-.6 .2-.6 .1-.5 .1-.6 0-.6 0-.5-.2-.6 .1-.6-.1-.5-.1-.6 .1-.6 0-.5 0-.6 .2-.6-.2-.5 .1-.6-.1-.6 .2-.5-.3-.6 0-.6 .2-.5 .1-.6-.1-.6-.1-.5 .2-.6-.1-.6-.2-.5 0-.6 0-.6 .1-.5 .1-.6 .1-.6 0-.5-.2-.6-.1-.6 .1-.5 .1-.6 .1-.6-.2-.5 0-.6 .1-.6-.1-.5 .1-.6 .1-.6-.3-.5 .3-.7-.3z"/><use href="#f"/></g>
<g transform="translate(188.6 156.4)" color="#0000ff" stroke="none"><use href="#g"/><path class="c" d="M.9 8.5l.6-.4 .5 .8 .6 .2 .6 1 .5 1.2 .6-.1 .6-.4 .5-.3 .6 1.5 .6-.1 .5-.9 .6 1.1 .6 .5 .5-.8 .6-.6 .6-.3 .5 1.1 .6-1 .6 .8 .5-.4 .6 0 .6 .4 .5-.5 .6 .6 .6-.7 .5 .4 .6 .6 .6 .2 .5-1.5 .6 1.5 .6-1.6 .5 .7 .6-1.2 .6-.1 .5 1.3 .6 .1 .6-.5 .5 .3 .6 .6 .6-.1 .5-.4 .6 .2 .6-.1 .5-.4 .6-.2 .6-1 .5 .3 .6 .7 0 2.2-.6-.4-.5 .5-.6-.9-.6 .4-.5 .2-.6 0-.6 .3-.5 .4-.6-.3-.6-.4-.5-.1-.6 .4-.6-.2-.5-.3-.6 .4-.6-.2-.5 0-.6 .6-.6-.6-.5 .7-.6-.1-.6-.5-.5 .4-.6 0-.6-.7-.5 .3-.6 .4-.6-.7-.5 .8-.6-.4-.6 .7-.5-1.5-.6 1-.6 .2-.5 .5-.6-.6-.6-.2-.5 .1-.6 .5-.6-.5-.5-.4-.6 .7-.6-.4-.5-.4-.6-.1-.6 .5-.5-.1-.6 .1z"/><path class="d" d="M.9 13.3l.6-.3 .5 .1 .6-.5 .6-.1 .5-3.3 .6 4.5 .6-.7 .5 .1 .6-2.8 .6 2.7 .5-.1 .6 .6 .6 .5 .5-.4 .6-.1 .6-1.1 .5 .8 .6 .2 .6 .4 .5-1.8 .6 1.5 .6-.4 .5-1 .6 1.1 .6 .4 .5-.8 .6 .8 .6 .2 .5-.6 .6 .5 .6-.8 .5 .1 .6 .2 .6-.8 .5 .8 .6 .2 .6-.5 .5 .2 .6 .1 .6 .7 .5-.8 .6-.6 .6 .7 .5-.5 .6-.4 .6 1.2 .5-.7 .6 .2"/><path class="d" d="M.9 12.4l.6 .6 .5 .3 .6-.6 .6 .3 .5 .3 .6 .6 .6-1.5 .5 1 .6 .4 .6-.2 .5-.2 .6 0 .6-2.3 .5 2.6 .6-.2 .6-.9 .5 1.3 .6-.6 .6 .4 .5-.7 .6 .6 .6-.2 .5-.4 .6 .7 .6 0 .5-.4 .6 .2 .6 .3 .5-4.1 .6 3.6 .6-.5 .5-.1 .6 .5 .6-.9 .5 .9 .6-.2 .6-.5 .5 .2 .6 .9 .6 .3 .5-.5 .6-.8 .6 .4 .5-.7 .6-.2 .6 1.4 .5-.5 .6 .3"/><path class="k" d="M.8 16.1l0-8.4 1.4 .5 .4 4.5-1.1 .5 .5 .1 .6-.5 .6 .1 .5 .4 .6 .4 .6-.7 .5 .4 .6 .5 .6-.5 .5-.1 .6 .2 .6 .6 .5-.5 .6-.2 .6-1 .5 1.5 .6-.7 .6 .4 .5-.8 .6 .7 .6-.4 .5-.3 .6 .7 .6 0 .5-.4 .6 .5 .6 .1 .5-.7 .6 .6 .6-.6 .5 0 .6 .2 .6-.4 .5 .3 .6 .2 .6-.4 .5 .1 .6 .4 .6 .3 .5-.4 .6-.3 .6 0 .5-.2 .6-.4 .6 .9 .5-.5 .6 .4 0 3-.6 .1-.5 .1-.6-.2-.6-.1-.5 .1-.6 0-.6-.1-.5 .2-.6-.2-.6 0-.5 .2-.6-.1-.6 0-.5 .1-.6-.1-.6 .2-.5 0-.6-.1-.6-.1-.5 .1-.6 0-.6 .1-.5-.1-.6-.1-.6 .1-.5 0-.6 .1-.6-.2-.5 .1-.6-.1-.6 0-.5 0-.6-.1-.6 .3-.5-.1-.6-.2-.6 .2-.5-.2-.6 .1-.6 0-.5 0-.6 .1-.6-.3-.5 .3-.6-.1-.6 .1-.5-.1-.7-.1z"/><use href="#f"/></g>
<g transform="translate(229.7 156.4)" color="#000" stroke="none"><use href="#g"/><path class="c" d="M.9 7.9l.6 1.5 .5 1.2 .6-.2 .6 .6 .5-.4 .6 .2 .6-1.3 .5 .6 .6 1.1 .6 1 .5-.4 .6-.8 .6 .2 .5 .1 .6 .4 .6-1.1 .5 .4 .6 .5 .6 .9 .5-1.3 .6 .1 .6 .4 .5-.7 .6 .8 .6-.8 .5 1.2 .6-.5 .6-.3 .5-.4 .6 .9 .6-.3 .5-.3 .6 .9 .6-.3 .5-.3 .6-.4 .6 .8 .5-.6 .6 .6 .6-1.2 .5-.5 .6 1.6 .6-.6 .5 .5 .6-.4 .6 .7 .5-.2 .6 .1 0 1.3-.6 0-.5 .4-.6-.4-.6 .2-.5-.1-.6-.2-.6-.4-.5 .3-.6 .6-.6-.8-.5 .5-.6-.1-.6 0-.5 .4-.6-.3-.6-.3-.5 .2-.6 .3-.6-.4-.5-.3-.6 .5-.6 .2-.5-.6-.6 .6-.6-.7-.5 .8-.6-.7-.6 .5-.5 .4-.6-1-.6-.3-.5 .6-.6 .2-.6-.1-.5 0-.6 .4-.6-.1-.5 .4-.6-.4-.6-.1-.5-.1-.6-.3-.6 .5-.5 .1-.6-.2-.6 .2-.5 .1-.6-1z"/><path class="d" d="M.9 12.8l.6-2.2 .5 3.2 .6-.3 .6-.2 .5-.4 .6 0 .6 .4 .5 0 .6 .2 .6 .3 .5-.8 .6 .8 .6-.7 .5 .1 .6 .2 .6-.2 .5-.9 .6 .1 .6 1.5 .5-.3 .6-.9 .6 1.1 .5-1 .6 .6 .6-.8 .5 1 .6-.4 .6-.8 .5 .7 .6 .6 .6-.9 .5 .3 .6-.1 .6 .6 .5-.3 .6 0 .6 0 .5-.8 .6 1.2 .6-.6 .5-5 .6 5.2 .6 0 .5 .2 .6-.9 .6 1.1 .5-.8 .6 .4"/><path class="d" d="M.9 9.2l.6 4.7 .5-.2 .6-.5 .6-.2 .5 .3 .6-.4 .6 .3 .5-3.7 .6 3.8 .6 .4 .5-.5 .6 .3 .6-.7 .5 .1 .6 .4 .6-.3 .5-1 .6 .6 .6-3.1 .5 3.8 .6-.9 .6 1.3 .5-1.5 .6 1.4 .6-.8 .5 .2 .6 .6 .6-.7 .5-.1 .6 .4 .6 .2 .5-.3 .6-.1 .6 .6 .5-.5 .6-.1 .6 .1 .5-.4 .6 .7 .6-.5 .5 0 .6 .3 .6 .2 .5 .2 .6-.8 .6 .8 .5-.5 .6 .2"/><path class="k" d="M.8 16.1l0-8 1.4 .4 .4 4.2-1.1 1 .5-.1 .6-.2 .6 .2 .5-.1 .6-.5 .6 .3 .5 .1 .6 .1 .6 .4 .5-.4 .6 .1 .6-.4 .5 0 .6 .1 .6-.2 .5-.6 .6 .3 .6 1 .5-.4 .6-.5 .6 .7 .5-.8 .6 .7 .6-.6 .5 .6 .6-.2 .6-.5 .5 .3 .6 .4 .6-.3 .5-.2 .6 .3 .6 .3 .5-.4 .6 0 .6 .1 .5-.5 .6 .8 .6-.6 .5-.3 .6 .4 .6 .2 .5 .1 .6-.2 .6 .4 .5-.4 .6 0 0 3-.6 0-.5 0-.6-.1-.6 .2-.5-.1-.6 0-.6 .2-.5-.1-.6 0-.6 0-.5-.1-.6 .1-.6-.1-.5 .1-.6 0-.6-.1-.5 .1-.6-.1-.6 0-.5 0-.6 0-.6 .1-.5-.2-.6 0-.6 .2-.5 0-.6-.1-.6 .1-.5-.1-.6 .1-.6-.1-.5 0-.6 0-.6 .1-.5-.1-.6 .1-.6 0-.5 0-.6-.2-.6 .1-.5 0-.6 0-.6 .1-.5 .1-.6-.2-.6 0-.5 .1-.7-.2z"/><use href="#f"/></g>
<g transform="translate(270.8 156.4)" color="#0000ff" stroke="none"><use href="#g"/><path class="c" d="M.9 9.3l.6-.5 .5 1.5 .6-.1 .6-.1 .5 1 .6 0 .6 .5 .5 .2 .6 0 .6-.7 .5 .4 .6 .1 .6 .5 .5-1.4 .6 .6 .6-.3 .5 .2 .6-.4 .6 1.3 .5-1.6 .6 .7 .6 .3 .5 .5 .6-.6 .6-.4 .5 .8 .6 0 .6-.4 .5-.4 .6-.5 .6 1.1 .5-.3 .6 .4 .6-.3 .5-.1 .6 .6 .6-.4 .5 0 .6 .3 .6-.6 .5 .2 .6-.7 .6 .7 .5 0 .6 0 .6 .3 .5 .7 .6-.9 0 1.8-.6 .5-.5-.4-.6-.4-.6-.1-.5 .2-.6 .2-.6-.2-.5-.2-.6 .7-.6 0-.5-.5-.6 .3-.6-.3-.5-.2-.6 .1-.6 .3-.5 0-.6-.5-.6 .3-.5-.1-.6 0-.6 .1-.5 0-.6 0-.6 .4-.5-.6-.6 .1-.6-.3-.5 .9-.6-.7-.6 .1-.5 .1-.6-.2-.6 0-.5 .8-.6-.4-.6-.2-.5-.2-.6 .8-.6-.2-.5 .1-.6-.5-.6 .3-.5-.3-.6 0-.6 .1-.5-.3-.6 .3z"/><path class="d" d="M.9 13.4l.6-.9 .5 .4 .6 .2 .6 .2 .5 0 .6-.1 .6 .4 .5-.1 .6 0 .6-.8 .5 .1 .6 .2 .6 .8 .5-1.1 .6 .3 .6 .2 .5-.4 .6 .3 .6 .6 .5-1.2 .6 .7 .6-.1 .5-.5 .6 .4 .6 .1 .5-.3 .6-.2 .6 .1 .5 .6 .6-.7 .6 .6 .5-.3 .6-.1 .6-.2 .5 .2 .6 .6 .6-.5 .5 .9 .6-.2 .6-.8 .5 .2 .6 .3 .6-2.1 .5 1.8 .6-.1 .6 .4 .5 0 .6 .1"/><path class="d" d="M.9 13.1l.6-.2 .5 .2 .6 .2 .6 0 .5 0 .6-.5 .6 1.1 .5-.4 .6 .4 .6-4.3 .5 3.7 .6 0 .6-1.8 .5-1.5 .6 3.1 .6 0 .5-.4 .6-4.3 .6 5.1 .5-.8 .6-.3 .6 .7 .5-.1 .6 .2 .6 .1 .5-.4 .6-.3 .6 .2 .5 .5 .6-4.9 .6 5.1 .5-1.2 .6-2.2 .6 3 .5 .1 .6 .3 .6-1 .5 .8 .6-4.7 .6 4.5 .5 .1 .6 .2 .6-.2 .5-1.4 .6 1.1 .6 .3 .5 .8 .6-.6"/><path class="k" d="M.8 16.1l0-7.5 1.4 .5 .4 3.6-1.1 .2 .5 .3 .6-.1 .6 0 .5 .3 .6-.3 .6 .5 .5-.1 .6 .2 .6-.8 .5 .2 .6 .2 .6 .4 .5-.8 .6 0 .6 .2 .5-.1 .6-.1 .6 .7 .5-.9 .6 .3 .6-.1 .5 .6 .6-.4 .6 0 .5 0 .6-.1 .6 0 .5 .1 .6-.3 .6 .5 .5 0 .6-.3 .6-.1 .5 .2 .6 .3 .6-.3 .5 .5 .6 0 .6-.7 .5 .2 .6 .2 .6-.2 .5-.2 .6 .1 .6 .4 .5 .4 .6-.5 0 3-.6-.1-.5 .1-.6-.1-.6 .1-.5-.1-.6 .2-.6-.2-.5 .1-.6-.1-.6 0-.5-.1-.6 .1-.6 .1-.5 0-.6-.1-.6 .1-.5 .1-.6-.3-.6 .3-.5-.2-.6-.1-.6 .1-.5 .1-.6 0-.6 0-.5-.1-.6 .1-.6-.1-.5 0-.6-.1-.6 .1-.5 0-.6 0-.6-.1-.5 .2-.6 .1-.6-.1-.5-.2-.6 .2-.6-.1-.5 .1-.6 .3-.6-.4-.5 0-.6 .1-.6 0-.5-.1-.7-.1z"/><use href="#f"/></g>
<g transform="translate(311.9 156.4)" color="#000" stroke="none"><use href="#g"/><path class="c" d="M.9 10l.6-.4 .5-.1 .6 1 .6-.5 .5-.1 .6 .2 .6 .3 .5 .7 .6-1.5 .6 .5 .5 .8 .6 .3 .6-.1 .5 .1 .6 .5 .6-.3 .5 .3 .6-.6 .6 .4 .5 0 .6-.6 .6 1 .5-.5 .6-.4 .6 .4 .5-.8 .6 1.1 .6 0 .5-.2 .6 .5 .6-.1 .5-.5 .6-.2 .6 .3 .5 .1 .6-.3 .6-.7 .5 1.2 .6 .4 .6-.5 .5-.3 .6-.6 .6 .8 .5 .5 .6-1 .6 .5 .5-.6 .6-.3 0 2.2-.6 .6-.5-.4-.6 .1-.6 .2-.5-.1-.6-.3-.6-.2-.5 .4-.6 .4-.6-.1-.5-.3-.6 .2-.6-.4-.5 .3-.6 .1-.6-.4-.5 .5-.6 .2-.6-.3-.5-.1-.6 .3-.6-.7-.5 .2-.6-.3-.6 .6-.5 .3-.6-.8-.6 0-.5 .2-.6-.3-.6 .5-.5-.5-.6 .8-.6-.6-.5 .1-.6 .1-.6-.3-.5 0-.6 .3-.6-.2-.5-.3-.6-.1-.6 .6-.5 0-.6 .1-.6-.1-.5 .1-.6 .2z"/><path class="d" d="M.9 13l.6 .2 .5-.1 .6-.1 .6 .1 .5 .3 .6-1.4 .6 .3 .5 .6 .6-.3 .6 0 .5 .1 .6 .5 .6 0 .5-.5 .6 .4 .6-.2 .5 .6 .6-1 .6 .4 .5 .1 .6-.2 .6 1 .5-.6 .6-.7 .6 .6 .5-.1 .6 .3 .6 .1 .5-.7 .6 1.1 .6-.2 .5-.5 .6-.1 .6 .4 .5-.5 .6 .7 .6-.3 .5 .2 .6-.4 .6-.2 .5-.3 .6 .6 .6 0 .5-.1 .6-.2 .6-.3 .5-1.7 .6 2.2"/><path class="d" d="M.9 13.7l.6-.6 .5 .3 .6-.8 .6 .8 .5-.4 .6-.7 .6-.1 .5 1 .6 .2 .6-.5 .5 0 .6 .5 .6-.9 .5 .6 .6-4.2 .6 4 .5 .6 .6-.7 .6 .2 .5 .1 .6-5 .6 5.7 .5-4.4 .6 3.6 .6-4.4 .5 4.4 .6 .7 .6-.4 .5 0 .6 .2 .6 .1 .5-.6 .6 .5 .6-.2 .5-.1 .6-.2 .6 .2 .5 .3 .6 .1 .6-2 .5 .7 .6 .4 .6-3.7 .5 4.4 .6-.1 .6-.1 .5 0 .6-.1"/><path class="k" d="M.8 16.1l0-8.7 1.4 .5 .4 4.8-1.1 .6 .5-.1 .6 .1 .6-.1 .5 0 .6-.6 .6 .1 .5 .3 .6 .2 .6-.3 .5 0 .6 .3 .6-.1 .5-.1 .6 .6 .6-.8 .5 .5 .6-.5 .6 .3 .5-.2 .6 0 .6 .8 .5-.3 .6-.6 .6 .3 .5-.2 .6 .7 .6-.3 .5 .1 .6 .3 .6-.2 .5-.5 .6 .4 .6-.1 .5-.3 .6 .4 .6-.2 .5 .3 .6 .1 .6-.4 .5-.4 .6 .2 .6 .3 .5 .1 .6-.2 .6-.1 .5 .4 .6-.6 0 3.3-.6-.2-.5 .2-.6 0-.6-.1-.5-.1-.6 .2-.6-.1-.5 0-.6 .3-.6-.1-.5 0-.6-.1-.6 0-.5 0-.6 0-.6 0-.5 .1-.6 0-.6-.1-.5 0-.6-.1-.6 .1-.5 0-.6 0-.6 0-.5-.1-.6 .3-.6-.3-.5 .1-.6-.1-.6 .2-.5-.1-.6 .2-.6-.2-.5-.2-.6 .2-.6 0-.5 0-.6 .1-.6-.2-.5 .1-.6-.1-.6 .2-.5 0-.6 0-.6-.1-.5 0-.7-.1z"/><use href="#f"/></g>
<g transform="translate(353 156.4)" color="#000" stroke="none"><use href="#g"/><path class="c" d="M.9 9.2l.6-.6 .5 1.5 .6 .7 .6-.9 .5 .9 .6-.1 .6-.9 .5 1.1 .6-.7 .6 1.4 .5 0 .6-1.2 .6 1.9 .5-.9 .6 .3 .6-.3 .5-.6 .6 .6 .6 .4 .5-.8 .6 .3 .6 .5 .5 .2 .6-.1 .6-.5 .5-.4 .6-.6 .6 1.3 .5 .2 .6-.6 .6 .5 .5-1.4 .6 .2 .6 1.9 .5-1.5 .6 1 .6-.2 .5-1.1 .6 1 .6-.5 .5-.5 .6 .6 .6-1.2 .5 1.9 .6-1.1 .6 .7 .5-.9 .6 .7 0 1.4-.6 0-.5 .3-.6 .3-.6 .7-.5-.9-.6 0-.6-.5-.5 .2-.6 .8-.6-.9-.5 .5-.6 0-.6-.1-.5 1-.6-1.3-.6 0-.5 .4-.6-.5-.6 .7-.5-.1-.6 .1-.6 .1-.5-.7-.6 .3-.6 .2-.5 .1-.6-.2-.6 .1-.5 .1-.6-.3-.6-.6-.5 .7-.6-.1-.6-.1-.5 .8-.6-.8-.6 0-.5-.1-.6-.3-.6 .5-.5-.2-.6 .7-.6-.2-.5-.4-.6 .2-.6 .2-.5-.1-.6 .2z"/><path class="d" d="M.9 13.4l.6-.3 .5 .4 .6-3.9 .6 3.2 .5 .6 .6 0 .6-.3 .5-.5 .6-.5 .6 1 .5-.1 .6-.3 .6 .9 .5-.7 .6-.3 .6-2.8 .5 2.9 .6 .2 .6 .7 .5-.2 .6-1 .6 1.3 .5-.3 .6-.2 .6-.1 .5 .5 .6-.3 .6 .3 .5 0 .6-1.7 .6 1.2 .5-.3 .6-.6 .6 1.4 .5-.2 .6-.4 .6 .4 .5-.7 .6 .9 .6-.5 .5-1.2 .6 1.4 .6-.1 .5 1 .6-.7 .6-.5 .5-.3 .6 .2"/><path class="d" d="M.9 13.5l.6-.4 .5 .4 .6-.5 .6 0 .5 .1 .6 .8 .6-1.3 .5 .5 .6-.5 .6 .3 .5 .3 .6 .1 .6 .6 .5-.9 .6 .3 .6-3.5 .5 2.7 .6 .9 .6 0 .5 .2 .6-.3 .6 0 .5-.2 .6 .2 .6-.2 .5-3.6 .6 4 .6-.4 .5 .2 .6-.8 .6 .5 .5-.1 .6 0 .6 1.6 .5-1.4 .6 .4 .6-.2 .5-.4 .6 .8 .6-5.4 .5 4.4 .6 .5 .6 .1 .5 .9 .6-1 .6-.1 .5-.3 .6 .1"/><path class="k" d="M.8 16.1l0-7.4 1.4 .5 .4 3.5-1.1 .7 .5 .1 .6-.2 .6-.2 .5 .4 .6 .2 .6-.7 .5 .2 .6-.5 .6 .3 .5 .1 .6 0 .6 .8 .5-.8 .6 .1 .6 .1 .5-.7 .6 .6 .6 .3 .5-.1 .6-.1 .6 .2 .5-.1 .6-.2 .6-.3 .5 .7 .6-.1 .6-.1 .5 .1 .6-.7 .6 .5 .5-.4 .6 0 .6 1.3 .5-1 .6 .1 .6 0 .5-.5 .6 .9 .6-.8 .5-.2 .6 .5 .6 0 .5 .9 .6-.7 .6-.3 .5-.3 .6 0 0 3.5-.6-.1-.5 .2-.6-.2-.6-.1-.5 .1-.6 0-.6 .1-.5-.1-.6 0-.6 .1-.5 0-.6-.2-.6 .1-.5-.1-.6 .2-.6-.1-.5 .2-.6-.4-.6 .3-.5 0-.6 0-.6 0-.5 0-.6-.1-.6 0-.5 .2-.6-.2-.6 0-.5 0-.6 .1-.6 0-.5-.1-.6 0-.6 0-.5 .1-.6-.3-.6 .3-.5 0-.6 0-.6 0-.5 0-.6-.2-.6 .1-.5 .1-.6-.1-.6 0-.5-.1-.7 0z"/><use href="#f"/></g>
<g transform="translate(394.2 156.4)" color="#000" stroke="none"><use href="#g"/><path class="c" d="M.9 7.6l.6 1.9 .5-.2 .6 1.1 .6 .9 .5-.2 .6-.3 .6-.3 .5 .5 .6 .3 .6-.4 .5 .8 .6-.4 .6-.6 .5 .1 .6-.7 .6 .7 .5 .1 .6-.4 .6 .9 .5 0 .6 .7 .6-.9 .5 .1 .6 .3 .6-1 .5 .2 .6 .9 .6-.5 .5 .1 .6-.1 .6 .5 .5-.3 .6 .4 .6 .1 .5-.5 .6 .1 .6 .3 .5-.1 .6-.3 .6 .2 .5-.5 .6 .3 .6 .2 .5-.4 .6 0 .6 .3 .5 .3 .6-.6 0 2-.6 .7-.5-.8-.6 0-.6-.3-.5 .7-.6-.4-.6-.2-.5 .5-.6-.6-.6 .3-.5 .3-.6 .1-.6-.6-.5 .5-.6 0-.6 .1-.5-.1-.6-.6-.6 .7-.5-.4-.6 .5-.6-.4-.5-.3-.6 .1-.6 0-.5 0-.6 .6-.6-.4-.5-.3-.6-.1-.6 .2-.5-.4-.6 .5-.6 .7-.5-.7-.6 .5-.6-.3-.5-.4-.6 .6-.6-.1-.5-.3-.6 .2-.6 .3-.5 0-.6-.2-.6 0-.5-.1-.6-.2z"/><path class="d" d="M.9 12.6l.6-2.9 .5 3.6 .6-.2 .6 .7 .5 0 .6-.4 .6-3.6 .5 3 .6 .8 .6-.7 .5 .3 .6 .3 .6-.4 .5 .8 .6-1.6 .6 .2 .5 .7 .6-2.7 .6 .2 .5 2.4 .6 .6 .6-1 .5 .1 .6 .2 .6-4.9 .5 5 .6 .5 .6-.7 .5 .2 .6-.5 .6 .9 .5-.3 .6 .4 .6-.5 .5 .1 .6 .5 .6-.2 .5-.8 .6-.3 .6 1 .5-.8 .6-3.6 .6 4.3 .5-.3 .6-.1 .6 .3 .5 .4 .6-.3"/><path class="d" d="M.9 13.1l.6 .4 .5 0 .6-.2 .6 .3 .5 .1 .6-.5 .6-.4 .5 .8 .6-.4 .6-.5 .5 .6 .6 .3 .6-.5 .5 .8 .6-.8 .6-.7 .5 .7 .6-.4 .6 .2 .5 .4 .6 .5 .6-.9 .5 .4 .6-.2 .6-.2 .5 .2 .6 .5 .6-1 .5 1 .6-3.8 .6 3.5 .5 .2 .6-.2 .6 .1 .5-.7 .6 .8 .6-.6 .5-.2 .6 .2 .6 .7 .5-.9 .6 .3 .6-.1 .5 .1 .6-.1 .6 0 .5-3.5 .6 3.8"/><path class="k" d="M.8 16.1l0-8 1.4 .5 .4 4.1-1.1 .6 .5 .1 .6 0 .6 .2 .5 0 .6-.3 .6-.2 .5 .3 .6 .1 .6-.6 .5 .4 .6 .3 .6-.5 .5 .7 .6-.7 .6-.5 .5 .4 .6-.2 .6 .1 .5 .3 .6 .4 .6-.6 .5 0 .6 0 .6-.1 .5 .3 .6 .4 .6-.5 .5 .4 .6-.7 .6 .6 .5 .1 .6-.1 .6 0 .5-.5 .6 .6 .6-.1 .5-.3 .6-.3 .6 .6 .5-.5 .6 .2 .6 .4 .5-.7 .6 .3 .6 0 .5 .8 .6-.7 0 3.1-.6 .1-.5 0-.6-.1-.6 0-.5-.1-.6-.1-.6 .3-.5-.2-.6 .1-.6-.1-.5-.1-.6 .2-.6-.1-.5-.1-.6 .2-.6-.1-.5 .2-.6-.2-.6-.1-.5 .2-.6-.3-.6 .2-.5 .1-.6 0-.6-.1-.5 .1-.6 0-.6-.3-.5 .3-.6 .1-.6-.3-.5 .2-.6 0-.6 .1-.5-.1-.6 .1-.6-.1-.5-.2-.6 .2-.6-.1-.5 0-.6 .1-.6 0-.5 0-.6-.1-.6 0-.5 0-.7-.1z"/><use href="#f"/></g>
<g transform="translate(435.3 156.4)" color="#000" stroke="none"><use href="#g"/><path class="c" d="M.9 8.4l.6 1.6 .5-.1 .6 .5 .6 .6 .5 .1 .6-.3 .6 .8 .5-.1 .6-.4 .6-.3 .5 .1 .6 .5 .6 .2 .5 .3 .6-.9 .6 .8 .5-.3 .6 .2 .6-.1 .5 .2 .6 .2 .6-.2 .5-.8 .6 .9 .6-1.1 .5 .2 .6 .6 .6 0 .5-.1 .6-1.5 .6 1.3 .5 .5 .6 0 .6-.1 .5-.9 .6 .6 .6 .4 .5-1.1 .6 .8 .6-.2 .5-.1 .6-.2 .6 1 .5-.7 .6 .9 .6-.8 .5-.1 .6-.1 0 2.2-.6-.4-.5-.1-.6 .7-.6-.5-.5 .3-.6-.9-.6 .2-.5 .3-.6 0-.6 .7-.5-.5-.6 .1-.6 .2-.5 .1-.6-.4-.6 .3-.5-.3-.6-.1-.6-.2-.5 .3-.6 .5-.6-.4-.5-.5-.6 .6-.6-.7-.5 .6-.6 .2-.6-.3-.5-.2-.6 .2-.6-.1-.5 .4-.6-.8-.6 .7-.5-.2-.6-.2-.6 .1-.5-.1-.6 0-.6 .3-.5 .6-.6-.7-.6 .7-.5-.8-.6 .4-.6-.6-.5 .8-.6-.3z"/><path class="d" d="M.9 13.1l.6 .6 .5-1.1 .6 .7 .6-.4 .5 1.1 .6-.6 .6-2.5 .5 2.1 .6 .1 .6-.1 .5 .3 .6-.9 .6-.9 .5 1.9 .6-.7 .6-.2 .5 .5 .6-.3 .6 .4 .5 .1 .6-.1 .6 .2 .5-1.2 .6 1.4 .6-4.3 .5 3.9 .6 .5 .6-.7 .5-.1 .6 0 .6 .3 .5 .5 .6-.2 .6 0 .5 .2 .6-.7 .6 .1 .5 .8 .6-.8 .6-.1 .5 0 .6-.4 .6 1 .5-.4 .6 .3 .6-.7 .5 .1 .6 .8"/><path class="d" d="M.9 13.4l.6 0 .5-2.5 .6 2.5 .6-.2 .5 .7 .6-.9 .6 .3 .5-.4 .6 .1 .6-.6 .5 .8 .6-.3 .6 .1 .5 .5 .6-.7 .6 .6 .5-.4 .6 .4 .6-.3 .5-.1 .6 .5 .6-.1 .5-.6 .6 .6 .6-.7 .5 .6 .6 .4 .6-.3 .5-.4 .6 .2 .6-.1 .5 0 .6 .2 .6 .3 .5-.1 .6-.3 .6 .1 .5 .1 .6-.4 .6-.1 .5-.1 .6-.2 .6 .3 .5-.4 .6 1.2 .6-1 .5 .5 .6-4.3"/><path class="k" d="M.8 16.1l0-8 1.4 .5 .4 4.1-1.1 1 .5-.8 .6 .6 .6-.4 .5 .8 .6-.7 .6 .7 .5-.6 .6-.3 .6 0 .5 .1 .6-.1 .6 .2 .5 .2 .6-.7 .6 .8 .5-.4 .6 .1 .6-.2 .5 .2 .6 .3 .6-.2 .5-.6 .6 .7 .6-.6 .5 .5 .6 .4 .6-.5 .5-.3 .6 .2 .6 .1 .5 .3 .6-.3 .6 .4 .5-.1 .6-.2 .6-.1 .5 .5 .6-.7 .6 0 .5-.3 .6-.2 .6 .9 .5-.3 .6 .5 .6-.7 .5 .1 .6 .4 0 2.7-.6 .2-.5 0-.6-.1-.6-.1-.5 .2-.6 0-.6-.1-.5 .1-.6 .1-.6-.3-.5 .1-.6-.1-.6 .3-.5-.3-.6 .1-.6 0-.5 .1-.6 0-.6-.1-.5-.1-.6 .3-.6-.1-.5 0-.6 .1-.6-.2-.5 0-.6-.1-.6 .3-.5-.1-.6-.1-.6 .1-.5-.2-.6 .1-.6 0-.5 .1-.6-.1-.6 .1-.5-.1-.6-.2-.6 .3-.5-.2-.6 .1-.6 .1-.5-.1-.6 .1-.6-.2-.5 .2-.7-.2z"/><use href="#f"/></g>
<g transform="translate(476.4 156.4)" color="#000" stroke="none"><use href="#g"/><path class="c" d="M.9 8.6l.6 .8 .5-.5 .6 1.9 .6-.8 .5 1.3 .6-.3 .6-.1 .5-.2 .6 .4 .6 .4 .5-.1 .6-.3 .6 .2 .5-.8 .6 1.4 .6 0 .5-1.5 .6 1.4 .6 .2 .5-.3 .6 0 .6-.4 .5 .8 .6-1.6 .6 1 .5 .2 .6-.7 .6 1 .5-.3 .6 0 .6-.3 .5 .6 .6-.5 .6 .5 .5-.1 .6-1.9 .6 2 .5-1 .6-.7 .6 1.3 .5-1.6 .6 2 .6-1.5 .5 1.2 .6-.7 .6 .9 .5-.5 .6-1.4 0 2.7-.6 .5-.5 .1-.6-.4-.6 .8-.5-.9-.6 .4-.6-.3-.5 .3-.6 0-.6 .3-.5 .1-.6-1.3-.6 1.3-.5-.2-.6 .1-.6-.3-.5-.1-.6 .2-.6 0-.5 .2-.6-.5-.6 .2-.5-.4-.6 .3-.6 .4-.5-.2-.6-.3-.6 .2-.5 .2-.6-.1-.6-.4-.5 .7-.6-.1-.6-.4-.5 .3-.6-.7-.6 .8-.5-.5-.6 .6-.6-.1-.5-.1-.6-.2-.6 .5-.5-.4-.6 .3-.6-.9-.5 .6-.6-.4z"/><path class="d" d="M.9 13l.6 .4 .5-4.3 .6 4.5 .6-.5 .5-3.4 .6 3.4 .6-.3 .5 .4 .6 .5 .6-.6 .5 .3 .6-.5 .6 .3 .5-.2 .6 .5 .6 .1 .5-4.2 .6 3.9 .6-.3 .5-.1 .6 .1 .6-.3 .5 .4 .6 .2 .6-.3 .5 0 .6-.1 .6 .8 .5-.6 .6 .1 .6 0 .5 .3 .6 .1 .6-.7 .5 .7 .6-1.2 .6 .7 .5 .5 .6-.2 .6 0 .5-.4 .6 .5 .6-.9 .5 1 .6-.7 .6 .6 .5-4.4 .6 3.5"/><path class="d" d="M.9 12.9l.6 .2 .5-.5 .6 .9 .6 0 .5 .3 .6-.4 .6 0 .5 .1 .6 .3 .6-1 .5 .9 .6-1.2 .6 1.1 .5-.4 .6 .4 .6 .2 .5-1 .6 .4 .6 0 .5-.1 .6-2.8 .6 2.7 .5-.2 .6 .4 .6-.7 .5 .8 .6-.5 .6 .6 .5-.4 .6 0 .6 .1 .5 0 .6 .2 .6 .2 .5 .3 .6-1.4 .6 1.4 .5-.1 .6-.4 .6-.1 .5-.4 .6 .3 .6-.1 .5 .7 .6-1 .6 .7 .5-.5 .6 0"/><path class="k" d="M.8 16.1l0-8.9 1.4 .5 .4 5-1.1 .6 .5-.6 .6 .9 .6-.3 .5 .4 .6-.5 .6 .2 .5 .1 .6 .1 .6-.6 .5 .5 .6-.8 .6 .7 .5-.3 .6 .4 .6 .1 .5-.7 .6 .4 .6 .1 .5-.2 .6-.2 .6 .3 .5 .2 .6-.4 .6-.3 .5 .4 .6-.2 .6 .5 .5-.2 .6 0 .6-.2 .5 .1 .6 .3 .6-.1 .5 .2 .6-1.3 .6 1.3 .5-.1 .6-.3 .6 0 .5-.3 .6 .3 .6-.4 .5 .9 .6-.8 .6 .4 .5-.1 .6-.5 0 3.4-.6 .2-.5 0-.6 0-.6-.1-.5-.1-.6 .1-.6 .1-.5 .2-.6-.5-.6 0-.5 .1-.6 .2-.6 0-.5-.1-.6 .1-.6 0-.5-.1-.6 0-.6 0-.5 0-.6 .1-.6-.1-.5-.1-.6 .1-.6 0-.5 0-.6 .1-.6-.2-.5 0-.6 .2-.6-.2-.5 .1-.6-.1-.6 .1-.5-.1-.6 .1-.6 .1-.5 0-.6 0-.6 0-.5-.2-.6 .3-.6-.1-.5-.1-.6-.1-.6 .1-.5-.1-.7 0z"/><use href="#f"/></g>
<g transform="translate(65.2 183.4)" color="#000" stroke="none"><use href="#g"/><path class="c" d="M.9 8.9l.6-.7 .5 2 .6-.8 .6 0 .5 1.2 .6 .8 .6-.1 .5-.5 .6 .6 .6-.8 .5 1.4 .6-1.4 .6 1.4 .5-2.5 .6 1.1 .6-.2 .5 .4 .6 .7 .6-.9 .5 1.2 .6-.4 .6-1.2 .5 1.1 .6 .6 .6-1.7 .5 .3 .6 .5 .6-.2 .5 .6 .6 .2 .6-.7 .5-.2 .6-.1 .6 .6 .5-.3 .6-.1 .6 .9 .5-1.8 .6 1 .6 .4 .5-.4 .6-2.2 .6 2.1 .5 0 .6 .1 .6 .8 .5-.1 .6-1.3 0 2.7-.6 .1-.5 .2-.6 .1-.6-.7-.5-.1-.6 .2-.6 .3-.5 .2-.6-.3-.6-.1-.5 .5-.6-.9-.6 .5-.5 .1-.6 .1-.6-.3-.5 .4-.6 .5-.6-.7-.5 .2-.6 .2-.6-.7-.5 .4-.6 .2-.6 .2-.5-.5-.6-.2-.6 .5-.5-.5-.6 .4-.6-.3-.5-.2-.6-.1-.6 .5-.5 .3-.6-.5-.6 1-.5-.7-.6-.2-.6 .3-.5-.1-.6 .6-.6 0-.5-.6-.6-.4-.6 .4-.5-.5-.6 .1z"/><path class="b" d="M.9 12.8l.6 0 .5 .4 .6-.8 .6-.9 .5 2.4 .6-.1 .6-.5 .5-.5 .6 .4 .6 .1 .5 .8 .6-1.2 .6 .7 .5-.9 .6 0 .6-.6 .5 .8 .6-1.7 .6 1.8 .5 .4 .6-.9 .6 .4 .5-1 .6 1.5 .6-.5 .5 0 .6 .7 .6-.9 .5 .6 .6-1 .6 1.1 .5-.8 .6-.7 .6 1 .5-2.4 .6 1.7 .6 1.2 .5-.3 .6-1.9 .6 1.7 .5-.9 .6 .7 .6-.1 .5 .2 .6-2.5 .6 3.1 .5-.5 .6-.1"/><path class="b" d="M.9 12.3l.6 .3 .5 .9 .6-.6 .6 0 .5 .9 .6-.3 .6-.6 .5 .5 .6-2.3 .6 2.1 .5 .9 .6-1.4 .6 .9 .5-.3 .6-3 .6 2.6 .5 0 .6 .5 .6-.8 .5-1.6 .6 2.1 .6-.1 .5 .5 .6-.3 .6-.1 .5-.1 .6 .5 .6-.2 .5-.3 .6 .7 .6-.3 .5-2.7 .6 2.4 .6-.3 .5-.3 .6-1.4 .6 2.3 .5-.3 .6-1.4 .6-1.1 .5 .3 .6 1.6 .6 .3 .5-.3 .6 1 .6 0 .5-1 .6 .7"/><path class="k" d="M.8 16.1l0-7.6 1.4 .5 .4 3.7-1.1 .1 .5 .5 .6-.4 .6 .4 .5 .6 .6 0 .6-.6 .5 .1 .6-.3 .6 .2 .5 .7 .6-1 .6 .5 .5-.3 .6-.5 .6 .1 .5 .2 .6 .3 .6-.4 .5 .5 .6-.5 .6 .2 .5 .5 .6-.2 .6-.2 .5-.4 .6 .7 .6-.2 .5-.2 .6 .7 .6-.5 .5-.4 .6 .3 .6-.1 .5-.1 .6-.5 .6 .9 .5-.5 .6 .1 .6 .3 .5-.2 .6-.3 .6-.2 .5 .1 .6 .7 .6-.1 .5-.2 .6-.1 0 3.3-.6 0-.5 .1-.6-.2-.6 .1-.5-.2-.6 .1-.6-.2-.5 .2-.6-.1-.6-.1-.5 .3-.6-.1-.6-.1-.5 0-.6 0-.6 .1-.5 0-.6-.2-.6 .3-.5-.2-.6 0-.6 .3-.5-.1-.6-.3-.6 .1-.5 0-.6 .2-.6 0-.5-.1-.6-.1-.6 .2-.5 0-.6-.1-.6 0-.5 .1-.6 0-.6-.1-.5 0-.6 0-.6-.1-.5 .4-.6-.1-.6-.1-.5-.1-.6 0-.6 .1-.5-.2-.7 0z"/><use href="#f"/></g>
<g transform="translate(106.3 183.4)" color="#000" stroke="none"><use href="#g"/><path class="c" d="M.9 8.2l.6 .4 .5 1.1 .6 0 .6 .1 .5 1.1 .6 0 .6 .2 .5-.2 .6-1.3 .6 2.3 .5-.8 .6 .3 .6-.5 .5-1.7 .6 1.6 .6-.7 .5 1.4 .6-.4 .6-.4 .5 .4 .6 .6 .6-.1 .5-2.1 .6 .7 .6 1.1 .5 0 .6-.1 .6-.1 .5 .1 .6 .5 .6-.6 .5 .2 .6-.4 .6 0 .5 .3 .6-.1 .6-.6 .5-.7 .6 .8 .6 .2 .5-.1 .6 .1 .6-.5 .5 1.1 .6-.4 .6-1.2 .5 .6 .6 .5 0 2.3-.6-.2-.5-.2-.6 .5-.6 0-.5-.2-.6-.2-.6 .4-.5-.1-.6 0-.6-.3-.5-.2-.6-.1-.6 .9-.5-.9-.6 .2-.6 .7-.5-.2-.6 0-.6-.3-.5 0-.6-.2-.6 .4-.5-.1-.6-.3-.6-.1-.5 .7-.6-.2-.6 .2-.5-.5-.6 .3-.6 .2-.5-.6-.6 .1-.6 0-.5-.1-.6 1-.6-.5-.5 .2-.6-.3-.6 .1-.5 .4-.6-.6-.6 .4-.5-.6-.6 .4-.6-.5-.5 .4-.6 0z"/><path class="b" d="M.9 12.7l.6 .7 .5-2.3 .6 1.8 .6 0 .5-1.4 .6 1.8 .6 .1 .5 .2 .6-.4 .6-.2 .5 .3 .6 .6 .6-1 .5 .2 .6 0 .6-.3 .5 .7 .6-2.1 .6 1.3 .5 .5 .6-.3 .6-1.9 .5 1.5 .6 .4 .6 .2 .5 .1 .6-2.7 .6 2.3 .5-1.1 .6 1.5 .6 .3 .5-1.7 .6 1 .6-.2 .5 .7 .6-.7 .6-.2 .5-1.9 .6 2.9 .6-.1 .5 .1 .6-2.5 .6 2.1 .5-.1 .6-1.4 .6 .8 .5 .8 .6 .1"/><path class="b" d="M.9 13.2l.6-.5 .5 .2 .6 .5 .6-.3 .5 .6 .6-1 .6 1 .5-.6 .6 0 .6 .5 .5-.4 .6 .1 .6-.6 .5 .3 .6-.1 .6 .1 .5 .1 .6-.1 .6-2.5 .5 3 .6-2.4 .6 2.3 .5-.5 .6-1.6 .6 1.8 .5-.1 .6-.5 .6-.1 .5 .7 .6 .2 .6 .1 .5 .2 .6-.7 .6-.4 .5 1.2 .6-1.4 .6 .2 .5 .6 .6 .3 .6-.1 .5-1.3 .6 1.1 .6-.1 .5-1.2 .6 1.6 .6-1.9 .5 1.7 .6-.4"/><path class="k" d="M.8 16.1l0-8.4 1.4 .5 .4 4.5-1.1 .5 .5-.4 .6 .5 .6-.4 .5 .6 .6-.4 .6 .6 .5-.4 .6-.1 .6 .3 .5-.2 .6 .5 .6-1 .5 .1 .6 0 .6-.1 .5 .6 .6-.2 .6-.3 .5 .5 .6-.2 .6 .2 .5-.7 .6 .1 .6 .3 .5 .1 .6-.4 .6 .2 .5 0 .6 .3 .6 0 .5 .2 .6-.7 .6-.2 .5 .9 .6-.9 .6 .1 .5 .2 .6 .3 .6 0 .5 .1 .6-.4 .6 .2 .5 .2 .6 0 .6-.5 .5 .2 .6 .2 0 2.9-.6 0-.5 .1-.6 .1-.6-.3-.5 .3-.6-.2-.6 .1-.5-.1-.6 .1-.6-.1-.5 0-.6 .2-.6-.2-.5-.2-.6 .2-.6 0-.5 0-.6 .2-.6-.1-.5 .1-.6-.1-.6 .1-.5-.1-.6 .1-.6 0-.5-.1-.6-.1-.6 .1-.5 0-.6-.1-.6 .1-.5-.1-.6 .2-.6 0-.5-.1-.6 .1-.6 0-.5-.1-.6-.1-.6 .2-.5-.1-.6 .1-.6-.1-.5-.2-.6 .1-.6 0-.5 0-.7 0z"/><use href="#f"/></g>
<g transform="translate(147.4 183.4)" color="#000" stroke="none"><use href="#g"/><path class="c" d="M.9 9.6l.6 .4 .5 0 .6-.5 .6 .3 .5 .8 .6-.1 .6-.9 .5 .9 .6 .7 .6-.1 .5-.3 .6 .1 .6-.1 .5-.1 .6 .6 .6 .2 .5-.7 .6 .4 .6-1 .5 1.1 .6 .5 .6-1.2 .5 .6 .6 .2 .6-1.1 .5-.5 .6 1.6 .6 .3 .5-.5 .6-1.1 .6-.1 .5-.7 .6 1.8 .6-.1 .5-.6 .6 .8 .6-.7 .5 .1 .6 .7 .6 .4 .5-1.3 .6 .7 .6-1.1 .5 1 .6-.6 .6 1 .5-.3 .6-.4 0 2-.6 .5-.5 .3-.6-.6-.6 .6-.5-.1-.6 .1-.6-1-.5 .8-.6-.1-.6 0-.5-.5-.6 .3-.6-.2-.5-.5-.6 .6-.6 .1-.5-.3-.6 .4-.6 0-.5 .8-.6-.6-.6-.8-.5 .4-.6 .1-.6 .5-.5-1-.6 .8-.6-.1-.5-.5-.6 0-.6 .1-.5 .2-.6-.1-.6 .3-.5 .3-.6-.6-.6 .3-.5 .1-.6 .1-.6-.7-.5 0-.6 .7-.6 0-.5-.3-.6-.2-.6 .3-.5 .6-.6-.3z"/><path class="b" d="M.9 13.6l.6 .1 .5-.6 .6-.8 .6 1 .5 .3 .6-.1 .6-1 .5-.1 .6 .8 .6 .2 .5-.5 .6 .2 .6 0 .5 .2 .6-.6 .6 .3 .5-.5 .6-.3 .6 .4 .5 .1 .6 .6 .6-1.1 .5 1.3 .6-2.5 .6 .3 .5 1 .6 .7 .6 .4 .5-.6 .6 .5 .6-.6 .5 .2 .6-.2 .6-.4 .5 .7 .6-2.7 .6 2.6 .5 0 .6 .3 .6 .2 .5-2.9 .6 3 .6-.5 .5-1.7 .6 1.6 .6 .6 .5-.4 .6-.6"/><path class="b" d="M.9 13.1l.6 .8 .5-.9 .6 0 .6 .3 .5-.6 .6 .6 .6-1.4 .5 .7 .6 .9 .6-.4 .5-.4 .6-.4 .6 .7 .5 .2 .6-.1 .6-.5 .5 0 .6 0 .6-1.8 .5 2.2 .6 .1 .6-2.1 .5 0 .6 2.1 .6 0 .5-.4 .6-.8 .6 2.1 .5-1 .6 0 .6 0 .5 .2 .6-.6 .6-.6 .5 .6 .6-1 .6 .6 .5 1 .6-1.7 .6 1.9 .5-1.7 .6 1.3 .6 .1 .5 .4 .6-1 .6 1.2 .5-.8 .6-.3"/><path class="k" d="M.8 16.1l0-7.5 1.4 .5 .4 3.6-1.1 1.1 .5-.6 .6-.3 .6 .2 .5 .3 .6 0 .6-.7 .5 0 .6 .7 .6-.1 .5-.1 .6-.3 .6 .6 .5-.3 .6-.3 .6 .1 .5-.2 .6-.1 .6 0 .5 .5 .6 .1 .6-.8 .5 1 .6-.5 .6-.1 .5-.4 .6 .8 .6 .6 .5-.8 .6 0 .6-.4 .5 .3 .6-.1 .6-.6 .5 .5 .6 .2 .6-.3 .5 .5 .6 0 .6 .1 .5-.8 .6 1 .6-.1 .5 .1 .6-.6 .6 .6 .5-.3 .6-.5 0 3.5-.6 0-.5 0-.6-.1-.6 .2-.5 0-.6-.2-.6 .1-.5-.2-.6 .3-.6-.3-.5 .1-.6 0-.6-.1-.5 .2-.6 .1-.6-.2-.5 .1-.6-.1-.6 0-.5 .2-.6-.1-.6 .1-.5-.1-.6 0-.6-.2-.5 .4-.6-.2-.6 0-.5 .1-.6 .1-.6-.2-.5 .2-.6 0-.6-.2-.5 0-.6 .2-.6-.2-.5 .1-.6 0-.6-.1-.5 .1-.6-.1-.6 0-.5 0-.6 .1-.6 0-.5-.2-.7 0z"/><use href="#f"/></g>
<g transform="translate(188.6 183.4)" color="#000" stroke="none"><use href="#g"/><path class="c" d="M.9 9.5l.6-1.7 .5 1.1 .6 1.1 .6 .5 .5-1.4 .6 1.4 .6-.4 .5 .7 .6-.2 .6 .7 .5-.7 .6 .3 .6 .8 .5-.2 .6 0 .6-.5 .5 .5 .6-.8 .6 .8 .5-.1 .6-.1 .6-.7 .5-1.3 .6 .9 .6 .5 .5 0 .6-.4 .6 .9 .5-.2 .6-.5 .6-.3 .5 .8 .6-.4 .6 .3 .5 1.2 .6-1.5 .6 .2 .5 .5 .6 .3 .6-1.1 .5 .6 .6-.1 .6-.4 .5 .4 .6-.7 .6 1.2 .5-1.7 .6-.2 0 3.2-.6 0-.5 .4-.6-.4-.6 .1-.5 .2-.6-.3-.6 .3-.5-.2-.6 .7-.6-.1-.5-.1-.6-.2-.6 .2-.5-.5-.6-.1-.6 .4-.5-.5-.6 0-.6 .4-.5-.1-.6-.2-.6 .2-.5-.4-.6 .3-.6 0-.5 .2-.6 0-.6-.1-.5 .2-.6 .2-.6 .2-.5-.3-.6 .2-.6 .1-.5-.1-.6-.5-.6 .1-.5 .1-.6-.3-.6 .6-.5-.2-.6-.4-.6 .1-.5 .1-.6 0-.6-.1-.5 .2-.6 .4z"/><path class="b" d="M.9 13.7l.6-.5 .5-.1 .6 .2 .6-.5 .5 .5 .6-.4 .6-.2 .5 .8 .6-.4 .6-.3 .5 0 .6-1.6 .6 2.1 .5 .3 .6-.4 .6 .2 .5 0 .6-.2 .6 .1 .5-.4 .6 .4 .6-2.4 .5 2.2 .6-.1 .6-.2 .5 .1 .6 0 .6 .2 .5 .1 .6-2.7 .6 .3 .5 2 .6 .2 .6 .1 .5-.7 .6-.6 .6 1.6 .5-.5 .6-.1 .6 .2 .5 .1 .6-1.6 .6 1.6 .5-1.2 .6 .7 .6 .7 .5-1 .6 .5"/><path class="b" d="M.9 13.4l.6-.2 .5-.2 .6 .3 .6-.4 .5 .1 .6-.1 .6 .1 .5 .4 .6-.7 .6 .6 .5-.1 .6 0 .6 .5 .5 0 .6-.2 .6-.4 .5 .3 .6-1.5 .6 1.4 .5-.1 .6 0 .6 0 .5-.3 .6-2.2 .6 1.4 .5 .8 .6-.1 .6-1.6 .5-.7 .6 2.3 .6-.3 .5 .8 .6-.7 .6 .5 .5 0 .6 .1 .6-.2 .5 .3 .6-.2 .6-.1 .5 .2 .6-.6 .6 .6 .5-.1 .6-.4 .6 .4 .5-.3 .6 .2"/><path class="k" d="M.8 16.1l0-8.5 1.4 .4 .4 4.7-1.1 .5 .5-.2 .6 .1 .6 0 .5-.1 .6-.1 .6 .4 .5 .2 .6-.6 .6 .3 .5-.1 .6-.1 .6 .5 .5 .1 .6-.1 .6-.2 .5 .3 .6-.2 .6-.2 .5-.2 .6 .1 .6 0 .5-.2 .6 0 .6-.3 .5 .4 .6-.2 .6 .2 .5 .1 .6-.4 .6 0 .5 .5 .6-.4 .6 .1 .5 .5 .6-.2 .6 .2 .5 .1 .6 .1 .6-.7 .5 .2 .6-.3 .6 .3 .5-.2 .6-.1 .6 .4 .5-.4 .6 0 0 3.4-.6 .1-.5-.1-.6 .1-.6-.1-.5-.1-.6 .1-.6 0-.5 0-.6 .1-.6-.2-.5 .2-.6-.1-.6-.1-.5 .1-.6 0-.6-.1-.5 0-.6 0-.6 0-.5 0-.6-.1-.6 .1-.5-.1-.6 .2-.6-.1-.5 .2-.6-.1-.6 0-.5 0-.6 0-.6-.1-.5 .2-.6 0-.6 0-.5 0-.6-.1-.6-.1-.5 .2-.6 0-.6-.1-.5-.1-.6 .2-.6-.1-.5-.1-.6 .2-.6-.1-.5 0-.7-.1z"/><use href="#f"/></g>
<g transform="translate(229.7 183.4)" color="#000" stroke="none"><use href="#g"/><path class="c" d="M.9 9.3l.6-.5 .5 .7 .6 1.1 .6-.6 .5 .1 .6-.6 .6 1.1 .5 .5 .6 .2 .6-.6 .5 .9 .6 .3 .6-1.9 .5 1.2 .6-.5 .6 .4 .5-1.5 .6 1.2 .6 .8 .5-1 .6 .5 .6-.3 .5 .8 .6-.1 .6-.1 .5-.1 .6 .3 .6-.7 .5 .6 .6-.8 .6-.7 .5 .8 .6 .2 .6-1.1 .5 0 .6 .5 .6 1.1 .5 .3 .6-1.5 .6 .1 .5 .6 .6-.3 .6-.1 .5-.3 .6 1 .6-.4 .5-.8 .6 .5 0 2.6-.6 .1-.5-.4-.6 .7-.6-.9-.5 .1-.6 0-.6 .1-.5 0-.6-.1-.6 1-.5-.5-.6-.5-.6-.4-.5 .3-.6 .4-.6-.2-.5-.1-.6 .5-.6-.1-.5-.4-.6 .6-.6-.4-.5 .1-.6 .1-.6 .3-.5-.2-.6-.4-.6 .5-.5 .2-.6-.5-.6-.2-.5 .2-.6 .3-.6 0-.5-.2-.6 .4-.6 .2-.5-.8-.6 .1-.6 .2-.5-.3-.6-.2-.6 .5-.5-.5-.6 .3-.6 .3-.5-.1-.6-.1z"/><path class="b" d="M.9 13.4l.6-.3 .5 .2 .6-.4 .6 0 .5 .4 .6-1.1 .6 1 .5 .2 .6-.5 .6 .2 .5 .7 .6-.1 .6-1 .5 .4 .6 .1 .6-.1 .5-.4 .6 .5 .6 .5 .5-.8 .6-.1 .6-1.7 .5 2.6 .6-1 .6-1.3 .5-.5 .6 2.5 .6-.5 .5 .4 .6-2 .6 1.3 .5-.1 .6-.1 .6-.2 .5-.7 .6 1.4 .6-2 .5 2.5 .6-2.2 .6 2 .5-.4 .6 .2 .6-.3 .5-.1 .6-1.8 .6 2.3 .5-1.8 .6 1.2"/><path class="b" d="M.9 13.3l.6 0 .5-1.9 .6 1.4 .6 .1 .5-.1 .6-.4 .6 .6 .5 .5 .6-.7 .6 .1 .5 .4 .6-2.1 .6 2.1 .5 .2 .6-.1 .6-.3 .5-.3 .6 0 .6 1 .5-.5 .6-.7 .6 .4 .5 .6 .6-3.1 .6 2.6 .5 .2 .6-.1 .6-.7 .5 .9 .6-.3 .6-1.5 .5-.3 .6 1.9 .6-.7 .5-.1 .6 .7 .6-1.7 .5 2.2 .6-1.2 .6 .7 .5-.1 .6-.5 .6 .3 .5-2.2 .6 .2 .6 2.3 .5-1.6 .6 1.8"/><path class="k" d="M.8 16.1l0-8.3 1.4 .5 .4 4.4-1.1 .6 .5 .1 .6-.3 .6-.3 .5 .5 .6-.5 .6 .2 .5 .3 .6-.2 .6-.1 .5 .8 .6-.2 .6-.4 .5 .2 .6 0 .6-.3 .5-.2 .6 .2 .6 .5 .5-.2 .6-.5 .6 .4 .5 .2 .6-.3 .6-.1 .5-.1 .6 .4 .6-.6 .5 .4 .6 .1 .6-.5 .5 .1 .6 .2 .6-.4 .5-.3 .6 .4 .6 .5 .5 .5 .6-1 .6 .1 .5 0 .6-.1 .6 0 .5-.1 .6 .9 .6-.7 .5 .4 .6-.1 0 3.2-.6-.3-.5 0-.6 .1-.6 0-.5 0-.6 0-.6 0-.5 .1-.6-.2-.6 0-.5 .1-.6 0-.6-.1-.5 0-.6 0-.6 0-.5 .2-.6-.2-.6 .1-.5 0-.6 0-.6-.2-.5 .4-.6-.1-.6-.1-.5 0-.6-.1-.6 0-.5 .2-.6-.1-.6 .1-.5-.1-.6-.1-.6 0-.5 .2-.6 0-.6 0-.5 0-.6 .2-.6-.3-.5 0-.6 0-.6 .1-.5-.1-.6 .1-.6-.1-.5 0-.7-.1z"/><use href="#f"/></g>
<g transform="translate(270.8 183.4)" color="#f00" stroke="none"><use href="#g"/><path class="c" d="M.9 9.4l.6-.3 .5 .3 .6-.1 .6 2.2 .5-1.1 .6-.3 .6 1 .5-.2 .6-.6 .6 0 .5 1.2 .6-1.1 .6 0 .5 .3 .6 .6 .6 0 .5 0 .6-.8 .6 .7 .5 0 .6-1.2 .6 .1 .5 1.6 .6-1 .6 .1 .5-.4 .6 .4 .6 .2 .5-1.1 .6 1 .6 0 .5-.2 .6 .3 .6-.1 .5-.3 .6-.6 .6 .9 .5 .8 .6-1.7 .6 .7 .5 .4 .6-.5 .6-.6 .5 .2 .6 .9 .6 .3 .5-.3 .6 .3 0 1.7-.6 .3-.5 .1-.6-.1-.6-.6-.5 .2-.6 .4-.6 .1-.5-.5-.6 .2-.6-.1-.5 .1-.6 0-.6-.2-.5 .6-.6-.8-.6-.1-.5 .7-.6-.3-.6-.1-.5 .1-.6 0-.6 .3-.5-.6-.6 .4-.6 .3-.5-.8-.6 .3-.6 .4-.5-.2-.6 0-.6 .2-.5-.1-.6-.3-.6 .1-.5 .3-.6-.3-.6-.1-.5 .4-.6 0-.6 .1-.5-.5-.6 .3-.6-.4-.5 1-.6-.3-.6-.5-.5 .6-.6-.6z"/><path class="b" d="M.9 13.1l.6 .7 .5-1 .6 .4 .6 .6 .5-.7 .6 .2 .6-.3 .5 .8 .6-.5 .6 .2 .5-.3 .6 .1 .6 .1 .5-.3 .6 .1 .6 .3 .5-.5 .6 .1 .6 .2 .5 .3 .6-.8 .6-1.9 .5 2.2 .6 0 .6-.3 .5-1.6 .6 1.9 .6 0 .5-.2 .6 .4 .6 .1 .5-1.8 .6 1.3 .6 .7 .5-.4 .6 .1 .6-1.8 .5 1.1 .6-1.2 .6 1.2 .5 .9 .6-.2 .6-.3 .5-.2 .6 .7 .6-2.6 .5 2 .6 .5"/><path class="b" d="M.9 12.3l.6 1.5 .5-.5 .6-.1 .6 .8 .5-.9 .6-.1 .6 .2 .5-.1 .6 0 .6 .1 .5-.3 .6-.3 .6 .4 .5 .2 .6 0 .6 .3 .5-.5 .6-.3 .6 .5 .5 .3 .6-1.2 .6 .4 .5 .8 .6-.4 .6 0 .5 .1 .6-.2 .6 .2 .5 0 .6 .1 .6 .1 .5-2.7 .6 .2 .6 2.7 .5-1.8 .6-.6 .6 .6 .5 .9 .6 .6 .6-.4 .5-.9 .6 1.4 .6-.6 .5-.4 .6 1.1 .6 .2 .5-3 .6-.1"/><path class="k" d="M.8 16.1l0-7.4 1.4 .5 .4 3.5-1.1 1 .5-.6 .6 .5 .6 .3 .5-1 .6 .4 .6-.3 .5 .5 .6-.1 .6 0 .5-.4 .6 .1 .6 .3 .5-.3 .6-.1 .6 .3 .5 .1 .6-.2 .6 0 .5 .2 .6-.4 .6-.3 .5 .8 .6-.3 .6-.4 .5 .6 .6-.3 .6 0 .5-.1 .6 .1 .6 .3 .5-.7 .6 .1 .6 .8 .5-.6 .6 .2 .6 0 .5-.1 .6 .1 .6-.2 .5 .5 .6-.1 .6-.4 .5-.2 .6 .6 .6 .1 .5-.1 .6-.3 0 3-.6 .1-.5 0-.6 0-.6 0-.5 0-.6-.1-.6 .1-.5 0-.6-.3-.6 .3-.5-.1-.6 .1-.6-.1-.5 .1-.6-.1-.6 0-.5 .1-.6 0-.6 0-.5-.1-.6 .2-.6-.2-.5 0-.6 0-.6 0-.5 .1-.6-.1-.6 .1-.5 .2-.6-.3-.6 .1-.5 0-.6 .3-.6-.3-.5 0-.6-.1-.6 .1-.5 0-.6 .2-.6-.1-.5-.1-.6 0-.6-.1-.5 .2-.6 0-.6 0-.5-.1-.7-.1z"/><use href="#f"/></g>
<g transform="translate(311.9 183.4)" color="#f00" stroke="none"><use href="#g"/><path class="c" d="M.9 8.3l.6 .3 .5 .7 .6 1.1 .6-.1 .5 1 .6-1.4 .6 1.5 .5-1.1 .6 .8 .6 0 .5 .5 .6-.6 .6-.8 .5 .6 .6 .3 .6 .4 .5-.8 .6 .5 .6 0 .5-.4 .6-.4 .6 .3 .5 .3 .6 .1 .6 .7 .5-.5 .6-.4 .6 .1 .5-.4 .6 0 .6 .4 .5-1.5 .6 1.4 .6 .7 .5-.2 .6 .2 .6-.5 .5 0 .6-1.2 .6 .6 .5-.3 .6 .6 .6 0 .5 .9 .6-.9 .6-.5 .5-.1 .6 1.8 0 1.4-.6-.3-.5-.1-.6 .2-.6 .5-.5-1.1-.6 .5-.6 .1-.5 .1-.6-.1-.6 .6-.5-.9-.6 .2-.6 .2-.5-.2-.6 0-.6-1-.5 1.7-.6-1.3-.6 .2-.5 .5-.6-.2-.6 .3-.5 .5-.6-.9-.6 .4-.5-.4-.6 .5-.6-.4-.5 0-.6 .4-.6-.3-.5 .6-.6-1.1-.6 .4-.5 .1-.6 .2-.6 .3-.5-.7-.6 .3-.6 0-.5 .2-.6 0-.6 .1-.5-.9-.6 1-.6-.4-.5-.5-.6 .4z"/><path class="b" d="M.9 12.5l.6 .2 .5 .2 .6 .7 .6-.9 .5 .1 .6 .6 .6 0 .5 0 .6-.1 .6-.2 .5 .5 .6-.2 .6-.6 .5 .3 .6-.4 .6 1.1 .5-1.2 .6 .5 .6-.2 .5 0 .6 .7 .6-.6 .5 .3 .6-2.7 .6 2.8 .5-.5 .6 0 .6-1.3 .5-.3 .6 1.2 .6 1.5 .5-2.1 .6 .2 .6 .5 .5 .2 .6 .4 .6-.3 .5 1 .6-.8 .6 .3 .5-3.1 .6 2.6 .6-.5 .5 1.5 .6-.6 .6-.1 .5-.5 .6 .5"/><path class="b" d="M.9 13.2l.6-.5 .5 .6 .6 .2 .6-.8 .5-.7 .6 1.6 .6-2.6 .5 2.2 .6 0 .6-.3 .5 .7 .6-.3 .6 0 .5-.2 .6-.4 .6 1.2 .5-1.4 .6 .8 .6-2.1 .5 1.4 .6 .8 .6-.7 .5 .6 .6-.3 .6 1 .5-1.2 .6-2 .6 2.4 .5-.3 .6-.4 .6 1.1 .5-1.5 .6 1 .6 .2 .5 0 .6-.9 .6 .6 .5 .4 .6-1.9 .6 2 .5-.6 .6 .1 .6-.5 .5 1.2 .6-3.3 .6 2.6 .5-.1 .6-2.6"/><path class="k" d="M.8 16.1l0-7.8 1.4 .5 .4 3.9-1.1 0 .5 .5 .6 .4 .6-1 .5 .9 .6-.1 .6 0 .5-.2 .6 0 .6-.3 .5 .7 .6-.3 .6-.2 .5-.1 .6-.4 .6 1.1 .5-.6 .6 .3 .6-.4 .5 0 .6 .4 .6-.5 .5 .4 .6-.4 .6 .9 .5-.5 .6-.3 .6 .2 .5-.5 .6-.2 .6 1.3 .5-1.7 .6 1 .6 0 .5 .2 .6-.2 .6-.2 .5 .9 .6-.6 .6 .1 .5-.1 .6-.1 .6-.5 .5 1.1 .6-.5 .6-.2 .5 .1 .6 .3 0 2.8-.6 0-.5-.1-.6 .2-.6-.2-.5 0-.6 .1-.6 0-.5-.1-.6-.1-.6 .2-.5 0-.6 .1-.6-.2-.5 .1-.6-.1-.6 0-.5 .1-.6-.2-.6 0-.5 .2-.6 .1-.6-.4-.5 .4-.6-.2-.6 0-.5-.1-.6 .4-.6-.1-.5-.2-.6 .2-.6-.1-.5-.1-.6 .1-.6 .1-.5-.1-.6 0-.6 0-.5 .1-.6-.1-.6 0-.5 .2-.6-.3-.6 0-.5 .2-.6-.1-.6-.1-.5 .1-.7-.1z"/><use href="#f"/></g>
<g transform="translate(353 183.4)" color="#f00" stroke="none"><use href="#g"/><path class="c" d="M.9 9l.6-.5 .5 1.9 .6-.4 .6 0 .5 .1 .6-.7 .6 1 .5-.1 .6-.5 .6 1.3 .5-1.2 .6 .5 .6 1 .5 .5 .6-.9 .6 0 .5 .4 .6-.8 .6 .1 .5 .7 .6-.8 .6 .5 .5-.4 .6 .2 .6 .4 .5-.3 .6 .5 .6 .3 .5-1.5 .6 1 .6-.8 .5 .5 .6-.4 .6-.1 .5-.4 .6 1 .6-.2 .5 .8 .6 0 .6 .3 .5-.6 .6-.7 .6 .3 .5 .4 .6-.6 .6 .4 .5-1.4 .6 1.3 0 2.4-.6-.2-.5-.6-.6 .2-.6 .4-.5-.5-.6 .2-.6 .3-.5 .3-.6-.5-.6 .7-.5-.9-.6 0-.6 .4-.5-.8-.6 .3-.6 .6-.5-1-.6 .8-.6-.4-.5 .6-.6-.1-.6 .2-.5-.1-.6-.5-.6 .1-.5 1-.6-1-.6 .2-.5 .4-.6-.8-.6 .2-.5 .1-.6 .4-.6-.1-.5-.1-.6-.8-.6-.1-.5 .9-.6-.4-.6 .5-.5-.4-.6 .1-.6 .3-.5-.3-.6 .6-.6 0-.5-.6-.6 .3z"/><path class="b" d="M.9 13.2l.6-.4 .5 .7 .6 .3 .6-.5 .5-2 .6 2 .6-.6 .5 .5 .6-.7 .6 .5 .5-.7 .6 0 .6 1 .5-1.9 .6 2.3 .6-.5 .5-2 .6-.2 .6 2.5 .5-.4 .6-.4 .6-1.6 .5 1.5 .6 .3 .6 .2 .5 .4 .6-.6 .6-.1 .5-.3 .6 .9 .6-1.3 .5 1.1 .6-2.4 .6 1.9 .5 .6 .6-.3 .6-.1 .5 .6 .6-.4 .6-2.2 .5 2.1 .6-1.3 .6-.4 .5 2.2 .6-.7 .6 0 .5 .5 .6-1.7"/><path class="b" d="M.9 12.9l.6 .4 .5 .1 .6 .4 .6-.5 .5-.2 .6 0 .6-.2 .5 .7 .6-.6 .6 .5 .5-1.8 .6 .9 .6 .3 .5 .6 .6-.2 .6-.7 .5 .2 .6-.3 .6 1 .5-.6 .6-1.5 .6 2 .5-.7 .6 .3 .6 .1 .5 .6 .6-1.2 .6 .8 .5-.7 .6 .9 .6-1 .5 1.1 .6-2.1 .6 .8 .5 .9 .6-.2 .6 .1 .5 .8 .6-.6 .6 .4 .5-.7 .6 .2 .6-.5 .5 .4 .6-2.8 .6 1.9 .5 1 .6 .5"/><path class="k" d="M.8 16.1l0-7.7 1.4 .5 .4 3.8-1.1 .4 .5 .6 .6 0 .6-.6 .5 .3 .6-.3 .6-.1 .5 .4 .6-.5 .6 .4 .5-.9 .6 .1 .6 .8 .5 .1 .6 .1 .6-.4 .5-.1 .6-.2 .6 .8 .5-.4 .6-.2 .6 1 .5-1 .6-.1 .6 .5 .5 .1 .6-.2 .6 .1 .5-.6 .6 .4 .6-.8 .5 1 .6-.6 .6-.3 .5 .8 .6-.4 .6 0 .5 .9 .6-.7 .6 .5 .5-.3 .6-.3 .6-.2 .5 .5 .6-.4 .6-.2 .5 .6 .6 .2 0 2.9-.6-.1-.5-.1-.6 .2-.6 0-.5-.2-.6-.1-.6 .2-.5-.1-.6-.1-.6 0-.5 .1-.6-.2-.6 0-.5 .2-.6-.1-.6 .2-.5-.2-.6 .1-.6-.1-.5 .1-.6 0-.6 0-.5-.1-.6 .2-.6 .1-.5-.3-.6 .1-.6 0-.5 0-.6 0-.6 .1-.5 0-.6-.2-.6 .2-.5 0-.6-.2-.6 .1-.5 0-.6-.2-.6 .2-.5 0-.6 .2-.6-.2-.5-.2-.6 .5-.6-.4-.5 0-.7 0z"/><use href="#f"/></g>
<g transform="translate(394.2 183.4)" color="#f00" stroke="none"><use href="#g"/><path class="c" d="M.9 7.8l.6 .9 .5 1.5 .6-.8 .6 1.1 .5-1.2 .6 .4 .6 .5 .5-.3 .6 1.5 .6-.9 .5-.2 .6 .5 .6 .7 .5-.2 .6-1.2 .6 1 .5 .9 .6-.8 .6 .5 .5 .2 .6-1.2 .6 .2 .5 .1 .6 .4 .6 0 .5-.6 .6 .3 .6-.6 .5 .7 .6-1.1 .6 1 .5 .5 .6-.8 .6 .8 .5-.7 .6-.6 .6 .2 .5 .5 .6 .2 .6 .1 .5 .1 .6-.2 .6-.1 .5-.7 .6-.3 .6 1.5 .5 0 .6-.4 0 1.9-.6 .3-.5-.1-.6-.2-.6 0-.5 .2-.6-.4-.6 .5-.5-.1-.6-.2-.6 .5-.5-.1-.6-.3-.6-.4-.5 .3-.6-.1-.6 .5-.5-.2-.6-.3-.6 .4-.5-.8-.6 .3-.6 .1-.5 .8-.6-.5-.6 0-.5-.5-.6 .1-.6 .7-.5-.5-.6 .4-.6 .2-.5-1-.6 .4-.6 .3-.5-.1-.6 .1-.6-.3-.5 .2-.6-.3-.6-.1-.5 .4-.6-.4-.6 .1-.5 .6-.6-.4-.6 .1-.5-.6-.6 .6z"/><path class="b" d="M.9 13l.6-.1 .5 .4 .6 .1 .6-1.4 .5 .7 .6 .2 .6-2.1 .5 2.1 .6 0 .6 .7 .5-.8 .6 .7 .6-.1 .5-.5 .6 .1 .6-.2 .5 .7 .6 .1 .6-.6 .5 .6 .6-.7 .6-.1 .5 .3 .6-.1 .6 .9 .5-1.7 .6 .4 .6-1.4 .5 0 .6 1.6 .6 .1 .5 .6 .6-.6 .6 .3 .5-.5 .6 0 .6 .7 .5 .1 .6-2.7 .6 2.5 .5-.4 .6 .1 .6 .4 .5-3.1 .6 2.8 .6 .3 .5 0 .6-2.6"/><path class="b" d="M.9 13.2l.6-.3 .5 .5 .6-.2 .6-1.5 .5-.3 .6 1.7 .6 .3 .5-.6 .6-1.8 .6 2.3 .5-.2 .6 .4 .6-.6 .5 .6 .6-.3 .6-.3 .5 1 .6-.4 .6-.5 .5 .7 .6-1 .6-.3 .5 .6 .6 .3 .6 .4 .5-.8 .6 .2 .6-.5 .5-2.2 .6 2.8 .6-.1 .5-2.2 .6 .1 .6 2 .5-.1 .6-.5 .6 1.1 .5 .2 .6-2.5 .6 2.2 .5-1.1 .6 .7 .6 .2 .5 .1 .6-.6 .6 .4 .5-2.3 .6 .9"/><path class="k" d="M.8 16.1l0-7.5 1.4 .4 .4 3.7-1.1 0 .5 .6 .6-.1 .6 .4 .5-.6 .6-.1 .6 .4 .5-.4 .6 .1 .6 .3 .5-.2 .6 .3 .6-.1 .5 .1 .6-.3 .6-.4 .5 1 .6-.2 .6-.4 .5 .5 .6-.7 .6-.1 .5 .5 .6 0 .6 .5 .5-.8 .6-.1 .6-.3 .5 .8 .6-.4 .6 .3 .5 .2 .6-.5 .6 .1 .5-.3 .6 .4 .6 .3 .5 .1 .6-.5 .6 .2 .5 .1 .6-.5 .6 .4 .5-.2 .6 0 .6 .2 .5 .1 .6-.3 0 3.2-.6-.1-.5 .2-.6-.2-.6-.1-.5 0-.6 .2-.6 0-.5-.2-.6-.1-.6 .3-.5-.1-.6-.1-.6 0-.5 .1-.6 0-.6 .2-.5-.2-.6-.2-.6 .3-.5 0-.6-.2-.6 .1-.5 .1-.6 .1-.6-.1-.5-.1-.6 0-.6-.1-.5 .1-.6-.1-.6 .2-.5 .1-.6-.4-.6 .3-.5 0-.6-.1-.6-.1-.5-.1-.6 0-.6 .1-.5 .1-.6 .2-.6-.2-.5 0-.6-.1-.6 0-.5 .2-.7-.2z"/><use href="#f"/></g>
<g transform="translate(435.3 183.4)" color="#f00" stroke="none"><use href="#g"/><path class="c" d="M.9 7.9l.6 1.7 .5 .3 .6 .3 .6 .2 .5 .9 .6-.4 .6-.4 .5 0 .6-.2 .6 .2 .5 .5 .6 .5 .6-1.1 .5 .2 .6 .6 .6-.6 .5 1.1 .6-.9 .6-.6 .5 1.4 .6 .1 .6-1.6 .5 .8 .6 0 .6-.6 .5-.5 .6 1 .6 1 .5 .1 .6-1.2 .6 .6 .5-.5 .6-.5 .6 .7 .5 0 .6 0 .6 .8 .5-2.1 .6 1 .6-1.4 .5 2.1 .6-1.3 .6 .7 .5 .4 .6-.6 .6 1.3 .5-.5 .6-1.7 0 2.9-.6 .5-.5 .4-.6-.9-.6 .8-.5-.7-.6 .5-.6 .6-.5-.8-.6 .4-.6-.7-.5 .8-.6-.8-.6 .3-.5-.2-.6-.2-.6 .3-.5 .6-.6-.6-.6 .6-.5-.1-.6-.4-.6 .3-.5-1.1-.6 1.3-.6-.3-.5-.4-.6 .7-.6-.2-.5-.4-.6 .7-.6 .1-.5-.6-.6 .1-.6-.4-.5 .5-.6 .1-.6-.3-.5 0-.6-.3-.6 0-.5 .5-.6-.1-.6 .7-.5-.7-.6 .1-.6 .1-.5-.2-.6-.2z"/><path class="b" d="M.9 12.9l.6 .1 .5 .2 .6 .3 .6-.2 .5-1.5 .6 1.4 .6 .3 .5-.5 .6 0 .6-.2 .5-.6 .6 1 .6 0 .5-.7 .6 .9 .6-.4 .5 .7 .6 0 .6-1.4 .5 .8 .6 .5 .6-1 .5 .2 .6 .9 .6-1.3 .5-.6 .6 1.2 .6-.2 .5 .3 .6-.9 .6 1.1 .5-.3 .6-2.2 .6 1.9 .5 0 .6-.1 .6 .3 .5-.3 .6 .7 .6-.2 .5 .9 .6-.7 .6-.4 .5 .3 .6-1.9 .6 2.4 .5-.6 .6-.5"/><path class="b" d="M.9 13l.6-.3 .5 .6 .6-.4 .6 .4 .5 .6 .6-.6 .6-.5 .5-.6 .6 .6 .6 .2 .5-.1 .6 0 .6 .3 .5-.2 .6 .3 .6-.4 .5 .9 .6-.3 .6-.7 .5 .5 .6-.2 .6-1.4 .5 1.5 .6-.1 .6-.8 .5-.1 .6 .2 .6 1 .5-.1 .6-.2 .6-2.6 .5 2.3 .6-.7 .6 .3 .5-.8 .6 .5 .6 1.5 .5-1.2 .6-1.3 .6 1.9 .5 .2 .6 .1 .6-.9 .5 1.2 .6-1.2 .6 1.1 .5-.2 .6-1.9"/><path class="k" d="M.8 16.1l0-7.6 1.4 .4 .4 3.8-1.1 .5 .5 .2 .6-.1 .6-.1 .5 .7 .6-.7 .6 .1 .5-.5 .6 0 .6 .3 .5 0 .6 .3 .6-.1 .5-.5 .6 .4 .6-.1 .5 .6 .6-.1 .6-.7 .5 .4 .6 .2 .6-.7 .5 .4 .6 .3 .6-1.3 .5 1.1 .6-.3 .6 .4 .5 .1 .6-.6 .6 .6 .5-.6 .6-.3 .6 .2 .5 .2 .6-.3 .6 .8 .5-.8 .6 .7 .6-.4 .5 .8 .6-.6 .6-.5 .5 .7 .6-.8 .6 .9 .5-.4 .6-.5 0 3.5-.6 0-.5 0-.6 .1-.6-.1-.5 .2-.6 0-.6-.1-.5 .2-.6-.3-.6 .2-.5-.2-.6 0-.6 .1-.5-.1-.6 0-.6 0-.5 .1-.6-.1-.6 .1-.5 0-.6-.1-.6 .1-.5-.1-.6 0-.6 .2-.5-.1-.6-.1-.6 .2-.5-.2-.6 .1-.6 0-.5 .1-.6-.3-.6 .2-.5 0-.6 .1-.6-.1-.5 .1-.6-.1-.6 0-.5 0-.6-.1-.6 .1-.5-.1-.6 0-.6 .2-.5-.2-.7 0z"/><use href="#f"/></g>
<g transform="translate(476.4 183.4)" color="#f00" stroke="none"><use href="#g"/><path class="c" d="M.9 7.9l.6 .4 .5 .9 .6 .7 .6 1 .5-.6 .6 .5 .6-1.1 .5 1.3 .6 .3 .6-1.2 .5 .4 .6 .3 .6 .5 .5-.5 .6 0 .6 .5 .5-.5 .6 .4 .6-.2 .5 .2 .6-1.3 .6 1.2 .5 .1 .6-.6 .6 .1 .5 .5 .6-.4 .6-.4 .5 1 .6-.4 .6-.9 .5 1.3 .6-.5 .6-.1 .5-.2 .6 1.1 .6 .4 .5-.8 .6-1.1 .6 .3 .5 .2 .6 0 .6-.4 .5 .8 .6 .1 .6 .6 .5-.2 .6-1.2 0 2.2-.6 .9-.5 0-.6 0-.6-.7-.5 0-.6 .4-.6-.4-.5 .5-.6-.5-.6 .4-.5 .4-.6-.3-.6-.4-.5 .4-.6 .2-.6 0-.5-.5-.6 .7-.6-.8-.5-.1-.6 .4-.6 .1-.5-.4-.6 .3-.6-.2-.5 0-.6 .3-.6 .3-.5-.5-.6-.1-.6 .6-.5 .1-.6-.4-.6 .1-.5-.3-.6 .2-.6-.4-.5-.1-.6 .2-.6 .5-.5-.1-.6-.1-.6-.1-.5 .5-.6-.6-.6 .4-.5-.6-.6-.4z"/><path class="b" d="M.9 12l.6 1 .5 .6 .6-1.1 .6 1.1 .5-.4 .6 0 .6 .2 .5 .2 .6-.6 .6 0 .5-.3 .6 .5 .6-.2 .5 .4 .6-.1 .6 .1 .5 .1 .6-2.6 .6 2.1 .5-1.9 .6-.2 .6 2.3 .5-2.5 .6 2.3 .6-1 .5 1.2 .6 .1 .6-.5 .5-.5 .6 1.2 .6-.5 .5 .4 .6 .3 .6-.4 .5-.7 .6 0 .6 .2 .5 .1 .6 0 .6 .2 .5-.2 .6-.4 .6 .4 .5 .1 .6 .2 .6 0 .5 .1 .6-2.7"/><path class="b" d="M.9 12.7l.6 .1 .5 1 .6-.5 .6 .5 .5-.4 .6-.1 .6-.5 .5-2 .6 1.9 .6 0 .5 .3 .6 .2 .6-.1 .5 .5 .6-.4 .6 .5 .5-.2 .6-.3 .6-.4 .5 .5 .6-.4 .6 .3 .5-.4 .6 .4 .6-.1 .5-2.5 .6 2 .6-.1 .5-1.7 .6 3.1 .6-.8 .5 .4 .6 .1 .6-.4 .5-.3 .6 .6 .6-2.2 .5 2.2 .6-.7 .6 .6 .5-.5 .6 .5 .6-.8 .5 .4 .6-2.1 .6-.3 .5 3 .6-1"/><path class="k" d="M.8 16.1l0-7.8 1.4 .4 .4 4-1.1 .2 .5 .6 .6-.4 .6 .6 .5-.5 .6 .1 .6 .1 .5 .1 .6-.5 .6-.2 .5 .1 .6 .4 .6-.2 .5 .3 .6-.1 .6 .4 .5-.1 .6-.6 .6 .1 .5 .5 .6-.3 .6-.3 .5 0 .6 .2 .6-.3 .5 .4 .6-.1 .6-.4 .5 .1 .6 .8 .6-.7 .5 .5 .6 0 .6-.2 .5-.4 .6 .4 .6 .3 .5-.4 .6-.4 .6 .5 .5-.5 .6 .4 .6-.4 .5 0 .6 .7 .6 0 .5 0 .6-.9 0 3.5-.6 .2-.5 0-.6-.1-.6 0-.5 0-.6 .2-.6-.2-.5 0-.6 .1-.6-.1-.5 0-.6-.2-.6 .2-.5-.2-.6 0-.6-.1-.5 .2-.6 .2-.6 0-.5 0-.6-.1-.6 .2-.5-.1-.6 .1-.6-.1-.5-.2-.6 .1-.6-.1-.5 0-.6 0-.6 .3-.5-.2-.6 0-.6 0-.5 .1-.6 0-.6-.1-.5 .1-.6-.1-.6 0-.5 .2-.6-.2-.6 0-.5 .1-.6 .1-.6-.2-.5-.2-.7 .1z"/><use href="#f"/></g>
<g transform="translate(65.2 210.4)" color="#f00" stroke="none"><use href="#g"/><path class="c" d="M.9 9l.6-.1 .5-.2 .6 .6 .6 1.4 .5-1.6 .6 1 .6 .7 .5-1.4 .6 .5 .6 1.4 .5-2.7 .6 2.7 .6-.7 .5-.2 .6-.8 .6 .3 .5 .9 .6-.2 .6 .8 .5-1.4 .6 .3 .6 1.1 .5-.1 .6-1.5 .6 1.2 .5 .1 .6-2 .6 .7 .5-1 .6 1.3 .6-1.3 .5 1.7 .6-.9 .6-.7 .5 .1 .6 .6 .6-.3 .5 .4 .6-1.4 .6 1 .5-.6 .6 .9 .6-2.1 .5-.2 .6 .6 .6 2.3 .5-1.7 .6 0 0 4.8-.6-.4-.5 .1-.6 .1-.6-.1-.5-.6-.6 .5-.6 .2-.5-.2-.6-.1-.6 .1-.5 .1-.6-.9-.6 .2-.5 .5-.6 .3-.6 .2-.5-.3-.6-.1-.6-.2-.5 0-.6 .3-.6 .5-.5-.5-.6-.1-.6 .8-.5-.5-.6-.1-.6-.2-.5 .4-.6 .6-.6-.4-.5-.7-.6 .6-.6-.9-.5 .5-.6 .9-.6-1.1-.5 .8-.6-.4-.6-.1-.5 .6-.6-.7-.6-.3-.5 1.1-.6-.4-.6 0-.5 .2-.6-1z"/><path class="t" d="M.9 11.1l.6 .8 .5-.5 .6 .2 .6 .8 .5-1.5 .6 .6 .6 .6 .5-1.2 .6 1 .6 .5 .5-1.2 .6 1.4 .6-.8 .5-.7 .6 .4 .6 0 .5 .3 .6 .2 .6-.5 .5 .1 .6-.3 .6 .3 .5 .4 .6-1.2 .6 .9 .5 .4 .6-.9 .6-.1 .5-.3 .6-.1 .6-.1 .5 .8 .6-.5 .6-.1 .5-.3 .6 0 .6 .6 .5 0 .6-.3 .6 0 .5 .4 .6-.6 .6-.4 .5 .7 .6 .3 .6 .3 .5-.6 .6 .5 0 1.9-.6-.4-.5 .1-.6 .1-.6-.1-.5-.6-.6 .5-.6 .2-.5-.2-.6-.1-.6 .1-.5 .1-.6-.9-.6 .2-.5 .5-.6 .3-.6 .2-.5-.3-.6-.1-.6-.2-.5 0-.6 .3-.6 .5-.5-.5-.6-.1-.6 .8-.5-.5-.6-.1-.6-.2-.5 .4-.6 .6-.6-.4-.5-.7-.6 .6-.6-.9-.5 .5-.6 .9-.6-1.1-.5 .8-.6-.4-.6-.1-.5 .6-.6-.7-.6-.3-.5 1.1-.6-.4-.6 0-.5 .2-.6-1z"/><path class="b" d="M.9 12.5l.6 1.2 .5-.4 .6-.1 .6 .4 .5-1.1 .6 .8 .6 .2 .5-.2 .6 0 .6 .5 .5-.9 .6 .3 .6-.1 .5-1 .6 1.2 .6-.5 .5 .5 .6 .1 .6 0 .5-.4 .6 0 .6 .2 .5 .6 .6-.9 .6 .2 .5 .4 .6-.3 .6-.8 .5-1.9 .6 2.3 .6 .1 .5 .1 .6-.2 .6-2 .5-.7 .6 2.2 .6 .4 .5 .4 .6-.3 .6 0 .5-.1 .6-4.3 .6 4 .5 .6 .6 .3 .6-.3 .5 0 .6 .2"/><path class="b" d="M.9 12.7l.6 1 .5-.3 .6-.5 .6 .7 .5-.7 .6 .1 .6 .4 .5-.3 .6 0 .6 .6 .5-.7 .6 .5 .6-.5 .5-.4 .6 .8 .6-.5 .5 .3 .6 .6 .6-.8 .5 .1 .6-.3 .6-.1 .5 1.2 .6-1.6 .6-3.9 .5 5.3 .6-.5 .6-2.7 .5 2.3 .6 .1 .6-3.9 .5-.1 .6 4.3 .6-.5 .5-.2 .6-.3 .6 .9 .5-.4 .6 .2 .6-.1 .5 .5 .6-3.2 .6 2.3 .5 .9 .6 0 .6-.5 .5-2.5 .6 .9"/><path class="k" d="M.8 16.1l0-7.8 1.4 .5 .4 3.9-1.1 .9 .5-.2 .6 0 .6 .4 .5-1.1 .6 .3 .6 .7 .5-.6 .6 .1 .6 .4 .5-.8 .6 1.1 .6-.9 .5-.5 .6 .9 .6-.6 .5 .7 .6 .4 .6-.6 .5-.4 .6 .2 .6 .1 .5 .5 .6-.8 .6 .1 .5 .5 .6-.5 .6-.3 .5 0 .6 .2 .6 .1 .5 .3 .6-.2 .6-.3 .5-.5 .6-.2 .6 .9 .5-.1 .6-.1 .6 .1 .5 .2 .6-.2 .6-.5 .5 .6 .6 .1 .6-.1 .5-.1 .6 .4 0 2.8-.6 .1-.5 0-.6-.1-.6 .2-.5-.3-.6-.2-.6 .4-.5-.2-.6-.2-.6 .2-.5 0-.6-.1-.6 .1-.5 0-.6 .1-.6-.1-.5-.2-.6 .2-.6 .2-.5 0-.6-.3-.6 .2-.5-.1-.6-.1-.6 .4-.5 .1-.6-.1-.6-.1-.5 0-.6 0-.6 .1-.5-.1-.6 0-.6 .1-.5-.1-.6 .1-.6 0-.5-.2-.6 .1-.6-.1-.5 .1-.6 0-.6 0-.5 .1-.6 0-.6-.1-.5 0-.7-.1z"/><use href="#f"/></g>
<g transform="translate(106.3 210.4)" color="#f00" stroke="none"><use href="#g"/><path class="c" d="M.9 9.5l.6-1.4 .5 1.4 .6-1.3 .6-.1 .5 1.7 .6-.7 .6-.6 .5 .3 .6-.3 .6 2.2 .5 .2 .6 .8 .6-2.3 .5 .3 .6 1.6 .6-1.3 .5 .3 .6-.5 .6 1.4 .5-.9 .6 .2 .6-.1 .5 0 .6-1.8 .6 .6 .5 .1 .6-.2 .6-.2 .5-.5 .6 .4 .6 1.1 .5 .4 .6-1.3 .6-1 .5 1.2 .6-.8 .6-.2 .5 1.3 .6-1.7 .6 .8 .5-1 .6 .9 .6 .3 .5-1.2 .6 2.7 .6-1.8 .5 1.4 .6-2.4 0 5.4-.6 .3-.5-.1-.6-.2-.6-.1-.5 .8-.6-.8-.6-.1-.5 .3-.6 .2-.6-.4-.5 0-.6-.2-.6 .1-.5-.3-.6 .4-.6 .3-.5 0-.6 .1-.6-.2-.5 .2-.6-.1-.6-.4-.5 .3-.6-.2-.6 .7-.5-.5-.6 0-.6 .1-.5 .2-.6 .2-.6-.1-.5 .2-.6 .3-.6-.6-.5-.3-.6 .4-.6-.4-.5 .9-.6-1.1-.6 .3-.5-.2-.6 .1-.6 .6-.5-.5-.6 0-.6 0-.5-.1-.6 .3z"/><path class="t" d="M.9 11.2l.6-.4 .5 .7 .6-.5 .6-.2 .5 1.3 .6-.9 .6 .1 .5-.3 .6-.3 .6 1.8 .5-.5 .6 .4 .6-1.2 .5 .7 .6 .8 .6-.7 .5-.2 .6-.6 .6 .9 .5-.4 .6-.1 .6 .1 .5 .4 .6-1.2 .6 .5 .5-1 .6 .9 .6-.1 .5-.6 .6 .2 .6 .4 .5-.5 .6 .3 .6-.6 .5 .4 .6-.3 .6-.2 .5 .7 .6-.2 .6-.4 .5 .2 .6-.2 .6 1.2 .5-1.3 .6 1.2 .6-.5 .5 .8 .6-.8 0 1.9-.6 .3-.5-.1-.6-.2-.6-.1-.5 .8-.6-.8-.6-.1-.5 .3-.6 .2-.6-.4-.5 0-.6-.2-.6 .1-.5-.3-.6 .4-.6 .3-.5 0-.6 .1-.6-.2-.5 .2-.6-.1-.6-.4-.5 .3-.6-.2-.6 .7-.5-.5-.6 0-.6 .1-.5 .2-.6 .2-.6-.1-.5 .2-.6 .3-.6-.6-.5-.3-.6 .4-.6-.4-.5 .9-.6-1.1-.6 .3-.5-.2-.6 .1-.6 .6-.5-.5-.6 0-.6 0-.5-.1-.6 .3z"/><path class="b" d="M.9 13l.6-.3 .5 .5 .6-.1 .6 .2 .5-.3 .6-.1 .6 .2 .5-.1 .6-.2 .6 .6 .5-2.5 .6 2.4 .6-.4 .5-.1 .6 1.2 .6-.7 .5-.1 .6 .3 .6 0 .5-.2 .6-.6 .6 .4 .5 .4 .6-1 .6 .3 .5 .1 .6-2.8 .6-.8 .5 3.8 .6 .3 .6-.4 .5 .1 .6-.2 .6-3.9 .5 3.4 .6-.3 .6-3 .5 3.9 .6 0 .6 0 .5-.2 .6 0 .6 .9 .5-.9 .6 .1 .6-.6 .5 .7 .6-4.2"/><path class="b" d="M.9 13.4l.6-.5 .5 .2 .6-.4 .6 .6 .5 .5 .6-3.7 .6 2.8 .5-.4 .6 .4 .6 1.1 .5-1.1 .6 0 .6 0 .5 .2 .6 1 .6-.7 .5-.2 .6-.2 .6 .3 .5-2.4 .6 1.9 .6 .3 .5 .6 .6-5 .6 3.9 .5 .2 .6 .4 .6-3.1 .5-.3 .6 2.8 .6-.1 .5 .5 .6 0 .6-.4 .5-2.6 .6 2.6 .6 .5 .5-.1 .6-3.6 .6 3.7 .5-.7 .6 .6 .6 0 .5-.3 .6 .1 .6-4.3 .5 4.7 .6-4.6"/><path class="k" d="M.8 16.1l0-8.8 1.4 .4 .4 5-1.1 .3 .5 .1 .6 0 .6 0 .5 .5 .6-.6 .6-.1 .5 .2 .6-.3 .6 1.1 .5-.9 .6 .4 .6-.4 .5 .3 .6 .6 .6-.3 .5-.2 .6 .1 .6-.2 .5-.2 .6-.1 .6 0 .5 .5 .6-.7 .6 .2 .5-.3 .6 .4 .6 .1 .5-.2 .6 .2 .6-.1 .5 0 .6-.3 .6-.4 .5 .3 .6-.1 .6 .2 .5 0 .6 .4 .6-.2 .5-.3 .6 .1 .6 .8 .5-.8 .6 .1 .6 .2 .5 .1 .6-.3 0 3.4-.6 0-.5-.3-.6 .2-.6-.2-.5 .2-.6-.2-.6 0-.5 0-.6-.1-.6 .2-.5-.3-.6 .4-.6-.4-.5 .2-.6 0-.6 0-.5-.3-.6 .3-.6-.2-.5 .4-.6-.2-.6 .2-.5 0-.6 .1-.6-.3-.5 .1-.6 .1-.6 0-.5 0-.6-.1-.6 0-.5 .2-.6 0-.6 0-.5 .1-.6-.2-.6 0-.5 0-.6 0-.6-.1-.5 .2-.6 0-.6 .1-.5 0-.6-.2-.6 .2-.5-.2-.7-.1z"/><use href="#f"/></g>
<g transform="translate(147.4 210.4)" color="#f00" stroke="none"><use href="#g"/><path class="c" d="M.9 7.9l.6 .3 .5 1.8 .6-2.2 .6 2.4 .5-.9 .6 1.8 .6-.6 .5-1.6 .6 .4 .6 1.3 .5-.5 .6 0 .6-.4 .5-.3 .6 .8 .6-.1 .5-.4 .6 1.2 .6 .7 .5 .1 .6 .1 .6-1.8 .5 .6 .6 .1 .6-1.2 .5 .3 .6 .1 .6-1.1 .5 1.1 .6 .6 .6-1.2 .5 0 .6 .9 .6-1.4 .5-1.2 .6 2 .6-.1 .5 .3 .6-.7 .6-.1 .5-.5 .6 .3 .6-.6 .5 1.4 .6 .2 .6-1.2 .5 .5 .6-.5 0 4.9-.6-.3-.5 .2-.6-.2-.6 .4-.5-.8-.6 .2-.6-.2-.5 .5-.6-.3-.6 .1-.5-.7-.6 .4-.6-.6-.5 .9-.6-.1-.6-.1-.5-.3-.6 .5-.6 .2-.5-.6-.6 .3-.6 .2-.5-.8-.6 .9-.6 .2-.5-.4-.6 .4-.6-.3-.5 .1-.6-.1-.6 0-.5-.1-.6 .1-.6-.2-.5 .5-.6-.6-.6 .7-.5-.4-.6-.6-.6 .6-.5-.1-.6 1.1-.6-1-.5 .2-.6 0-.6 .3-.5-.7-.6 .8z"/><path class="t" d="M.9 11.7l.6-.3 .5 .7 .6-.6 .6 .5 .5-.3 .6 1.1 .6-1.3 .5-.1 .6-.5 .6 .7 .5 .4 .6-.9 .6 .7 .5-.8 .6 .8 .6 0 .5 0 .6 .1 .6 .3 .5 .1 .6 .1 .6-.7 .5 .5 .6-.8 .6-.7 .5 .8 .6-.4 .6-.2 .5 .5 .6 0 .6-.6 .5-.5 .6 .7 .6-.2 .5-.8 .6 .5 .6 0 .5 .7 .6-.9 .6 .9 .5-.2 .6 .1 .6-.4 .5 .9 .6-.3 .6 .2 .5 0 .6 .1 0 1.9-.6-.3-.5 .2-.6-.2-.6 .4-.5-.8-.6 .2-.6-.2-.5 .5-.6-.3-.6 .1-.5-.7-.6 .4-.6-.6-.5 .9-.6-.1-.6-.1-.5-.3-.6 .5-.6 .2-.5-.6-.6 .3-.6 .2-.5-.8-.6 .9-.6 .2-.5-.4-.6 .4-.6-.3-.5 .1-.6-.1-.6 0-.5-.1-.6 .1-.6-.2-.5 .5-.6-.6-.6 .7-.5-.4-.6-.6-.6 .6-.5-.1-.6 1.1-.6-1-.5 .2-.6 0-.6 .3-.5-.7-.6 .8z"/><path class="b" d="M.9 14l.6-.8 .5 .4 .6 .1 .6-.5 .5 .3 .6 .8 .6-1.1 .5 .1 .6-.5 .6 .3 .5 .4 .6-.9 .6 1 .5-.9 .6 0 .6 .6 .5 .1 .6 0 .6 0 .5-.5 .6 .7 .6-.4 .5 .1 .6-.4 .6-3.5 .5 3.8 .6-.4 .6-.7 .5-1.7 .6 2.4 .6-.6 .5-1.7 .6 2.2 .6 .5 .5-.9 .6 .2 .6-.3 .5 .9 .6-.8 .6-1.4 .5 1.9 .6-4.6 .6 4.6 .5 .7 .6-4.6 .6-.3 .5 4.6 .6-.1"/><path class="b" d="M.9 13.9l.6-.8 .5 .8 .6-.6 .6 .1 .5-.5 .6 1.4 .6-1.6 .5 .7 .6-.7 .6 .7 .5 .3 .6-.7 .6-.1 .5 0 .6-.2 .6 .6 .5 0 .6 0 .6-.1 .5 .1 .6-.2 .6 .2 .5 .2 .6-.5 .6-.5 .5 .8 .6-.6 .6-.1 .5 .8 .6-3 .6 1.5 .5 .2 .6-1.6 .6 2.2 .5-.3 .6 .2 .6-4.3 .5 4.9 .6-5.1 .6 .9 .5 .2 .6 3.2 .6 .5 .5 .7 .6-.2 .6-.1 .5-.1 .6 .4"/><path class="k" d="M.8 16.1l0-8.9 1.4 .5 .4 5-1.1 .3 .5 .7 .6-.3 .6 0 .5-.2 .6 1 .6-1.1 .5 .1 .6-.6 .6 .6 .5 .4 .6-.7 .6 .6 .5-.5 .6 .2 .6-.1 .5 .1 .6 0 .6 .1 .5-.1 .6 .3 .6-.4 .5 .4 .6-.2 .6-.9 .5 .8 .6-.2 .6-.3 .5 .6 .6-.2 .6-.5 .5 .3 .6 .1 .6 .1 .5-.9 .6 .6 .6-.4 .5 .7 .6-.1 .6 .3 .5-.5 .6 .2 .6-.2 .5 .8 .6-.4 .6 .2 .5-.2 .6 .3 0 2.7-.6-.2-.5 .2-.6-.1-.6 0-.5 0-.6 .1-.6-.2-.5 .2-.6-.2-.6 0-.5-.1-.6 0-.6 .2-.5-.2-.6 .1-.6-.1-.5 .1-.6 0-.6 .1-.5 0-.6-.2-.6 .2-.5 0-.6 .1-.6 0-.5 .1-.6-.2-.6 .2-.5-.1-.6 .1-.6 0-.5-.2-.6 .1-.6 0-.5 0-.6 0-.6 0-.5 .1-.6-.1-.6 .2-.5-.1-.6 0-.6-.2-.5 .1-.6 .1-.6-.1-.5 0-.7-.1z"/><use href="#f"/></g>
<g transform="translate(188.6 210.4)" color="#f00" stroke="none"><use href="#g"/><path class="c" d="M.9 7.6l.6 .9 .5 1.3 .6-1.2 .6-1.1 .5 2.4 .6 1.2 .6-2.1 .5 1.1 .6 1.2 .6-1.4 .5 .1 .6-.8 .6 1.6 .5 .8 .6-2.1 .6 2 .5-.9 .6 0 .6-1 .5 .7 .6-.2 .6-.4 .5 .2 .6-.9 .6 1.6 .5-.7 .6-.6 .6 2 .5-.9 .6-1.1 .6 .3 .5 .8 .6-1.1 .6 .7 .5-1.5 .6 .9 .6 .5 .5-1 .6 .3 .6 1 .5-1 .6-.7 .6 0 .5 .9 .6 1 .6-1.6 .5 1.2 .6-.7 0 4.2-.6-.7-.5 .1-.6 .3-.6 .3-.5-.2-.6-.2-.6-.4-.5 .6-.6-.7-.6 .5-.5-.4-.6 .4-.6-.8-.5 .3-.6 0-.6 .3-.5 .1-.6 .3-.6-.1-.5-.1-.6-.3-.6-.1-.5 .6-.6-.4-.6 .3-.5-.1-.6 .3-.6-.5-.5 0-.6 .4-.6 .1-.5 .4-.6-.4-.6-.2-.5 .3-.6-.2-.6-.3-.5 0-.6 .4-.6-.5-.5 .3-.6 .1-.6 .1-.5-.4-.6-.3-.6 .1-.5 .3-.6 .1z"/><path class="t" d="M.9 11l.6 .3 .5 0 .6-.5 .6-.1 .5 .8 .6 .7 .6-.9 .5-.2 .6 .7 .6-.4 .5 .3 .6-.1 .6 .7 .5-.2 .6-.4 .6 1 .5-.8 .6 0 .6-.5 .5-.2 .6 0 .6 .4 .5 0 .6-.7 .6 .7 .5-.4 .6 0 .6 .5 .5-.2 .6-.6 .6 .2 .5 .1 .6-.6 .6 0 .5-.7 .6 1 .6-.3 .5-.2 .6 .2 .6 .9 .5-.7 .6 0 .6 .2 .5 .2 .6 .5 .6-.7 .5 .5 .6-.4 0 2.4-.6-.7-.5 .1-.6 .3-.6 .3-.5-.2-.6-.2-.6-.4-.5 .6-.6-.7-.6 .5-.5-.4-.6 .4-.6-.8-.5 .3-.6 0-.6 .3-.5 .1-.6 .3-.6-.1-.5-.1-.6-.3-.6-.1-.5 .6-.6-.4-.6 .3-.5-.1-.6 .3-.6-.5-.5 0-.6 .4-.6 .1-.5 .4-.6-.4-.6-.2-.5 .3-.6-.2-.6-.3-.5 0-.6 .4-.6-.5-.5 .3-.6 .1-.6 .1-.5-.4-.6-.3-.6 .1-.5 .3-.6 .1z"/><path class="b" d="M.9 12.9l.6 .2 .5-.9 .6 .4 .6 .6 .5-3.8 .6 4.1 .6-.2 .5-.5 .6-.3 .6 .2 .5 .5 .6 .1 .6 .3 .5-.6 .6 0 .6 .8 .5-.9 .6-3.1 .6 2.7 .5 .5 .6 .6 .6-.9 .5 .2 .6-.1 .6 .6 .5-1.1 .6 .7 .6-.7 .5-1.3 .6-1.8 .6 4 .5-.5 .6-3.5 .6 2.9 .5 .4 .6 .5 .6-.1 .5-5 .6 4.9 .6 .1 .5 0 .6-.2 .6 .2 .5-2 .6 2.1 .6 .1 .5-.3 .6 .5"/><path class="b" d="M.9 13.3l.6-.1 .5-.5 .6-.2 .6 .4 .5 .5 .6 0 .6-.1 .5-.2 .6-3.4 .6 .6 .5 2.4 .6 .6 .6 .2 .5-.8 .6 .8 .6 .5 .5-.6 .6 0 .6-.8 .5-.3 .6 1.3 .6-.7 .5 .4 .6-.4 .6 .5 .5-.6 .6 0 .6 .5 .5 .1 .6-.4 .6-.2 .5-.2 .6-.1 .6 .3 .5-.8 .6 1 .6-.4 .5 .6 .6-.4 .6 .3 .5-.8 .6 1 .6-.3 .5-4.3 .6 4.6 .6-.2 .5-.3 .6-3.8"/><path class="k" d="M.8 16.1l0-8 1.4 .4 .4 4.2-1.1 .4 .5-.3 .6-.1 .6 .3 .5 .4 .6-.1 .6-.1 .5-.3 .6 .5 .6-.4 .5 0 .6 .3 .6 .2 .5-.3 .6 .2 .6 .4 .5-.4 .6-.1 .6-.4 .5 0 .6 .5 .6-.3 .5 .1 .6-.3 .6 .4 .5-.6 .6 .1 .6 .3 .5 .1 .6 .1 .6-.3 .5-.1 .6-.3 .6 0 .5-.3 .6 .8 .6-.4 .5 .4 .6-.5 .6 .7 .5-.6 .6 .4 .6 .2 .5 .2 .6-.3 .6-.3 .5-.1 .6 .7 0 2.7-.6 .1-.5-.1-.6-.2-.6 .1-.5-.1-.6 .4-.6-.4-.5 0-.6-.1-.6 .2-.5-.2-.6 .2-.6-.1-.5 0-.6-.1-.6 0-.5 .3-.6-.2-.6 .1-.5 .1-.6-.1-.6-.1-.5 0-.6-.1-.6 .1-.5 .1-.6 .3-.6-.2-.5-.1-.6 .2-.6 0-.5-.1-.6 .2-.6-.2-.5 .1-.6 .1-.6-.2-.5 0-.6 0-.6 .1-.5-.2-.6 .2-.6 .1-.5-.2-.6-.1-.6-.2-.5 .3-.7-.1z"/><use href="#f"/></g>
<g transform="translate(229.7 210.4)" color="#f00" stroke="none"><use href="#g"/><path class="c" d="M.9 8.5l.6 1 .5-1.4 .6 .5 .6 2.3 .5-1.3 .6-1.5 .6 2.2 .5-.3 .6-1.1 .6 .1 .5 1.9 .6 0 .6-.2 .5 .7 .6-.4 .6-1.6 .5 1 .6 .5 .6 0 .5-.8 .6-1.1 .6 2.6 .5-1.2 .6-.2 .6-1.1 .5 0 .6-.3 .6-.4 .5-.4 .6 .6 .6 .1 .5-.5 .6 2 .6-1.7 .5-.6 .6 1.3 .6-.4 .5-.6 .6 1.1 .6 .2 .5-1.5 .6 .7 .6-.4 .5-.2 .6 .8 .6-.3 .5-2.5 .6 2 0 5.1-.6-.6-.5 .3-.6 .3-.6-.2-.5-.4-.6 .4-.6-.5-.5 0-.6 .6-.6 .1-.5-.8-.6 .5-.6-.3-.5 .1-.6-.4-.6 .4-.5 .2-.6 .1-.6-.3-.5 0-.6 .7-.6-.6-.5 .2-.6 .5-.6-.5-.5 .4-.6-.6-.6-.4-.5 1.1-.6-.4-.6-.2-.5 .3-.6-.3-.6 .5-.5-.3-.6 .1-.6-.1-.5 .2-.6-1-.6 1.3-.5-.6-.6 .4-.6 0-.5 .2-.6-.4-.6 .4-.5 .2-.6-.1z"/><path class="t" d="M.9 11.8l.6 .1 .5-.8 .6 0 .6 .8 .5-.2 .6-.5 .6 .4 .5 .5 .6-1.3 .6 .5 .5 .3 .6 .5 .6-.2 .5-.1 .6 .1 .6-.4 .5 .1 .6 0 .6 .6 .5-1 .6-.2 .6 1.2 .5-.4 .6-.1 .6-.5 .5-.1 .6 .2 .6-.7 .5 .1 .6 .2 .6 .1 .5-.5 .6-.2 .6 .3 .5-.4 .6 .6 .6-.6 .5 .5 .6 .5 .6-.7 .5-.1 .6 .6 .6-.4 .5-.1 .6 .9 .6-.3 .5-1 .6 1.1 0 2-.6-.6-.5 .3-.6 .3-.6-.2-.5-.4-.6 .4-.6-.5-.5 0-.6 .6-.6 .1-.5-.8-.6 .5-.6-.3-.5 .1-.6-.4-.6 .4-.5 .2-.6 .1-.6-.3-.5 0-.6 .7-.6-.6-.5 .2-.6 .5-.6-.5-.5 .4-.6-.6-.6-.4-.5 1.1-.6-.4-.6-.2-.5 .3-.6-.3-.6 .5-.5-.3-.6 .1-.6-.1-.5 .2-.6-1-.6 1.3-.5-.6-.6 .4-.6 0-.5 .2-.6-.4-.6 .4-.5 .2-.6-.1z"/><path class="b" d="M.9 10.6l.6 2.4 .5 .8 .6-.5 .6 .1 .5-.1 .6 .3 .6-.6 .5 .7 .6-1.2 .6 .7 .5 .1 .6-.4 .6 .4 .5 .4 .6-.9 .6 .1 .5-.3 .6 .4 .6-2.5 .5 2.2 .6-.2 .6 .5 .5-.6 .6 1.1 .6-4 .5 3.1 .6-1.9 .6 0 .5-1.5 .6 3.7 .6-.1 .5-2.5 .6 1.3 .6 1.2 .5-.2 .6 .3 .6-.3 .5 .6 .6 0 .6-4.7 .5 4.1 .6 .3 .6-.1 .5-4 .6-.6 .6 .8 .5 3.3 .6-4.1"/><path class="b" d="M.9 13.6l.6 .1 .5-.2 .6-.4 .6 .4 .5 0 .6-.6 .6 0 .5 .4 .6-1.2 .6 1.3 .5-.6 .6 .4 .6-.1 .5 .1 .6-.2 .6 .1 .5-.8 .6 .8 .6 .4 .5-.9 .6-.2 .6 .9 .5-.1 .6-4.7 .6 1.3 .5 3.2 .6 .3 .6-.5 .5 0 .6 .4 .6-.4 .5-.3 .6-.4 .6 .5 .5-.3 .6 .6 .6-3.5 .5 3.6 .6 .3 .6-.8 .5-.3 .6-1.5 .6 1.3 .5 .7 .6 .5 .6-.7 .5-.7 .6 1.3"/><path class="k" d="M.8 16.1l0-8.5 1.4 .4 .4 4.7-1.1 1.1 .5-.2 .6-.4 .6 .4 .5-.2 .6 0 .6-.4 .5 .6 .6-1.3 .6 1 .5-.2 .6 .1 .6-.1 .5 .3 .6-.5 .6 .3 .5-.3 .6 .2 .6 .4 .5-1.1 .6 .4 .6 .6 .5-.4 .6 .5 .6-.5 .5-.2 .6 .6 .6-.7 .5 0 .6 .3 .6-.1 .5-.2 .6-.4 .6 .4 .5-.1 .6 .3 .6-.5 .5 .8 .6-.1 .6-.6 .5 0 .6 .5 .6-.4 .5 .4 .6 .2 .6-.3 .5-.3 .6 .6 0 3.1-.6-.1-.5 .1-.6-.2-.6 0-.5-.1-.6-.1-.6 0-.5 .2-.6 0-.6-.1-.5 .1-.6 0-.6-.1-.5 .1-.6 0-.6-.1-.5-.2-.6 .3-.6 .1-.5-.3-.6 .1-.6 .2-.5 0-.6 0-.6 .1-.5-.1-.6 .1-.6 0-.5-.1-.6 0-.6 .2-.5-.1-.6 0-.6 .1-.5-.3-.6 0-.6 .2-.5-.2-.6 .1-.6 .1-.5-.3-.6 .2-.6 .2-.5-.2-.6 .1-.6 0-.5-.1-.7-.1z"/><use href="#f"/></g>
<g transform="translate(270.8 210.4)" color="#f00" stroke="none"><use href="#g"/><path class="c" d="M.9 8.4l.6-.5 .5 .3 .6 .7 .6 2.1 .5-.6 .6-1.8 .6 2 .5-1.7 .6 .2 .6 .4 .5 1.3 .6-1.1 .6-.2 .5 .6 .6 0 .6-2.1 .5 1.7 .6 .4 .6 .3 .5 .2 .6 1 .6-.7 .5-.6 .6-.3 .6-1.2 .5 .3 .6-.6 .6 .7 .5 .5 .6-.3 .6 .3 .5-.7 .6-.4 .6 .1 .5-.7 .6 .3 .6 1.4 .5-3.7 .6 3.1 .6 1.4 .5-1.2 .6-.3 .6-.3 .5-1.4 .6 1.5 .6-1.2 .5 1.2 .6-1 0 5.4-.6-.5-.5 .7-.6-.6-.6 .2-.5-.3-.6 .3-.6 0-.5 .2-.6-.6-.6-.2-.5 0-.6 0-.6 0-.5 .4-.6 .1-.6-.2-.5-.1-.6 0-.6 0-.5 0-.6 .2-.6 .4-.5-.2-.6 .2-.6-.3-.5-.3-.6 .8-.6-.4-.5-.1-.6 .1-.6 .6-.5-.6-.6-.5-.6 .1-.5 .8-.6-.1-.6 .1-.5-.6-.6 .4-.6 .3-.5-.8-.6 .6-.6 0-.5-.1-.6 0-.6-.4-.5 .3-.6 .1z"/><path class="t" d="M.9 11.2l.6-.1 .5-.2 .6 .4 .6 .4 .5 .3 .6-.5 .6-.4 .5 .3 .6-.2 .6 .2 .5 .7 .6-.4 .6-.2 .5-.3 .6 .2 .6-.7 .5 .7 .6 .1 .6 .3 .5-.7 .6 .8 .6-.3 .5 0 .6-.8 .6 .1 .5 .5 .6-.7 .6 0 .5 .3 .6-.2 .6-.5 .5 .2 .6 .3 .6-.2 .5-.3 .6-.3 .6 .4 .5-.9 .6 1.3 .6 .1 .5 .3 .6 .1 .6-.8 .5 .4 .6 0 .6 .3 .5 0 .6-.3 0 2.3-.6-.5-.5 .7-.6-.6-.6 .2-.5-.3-.6 .3-.6 0-.5 .2-.6-.6-.6-.2-.5 0-.6 0-.6 0-.5 .4-.6 .1-.6-.2-.5-.1-.6 0-.6 0-.5 0-.6 .2-.6 .4-.5-.2-.6 .2-.6-.3-.5-.3-.6 .8-.6-.4-.5-.1-.6 .1-.6 .6-.5-.6-.6-.5-.6 .1-.5 .8-.6-.1-.6 .1-.5-.6-.6 .4-.6 .3-.5-.8-.6 .6-.6 0-.5-.1-.6 0-.6-.4-.5 .3-.6 .1z"/><path class="b" d="M.9 13.4l.6-.6 .5-.3 .6 .8 .6-.1 .5 .2 .6-.4 .6-.2 .5 .5 .6 .1 .6-.5 .5 .3 .6 .1 .6-.6 .5 0 .6-.1 .6 .4 .5 .6 .6-.7 .6 .2 .5-.2 .6 .6 .6-1.7 .5 1.2 .6-.5 .6 .8 .5-.2 .6-.2 .6-4.5 .5 4.1 .6 .1 .6-.8 .5-2 .6 2.5 .6 .5 .5-.2 .6-.3 .6 .2 .5 0 .6-2.3 .6 .5 .5 2.3 .6-.1 .6-.4 .5 .2 .6-.1 .6 .9 .5-.7 .6 .6"/><path class="b" d="M.9 12.9l.6 .3 .5-1.2 .6-1.3 .6 2.7 .5-.5 .6 .3 .6-.4 .5 .9 .6-.6 .6-.3 .5 .4 .6-.6 .6 .9 .5-.7 .6-.2 .6 .2 .5 0 .6-.3 .6 .1 .5 .1 .6 .6 .6-.6 .5 .2 .6 .3 .6-2.8 .5 2.9 .6-.3 .6-3.1 .5-1.7 .6 4.4 .6-2.8 .5-1.4 .6 4.4 .6 .1 .5-.3 .6-.6 .6 .5 .5-.2 .6 .3 .6 .8 .5-.9 .6 .4 .6-.3 .5 0 .6 0 .6 .7 .5-4.4 .6 4"/><path class="k" d="M.8 16.1l0-7.5 1.4 .5 .4 3.6-1.1 .4 .5-.3 .6 .4 .6 0 .5 .1 .6 0 .6-.6 .5 .8 .6-.3 .6-.4 .5 .6 .6-.1 .6 .1 .5-.8 .6-.1 .6 .5 .5 .6 .6-.6 .6-.1 .5 .1 .6 .4 .6-.8 .5 .3 .6 .3 .6-.2 .5 .2 .6-.4 .6-.2 .5 0 .6 0 .6 0 .5 .1 .6 .2 .6-.1 .5-.4 .6 0 .6 0 .5 0 .6 .2 .6 .6 .5-.2 .6 0 .6-.3 .5 .3 .6-.2 .6 .6 .5-.7 .6 .5 0 3.1-.6-.2-.5 .1-.6 0-.6 0-.5-.2-.6 .1-.6 0-.5-.1-.6-.1-.6 .1-.5 .1-.6 .1-.6-.2-.5 0-.6-.1-.6 .2-.5 0-.6 0-.6 0-.5-.2-.6 .4-.6-.1-.5 0-.6 .1-.6-.3-.5 .1-.6 .1-.6 .2-.5-.1-.6 0-.6 .1-.5-.3-.6-.1-.6 .2-.5 .2-.6-.3-.6 .2-.5-.1-.6 0-.6 0-.5 .1-.6-.2-.6 .1-.5 .1-.6-.2-.6 .1-.5 .1-.7-.2z"/><use href="#f"/></g>
<g transform="translate(311.9 210.4)" color="#f00" stroke="none"><use href="#g"/><path class="c" d="M.9 8l.6 .3 .5 .9 .6-.6 .6 1.3 .5 .4 .6 .2 .6-.1 .5-.6 .6-.6 .6 2 .5-1.6 .6-.7 .6 1.9 .5-1.5 .6 .7 .6 1.4 .5-2.3 .6 1.1 .6 .5 .5-.3 .6 1 .6-.2 .5-2.6 .6 1.6 .6-.4 .5 1.1 .6-2.3 .6 .2 .5 1.7 .6-1.1 .6-.3 .5-.3 .6-1 .6 0 .5 .2 .6 1.2 .6-.3 .5-.5 .6 .4 .6-.6 .5 .1 .6 .7 .6-.2 .5-.4 .6 .8 .6-1.5 .5 1.2 .6 .5 0 3.8-.6 .3-.5-.5-.6 .3-.6-.4-.5 .1-.6 .3-.6-.6-.5 0-.6-.1-.6 .3-.5-.2-.6 .5-.6-.5-.5-.2-.6 .2-.6 0-.5-.2-.6 .1-.6 .4-.5-.5-.6 .2-.6 .2-.5 0-.6 .5-.6-.1-.5 .1-.6-.3-.6 0-.5 .4-.6-.7-.6-.3-.5 1.1-.6-1-.6 .2-.5 .6-.6-.3-.6 .2-.5 .2-.6-.3-.6-.1-.5 .4-.6-.9-.6 .8-.5-.2-.6 .5-.6-.8-.5 .6-.6-.2z"/><path class="t" d="M.9 10.5l.6 1 .5-.3 .6 .6 .6-.5 .5 .7 .6-.8 .6 1 .5-.6 .6-1 .6 1.6 .5-.6 .6-.1 .6 .5 .5-.8 .6-.1 .6 1 .5-1.1 .6 .6 .6 .6 .5-.5 .6 .4 .6 .1 .5-.8 .6 .6 .6-.8 .5 .4 .6-.7 .6-.7 .5 1 .6-.9 .6 .3 .5 .2 .6-.2 .6-.3 .5 .2 .6 .4 .6-.1 .5-.2 .6-.2 .6 .2 .5 .2 .6 .6 .6-.9 .5 .4 .6 .3 .6-.7 .5 .9 .6 0 0 1.8-.6 .3-.5-.5-.6 .3-.6-.4-.5 .1-.6 .3-.6-.6-.5 0-.6-.1-.6 .3-.5-.2-.6 .5-.6-.5-.5-.2-.6 .2-.6 0-.5-.2-.6 .1-.6 .4-.5-.5-.6 .2-.6 .2-.5 0-.6 .5-.6-.1-.5 .1-.6-.3-.6 0-.5 .4-.6-.7-.6-.3-.5 1.1-.6-1-.6 .2-.5 .6-.6-.3-.6 .2-.5 .2-.6-.3-.6-.1-.5 .4-.6-.9-.6 .8-.5-.2-.6 .5-.6-.8-.5 .6-.6-.2z"/><path class="b" d="M.9 13.3l.6-.3 .5-.3 .6 1.2 .6-.9 .5 .1 .6-.7 .6 1.3 .5-1.1 .6 .6 .6 .3 .5 0 .6-.4 .6 .2 .5-1.2 .6 .5 .6 .8 .5-.9 .6 .1 .6 1.1 .5-1.1 .6 .6 .6 .1 .5 .1 .6-.3 .6-3.6 .5 3 .6 .1 .6 0 .5 0 .6-3.5 .6 2.7 .5 .6 .6 .4 .6-4.2 .5 3.6 .6 1.1 .6-.4 .5 .1 .6-.3 .6-.1 .5 .4 .6 .4 .6-.5 .5 .2 .6-.1 .6 .1 .5-1.9 .6-1.2"/><path class="b" d="M.9 13.3l.6 .2 .5-.5 .6 .3 .6-.5 .5 .7 .6-.9 .6 1.1 .5-3.2 .6-.9 .6 3.8 .5 0 .6-.8 .6 .9 .5-.6 .6-.5 .6 .9 .5-.7 .6 .3 .6 .8 .5-.9 .6 .5 .6-.4 .5 .6 .6 0 .6-3.2 .5 2.8 .6-4.7 .6 1.5 .5 3.3 .6-3.6 .6 3 .5 .3 .6-.4 .6-3.5 .5 3.8 .6 .5 .6-.5 .5 .3 .6-.8 .6 .3 .5-3.9 .6 4.4 .6-4.9 .5 4.9 .6 .4 .6-.4 .5-2.8 .6 2.9"/><path class="k" d="M.8 16.1l0-8.6 1.4 .5 .4 4.7-1.1 .8 .5-.6 .6 .8 .6-.5 .5 .2 .6-.8 .6 .9 .5-.4 .6 .1 .6 .3 .5-.2 .6-.2 .6 .3 .5-.6 .6-.2 .6 1 .5-1.1 .6 .3 .6 .7 .5-.4 .6 0 .6 .3 .5-.1 .6 .1 .6-.5 .5 0 .6-.2 .6-.2 .5 .5 .6-.4 .6-.1 .5 .2 .6 0 .6-.2 .5 .2 .6 .5 .6-.5 .5 .2 .6-.3 .6 .1 .5 0 .6 .6 .6-.3 .5-.1 .6 .4 .6-.3 .5 .5 .6-.3 0 3.1-.6-.3-.5 .1-.6 .2-.6-.2-.5 .1-.6-.2-.6 .2-.5-.2-.6 0-.6 .1-.5-.1-.6 0-.6 0-.5 0-.6 0-.6-.1-.5 0-.6 .2-.6-.1-.5 .1-.6-.1-.6 .2-.5-.1-.6 0-.6 .1-.5-.1-.6 .2-.6-.2-.5 .2-.6-.1-.6 .1-.5 0-.6-.1-.6-.1-.5 .3-.6-.2-.6-.2-.5 .1-.6 .2-.6 .1-.5-.2-.6 .1-.6-.2-.5 .1-.6 0-.6 0-.5 .2-.7-.3z"/><use href="#f"/></g>
<g transform="translate(353 210.4)" color="#f00" stroke="none"><use href="#g"/><path class="c" d="M.9 6.1l.6 3.6 .5-2 .6 1.6 .6-.4 .5 1.1 .6 1 .6-1.1 .5 1.7 .6-1.9 .6 1.6 .5-1.5 .6 .4 .6 .7 .5-.3 .6 1.1 .6-1.4 .5 .2 .6-.6 .6-.5 .5 .4 .6 1.3 .6-1 .5 .4 .6 .5 .6-.9 .5-.6 .6-.7 .6 .7 .5 .4 .6-1.1 .6-.7 .5 2.4 .6-2.1 .6 1.3 .5-.9 .6 .5 .6 .4 .5-.5 .6-.3 .6-.3 .5-.1 .6-.8 .6 2.7 .5-1.3 .6-.1 .6 .8 .5-2.9 .6 .2 0 6.1-.6 0-.5-.5-.6 .7-.6-1-.5 .8-.6-.8-.6 .5-.5 .4-.6-.1-.6-.7-.5 .3-.6 .3-.6-.2-.5 .2-.6-.1-.6 .2-.5-.6-.6 0-.6-.2-.5 .4-.6 .5-.6-.2-.5 0-.6 .6-.6-.5-.5-.1-.6 0-.6 .1-.5-.2-.6-.2-.6 .6-.5 0-.6 0-.6-.1-.5-.2-.6 .2-.6 0-.5 .8-.6-.9-.6 0-.5-.3-.6 .5-.6-.1-.5-.3-.6 .5-.6-.6-.5 .6-.6-.5z"/><path class="t" d="M.9 10.3l.6 1.6 .5-1.1 .6 1 .6-.8 .5 .7 .6 .4 .6-.9 .5 1 .6-1.1 .6 1.7 .5-1 .6 .2 .6-.1 .5-.2 .6 .2 .6 .1 .5 0 .6-.6 .6-.2 .5 .2 .6 .4 .6-.5 .5 .6 .6 .5 .6-.9 .5-.1 .6-.3 .6-.2 .5-.3 .6 .1 .6-.2 .5 .6 .6-.6 .6-.1 .5 .5 .6 .4 .6-.3 .5-.7 .6 .7 .6 0 .5-.3 .6-.2 .6 .8 .5-.9 .6 1 .6-.2 .5-.5 .6 .2 0 2.3-.6 0-.5-.5-.6 .7-.6-1-.5 .8-.6-.8-.6 .5-.5 .4-.6-.1-.6-.7-.5 .3-.6 .3-.6-.2-.5 .2-.6-.1-.6 .2-.5-.6-.6 0-.6-.2-.5 .4-.6 .5-.6-.2-.5 0-.6 .6-.6-.5-.5-.1-.6 0-.6 .1-.5-.2-.6-.2-.6 .6-.5 0-.6 0-.6-.1-.5-.2-.6 .2-.6 0-.5 .8-.6-.9-.6 0-.5-.3-.6 .5-.6-.1-.5-.3-.6 .5-.6-.6-.5 .6-.6-.5z"/><path class="b" d="M.9 12.6l.6 .8 .5-.3 .6 .3 .6-.5 .5 .5 .6 .1 .6-.4 .5 .3 .6-.1 .6 .6 .5-.5 .6 0 .6-.1 .5-.2 .6 .3 .6-.3 .5 .5 .6-1.3 .6 .7 .5 .2 .6-.4 .6 .2 .5 .4 .6 .2 .6-.3 .5-4.7 .6 4.8 .6-.6 .5-.7 .6 .5 .6-.2 .5 1 .6-.4 .6-4.3 .5 .7 .6 3.6 .6-.6 .5 0 .6 .4 .6 .5 .5-.4 .6-.5 .6 .8 .5-1.1 .6-1.8 .6 2.4 .5 .5 .6 .2"/><path class="b" d="M.9 12.9l.6 .6 .5-.4 .6 .5 .6-.4 .5 .1 .6-3.1 .6 2.6 .5 .4 .6 0 .6 .6 .5-.6 .6 .1 .6-.6 .5-2.2 .6 2.9 .6-4.4 .5 4.2 .6-.3 .6 .3 .5-.4 .6 .3 .6 0 .5 .1 .6 .2 .6-.5 .5 .2 .6 .2 .6-.6 .5-.3 .6 .1 .6-.3 .5 1.2 .6-.6 .6-.1 .5 .2 .6 .1 .6-.4 .5-.2 .6-3.1 .6 4.2 .5-.8 .6-.2 .6 .3 .5-.2 .6 1 .6-.8 .5 .3 .6-.2"/><path class="k" d="M.8 16.1l0-7.6 1.4 .5 .4 3.7-1.1 .8 .5-.6 .6 .6 .6-.5 .5 .3 .6 .1 .6-.5 .5 .3 .6 0 .6 .9 .5-.8 .6 0 .6-.2 .5 .2 .6 .1 .6 0 .5 0 .6-.6 .6 .2 .5 .2 .6-.1 .6 0 .5 .1 .6 .5 .6-.6 .5 0 .6 .2 .6-.5 .5-.4 .6 .2 .6 0 .5 .6 .6-.2 .6 .1 .5-.2 .6 .2 .6-.3 .5-.3 .6 .7 .6 .1 .5-.4 .6-.5 .6 .8 .5-.8 .6 1 .6-.7 .5 .5 .6 0 0 3.1-.6 0-.5 0-.6-.1-.6 .1-.5-.2-.6-.1-.6 .1-.5-.2-.6 0-.6 .2-.5-.1-.6 .1-.6-.2-.5-.1-.6 .2-.6 0-.5 0-.6 0-.6 0-.5 .1-.6 0-.6 0-.5 .1-.6 0-.6-.1-.5 .1-.6-.1-.6 0-.5 .2-.6 0-.6-.1-.5 0-.6 0-.6-.1-.5 .3-.6-.3-.6 .1-.5 .2-.6-.1-.6-.1-.5 .1-.6-.1-.6-.1-.5 0-.6-.1-.6 .3-.5 0-.7-.2z"/><use href="#f"/></g>
<g transform="translate(394.2 210.4)" color="#f00" stroke="none"><use href="#g"/><path class="c" d="M.9 8.1l.6 1.2 .5-.8 .6 1.1 .6-1.1 .5 1.3 .6-.9 .6 .9 .5 .7 .6 0 .6-.2 .5 .2 .6 1.3 .6-1.7 .5 .3 .6-.3 .6 .9 .5-.1 .6-1.2 .6 .1 .5-.2 .6 .6 .6-1.4 .5 1.8 .6-2 .6 2.4 .5-1.1 .6 .1 .6 .1 .5-.2 .6 .5 .6-1.6 .5-.8 .6 1.4 .6-.3 .5-.6 .6 .5 .6-.9 .5 .1 .6-.4 .6 .6 .5 .6 .6-1 .6 1.1 .5 1.2 .6-1.8 .6 0 .5 .5 .6-.1 0 4.2-.6 0-.5-.1-.6 .3-.6 0-.5-.2-.6 .2-.6 0-.5-.6-.6-.1-.6 .8-.5-.5-.6 .2-.6-.6-.5 .1-.6 .2-.6-.4-.5 .3-.6 .1-.6 0-.5 .2-.6-.1-.6-.3-.5 .5-.6-.4-.6 .4-.5-.2-.6 .1-.6-.1-.5 .4-.6-.3-.6 .5-.5-.3-.6 .5-.6-.6-.5 .2-.6 .1-.6-.4-.5-.3-.6 .4-.6 .3-.5-.2-.6-.1-.6 .6-.5-.5-.6-.2-.6-.1-.5 .6-.6 0z"/><path class="t" d="M.9 11.4l.6-.4 .5 .2 .6 .5 .6-.3 .5 .4 .6-.4 .6 .5 .5 .2 .6-.4 .6-.1 .5-.3 .6 1.2 .6-.8 .5-.1 .6 .4 .6-.1 .5 0 .6-.3 .6 .3 .5-.7 .6 .5 .6-.8 .5 .8 .6-1 .6 1 .5-.9 .6 .5 .6 0 .5-.3 .6 0 .6-.2 .5-1.2 .6 1.3 .6-.2 .5-.5 .6 .9 .6-.5 .5 .6 .6-.7 .6 0 .5 .2 .6 .4 .6 .2 .5 0 .6-.1 .6 .1 .5 .1 .6-.2 0 1.9-.6 0-.5-.1-.6 .3-.6 0-.5-.2-.6 .2-.6 0-.5-.6-.6-.1-.6 .8-.5-.5-.6 .2-.6-.6-.5 .1-.6 .2-.6-.4-.5 .3-.6 .1-.6 0-.5 .2-.6-.1-.6-.3-.5 .5-.6-.4-.6 .4-.5-.2-.6 .1-.6-.1-.5 .4-.6-.3-.6 .5-.5-.3-.6 .5-.6-.6-.5 .2-.6 .1-.6-.4-.5-.3-.6 .4-.6 .3-.5-.2-.6-.1-.6 .6-.5-.5-.6-.2-.6-.1-.5 .6-.6 0z"/><path class="b" d="M.9 13.4l.6 .2 .5-.7 .6 .4 .6-.1 .5 .3 .6-.4 .6 0 .5 .4 .6-.3 .6-.7 .5 .6 .6 .6 .6-.4 .5-.5 .6 .7 .6-.4 .5 .6 .6-.8 .6 .2 .5-.4 .6 .3 .6 .1 .5-.4 .6-4.6 .6 4.6 .5-.2 .6 .6 .6 .1 .5-4.4 .6 4.1 .6-.9 .5-2.1 .6 2.9 .6-3.9 .5 .3 .6 4.1 .6-4.1 .5 4.2 .6-.9 .6-1.8 .5 2.3 .6 .4 .6-1 .5-3.6 .6 1.1 .6 2.8 .5 .4 .6 .2"/><path class="b" d="M.9 13.5l.6 .1 .5-.5 .6-.2 .6 .4 .5 .3 .6-.4 .6-.1 .5 .5 .6-.5 .6-.4 .5 .3 .6 .6 .6-.5 .5 .1 .6 .2 .6-.6 .5 .9 .6-.6 .6 .2 .5-.5 .6-.2 .6 .5 .5 .1 .6-.3 .6-2.4 .5 2.1 .6 .5 .6-.3 .5-.2 .6 .3 .6-.3 .5-3 .6 3.4 .6-.1 .5-3.1 .6 3.3 .6-4.3 .5 4.3 .6-.3 .6 .1 .5 .4 .6 .1 .6-.4 .5 0 .6-2.7 .6 2.8 .5 .2 .6-.7"/><path class="k" d="M.8 16.1l0-8.7 1.4 .5 .4 4.8-1.1 .8 .5-.6 .6 .1 .6 .2 .5 .5 .6-.6 .6 .1 .5 .2 .6-.3 .6-.4 .5 .3 .6 .4 .6-.1 .5-.2 .6 .6 .6-.5 .5 .3 .6-.5 .6 .3 .5-.4 .6 .1 .6-.1 .5 .2 .6-.4 .6 .4 .5-.5 .6 .3 .6 .1 .5-.2 .6 0 .6-.1 .5-.3 .6 .4 .6-.2 .5-.1 .6 .6 .6-.2 .5 .5 .6-.8 .6 .1 .5 .6 .6 0 .6-.2 .5 .2 .6 0 .6-.3 .5 .1 .6 0 0 3.1-.6 0-.5 0-.6-.3-.6 .4-.5-.3-.6-.1-.6 .1-.5 0-.6-.1-.6 0-.5 0-.6 .1-.6 0-.5 0-.6-.1-.6 .2-.5-.1-.6 0-.6 .1-.5-.2-.6 .2-.6-.1-.5 0-.6 .1-.6 0-.5 0-.6 .1-.6 .1-.5-.2-.6 .1-.6 .1-.5 0-.6-.2-.6 0-.5 .2-.6 0-.6 .1-.5-.2-.6 .2-.6 0-.5-.1-.6 0-.6 .1-.5-.1-.6 0-.6-.1-.5-.1-.7 0z"/><use href="#f"/></g>
<g transform="translate(435.3 210.4)" color="#f00" stroke="none"><use href="#g"/><path class="c" d="M.9 8.2l.6 0 .5 2.7 .6-1.9 .6-.4 .5 2.2 .6 .1 .6-1.3 .5 1.3 .6 0 .6 0 .5-1.9 .6-.1 .6 1.1 .5 1.7 .6-1.7 .6 1.1 .5-.9 .6 .1 .6-.6 .5-.1 .6 2 .6-1.8 .5 .6 .6-1.4 .6 1.8 .5-.2 .6-2.3 .6 .6 .5 .2 .6 .2 .6-1.9 .5 1.4 .6 .4 .6 .1 .5-2.5 .6 1.6 .6 .4 .5-.5 .6 1.4 .6-.6 .5 0 .6-2.2 .6 1.5 .5-.1 .6 .9 .6-.3 .5-.9 .6-.5 0 5.5-.6-.1-.5 0-.6 0-.6-.4-.5 .2-.6-.4-.6 1.2-.5-1-.6 .7-.6-.6-.5 .2-.6-.1-.6 .1-.5 .1-.6-.2-.6 .5-.5-.8-.6 .6-.6 0-.5-.4-.6 .2-.6 .4-.5 .2-.6-.8-.6 .7-.5 0-.6 .1-.6-.3-.5 .2-.6-.7-.6 1.4-.5-.8-.6 .2-.6 .2-.5 0-.6-.4-.6 0-.5 0-.6 .1-.6-.1-.5-.2-.6 .4-.6-.2-.5 .1-.6 .3-.6-.1-.5-.3-.6 .1z"/><path class="t" d="M.9 11.1l.6 .4 .5 .4 .6-.3 .6-.4 .5 .6 .6 .2 .6-.4 .5 .5 .6 .1 .6-.4 .5-1 .6 .4 .6 .6 .5 .8 .6-.9 .6 .4 .5 .1 .6-1.2 .6 .3 .5 0 .6 1.1 .6-.9 .5 .1 .6-.7 .6 .3 .5 .3 .6-.7 .6-.2 .5 .6 .6 .1 .6-1.1 .5 .2 .6 .2 .6 .4 .5-.8 .6 .5 .6-.1 .5-.1 .6 .9 .6-.5 .5 .6 .6-1.6 .6 .8 .5 0 .6 .4 .6-.4 .5 .2 .6 .1 0 2-.6-.1-.5 0-.6 0-.6-.4-.5 .2-.6-.4-.6 1.2-.5-1-.6 .7-.6-.6-.5 .2-.6-.1-.6 .1-.5 .1-.6-.2-.6 .5-.5-.8-.6 .6-.6 0-.5-.4-.6 .2-.6 .4-.5 .2-.6-.8-.6 .7-.5 0-.6 .1-.6-.3-.5 .2-.6-.7-.6 1.4-.5-.8-.6 .2-.6 .2-.5 0-.6-.4-.6 0-.5 0-.6 .1-.6-.1-.5-.2-.6 .4-.6-.2-.5 .1-.6 .3-.6-.1-.5-.3-.6 .1z"/><path class="b" d="M.9 12.9l.6 .3 .5 .2 .6 .3 .6-.4 .5 .1 .6 0 .6-.8 .5 .3 .6 .4 .6 0 .5-4 .6 3.9 .6 .5 .5 .1 .6-.3 .6-.7 .5 .7 .6-1.3 .6 1.3 .5-.2 .6 .2 .6-.1 .5-.1 .6-.6 .6 .7 .5 0 .6-.7 .6-4.6 .5 5 .6-2.9 .6 0 .5-1.5 .6 3.6 .6 .4 .5 .2 .6-.2 .6 .3 .5-.3 .6 .4 .6-4.5 .5-.1 .6 3.1 .6 1 .5-.1 .6 .4 .6 0 .5-.3 .6 .4"/><path class="b" d="M.9 12.9l.6 .1 .5 .7 .6-.3 .6 0 .5-3.4 .6 3.3 .6-.6 .5 .5 .6-.1 .6 .1 .5-.1 .6 0 .6 .7 .5-.2 .6-.6 .6 .3 .5 .9 .6-2.1 .6 1.3 .5-.5 .6 .4 .6-.1 .5-.2 .6-.3 .6-3.5 .5 3.9 .6-.3 .6-.2 .5 .3 .6 .3 .6-.7 .5 .4 .6 0 .6-.1 .5-.3 .6 .1 .6 .3 .5-3.7 .6 3.4 .6 .1 .5 .7 .6-1 .6 .1 .5-3.8 .6 4.3 .6-.2 .5 .2 .6 0"/><path class="k" d="M.8 16.1l0-9 1.4 .5 .4 5.1-1.1 .5 .5 .3 .6 .1 .6-.3 .5-.1 .6 .2 .6-.4 .5 .2 .6 .1 .6-.1 .5 0 .6 0 .6 .4 .5 0 .6-.2 .6-.2 .5 .8 .6-1.4 .6 .7 .5-.2 .6 .3 .6-.1 .5 0 .6-.7 .6 .8 .5-.2 .6-.4 .6-.2 .5 .4 .6 0 .6-.6 .5 .8 .6-.5 .6 .2 .5-.1 .6-.1 .6 .1 .5-.2 .6 .6 .6-.7 .5 1 .6-1.2 .6 .4 .5-.2 .6 .4 .6 0 .5 0 .6 .1 0 3.2-.6-.1-.5 .1-.6-.2-.6 .2-.5-.1-.6 .1-.6-.2-.5 0-.6 0-.6 0-.5 0-.6 0-.6-.1-.5 .1-.6 0-.6-.1-.5 .2-.6 0-.6-.1-.5-.1-.6 .2-.6 0-.5 0-.6-.1-.6 .2-.5-.2-.6 .3-.6-.2-.5 .1-.6 0-.6 .1-.5 .1-.6-.1-.6 0-.5 0-.6-.1-.6 0-.5 0-.6-.1-.6 .2-.5 0-.6 0-.6-.1-.5 0-.6 0-.6 .1-.5-.2-.7 0z"/><use href="#f"/></g>
<g transform="translate(476.4 210.4)" color="#f00" stroke="none"><use href="#g"/><path class="c" d="M.9 8.8l.6-.6 .5 .4 .6 .5 .6-.6 .5 .6 .6 1.3 .6-.8 .5 1.5 .6-2.3 .6-.2 .5 2.5 .6 .8 .6-.9 .5-1.3 .6 .4 .6-.2 .5 .6 .6-.8 .6 1.5 .5-1.2 .6 .6 .6 .1 .5-1.2 .6 1.6 .6-.8 .5-1.3 .6-.8 .6 .6 .5 1 .6-.6 .6 .2 .5 .3 .6-.7 .6 .2 .5-.2 .6-.3 .6 1.1 .5-1.2 .6 1.3 .6-1.1 .5 .5 .6 1.1 .6-1.3 .5-.7 .6 .1 .6 .8 .5-1.3 .6-.4 0 5-.6 .6-.5 .5-.6-.5-.6-.6-.5 .3-.6 .1-.6-.4-.5 .3-.6-.2-.6 0-.5 1.1-.6-1.4-.6 .3-.5 .2-.6-.1-.6-.1-.5 .3-.6 .6-.6-.7-.5-.1-.6 0-.6-.1-.5 .2-.6 .2-.6 .5-.5-.5-.6 .2-.6 .2-.5-.2-.6-.5-.6 .8-.5-.3-.6-.1-.6-.2-.5 .5-.6 .2-.6-.1-.5-.5-.6 .1-.6 .3-.5-.4-.6-.1-.6-.1-.5 .3-.6 .5-.6-.9-.5 0-.6 .4z"/><path class="t" d="M.9 11.1l.6-.4 .5-.1 .6 1.4 .6-.6 .5-.2 .6 .6 .6-.2 .5 .2 .6-.5 .6-.3 .5 1.3 .6 .3 .6-.9 .5-.2 .6 .4 .6-.1 .5 .2 .6-.9 .6 .7 .5-.3 .6 .2 .6 .1 .5-.4 .6 .1 .6-.2 .5-.6 .6-.1 .6 .3 .5-.2 .6 .8 .6-.9 .5 .1 .6 .3 .6 0 .5-.2 .6-.5 .6 1.5 .5-1 .6-.3 .6-.2 .5 .3 .6 .7 .6-.2 .5-.3 .6 .6 .6 .3 .5-1.2 .6 .2 0 1.9-.6 .6-.5 .5-.6-.5-.6-.6-.5 .3-.6 .1-.6-.4-.5 .3-.6-.2-.6 0-.5 1.1-.6-1.4-.6 .3-.5 .2-.6-.1-.6-.1-.5 .3-.6 .6-.6-.7-.5-.1-.6 0-.6-.1-.5 .2-.6 .2-.6 .5-.5-.5-.6 .2-.6 .2-.5-.2-.6-.5-.6 .8-.5-.3-.6-.1-.6-.2-.5 .5-.6 .2-.6-.1-.5-.5-.6 .1-.6 .3-.5-.4-.6-.1-.6-.1-.5 .3-.6 .5-.6-.9-.5 0-.6 .4z"/><path class="b" d="M.9 13.2l.6-.3 .5-.7 .6 1.1 .6-.1 .5-.1 .6 0 .6-.5 .5 1.1 .6-.3 .6-.3 .5 .2 .6 .3 .6-.4 .5-.2 .6 .4 .6-.3 .5-2.8 .6 2.4 .6 .5 .5 .1 .6-.3 .6-.1 .5 .7 .6-.4 .6-.4 .5-.1 .6 .1 .6-.2 .5-.1 .6 1.1 .6-.6 .5-.4 .6 .4 .6-.5 .5 .1 .6-3.3 .6 4.5 .5-1.6 .6-3.4 .6 4.3 .5-.3 .6 .4 .6-.5 .5-.5 .6 .4 .6-2.5 .5-1.5 .6 4.1"/><path class="b" d="M.9 13.2l.6-.5 .5 .3 .6 .8 .6-.9 .5 .1 .6 .2 .6 .1 .5 0 .6 0 .6-.1 .5-2.9 .6 3.2 .6 .1 .5-.6 .6 .4 .6-.1 .5-2.4 .6 1.9 .6-.2 .5 .7 .6-.2 .6-2.7 .5 3.3 .6-5.1 .6 .7 .5 3.1 .6 .3 .6 0 .5 .4 .6-4 .6 3.6 .5 .1 .6 .1 .6-.1 .5-.1 .6-.7 .6-1.7 .5 2.1 .6 .3 .6 0 .5-.4 .6 .5 .6 .1 .5-.7 .6 1.1 .6 .5 .5-.4 .6-1.6"/><path class="k" d="M.8 16.1l0-8.6 1.4 .5 .4 4.7-1.1 .1 .5 0 .6 .9 .6-.5 .5-.3 .6 .1 .6 .1 .5 .4 .6-.3 .6-.1 .5 .5 .6 .1 .6-.2 .5-.5 .6 .2 .6 .1 .5 .3 .6-.8 .6 .5 .5 .2 .6-.2 .6-.2 .5 .5 .6-.5 .6-.2 .5-.2 .6 .1 .6 0 .5 .1 .6 .7 .6-.6 .5-.3 .6 .1 .6 .1 .5-.2 .6-.3 .6 1.4 .5-1.1 .6 0 .6 .2 .5-.3 .6 .4 .6-.1 .5-.3 .6 .6 .6 .5 .5-.5 .6-.6 0 3.5-.6 0-.5 0-.6 0-.6 .1-.5-.1-.6-.1-.6 0-.5 .2-.6-.2-.6 .1-.5-.2-.6 0-.6 0-.5 .2-.6-.2-.6 0-.5-.1-.6 .2-.6 0-.5 0-.6 .2-.6-.1-.5 0-.6 .1-.6-.1-.5 0-.6 .1-.6-.1-.5-.1-.6 .2-.6 .1-.5-.1-.6-.2-.6 .3-.5 0-.6-.3-.6 .3-.5-.2-.6 .2-.6 0-.5-.1-.6-.1-.6 .2-.5 .1-.6-.2-.6 .1-.5 .2-.7-.4z"/><use href="#f"/></g>
<g transform="translate(65.2 237.4)" color="#f00" stroke="none"><use href="#g"/><path class="c" d="M.9 7.8l.6-.3 .5 1.8 .6-.3 .6 2.5 .5-3.1 .6-.6 .6-.3 .5 1.6 .6 .9 .6-.1 .5-.1 .6-.4 .6-1.2 .5 2.8 .6-.9 .6-1.6 .5 1.8 .6-1.5 .6 1.9 .5-.3 .6 0 .6-3.1 .5 2.9 .6 1 .6-1.5 .5-4.1 .6 3.2 .6-1.6 .5-1.6 .6 3.7 .6-1.8 .5 1.4 .6-3.1 .6 1.4 .5 .4 .6-1.6 .6 1.4 .5-.6 .6 1.3 .6 .4 .5 0 .6-.9 .6-2.1 .5 1.9 .6 1.5 .6-1.7 .5-1.5 .6 3 0 4.5-.6 0-.5 .2-.6 .3-.6-1.2-.5 .1-.6-.2-.6 .3-.5-.5-.6 .7-.6-.2-.5-.3-.6-.1-.6 .8-.5-.4-.6-.7-.6 .7-.5 .1-.6-.2-.6 0-.5-.1-.6 .2-.6-.5-.5 .4-.6 .4-.6-.1-.5 0-.6 .1-.6 .1-.5-.3-.6 .3-.6 .2-.5-.4-.6 .9-.6 0-.5-1.2-.6-.4-.6 .6-.5-.2-.6 .8-.6 .1-.5-1-.6 .1-.6 .2-.5 .9-.6-.4-.6-.2-.5 .3-.6-.1z"/><path class="t" d="M.9 11.3l.6-.2 .5 .2 .6 .3 .6 .6 .5-1.2 .6-.4 .6 .1 .5 1 .6 .2 .6-.8 .5 .1 .6-.4 .6-.6 .5 2.3 .6-.3 .6-1 .5 .7 .6-1 .6 .2 .5 .6 .6-.4 .6-1 .5 1.3 .6 0 .6-.8 .5-1.5 .6 1.2 .6-.6 .5-.1 .6 .9 .6-.8 .5 .3 .6-.9 .6 .7 .5 .4 .6-1.4 .6 .7 .5 .1 .6 .4 .6-.1 .5 .6 .6-.8 .6-.4 .5 1 .6 .8 .6-.4 .5-.8 .6 .4 0 2.7-.6 0-.5 .2-.6 .3-.6-1.2-.5 .1-.6-.2-.6 .3-.5-.5-.6 .7-.6-.2-.5-.3-.6-.1-.6 .8-.5-.4-.6-.7-.6 .7-.5 .1-.6-.2-.6 0-.5-.1-.6 .2-.6-.5-.5 .4-.6 .4-.6-.1-.5 0-.6 .1-.6 .1-.5-.3-.6 .3-.6 .2-.5-.4-.6 .9-.6 0-.5-1.2-.6-.4-.6 .6-.5-.2-.6 .8-.6 .1-.5-1-.6 .1-.6 .2-.5 .9-.6-.4-.6-.2-.5 .3-.6-.1z"/><path class="b" d="M.9 13.5l.6-5.3 .5 4.9 .6 .3 .6 .4 .5-.8 .6-.6 .6 .1 .5 .9 .6-.1 .6-.6 .5 .3 .6-.6 .6-.1 .5 1.2 .6 .5 .6-1.3 .5 .2 .6-.2 .6 .1 .5 0 .6 .1 .6-.1 .5-.1 .6 .3 .6-4.9 .5-1.4 .6 6.1 .6-.4 .5 .3 .6 0 .6-.3 .5 0 .6-4.5 .6 .7 .5-.8 .6 4.4 .6 .1 .5-6.2 .6 6.5 .6-.6 .5 .9 .6-4 .6 3.5 .5 .1 .6 1.4 .6-.5 .5-.5 .6-.2"/><path class="b" d="M.9 13l.6 .4 .5-.1 .6-.1 .6 .7 .5-1.2 .6 0 .6-.1 .5 1 .6-.4 .6-.4 .5 0 .6-.5 .6 .5 .5 .9 .6-.1 .6-.4 .5-.2 .6 .1 .6-.1 .5 .2 .6-.3 .6-.4 .5 .5 .6-.5 .6 .3 .5-5.6 .6 .4 .6 4.9 .5 .2 .6-.3 .6 .2 .5-.1 .6-.9 .6 1.3 .5 .4 .6-5.1 .6 4.3 .5 0 .6 .3 .6-.6 .5 .2 .6-.4 .6-7.1 .5 7.8 .6 .8 .6-4.3 .5 3.9 .6 .1"/><path class="k" d="M.8 16.1l0-8.4 1.4 .5 .4 4.5-1.1 .7 .5-.3 .6 .2 .6 .4 .5-.9 .6-.2 .6-.1 .5 1 .6-.1 .6-.8 .5 .2 .6-.6 .6 .4 .5 1.2 .6 0 .6-.9 .5 .4 .6-.2 .6-.3 .5 .3 .6-.1 .6-.1 .5 0 .6 .1 .6-.4 .5-.4 .6 .5 .6-.2 .5 .1 .6 0 .6 .2 .5-.1 .6-.7 .6 .7 .5 .4 .6-.8 .6 .1 .5 .3 .6 .2 .6-.7 .5 .5 .6-.3 .6 .2 .5-.1 .6 1.2 .6-.3 .5-.2 .6 0 0 3-.6 0-.5 .1-.6-.3-.6-.1-.5 .3-.6-.3-.6-.1-.5 .1-.6-.2-.6 .1-.5 .1-.6-.1-.6-.2-.5-.1-.6 .4-.6-.1-.5 .1-.6-.1-.6 .1-.5 .1-.6 .1-.6-.1-.5 0-.6 .3-.6-.4-.5 .3-.6-.1-.6 0-.5 .1-.6-.1-.6 .1-.5 .1-.6 0-.6-.1-.5 0-.6 0-.6 .1-.5 0-.6-.1-.6 0-.5 .1-.6-.2-.6 .1-.5 0-.6 0-.6 0-.5 0-.7-.1z"/><use href="#f"/></g>
<g transform="translate(106.3 237.4)" color="#f00" stroke="none"><use href="#g"/><path class="c" d="M.9 5.9l.6 3.1 .5-1.4 .6 2.6 .6-1.1 .5 .4 .6-.7 .6 1.4 .5 .7 .6-1.9 .6 1.1 .5-.3 .6 0 .6 .1 .5-1.2 .6 2.2 .6-1.8 .5 1.3 .6-1 .6-1 .5-1.2 .6 1.9 .6 2.4 .5-2 .6 .4 .6-3.6 .5 3.2 .6 .4 .6-2.4 .5 2.5 .6-2.8 .6 .7 .5 .5 .6-1.7 .6 2.6 .5-1.3 .6-1.7 .6 2.6 .5-2.1 .6-1.8 .6 2.9 .5-.6 .6-1 .6 .5 .5-.8 .6 1.7 .6-1.2 .5 1.2 .6 .3 0 4.7-.6 .3-.5-.8-.6 .3-.6 0-.5-.3-.6-.1-.6 .2-.5 0-.6-.4-.6 .1-.5 .4-.6-.8-.6 .8-.5 .2-.6 0-.6-.1-.5-.2-.6 .5-.6 .1-.5 0-.6 .1-.6-.2-.5-.2-.6 .2-.6 .3-.5 .4-.6-.8-.6 .3-.5 .2-.6 .3-.6-.1-.5 0-.6-.3-.6-.1-.5 .7-.6-.5-.6 0-.5-.2-.6 .8-.6-.2-.5-.6-.6 0-.6-.5-.5 1-.6-.2-.6-.3-.5 .3-.6-.2z"/><path class="t" d="M.9 10.4l.6 .8 .5-.3 .6 .5 .6 .5 .5-1 .6 .3 .6 .4 .5 .8 .6-.6 .6-.1 .5-.3 .6 .4 .6 .3 .5-.7 .6 .4 .6-.1 .5-.1 .6-.3 .6 0 .5-.9 .6 .7 .6 .8 .5-1.1 .6 .5 .6-1.5 .5 .8 .6 .5 .6-.6 .5 .7 .6-1 .6-.3 .5 .1 .6-.8 .6 .4 .5-.3 .6-.8 .6 1.5 .5-.7 .6-.6 .6 .7 .5 .1 .6-.4 .6 .1 .5 .2 .6 .2 .6 0 .5 .9 .6-.8 0 3-.6 .3-.5-.8-.6 .3-.6 0-.5-.3-.6-.1-.6 .2-.5 0-.6-.4-.6 .1-.5 .4-.6-.8-.6 .8-.5 .2-.6 0-.6-.1-.5-.2-.6 .5-.6 .1-.5 0-.6 .1-.6-.2-.5-.2-.6 .2-.6 .3-.5 .4-.6-.8-.6 .3-.5 .2-.6 .3-.6-.1-.5 0-.6-.3-.6-.1-.5 .7-.6-.5-.6 0-.5-.2-.6 .8-.6-.2-.5-.6-.6 0-.6-.5-.5 1-.6-.2-.6-.3-.5 .3-.6-.2z"/><path class="b" d="M.9 13.2l.6 .2 .5-.5 .6 .3 .6-3.7 .5 2.6 .6 .8 .6-.1 .5 .7 .6 .1 .6-.7 .5 .5 .6-.3 .6 .3 .5-.4 .6-.1 .6 .7 .5-.1 .6-.9 .6 .5 .5-.3 .6-.3 .6 .8 .5-.1 .6-.4 .6-.6 .5-3.9 .6 1.5 .6 2.8 .5 .3 .6 0 .6-4 .5 3.7 .6-.1 .6-4.5 .5 4.3 .6-.8 .6 1 .5-.6 .6 0 .6 .2 .5-7.1 .6 7.3 .6 0 .5 0 .6-4.4 .6 4.4 .5 .8 .6-.6"/><path class="b" d="M.9 13.1l.6 .1 .5-.1 .6 .3 .6-.1 .5-1 .6 .5 .6-.3 .5 .9 .6 .6 .6-1.9 .5 .9 .6 .4 .6 .4 .5-1.1 .6 .3 .6-.1 .5 .2 .6 .1 .6-.1 .5-.4 .6-.1 .6 .7 .5-.3 .6-.3 .6-5.6 .5 5.9 .6 .2 .6-.4 .5 .2 .6-.1 .6-.5 .5 0 .6 .4 .6-.3 .5-5.4 .6 4.3 .6 .9 .5-.3 .6-.3 .6-3.5 .5 3.9 .6-.1 .6 .1 .5-6.2 .6 6.8 .6-.3 .5 .5 .6-.1"/><path class="k" d="M.8 16.1l0-8.1 1.4 .4 .4 4.3-1.1 .6 .5-.3 .6 .3 .6 .2 .5-1 .6 .5 .6 0 .5 .6 .6 .2 .6-.8 .5 .2 .6 0 .6 .5 .5-.7 .6 .1 .6 .3 .5 0 .6 .1 .6-.3 .5-.2 .6-.3 .6 .8 .5-.4 .6-.3 .6-.2 .5 .2 .6 .2 .6-.1 .5 0 .6-.1 .6-.5 .5 .2 .6 .1 .6 0 .5-.2 .6-.8 .6 .8 .5-.4 .6-.1 .6 .4 .5 0 .6-.2 .6 .1 .5 .3 .6 0 .6-.3 .5 .8 .6-.3 0 3.5-.6-.2-.5-.2-.6 .1-.6 0-.5-.2-.6 0-.6 0-.5-.1-.6 0-.6 0-.5-.1-.6 .3-.6-.3-.5 .2-.6 .1-.6-.2-.5 .1-.6 .3-.6 0-.5 0-.6 .3-.6-.2-.5 .1-.6-.1-.6 .1-.5-.1-.6 .3-.6-.3-.5 .1-.6-.1-.6 .2-.5-.2-.6 0-.6 .1-.5 0-.6 0-.6 .1-.5-.1-.6 0-.6 0-.5 0-.6 0-.6 .2-.5-.1-.6-.1-.6 .1-.5-.2-.7 0z"/><use href="#f"/></g>
<g transform="translate(147.4 237.4)" color="#f00" stroke="none"><use href="#g"/><path class="c" d="M.9 6.5l.6 2 .5 0 .6 1.4 .6 .9 .5-2.9 .6 1 .6 .8 .5 .1 .6-1.9 .6 1 .5-.4 .6 3.1 .6-.2 .5-1 .6-1.1 .6 .9 .5-.2 .6 1.4 .6-.6 .5-.3 .6-2 .6 1.6 .5-2 .6 1.4 .6-.6 .5-2.8 .6 2.2 .6-.5 .5-.4 .6-.3 .6-.6 .5 0 .6 2 .6-2.5 .5 1.3 .6-.1 .6 1.3 .5-1.4 .6 .9 .6 .7 .5-2.3 .6 .6 .6-.1 .5-.2 .6-.3 .6 2.3 .5-2.5 .6 1.9 0 5.3-.6-.6-.5 .3-.6-1.2-.6 .6-.5 .4-.6-.1-.6-.3-.5 .6-.6-.4-.6-.4-.5-.1-.6 0-.6 .4-.5-.7-.6 .1-.6-.5-.5 1.1-.6 .2-.6-.3-.5-.1-.6 .7-.6 .2-.5-.1-.6-.9-.6 .2-.5 .9-.6 .1-.6-.4-.5 .1-.6 .2-.6 .1-.5-.4-.6 .1-.6 .3-.5-.2-.6 .3-.6-1.4-.5 1.3-.6-.4-.6 .3-.5-.1-.6-.4-.6 .2-.5 .7-.6-.1-.6-.1-.5-.2-.6-.5z"/><path class="t" d="M.9 10.6l.6 .9 .5-.3 .6 1 .6 .2 .5-1.3 .6-.3 .6 .6 .5 .4 .6-.9 .6 1 .5-1.3 .6 2 .6-.7 .5 .3 .6-.5 .6-.1 .5 .4 .6-.1 .6 .1 .5-.3 .6-.2 .6 .2 .5-1.1 .6 0 .6 .4 .5-1 .6 .9 .6-1.2 .5 .4 .6 .2 .6-1.3 .5-.5 .6 1.1 .6-1 .5 1.1 .6-.7 .6 .7 .5-.5 .6 .8 .6 .5 .5-1.2 .6 .5 .6 .2 .5 .1 .6-.4 .6 1.3 .5-.9 .6 1.3 0 2-.6-.6-.5 .3-.6-1.2-.6 .6-.5 .4-.6-.1-.6-.3-.5 .6-.6-.4-.6-.4-.5-.1-.6 0-.6 .4-.5-.7-.6 .1-.6-.5-.5 1.1-.6 .2-.6-.3-.5-.1-.6 .7-.6 .2-.5-.1-.6-.9-.6 .2-.5 .9-.6 .1-.6-.4-.5 .1-.6 .2-.6 .1-.5-.4-.6 .1-.6 .3-.5-.2-.6 .3-.6-1.4-.5 1.3-.6-.4-.6 .3-.5-.1-.6-.4-.6 .2-.5 .7-.6-.1-.6-.1-.5-.2-.6-.5z"/><path class="b" d="M.9 12.1l.6 1.5 .5 0 .6-.3 .6 .3 .5-.6 .6-.3 .6 .2 .5 .6 .6-2.3 .6 2 .5-.9 .6 1.1 .6 .1 .5 .1 .6-.2 .6-.1 .5-.4 .6 .1 .6 .3 .5-.2 .6 .7 .6-4.4 .5-.6 .6 3.6 .6-4.6 .5 5.3 .6-.2 .6-.7 .5 .3 .6-6 .6-1 .5 6.2 .6 .4 .6 0 .5 .6 .6-.4 .6-.8 .5 .6 .6 .5 .6 .2 .5-.1 .6-.2 .6 .4 .5-.4 .6-.6 .6-5.6 .5 1.4 .6 5.9"/><path class="b" d="M.9 12.9l.6 .1 .5 .3 .6 .5 .6-.4 .5-.5 .6-.4 .6 .3 .5 .5 .6-.3 .6 .6 .5-1.2 .6 .9 .6-.1 .5 .1 .6-.3 .6 .3 .5-2.1 .6 2.1 .6-.4 .5 .1 .6-.2 .6-2.4 .5 2 .6-6 .6 7 .5-.2 .6-.1 .6-.8 .5-.5 .6-6.3 .6 7 .5-.9 .6 .2 .6-.2 .5 1.1 .6-.3 .6-.3 .5-3 .6 3.7 .6 0 .5-.4 .6 .3 .6 .2 .5-1.1 .6-.4 .6-6.4 .5 7.7 .6-6.7"/><path class="k" d="M.8 16.1l0-7.4 1.4 .5 .4 3.5-1.1 .7 .5 .2 .6 .1 .6 .1 .5-.7 .6-.2 .6 .4 .5 .1 .6-.3 .6 .4 .5-1.3 .6 1.4 .6-.3 .5 .2 .6-.3 .6-.1 .5 .4 .6-.1 .6-.2 .5-.1 .6 .4 .6-.1 .5-.9 .6-.2 .6 .9 .5 .1 .6-.2 .6-.7 .5 .1 .6 .3 .6-.2 .5-1.1 .6 .5 .6-.1 .5 .7 .6-.4 .6 0 .5 .1 .6 .4 .6 .4 .5-.6 .6 .3 .6 .1 .5-.4 .6-.6 .6 1.2 .5-.3 .6 .6 0 2.5-.6 .1-.5 0-.6 .1-.6-.2-.5 0-.6 0-.6 0-.5-.1-.6 0-.6-.1-.5 .1-.6-.1-.6 0-.5 0-.6 0-.6 .1-.5 0-.6 0-.6 0-.5 0-.6 .1-.6 .3-.5-.2-.6 .1-.6-.1-.5 .1-.6 .1-.6 .1-.5-.1-.6 .1-.6-.2-.5 0-.6 .1-.6 0-.5 0-.6 .1-.6-.1-.5-.1-.6 .1-.6 0-.5 .1-.6-.2-.6 .1-.5 .1-.6 0-.6 0-.5 .1-.7-.3z"/><use href="#f"/></g>
<g transform="translate(188.6 237.4)" color="#f00" stroke="none"><use href="#g"/><path class="c" d="M.9 7l.6 .3 .5-.4 .6 2.4 .6 .6 .5 .5 .6-1.8 .6-.1 .5 .9 .6 .6 .6-.8 .5 .6 .6 .5 .6 .2 .5-.3 .6 1.2 .6-1.6 .5 1 .6-1 .6 .5 .5 .4 .6 .1 .6-1.7 .5 1 .6-.2 .6-1.5 .5 .8 .6-2.2 .6 2.2 .5-1.3 .6 1.1 .6-1.3 .5 2 .6-3.3 .6-.7 .5 2.4 .6-1 .6-.5 .5 .8 .6-1.4 .6 2.4 .5 .5 .6-2.5 .6 .8 .5 .6 .6 0 .6 1.3 .5-2.1 .6-2.9 0 9-.6-.2-.5-.1-.6 .4-.6-.3-.5-.3-.6 0-.6 0-.5-.1-.6-.5-.6 .3-.5-.2-.6 .4-.6-.4-.5 1.1-.6-1.2-.6 1-.5-.7-.6 .1-.6 .3-.5 .3-.6-1-.6 1.4-.5-.4-.6 .2-.6-.2-.5-.6-.6 .9-.6 .3-.5-1-.6 .3-.6 .1-.5 .5-.6 0-.6-.7-.5 .3-.6 .4-.6-.9-.5 .8-.6-.3-.6 .3-.5-.5-.6 .5-.6 0-.5-.1-.6 .5-.6-.6-.5 .3-.6-.5z"/><path class="t" d="M.9 10.9l.6 .5 .5-.2 .6 .4 .6 .2 .5 .3 .6-.8 .6-.9 .5 1 .6 .3 .6-.8 .5 .1 .6 1 .6-.2 .5-.3 .6 .8 .6-.5 .5-.2 .6-.5 .6 0 .5 1.2 .6-.2 .6-1.2 .5 .8 .6-.6 .6 .1 .5 .1 .6-1.4 .6 .7 .5-.4 .6 .1 .6-.5 .5 .7 .6-1.2 .6 .5 .5-.2 .6 0 .6-.4 .5 0 .6-.6 .6 1.6 .5 .2 .6-1.2 .6 .9 .5 .4 .6 0 .6 .3 .5-.9 .6-.6 0 3.8-.6-.2-.5-.1-.6 .4-.6-.3-.5-.3-.6 0-.6 0-.5-.1-.6-.5-.6 .3-.5-.2-.6 .4-.6-.4-.5 1.1-.6-1.2-.6 1-.5-.7-.6 .1-.6 .3-.5 .3-.6-1-.6 1.4-.5-.4-.6 .2-.6-.2-.5-.6-.6 .9-.6 .3-.5-1-.6 .3-.6 .1-.5 .5-.6 0-.6-.7-.5 .3-.6 .4-.6-.9-.5 .8-.6-.3-.6 .3-.5-.5-.6 .5-.6 0-.5-.1-.6 .5-.6-.6-.5 .3-.6-.5z"/><path class="b" d="M.9 12.5l.6 .8 .5-.3 .6 .7 .6-.3 .5-.2 .6-.5 .6 0 .5 .6 .6-.4 .6 .6 .5-1.3 .6 1.3 .6-1 .5 .1 .6 .8 .6 .2 .5-.4 .6-.4 .6-3.5 .5 4.2 .6 0 .6-1.5 .5 .9 .6-4.9 .6 5 .5 .2 .6-1 .6 .6 .5-.1 .6-.6 .6 .1 .5 .9 .6-.8 .6 1 .5-1.2 .6 .1 .6 .1 .5 .2 .6-.7 .6 .4 .5 .5 .6-.2 .6 .2 .5 0 .6-3.6 .6 3.8 .5-.2 .6-3.8"/><path class="b" d="M.9 13.2l.6 .5 .5-.2 .6-4.8 .6 4.8 .5 0 .6-.2 .6-.3 .5 .4 .6-.4 .6 .4 .5-.6 .6 .5 .6-.3 .5-.1 .6 .9 .6-.3 .5-.3 .6-.1 .6-1.3 .5 1.6 .6 .1 .6-1.5 .5 1 .6-6.1 .6 6.2 .5-.4 .6-.7 .6 .5 .5-.1 .6 .1 .6-.3 .5 .9 .6-1.1 .6 .7 .5-.5 .6-5.2 .6 5.3 .5 .2 .6-.5 .6 .3 .5 .5 .6-.3 .6 .3 .5 .2 .6-6.3 .6 6.1 .5 .2 .6-.3"/><path class="k" d="M.8 16.1l0-8.7 1.4 .5 .4 4.8-1.1 .8 .5-.3 .6 .6 .6-.5 .5 .1 .6 0 .6-.5 .5 .5 .6-.3 .6 .3 .5-.8 .6 .9 .6-.4 .5-.3 .6 .7 .6 0 .5-.5 .6-.1 .6-.3 .5 1 .6-.3 .6-.9 .5 .6 .6 .2 .6-.2 .5 .4 .6-1.4 .6 1 .5-.3 .6-.3 .6-.1 .5 .7 .6-1 .6 1.2 .5-1.1 .6 .4 .6-.4 .5 .2 .6-.3 .6 .5 .5 .1 .6 0 .6 0 .5 .3 .6 .3 .6-.4 .5 .1 .6 .2 0 2.8-.6 .2-.5-.1-.6-.2-.6 .1-.5 0-.6-.1-.6 0-.5-.3-.6 .2-.6 .1-.5 .1-.6-.3-.6 .1-.5-.1-.6 .2-.6 0-.5 .2-.6-.1-.6 .1-.5-.1-.6 .1-.6 .1-.5 0-.6-.1-.6 .3-.5-.1-.6 0-.6 0-.5 0-.6 .1-.6-.3-.5 .2-.6 0-.6 0-.5-.2-.6 .2-.6-.1-.5 .2-.6-.1-.6 0-.5 0-.6 .1-.6-.1-.5-.1-.6 0-.6 .1-.5 0-.7-.1z"/><use href="#f"/></g>
<g transform="translate(229.7 237.4)" color="#f00" stroke="none"><use href="#g"/><path class="c" d="M.9 8.9l.6-2.2 .5 0 .6 2.8 .6-1.5 .5-.4 .6 3 .6 .3 .5-.7 .6-1.5 .6-.9 .5 1.6 .6 .9 .6 .4 .5-.7 .6-.6 .6 .6 .5 .7 .6-.9 .6-.3 .5 1.1 .6-1.2 .6-.8 .5 1.7 .6-1.3 .6-1.7 .5 3 .6-2 .6 1.3 .5-3.1 .6 1.3 .6-1.9 .5 2.8 .6-1.3 .6 1.3 .5-.4 .6-.1 .6 .5 .5-2.9 .6 2.7 .6-1.8 .5 .8 .6-.6 .6-.6 .5 3 .6-2.5 .6 2.2 .5-2.4 .6 .4 0 6-.6 0-.5-.3-.6-.5-.6 .8-.5-.6-.6 .2-.6-.3-.5-.7-.6 .3-.6-.1-.5 1-.6-.7-.6-.5-.5 .4-.6 .5-.6-1-.5 .7-.6 .6-.6-.3-.5 .5-.6-.4-.6 .3-.5-.4-.6 .7-.6-.3-.5 .1-.6 .6-.6-.6-.5 .2-.6-.2-.6 .4-.5-.6-.6 .7-.6-.4-.5 .2-.6-.1-.6-.2-.5 .5-.6-.2-.6 .7-.5-.6-.6 .7-.6-.5-.5-.3-.6-.1-.6-.6-.5 .6-.6 0z"/><path class="t" d="M.9 11.1l.6-.7 .5 .1 .6 1 .6-.2 .5-.3 .6 1.1 .6 0 .5-.3 .6-1 .6 .4 .5-.2 .6 1 .6 .1 .5-.6 .6 .1 .6-.2 .5 .8 .6-.7 .6-.2 .5-.4 .6 .7 .6-.3 .5 .3 .6-.3 .6-1.5 .5 1.1 .6-.4 .6 .5 .5-1.6 .6 .8 .6-1 .5 .2 .6 .3 .6-.2 .5-.5 .6 .5 .6 .6 .5-2 .6 1.5 .6-.7 .5 .6 .6 .1 .6-.2 .5 1.3 .6-1.1 .6 1.2 .5-.4 .6-.3 0 2.9-.6 0-.5-.3-.6-.5-.6 .8-.5-.6-.6 .2-.6-.3-.5-.7-.6 .3-.6-.1-.5 1-.6-.7-.6-.5-.5 .4-.6 .5-.6-1-.5 .7-.6 .6-.6-.3-.5 .5-.6-.4-.6 .3-.5-.4-.6 .7-.6-.3-.5 .1-.6 .6-.6-.6-.5 .2-.6-.2-.6 .4-.5-.6-.6 .7-.6-.4-.5 .2-.6-.1-.6-.2-.5 .5-.6-.2-.6 .7-.5-.6-.6 .7-.6-.5-.5-.3-.6-.1-.6-.6-.5 .6-.6 0z"/><path class="b" d="M.9 13.5l.6-.5 .5-.3 .6 .5 .6-.1 .5 .4 .6 .1 .6-.1 .5 .4 .6-1 .6-2.6 .5 2.4 .6 .2 .6 .3 .5-.4 .6 .9 .6-.7 .5 .2 .6-.6 .6 .4 .5-.3 .6 .8 .6-.3 .5-.6 .6 .9 .6-1 .5 .4 .6-.3 .6 .4 .5-.9 .6 .8 .6-.6 .5-5.2 .6 5 .6-.2 .5-.2 .6 .3 .6 .8 .5-1 .6 .2 .6-.2 .5 0 .6 .9 .6-.1 .5 .5 .6-1 .6-2.7 .5 3.8 .6-.2"/><path class="b" d="M.9 12.8l.6-.4 .5 .2 .6 .5 .6 .1 .5 .5 .6 .5 .6-3.9 .5 3.9 .6-.9 .6 .1 .5-.7 .6 .5 .6-.1 .5 0 .6 .6 .6-.7 .5 .6 .6-.4 .6-.8 .5 .8 .6 .3 .6-.5 .5 .1 .6 .2 .6-1.3 .5-4.1 .6 4.7 .6 .3 .5-.6 .6 .3 .6-.5 .5-.5 .6 .9 .6-.8 .5 .1 .6 .1 .6 .9 .5-1.1 .6 .5 .6-.7 .5 .8 .6 .1 .6-5.9 .5 6.3 .6-.5 .6 .5 .5 .2 .6 .2"/><path class="k" d="M.8 16.1l0-8.9 1.4 .5 .4 5-1.1 .5 .5-.6 .6 .6 .6 .1 .5 .3 .6 .5 .6-.7 .5 .6 .6-.7 .6 .2 .5-.5 .6 .2 .6 .1 .5-.2 .6 .4 .6-.7 .5 .6 .6-.4 .6 .2 .5-.2 .6 .6 .6-.6 .5-.1 .6 .3 .6-.7 .5 .4 .6-.3 .6 .4 .5-.5 .6 .3 .6-.6 .5-.7 .6 1 .6-.5 .5-.4 .6 .5 .6 .7 .5-1 .6 .1 .6-.3 .5 .7 .6 .3 .6-.2 .5 .6 .6-.8 .6 .5 .5 .3 .6 0 0 2.9-.6 0-.5-.1-.6 0-.6 0-.5 0-.6 0-.6-.1-.5 0-.6 0-.6-.3-.5 0-.6 .2-.6-.1-.5 .2-.6 0-.6 .1-.5-.1-.6 .3-.6-.1-.5 0-.6 .2-.6-.1-.5 .1-.6 .3-.6-.1-.5-.2-.6 .1-.6 .1-.5-.2-.6 0-.6 .1-.5-.2-.6 .1-.6 .1-.5 0-.6 0-.6 .1-.5-.1-.6 0-.6-.1-.5 .1-.6 .1-.6 0-.5 0-.6 0-.6-.1-.5 0-.7-.1z"/><use href="#f"/></g>
<g transform="translate(270.8 237.4)" color="#f00" stroke="none"><use href="#g"/><path class="c" d="M.9 5.8l.6 2.3 .5 1.8 .6-1.2 .6 1.8 .5-.6 .6 .4 .6 .6 .5-.6 .6 .1 .6-1 .5-.9 .6 1.2 .6 .5 .5 .2 .6 .9 .6-1.2 .5 .3 .6 .4 .6-1.8 .5 .3 .6 2.5 .6-1.4 .5 .2 .6-2.7 .6 3 .5-3.5 .6 1.6 .6-.6 .5 .2 .6 1.6 .6-2.2 .5 .6 .6 2.3 .6-5 .5 2.5 .6-.1 .6-1.2 .5-.4 .6 2 .6-1.9 .5-1 .6-.3 .6 0 .5-.7 .6 .8 .6 .8 .5-1.5 .6 .3 0 5.9-.6-.9-.5 .4-.6 0-.6 .1-.5 .2-.6-.3-.6 1.1-.5 .1-.6 1-.6-.6-.5-.1-.6 .9-.6 .2-.5-.3-.6 .3-.6 .1-.5-.2-.6 .1-.6-.4-.5 1.1-.6-.9-.6 .8-.5-.4-.6 .1-.6 0-.5-.5-.6 .2-.6 .1-.5-.1-.6 .4-.6 0-.5-.7-.6 0-.6-.2-.5 .4-.6 0-.6-.2-.5 .5-.6-.2-.6 0-.5 .7-.6-.9-.6 .1-.5 .3-.6 .6-.6-.5-.5-.6-.6 .4z"/><path class="t" d="M.9 10.9l.6 .1 .5 .7 .6 .3 .6-.1 .5-.2 .6-.5 .6 1.2 .5-.9 .6 .4 .6-.1 .5-1.1 .6 .5 .6 .4 .5-.1 .6-.1 .6-.1 .5 .9 .6 0 .6-1 .5 .2 .6 .7 .6-.8 .5 .9 .6-.6 .6 .2 .5-.1 .6-.3 .6 .1 .5-.4 .6 .7 .6-.9 .5 .4 .6 .6 .6-1.9 .5 .8 .6-.2 .6-1 .5-.2 .6 .6 .6-1.4 .5-.8 .6-.7 .6-.4 .5-.3 .6 .2 .6-.3 .5-.2 .6 1 0 4-.6-.9-.5 .4-.6 0-.6 .1-.5 .2-.6-.3-.6 1.1-.5 .1-.6 1-.6-.6-.5-.1-.6 .9-.6 .2-.5-.3-.6 .3-.6 .1-.5-.2-.6 .1-.6-.4-.5 1.1-.6-.9-.6 .8-.5-.4-.6 .1-.6 0-.5-.5-.6 .2-.6 .1-.5-.1-.6 .4-.6 0-.5-.7-.6 0-.6-.2-.5 .4-.6 0-.6-.2-.5 .5-.6-.2-.6 0-.5 .7-.6-.9-.6 .1-.5 .3-.6 .6-.6-.5-.5-.6-.6 .4z"/><path class="b" d="M.9 13.1l.6-.1 .5-.2 .6 1.1 .6-.4 .5-.2 .6-.8 .6 1.3 .5-.5 .6 0 .6 .3 .5-.7 .6 .2 .6 0 .5-.7 .6-.3 .6 .9 .5 .8 .6-.5 .6-2.3 .5 2 .6 .3 .6-.2 .5 .5 .6-4.1 .6-1.3 .5 5.8 .6-.9 .6 .9 .5-1.5 .6 .3 .6 .3 .5-.3 .6 .4 .6-4.6 .5 .8 .6 3.4 .6-4.3 .5 3.9 .6 .2 .6-3.6 .5 2.7 .6-5.2 .6 4.2 .5-.1 .6-3 .6 3.2 .5-.7 .6 .7"/><path class="b" d="M.9 13.3l.6-3.3 .5 3 .6 .8 .6-.3 .5-.4 .6-.2 .6 .3 .5-.1 .6 .2 .6-.3 .5-.2 .6 0 .6 .1 .5-.7 .6 .4 .6 .2 .5 1 .6 .1 .6-1 .5 0 .6 .3 .6-.3 .5 .6 .6 .2 .6-.4 .5 0 .6-.6 .6-2.2 .5 1.9 .6 .7 .6-1.1 .5 .3 .6 1.1 .6-.3 .5 .1 .6-.6 .6-.5 .5-2.9 .6 3.7 .6-1.4 .5-4.6 .6 3.9 .6-5 .5 4.4 .6-.1 .6-4.3 .5 4.1 .6-1.9"/><path class="k" d="M.8 16.1l0-8.3 1.4 .5 .4 4.4-1.1 .2 .5 .6 .6 .5 .6-.6 .5-.3 .6-.1 .6 .9 .5-.7 .6 0 .6 .2 .5-.5 .6 .2 .6 0 .5-.4 .6 .2 .6 0 .5 .7 .6 0 .6-.4 .5 .1 .6-.1 .6-.2 .5 .5 .6 0 .6-.1 .5 .4 .6-.8 .6 .9 .5-1.1 .6 .4 .6-.1 .5 .2 .6-.1 .6-.3 .5 .3 .6-.2 .6-.9 .5 .1 .6 .6 .6-1 .5-.1 .6-1.1 .6 .3 .5-.2 .6-.1 .6 0 .5-.4 .6 .9 0 3.9-.6-.4-.5 .2-.6 0-.6 0-.5 .2-.6 0-.6 .2-.5 .3-.6 0-.6 .3-.5 .1-.6-.1-.6 0-.5 .4-.6-.2-.6 0-.5 0-.6 .3-.6-.1-.5 .2-.6-.2-.6 0-.5-.2-.6 .2-.6 .1-.5-.1-.6-.1-.6 .1-.5 .1-.6 0-.6-.1-.5 .1-.6-.2-.6 .1-.5 .1-.6-.1-.6-.1-.5 .2-.6 0-.6 0-.5-.1-.6 .1-.6 0-.5-.2-.6 .1-.6 0-.5 0-.7-.1z"/><use href="#f"/></g>
<g transform="translate(311.9 237.4)" color="#f00" stroke="none"><use href="#g"/><path class="c" d="M.9 6.3l.6 0 .5 3 .6 .7 .6-.3 .5-.7 .6-.7 .6 .4 .5 1.9 .6-1.4 .6-.3 .5 .1 .6 1.3 .6-1.7 .5 1.8 .6-1.7 .6 .9 .5-.1 .6 0 .6 1.7 .5-1.5 .6 .8 .6-1.7 .5-.3 .6 1.8 .6-1.7 .5-.6 .6 1.3 .6-2.3 .5-1 .6 3.2 .6-1.5 .5 1 .6-2.6 .6-1.3 .5 2.5 .6-2.4 .6 2.1 .5 2.9 .6-2.8 .6-.3 .5 1.2 .6-2.6 .6 3.6 .5-2.8 .6 1.7 .6-1.2 .5 .4 .6 2.4 0 3.8-.6-.8-.5 .6-.6-.3-.6-.2-.5 .6-.6-.5-.6-.1-.5-.2-.6 0-.6 .2-.5-.5-.6-.3-.6 .8-.5-.2-.6 .8-.6-.2-.5-.2-.6 .3-.6 .5-.5-.4-.6 .4-.6-.7-.5-.3-.6 .8-.6-.4-.5-.1-.6 .2-.6 .3-.5 0-.6 .1-.6-.7-.5 1.2-.6-.7-.6 .5-.5-.4-.6-.2-.6 0-.5-.1-.6 0-.6-.3-.5 .3-.6 .3-.6-.4-.5-.1-.6 .1-.6 .4-.5-.3-.6-.2z"/><path class="t" d="M.9 10.5l.6 .2 .5 .8 .6-.5 .6 .3 .5 .2 .6-.4 .6 .1 .5 .4 .6-.2 .6-.1 .5 .2 .6 .3 .6-.4 .5 1.1 .6-1.1 .6 .5 .5-1.3 .6 1.3 .6 .1 .5-.3 .6 .1 .6-.9 .5-.1 .6 1 .6-1.1 .5-.1 .6 1.1 .6-1.3 .5 .4 .6-.4 .6 0 .5 .5 .6-.7 .6-1.3 .5 1.1 .6-1.3 .6 .6 .5 1.3 .6-1.1 .6-.3 .5 1.1 .6-.6 .6 1.4 .5-1.9 .6 1.3 .6-.2 .5-.1 .6 1.2 0 1.9-.6-.8-.5 .6-.6-.3-.6-.2-.5 .6-.6-.5-.6-.1-.5-.2-.6 0-.6 .2-.5-.5-.6-.3-.6 .8-.5-.2-.6 .8-.6-.2-.5-.2-.6 .3-.6 .5-.5-.4-.6 .4-.6-.7-.5-.3-.6 .8-.6-.4-.5-.1-.6 .2-.6 .3-.5 0-.6 .1-.6-.7-.5 1.2-.6-.7-.6 .5-.5-.4-.6-.2-.6 0-.5-.1-.6 0-.6-.3-.5 .3-.6 .3-.6-.4-.5-.1-.6 .1-.6 .4-.5-.3-.6-.2z"/><path class="b" d="M.9 12.9l.6 0 .5 .2 .6-.3 .6 .1 .5 .1 .6 .3 .6-.5 .5 .1 .6 .2 .6 .2 .5-.1 .6 0 .6 .2 .5 .6 .6-.8 .6 1 .5-1.2 .6 .7 .6-.1 .5-.3 .6-.5 .6 0 .5 .1 .6 .7 .6-1.4 .5 .8 .6 .3 .6-7.7 .5 7.6 .6-.2 .6-5.5 .5 5.7 .6 .2 .6-1.2 .5-7.7 .6 7.3 .6 .2 .5 .8 .6-.6 .6-4 .5 4.6 .6-.5 .6 1 .5-.7 .6-6.4 .6 6.6 .5-6.9 .6 7"/><path class="b" d="M.9 13l.6-.1 .5 .7 .6-1.1 .6 .3 .5-.4 .6 .9 .6-.2 .5-.5 .6 .2 .6 .3 .5-.1 .6-.1 .6 .6 .5-.3 .6-5.4 .6 6.3 .5-1.3 .6 .6 .6-.2 .5 .2 .6-.6 .6 .2 .5-.4 .6 1 .6-1 .5 .3 .6-7 .6-1.9 .5 9.6 .6-.8 .6-.2 .5 .6 .6 .3 .6-1 .5-.1 .6-.9 .6-3.5 .5 4.7 .6-5.5 .6 4.6 .5 .6 .6 .4 .6 .4 .5-.9 .6 .6 .6 .4 .5-.9 .6-8.2"/><path class="k" d="M.8 16.1l0-8.7 1.4 .5 .4 4.8-1.1 .4 .5 .3 .6-.4 .6-.1 .5 .1 .6 .4 .6-.3 .5-.3 .6 .3 .6 0 .5 .1 .6 0 .6 .2 .5 .4 .6-.5 .6 .7 .5-1.2 .6 .7 .6-.1 .5 0 .6-.3 .6-.2 .5 .1 .6 .4 .6-.8 .5 .3 .6 .7 .6-.4 .5 .4 .6-.5 .6-.3 .5 .2 .6 .2 .6-.8 .5 .2 .6-.8 .6 .3 .5 .5 .6-.2 .6 0 .5 .2 .6 .1 .6 .5 .5-.6 .6 .2 .6 .3 .5-.6 .6 .8 0 2.7-.6 .1-.5-.2-.6 0-.6 0-.5 0-.6 .2-.6-.2-.5-.2-.6 .1-.6 0-.5-.1-.6 0-.6 .1-.5 .2-.6-.1-.6 0-.5 .1-.6 .1-.6 0-.5-.1-.6-.1-.6 .3-.5-.1-.6-.2-.6 .3-.5-.1-.6 0-.6 .2-.5 .1-.6-.2-.6 0-.5 0-.6 .1-.6-.1-.5 .1-.6-.1-.6-.2-.5 .4-.6-.1-.6 0-.5-.1-.6 0-.6 0-.5-.1-.6-.1-.6 .3-.5-.1-.7-.1z"/><use href="#f"/></g>
<g transform="translate(353 237.4)" color="#f00" stroke="none"><use href="#g"/><path class="c" d="M.9 6.8l.6 1.4 .5-.7 .6 .5 .6 .4 .5 .2 .6 1.3 .6 0 .5 .6 .6-.6 .6 .5 .5-.7 .6 1.4 .6-2.2 .5 1.7 .6-1.3 .6 .6 .5 1.7 .6-1.5 .6 1.4 .5-.8 .6-2 .6 .3 .5-.1 .6-1.1 .6 1.7 .5-.1 .6-.8 .6-.2 .5 1.3 .6-.8 .6-1.2 .5 .8 .6-.3 .6-.5 .5-1.9 .6 1.8 .6-3 .5 3.3 .6-1.8 .6 .1 .5 .3 .6-.1 .6-.3 .5-.3 .6-.4 .6 1.4 .5 1.2 .6-1.7 0 6.7-.6-.2-.5 0-.6-.2-.6-1.2-.5 .3-.6-.4-.6 .5-.5-.9-.6 .1-.6 .2-.5-.2-.6 .5-.6-.6-.5 1.5-.6-.4-.6 .4-.5-.2-.6 .2-.6 .7-.5 .3-.6-.6-.6 0-.5 .3-.6-.3-.6 .3-.5 .1-.6 .1-.6-.3-.5 .2-.6 .4-.6-.3-.5-.4-.6 .8-.6-.5-.5 0-.6 .3-.6-.6-.5 .1-.6 0-.6 .8-.5-.2-.6-.5-.6-.5-.5 .3-.6 .7-.6-.2-.5 0-.6-.6z"/><path class="t" d="M.9 10.8l.6 .3 .5-.2 .6 .6 .6-.8 .5 .4 .6 .6 .6 .4 .5 .1 .6-.9 .6 .4 .5-.1 .6 .8 .6-.8 .5 .2 .6-.1 .6-.1 .5 .3 .6 0 .6 .2 .5-.5 .6-.3 .6-.4 .5-.5 .6 .3 .6 .6 .5-.2 .6-.3 .6 0 .5 .6 .6-1 .6-.8 .5 .4 .6-.8 .6-.3 .5-1.3 .6 .5 .6-.6 .5 .7 .6-.7 .6-.1 .5 .9 .6-.5 .6 .3 .5 .3 .6 1.1 .6 .5 .5 .6 .6-1 0 3.4-.6-.2-.5 0-.6-.2-.6-1.2-.5 .3-.6-.4-.6 .5-.5-.9-.6 .1-.6 .2-.5-.2-.6 .5-.6-.6-.5 1.5-.6-.4-.6 .4-.5-.2-.6 .2-.6 .7-.5 .3-.6-.6-.6 0-.5 .3-.6-.3-.6 .3-.5 .1-.6 .1-.6-.3-.5 .2-.6 .4-.6-.3-.5-.4-.6 .8-.6-.5-.5 0-.6 .3-.6-.6-.5 .1-.6 0-.6 .8-.5-.2-.6-.5-.6-.5-.5 .3-.6 .7-.6-.2-.5 0-.6-.6z"/><path class="b" d="M.9 12.9l.6 .5 .5-.3 .6 .4 .6-.5 .5-.4 .6 .6 .6 .1 .5 .6 .6-.9 .6-.8 .5 .8 .6 .2 .6-.5 .5 .5 .6 .4 .6-.6 .5 .2 .6 .3 .6-.5 .5-4.8 .6 5 .6 .2 .5-.2 .6-.2 .6-.2 .5-5.3 .6 5.2 .6 .6 .5-5.9 .6 5 .6-3.5 .5-.4 .6 3.4 .6-.1 .5-.7 .6 .5 .6-3.6 .5 0 .6 3.2 .6-.3 .5-2.5 .6-1.6 .6 4.9 .5-6.6 .6 7 .6 .8 .5-.1 .6 .2"/><path class="b" d="M.9 12.8l.6 .4 .5 .3 .6 .2 .6-1.5 .5 .1 .6 1 .6 0 .5 .4 .6-.9 .6 .3 .5 0 .6 .6 .6-.4 .5 .1 .6-.5 .6 .1 .5 .1 .6 .4 .6-.6 .5-.1 .6-3.7 .6 4 .5-.2 .6-6 .6 6.2 .5-5.3 .6 5.1 .6-7.8 .5 8 .6-1.1 .6-.2 .5 .4 .6-.8 .6 1 .5-1.6 .6-2.8 .6 3.1 .5-.3 .6-3.6 .6-.4 .5 5 .6-.7 .6 .6 .5-.1 .6 1.2 .6 .1 .5-.1 .6 .4"/><path class="k" d="M.8 16.1l0-8.1 1.4 .5 .4 4.2-1.1 .7 .5 0 .6 .2 .6-.7 .5-.3 .6 .5 .6 .5 .5 .2 .6-.8 .6 0 .5-.1 .6 .6 .6-.3 .5 0 .6 .5 .6-.8 .5 .4 .6 .3 .6-.4 .5-.2 .6 .3 .6-.1 .5-.1 .6-.3 .6 .3 .5-.3 .6 0 .6 .6 .5-.3 .6-.7 .6-.2 .5 .2 .6-.4 .6 .4 .5-1.5 .6 .6 .6-.5 .5 .2 .6-.2 .6-.1 .5 .9 .6-.5 .6 .4 .5-.3 .6 1.2 .6 .2 .5 0 .6 .2 0 2.9-.6-.1-.5-.1-.6 .1-.6-.3-.5-.1-.6-.1-.6 0-.5-.2-.6 0-.6 0-.5 .1-.6 0-.6 .1-.5 .2-.6 0-.6 .3-.5 .1-.6 0-.6 .1-.5 .1-.6-.1-.6 0-.5 .2-.6 0-.6 .1-.5-.2-.6 .1-.6 .1-.5 .2-.6-.3-.6 0-.5 .1-.6-.1-.6 .1-.5-.1-.6-.1-.6 .3-.5-.2-.6 0-.6 .1-.5 0-.6 0-.6 .1-.5-.1-.6-.1-.6 .1-.5-.2-.7 0z"/><use href="#f"/></g>
<g transform="translate(394.2 237.4)" color="#f00" stroke="none"><use href="#g"/><path class="c" d="M.9 7.2l.6 .4 .5 1.8 .6 .6 .6 .2 .5-1.7 .6-.1 .6 1.6 .5-1.5 .6 1.1 .6 .6 .5 .6 .6-.4 .6-.6 .5-.5 .6 .9 .6-1 .5 1.2 .6-.1 .6-1 .5 1.3 .6-.2 .6-1.7 .5 .2 .6 .1 .6-.5 .5 1.3 .6-2.1 .6-.9 .5 2.3 .6-.5 .6 1.2 .5-.6 .6-.3 .6-.1 .5-2 .6 2 .6-1.4 .5-.3 .6 .1 .6-.2 .5-.7 .6 1.4 .6-.4 .5-2.7 .6 .8 .6 .8 .5 2.9 .6-2 0 4.4-.6 .5-.5-1-.6 0-.6 0-.5 .3-.6-.2-.6-.2-.5 .3-.6 .3-.6 .2-.5 .3-.6-.1-.6 .5-.5 .3-.6 0-.6-.1-.5 .9-.6-.2-.6 .2-.5-.5-.6 0-.6-.1-.5 .3-.6 .7-.6-1.2-.5 .3-.6-.1-.6 0-.5 .6-.6 0-.6-.1-.5-.3-.6 .4-.6-.8-.5 .1-.6-.4-.6 .9-.5 .2-.6-.8-.6 0-.5 1-.6-.7-.6 .3-.5 .1-.6-.3-.6 .2-.5 .3-.6-.4z"/><path class="t" d="M.9 11l.6 .6 .5-.2 .6 0 .6 .6 .5-.5 .6-.4 .6 1.2 .5-1.5 .6 .5 .6 .9 .5-.2 .6-.9 .6-.3 .5 .4 .6 .7 .6-.8 .5 .4 .6 .2 .6 .2 .5-.2 .6-.6 .6-.2 .5 0 .6 .7 .6-.1 .5-.1 .6-.5 .6-.2 .5 .5 .6 0 .6 .6 .5-1.8 .6 .2 .6-.2 .5-.7 .6-.3 .6-.1 .5-.4 .6-.4 .6-.7 .5-.4 .6 .3 .6 .5 .5-1 .6 .4 .6-.4 .5 2.5 .6-.6 0 2.8-.6 .5-.5-1-.6 0-.6 0-.5 .3-.6-.2-.6-.2-.5 .3-.6 .3-.6 .2-.5 .3-.6-.1-.6 .5-.5 .3-.6 0-.6-.1-.5 .9-.6-.2-.6 .2-.5-.5-.6 0-.6-.1-.5 .3-.6 .7-.6-1.2-.5 .3-.6-.1-.6 0-.5 .6-.6 0-.6-.1-.5-.3-.6 .4-.6-.8-.5 .1-.6-.4-.6 .9-.5 .2-.6-.8-.6 0-.5 1-.6-.7-.6 .3-.5 .1-.6-.3-.6 .2-.5 .3-.6-.4z"/><path class="b" d="M.9 12.8l.6 .5 .5-.1 .6-.2 .6 .3 .5 0 .6-.4 .6 .4 .5-.4 .6-.4 .6 .9 .5 .1 .6-1.1 .6 .4 .5 0 .6 .3 .6 0 .5 .5 .6 0 .6 0 .5-.5 .6-.1 .6 0 .5-.4 .6 1.5 .6-1.1 .5-.1 .6 .1 .6 .2 .5 .1 .6-.1 .6 .5 .5-1.1 .6 0 .6 .1 .5-.2 .6-5.2 .6 4.7 .5-.5 .6-5.2 .6 4.7 .5-.5 .6-4.8 .6 5.2 .5-.2 .6 .2 .6-.2 .5 1 .6-.4"/><path class="b" d="M.9 12.8l.6 .8 .5-.4 .6 0 .6-.4 .5 .2 .6 0 .6 .9 .5-1 .6 0 .6 .8 .5-.3 .6-1.5 .6 1.1 .5-.5 .6 1 .6-1.3 .5 .6 .6 .2 .6 .2 .5-.2 .6-.1 .6 0 .5-.3 .6 1.2 .6-1 .5 0 .6 .3 .6 0 .5 .6 .6-4.7 .6-2.2 .5 5.6 .6 .5 .6 .1 .5-.8 .6-.5 .6-5.8 .5 5.7 .6-.2 .6-.1 .5-.4 .6 .1 .6-2 .5-3.4 .6 5.6 .6-.4 .5-3.2 .6 3.8"/><path class="k" d="M.8 16.1l0-7.5 1.4 .4 .4 3.7-1.1 .9 .5-.3 .6-.2 .6 .3 .5-.1 .6-.3 .6 .7 .5-1 .6 0 .6 .8 .5-.2 .6-.9 .6 .4 .5-.1 .6 .8 .6-.4 .5 .3 .6 .1 .6 0 .5-.6 .6 0 .6 .1 .5-.3 .6 1.2 .6-.7 .5-.3 .6 .1 .6 0 .5 .5 .6-.2 .6 .2 .5-.9 .6 .1 .6 0 .5-.3 .6-.5 .6 .1 .5-.3 .6-.2 .6-.3 .5-.3 .6 .2 .6 .2 .5-.3 .6 0 .6 0 .5 1 .6-.5 0 3.8-.6 .2-.5-.5-.6-.1-.6 .2-.5-.3-.6 .1-.6 0-.5 .3-.6 0-.6 0-.5 .4-.6 0-.6 0-.5 .3-.6 0-.6 .1-.5 0-.6 .2-.6-.1-.5 0-.6 0-.6 .1-.5 0-.6 0-.6 0-.5 .1-.6-.2-.6 .1-.5 0-.6 .1-.6-.3-.5 .2-.6 .1-.6 0-.5-.2-.6 .1-.6 0-.5 0-.6 .1-.6-.2-.5 .1-.6 .1-.6-.1-.5 .1-.6 0-.6-.1-.5 .1-.7-.2z"/><use href="#f"/></g>
<g transform="translate(435.3 237.4)" color="#f00" stroke="none"><use href="#g"/><path class="c" d="M.9 9.4l.6-.6 .5-.4 .6-.6 .6 2.6 .5 .4 .6 .2 .6-2.2 .5 .5 .6 .4 .6 .3 .5 .1 .6 .7 .6 .4 .5 0 .6-.3 .6 0 .5-.6 .6-.3 .6-1 .5 .4 .6 .3 .6-.1 .5 0 .6-1.1 .6 .1 .5 1 .6-2.1 .6 1.6 .5 0 .6-.5 .6 1.2 .5-.7 .6-2.4 .6 4 .5-.6 .6-.9 .6-.2 .5-2.9 .6 .7 .6 1.2 .5-1.4 .6-.8 .6 2 .5-3.1 .6-.6 .6 1.5 .5-1.1 .6 2.2 0 5.3-.6-.6-.5-.4-.6 0-.6 .4-.5-.5-.6 .3-.6 .4-.5 .5-.6-.3-.6 .2-.5 .2-.6-.1-.6 1-.5-.3-.6 .8-.6-.5-.5 .5-.6 .1-.6-.2-.5-.2-.6 .1-.6 0-.5-.3-.6-.4-.6 .5-.5-.5-.6 .5-.6 0-.5-.3-.6-.2-.6 .6-.5 .3-.6 0-.6-.4-.5 .6-.6-.3-.6-.2-.5 .1-.6-.1-.6-.4-.5 .3-.6 .8-.6-.9-.5 .6-.6-.4-.6 .2-.5-.7-.6 .5z"/><path class="t" d="M.9 11.3l.6-.3 .5 .5 .6-.6 .6 .8 .5 0 .6 .9 .6-1.3 .5 .2 .6 .3 .6 0 .5 .1 .6-.5 .6 1.2 .5-.5 .6-.6 .6 .9 .5-.5 .6-.4 .6-.3 .5 0 .6-.3 .6 .4 .5 .3 .6-1.1 .6 .7 .5 .3 .6-.2 .6 .2 .5-.2 .6 .4 .6 .3 .5-.6 .6-.1 .6 .1 .5 .1 .6-1.5 .6 0 .5-1 .6 0 .6-.2 .5-.6 .6-.8 .6 .4 .5-.5 .6-.8 .6 .8 .5 .1 .6 1.5 0 3.1-.6-.6-.5-.4-.6 0-.6 .4-.5-.5-.6 .3-.6 .4-.5 .5-.6-.3-.6 .2-.5 .2-.6-.1-.6 1-.5-.3-.6 .8-.6-.5-.5 .5-.6 .1-.6-.2-.5-.2-.6 .1-.6 0-.5-.3-.6-.4-.6 .5-.5-.5-.6 .5-.6 0-.5-.3-.6-.2-.6 .6-.5 .3-.6 0-.6-.4-.5 .6-.6-.3-.6-.2-.5 .1-.6-.1-.6-.4-.5 .3-.6 .8-.6-.9-.5 .6-.6-.4-.6 .2-.5-.7-.6 .5z"/><path class="b" d="M.9 13.5l.6-.7 .5 .9 .6-.8 .6 .7 .5-.7 .6 1.3 .6-1.3 .5 0 .6 .5 .6 .2 .5-.4 .6-2.2 .6 2.6 .5-.7 .6 .9 .6 0 .5-.3 .6-1.5 .6-3.4 .5 4.6 .6 0 .6-.9 .5 1 .6-.7 .6 .5 .5 .4 .6-3.8 .6-.2 .5 4 .6-.3 .6 .6 .5-.8 .6 .7 .6-.9 .5 .1 .6-.7 .6-.4 .5-6.1 .6 5.9 .6 .3 .5-.6 .6-.4 .6 .2 .5-3.4 .6 2.9 .6 0 .5-3.2 .6 1"/><path class="b" d="M.9 13.3l.6-.4 .5 .3 .6-.2 .6 .7 .5-.5 .6 .8 .6-.8 .5-.1 .6 .3 .6-.1 .5-.2 .6 .5 .6-.2 .5-.2 .6-2.4 .6 2.4 .5-.1 .6-.4 .6 .4 .5-.2 .6-.2 .6 0 .5 .4 .6-.6 .6 .4 .5 .7 .6-.6 .6 .3 .5-5.3 .6 5.8 .6-.3 .5-.7 .6 .8 .6-.6 .5 .1 .6-1.1 .6 .2 .5 0 .6-4.2 .6 3.8 .5-.1 .6-.4 .6-.3 .5 .4 .6-.6 .6 .1 .5 .7 .6-4.4"/><path class="k" d="M.8 16.1l0-7.8 1.4 .5 .4 3.9-1.1 .1 .5 .7 .6-.2 .6 .4 .5-.6 .6 .9 .6-.8 .5-.3 .6 .4 .6 .1 .5-.1 .6 .2 .6 .3 .5-.6 .6 .4 .6 0 .5-.3 .6-.6 .6 .2 .5 .3 .6 0 .6-.5 .5 .5 .6-.5 .6 .4 .5 .3 .6 0 .6-.1 .5 .2 .6 .2 .6-.1 .5-.5 .6 .5 .6-.8 .5 .3 .6-1 .6 .1 .5-.2 .6-.2 .6 .3 .5-.5 .6-.4 .6-.3 .5 .5 .6-.4 .6 0 .5 .4 .6 .6 0 3.2-.6-.1-.5-.3-.6 0-.6 .2-.5 0-.6 .3-.6-.1-.5 .2-.6 .1-.6 .4-.5-.1-.6 .2-.6-.1-.5 .2-.6 .1-.6 .2-.5-.2-.6 0-.6 0-.5 .1-.6-.1-.6 0-.5 0-.6 .1-.6-.1-.5 0-.6 .1-.6-.1-.5 0-.6 .1-.6 0-.5-.3-.6 .2-.6 0-.5 .1-.6-.3-.6 .4-.5-.2-.6 .1-.6 0-.5 .1-.6-.2-.6 0-.5 .1-.6 0-.6-.3-.5 .2-.7-.1z"/><use href="#f"/></g>
<g transform="translate(476.4 237.4)" color="#f00" stroke="none"><use href="#g"/><path class="c" d="M.9 5.3l.6 2.9 .5 .2 .6-1 .6 2.6 .5-.1 .6-2.4 .6 2 .5 .9 .6 1 .6-.1 .5-1.5 .6-.2 .6-1.8 .5 2 .6 .2 .6-1.1 .5 1.7 .6-1.2 .6 .1 .5 .3 .6-1.3 .6 3.3 .5-1.8 .6-.8 .6-.7 .5 2 .6-2.8 .6 2.1 .5-2.2 .6 1.2 .6-.5 .5-.4 .6-.8 .6 .2 .5-1.4 .6 .3 .6 .3 .5-1.2 .6 .8 .6-1.3 .5-1.1 .6 .4 .6 3.1 .5-5.3 .6 2.5 .6 .2 .5-.2 .6-.4 0 8.5-.6-.7-.5-.6-.6-.4-.6-.2-.5-.2-.6-.1-.6 .7-.5-.5-.6 .4-.6 .6-.5-.1-.6 .4-.6 .2-.5 .1-.6 .4-.6 .3-.5 .3-.6 .1-.6-.3-.5-.2-.6-.4-.6 .5-.5 .2-.6 .2-.6 .1-.5 .3-.6-.4-.6 .1-.5-.4-.6 .8-.6-.8-.5 .6-.6-.4-.6 .2-.5-.3-.6 .3-.6-.1-.5 .4-.6-.3-.6 .1-.5-1-.6 .3-.6 .7-.5 .1-.6 .1-.6-1-.5 1-.6-.7z"/><path class="t" d="M.9 10.4l.6 1.2 .5-1.1 .6 .9 .6 .4 .5-.3 .6-.9 .6 .3 .5 .7 .6 .1 .6 .8 .5-.6 .6-.2 .6-.6 .5 .8 .6-.9 .6 .4 .5 .4 .6-.3 .6-.3 .5 .6 .6-.5 .6 1.2 .5-.7 .6-.2 .6-.3 .5 .1 .6-1.1 .6 .6 .5-.1 .6 .2 .6-.1 .5-.5 .6-.6 .6-.4 .5-.4 .6-.6 .6-.2 .5-.8 .6-.3 .6-1 .5 .1 .6-.3 .6 .7 .5-1 .6 1 .6 .3 .5 1.4 .6 .1 0 4.1-.6-.7-.5-.6-.6-.4-.6-.2-.5-.2-.6-.1-.6 .7-.5-.5-.6 .4-.6 .6-.5-.1-.6 .4-.6 .2-.5 .1-.6 .4-.6 .3-.5 .3-.6 .1-.6-.3-.5-.2-.6-.4-.6 .5-.5 .2-.6 .2-.6 .1-.5 .3-.6-.4-.6 .1-.5-.4-.6 .8-.6-.8-.5 .6-.6-.4-.6 .2-.5-.3-.6 .3-.6-.1-.5 .4-.6-.3-.6 .1-.5-1-.6 .3-.6 .7-.5 .1-.6 .1-.6-1-.5 1-.6-.7z"/><path class="b" d="M.9 13.1l.6 .6 .5-1.1 .6 1.2 .6-.3 .5-.3 .6-.8 .6-.3 .5 1.3 .6-.1 .6 .4 .5-.6 .6 0 .6-.3 .5 .4 .6 0 .6 .4 .5-4.8 .6 5 .6-1 .5 .5 .6-.1 .6 .2 .5-3.1 .6 3.1 .6-5.3 .5 4.3 .6 0 .6-4.1 .5 4.8 .6-.3 .6 .2 .5-.4 .6 0 .6-1.2 .5 .3 .6 .2 .6-1.2 .5 .5 .6-4.9 .6 3.9 .5 .7 .6-.4 .6-.3 .5 .3 .6-6.1 .6 6.2 .5 1.3 .6 .7"/><path class="b" d="M.9 12.9l.6 .8 .5-1.2 .6 .6 .6 .5 .5-5.2 .6 4.2 .6-.1 .5 .8 .6-.7 .6 1.1 .5-.7 .6-.4 .6 .6 .5 .3 .6-.5 .6 .3 .5-.2 .6 .5 .6-1.1 .5 .4 .6 .4 .6 .2 .5-.1 .6-.9 .6 0 .5 0 .6-.2 .6 .2 .5-5.7 .6 6.2 .6-6.8 .5 6.7 .6-.3 .6-1.1 .5-5.8 .6 6.3 .6-4.7 .5-1.8 .6 5.4 .6-6 .5 6.2 .6-.7 .6 .2 .5 .2 .6-.3 .6 .4 .5 1 .6 .1"/><path class="k" d="M.8 16.1l0-8.9 1.4 .5 .4 5-1.1 .9 .5-1 .6 1 .6-.1 .5-.1 .6-.7 .6-.3 .5 1 .6-.1 .6 .3 .5-.4 .6 .1 .6-.3 .5 .3 .6-.2 .6 .4 .5-.6 .6 .8 .6-.8 .5 .4 .6-.1 .6 .4 .5-.3 .6-.1 .6-.2 .5-.2 .6-.5 .6 .4 .5 .2 .6 .3 .6-.1 .5-.3 .6-.3 .6-.4 .5-.1 .6-.2 .6-.4 .5 .1 .6-.6 .6-.4 .5 .5 .6-.7 .6 .1 .5 .2 .6 .2 .6 .4 .5 .6 .6 .7 0 3.2-.6-.3-.5-.3-.6-.2-.6 0-.5-.2-.6-.1-.6 .3-.5 0-.6 .1-.6 .1-.5 .2-.6 .1-.6 .4-.5-.1-.6 .2-.6 .1-.5 .2-.6-.1-.6 .1-.5 0-.6 0-.6-.1-.5 .1-.6 .1-.6 0-.5 0-.6 0-.6-.1-.5-.1-.6 .2-.6 0-.5 0-.6 0-.6-.2-.5 .4-.6-.2-.6-.1-.5 0-.6-.1-.6 .1-.5-.1-.6 .2-.6-.1-.5 0-.6 .2-.6-.1-.5 0-.7-.2z"/><use href="#f"/></g>
<g transform="translate(65.2 264.4)" color="#f00" stroke="none"><use href="#g"/><path class="c" d="M.9 8.7l.6-3.6 .5 2.9 .6 .7 .6-1.1 .5 1 .6-1.1 .6-.3 .5 1.8 .6 1.3 .6-3.2 .5 2.6 .6-1.4 .6-1.2 .5 3.3 .6-1.6 .6-1.7 .5 .9 .6 .6 .6-.9 .5 .8 .6-1.1 .6-1.5 .5 0 .6 1.5 .6 1.3 .5-2.9 .6 1.1 .6-1.6 .5-1.8 .6 1.8 .6 1.8 .5-2.7 .6 2 .6 1.2 .5-1.6 .6 2.2 .6-1.4 .5 4.4 .6-2.4 .6-.7 .5 2.8 .6-2.1 .6 1.1 .5-.3 .6-1.2 .6 2.1 .5 0 .6-1.9 0 4.1-.6 .4-.5 .3-.6 0-.6-.1-.5 .4-.6-.4-.6 0-.5-.2-.6-.2-.6 .3-.5-.2-.6-.6-.6-.7-.5 .4-.6 .2-.6-1.6-.5 .1-.6-.4-.6-.5-.5 .2-.6 .2-.6 0-.5 .2-.6-.1-.6 .1-.5 .4-.6 0-.6 .3-.5 0-.6 .5-.6-.2-.5 .5-.6 .2-.6 .7-.5-.7-.6 .1-.6 .7-.5-.1-.6-.3-.6 .6-.5-.1-.6 .1-.6-.2-.5 .2-.6-.8-.6 .8-.5-.4-.6 .4z"/><path class="t" d="M.9 11.3l.6-1 .5 1 .6-.5 .6 .2 .5 0 .6-.3 .6 0 .5 .7 .6-.9 .6-.1 .5 .8 .6-1.1 .6-.4 .5 .7 .6-.6 .6-1 .5-.2 .6-.2 .6-.3 .5-.1 .6-1.2 .6-.1 .5-.3 .6 .4 .6 .3 .5-1.5 .6 .5 .6-.6 .5-.6 .6 .7 .6 .7 .5-.4 .6 2.9 .6 .3 .5-.6 .6 1.7 .6 .3 .5 1.5 .6-1 .6 .2 .5 .3 .6-.5 .6 1.3 .5-.5 .6-.8 .6 1.1 .5-.4 .6-.7 0 1.7-.6 .4-.5 .3-.6 0-.6-.1-.5 .4-.6-.4-.6 0-.5-.2-.6-.2-.6 .3-.5-.2-.6-.6-.6-.7-.5 .4-.6 .2-.6-1.6-.5 .1-.6-.4-.6-.5-.5 .2-.6 .2-.6 0-.5 .2-.6-.1-.6 .1-.5 .4-.6 0-.6 .3-.5 0-.6 .5-.6-.2-.5 .5-.6 .2-.6 .7-.5-.7-.6 .1-.6 .7-.5-.1-.6-.3-.6 .6-.5-.1-.6 .1-.6-.2-.5 .2-.6-.8-.6 .8-.5-.4-.6 .4z"/><path class="b" d="M.9 13.3l.6-.3 .5 .3 .6-.8 .6 .9 .5-.3 .6 .1 .6 .2 .5-.4 .6-.4 .6 .4 .5-.2 .6-1.2 .6 .6 .5 .6 .6-.5 .6-.4 .5-.3 .6 .1 .6-.3 .5-.5 .6 .1 .6 0 .5-.7 .6-.3 .6 .5 .5-.3 .6 .2 .6-.3 .5-5.5 .6 .1 .6 5.3 .5-5.7 .6 1.1 .6 6.1 .5 .4 .6 .7 .6 .2 .5 .2 .6 0 .6 0 .5 .4 .6 0 .6 .3 .5-.4 .6-.2 .6 .3 .5-.2 .6-.5"/><path class="b" d="M.9 12.7l.6-.5 .5 1.1 .6-1.1 .6 .8 .5-.2 .6 .2 .6-6.2 .5 6.4 .6-.5 .6 .4 .5 0 .6-.7 .6 0 .5 .7 .6-.8 .6-.1 .5-.9 .6 0 .6-.3 .5 .3 .6-.3 .6-.6 .5 0 .6-.6 .6 .9 .5-.9 .6-7.4 .6 7.8 .5-.6 .6 1 .6 .2 .5-.1 .6 1.8 .6-.5 .5-9.4 .6 9.6 .6 .8 .5-.1 .6 .2 .6 .2 .5-.4 .6 .6 .6 0 .5 0 .6 0 .6-.1 .5-.3 .6-.7"/><path class="k" d="M.8 16.1l0-8.8 1.4 .5 .4 4.9-1.1 .1 .5 .4 .6-.8 .6 .8 .5-.2 .6 .2 .6-.1 .5 .1 .6-.6 .6 .3 .5 .1 .6-.7 .6-.1 .5 .7 .6-.7 .6-.2 .5-.5 .6 .2 .6-.5 .5 0 .6-.3 .6 0 .5-.4 .6-.1 .6 .1 .5-.2 .6 0 .6-.2 .5-.2 .6 .5 .6 .4 .5-.1 .6 1.6 .6-.2 .5-.4 .6 .7 .6 .6 .5 .2 .6-.3 .6 .2 .5 .2 .6 0 .6 .4 .5-.4 .6 .1 .6 0 .5-.3 .6-.4 0 3.6-.6-.1-.5 0-.6-.2-.6 .4-.5-.2-.6 .2-.6-.1-.5-.1-.6-.1-.6 .1-.5-.3-.6-.1-.6-.1-.5-.1-.6-.3-.6-.3-.5-.2-.6-.4-.6 .1-.5-.1-.6 .2-.6-.1-.5 0-.6 .2-.6 0-.5 .2-.6 0-.6 .2-.5 .1-.6 0-.6 .1-.5 .2-.6 .2-.6 0-.5 .1-.6-.1-.6 .4-.5 0-.6-.1-.6 .1-.5 0-.6 .1-.6-.2-.5 0-.6 .1-.6 .1-.5 .1-.7-.2z"/><use href="#f"/></g>
<g transform="translate(106.3 264.4)" color="#f00" stroke="none"><use href="#g"/><path class="c" d="M.9 7.1l.6-1.6 .5 2.9 .6 .2 .6 1.3 .5-1.3 .6 1 .6-1.1 .5 .6 .6-.4 .6 .3 .5 .4 .6 .2 .6-1.5 .5 .2 .6 .3 .6-.6 .5 1.2 .6-1.2 .6-.1 .5-.3 .6 1.3 .6 0 .5-1.9 .6-1.7 .6 3 .5-1.2 .6-.8 .6 1.6 .5-.4 .6-.6 .6 0 .5 2.5 .6-1.8 .6 1.1 .5 1.1 .6-.2 .6 .7 .5-.6 .6-3.2 .6 3 .5-1 .6 2 .6-.3 .5-.2 .6 1 .6-.7 .5-.4 .6 1.1 0 2.2-.6-.1-.5 .2-.6-.3-.6 .3-.5 .5-.6-.4-.6-.5-.5-.4-.6 .6-.6 .1-.5 0-.6-.5-.6 0-.5-.4-.6-1.2-.6 0-.5-.2-.6-.3-.6-.8-.5 .3-.6-.5-.6 .7-.5 .7-.6-.5-.6 0-.5 .2-.6 1-.6-.4-.5 .5-.6-.5-.6 .7-.5 .8-.6 .2-.6-1.2-.5 .9-.6 .2-.6 .2-.5 .3-.6-.2-.6-.3-.5-.4-.6 .6-.6 .6-.5-.5-.6-.7-.6 .1-.5 .4-.6 .2z"/><path class="t" d="M.9 11l.6-.6 .5 .6 .6-.1 .6 .8 .5 .1 .6-.9 .6-.7 .5 .9 .6-.3 .6 .5 .5-.2 .6 0 .6-.5 .5-.8 .6 .8 .6-.6 .5-.3 .6-1.2 .6 .3 .5-.6 .6 .2 .6-.8 .5-1.2 .6 .1 .6 .9 .5-1 .6-.7 .6 .5 .5-.4 .6 .2 .6 .6 .5 1.5 .6-.4 .6 1.8 .5 1.3 .6 .1 .6 0 .5 .5 .6-1 .6 .4 .5 0 .6 .7 .6 .3 .5 .1 .6 0 .6-.2 .5-.2 .6 .1 0 1.6-.6-.1-.5 .2-.6-.3-.6 .3-.5 .5-.6-.4-.6-.5-.5-.4-.6 .6-.6 .1-.5 0-.6-.5-.6 0-.5-.4-.6-1.2-.6 0-.5-.2-.6-.3-.6-.8-.5 .3-.6-.5-.6 .7-.5 .7-.6-.5-.6 0-.5 .2-.6 1-.6-.4-.5 .5-.6-.5-.6 .7-.5 .8-.6 .2-.6-1.2-.5 .9-.6 .2-.6 .2-.5 .3-.6-.2-.6-.3-.5-.4-.6 .6-.6 .6-.5-.5-.6-.7-.6 .1-.5 .4-.6 .2z"/><path class="b" d="M.9 13.1l.6-.5 .5-.1 .6-.1 .6 1 .5-.3 .6 .1 .6-.8 .5 .6 .6 .1 .6 .5 .5-1.1 .6 .4 .6-.3 .5-.8 .6 1 .6 0 .5-.9 .6-.7 .6 .2 .5 0 .6 .4 .6-1.4 .5 .3 .6-.1 .6 .6 .5-.7 .6-1.5 .6 1.1 .5-.2 .6-3.5 .6 .1 .5 4.5 .6 .2 .6 .9 .5 .4 .6-.5 .6 1.2 .5-.4 .6-5.5 .6 5.2 .5 .7 .6 .1 .6 .5 .5-2.7 .6 1.6 .6 .7 .5-1.3 .6 1.3"/><path class="b" d="M.9 13.4l.6-.4 .5-.6 .6-.1 .6 .8 .5 .7 .6-.6 .6-.8 .5 .6 .6 .2 .6 .1 .5-.4 .6-.2 .6 .1 .5-1.1 .6 1.2 .6-.1 .5-.6 .6-1.4 .6 1.1 .5-.7 .6-1.8 .6 1.4 .5-.6 .6 .2 .6 .5 .5-6.8 .6 5.5 .6-6.5 .5 6.3 .6 .9 .6 .7 .5 0 .6 .3 .6-3.4 .5 4.9 .6-7.6 .6-2.5 .5 10.7 .6-.1 .6-.8 .5 .5 .6 .4 .6 .5 .5-.5 .6-.3 .6 .1 .5-.3 .6 .5"/><path class="k" d="M.8 16.1l0-7.6 1.4 .5 .4 3.7-1.1 .3 .5-.4 .6-.1 .6 .7 .5 .5 .6-.6 .6-.6 .5 .4 .6 .3 .6 .2 .5-.3 .6-.2 .6-.2 .5-.9 .6 1.2 .6-.2 .5-.8 .6-.7 .6 .5 .5-.5 .6 .4 .6-1 .5-.2 .6 0 .6 .5 .5-.7 .6-.7 .6 .5 .5-.3 .6 .8 .6 .3 .5 .2 .6 0 .6 1.2 .5 .4 .6 0 .6 .5 .5 0 .6-.1 .6-.6 .5 .4 .6 .5 .6 .4 .5-.5 .6-.3 .6 .3 .5-.2 .6 .1 0 3.1-.6-.1-.5 0-.6 .1-.6-.1-.5-.2-.6 .3-.6-.1-.5 0-.6 0-.6 0-.5-.2-.6-.1-.6-.2-.5-.1-.6-.2-.6-.5-.5-.2-.6-.3-.6 .1-.5 .2-.6-.2-.6 0-.5 .2-.6 .2-.6 .1-.5 .1-.6 0-.6 .1-.5 .2-.6 .1-.6 .1-.5 .1-.6 .1-.6 .1-.5 .1-.6 0-.6-.2-.5 .3-.6 0-.6-.2-.5 .2-.6 .2-.6 .1-.5-.2-.6 0-.6 0-.5 .2-.7-.3z"/><use href="#f"/></g>
<g transform="translate(147.4 264.4)" color="#f00" stroke="none"><use href="#g"/><path class="c" d="M.9 5.8l.6 3.4 .5-.8 .6 .9 .6 1 .5-2.8 .6 .9 .6-.9 .5 1.7 .6 .2 .6 1.7 .5-2.1 .6 .1 .6 1.6 .5 .7 .6-1.8 .6-.6 .5 .7 .6-.4 .6 .9 .5-2.6 .6 2.3 .6 .2 .5 .1 .6-1 .6 .1 .5-.8 .6 1.9 .6-1.3 .5-.8 .6 .5 .6 .1 .5-1.5 .6-.8 .6 1.6 .5 .1 .6 .3 .6 2.5 .5-6.8 .6 4.4 .6-1.4 .5 .7 .6 0 .6-.7 .5 2.4 .6 .1 .6-1.1 .5 0 .6 2.7 0 1.9-.6-.3-.5-.5-.6 .6-.6-.1-.5-.5-.6 .4-.6-.4-.5 0-.6-.1-.6-.2-.5 .5-.6 .1-.6-1.3-.5 .4-.6 .1-.6 .1-.5 1.1-.6-.8-.6 .3-.5-.2-.6 .3-.6 .1-.5 .5-.6-.3-.6-.1-.5 .2-.6-.5-.6-.4-.5 .7-.6-.4-.6 .3-.5 .4-.6 .2-.6-.3-.5-.1-.6 .3-.6-.3-.5 .2-.6 .7-.6-.9-.5-.3-.6 .4-.6 .2-.5-.4-.6 .7-.6-.4-.5 .1-.6-.4z"/><path class="t" d="M.9 10.7l.6 1 .5-.3 .6 .6 .6-.4 .5-.3 .6 .1 .6-.7 .5 .8 .6 .7 .6 0 .5-.7 .6 .1 .6-.1 .5 .3 .6-.1 .6 0 .5-.4 .6-.3 .6 .1 .5-1 .6 1.1 .6-.1 .5 .5 .6-.4 .6 .5 .5-1 .6 .5 .6-1.4 .5 .1 .6 .4 .6 .4 .5-1.1 .6-.7 .6 .6 .5-.2 .6 .1 .6 1.4 .5-2 .6 .8 .6 .2 .5 .4 .6 .4 .6-.5 .5 .7 .6 .4 .6-.6 .5 .7 .6 .3 0 1.7-.6-.3-.5-.5-.6 .6-.6-.1-.5-.5-.6 .4-.6-.4-.5 0-.6-.1-.6-.2-.5 .5-.6 .1-.6-1.3-.5 .4-.6 .1-.6 .1-.5 1.1-.6-.8-.6 .3-.5-.2-.6 .3-.6 .1-.5 .5-.6-.3-.6-.1-.5 .2-.6-.5-.6-.4-.5 .7-.6-.4-.6 .3-.5 .4-.6 .2-.6-.3-.5-.1-.6 .3-.6-.3-.5 .2-.6 .7-.6-.9-.5-.3-.6 .4-.6 .2-.5-.4-.6 .7-.6-.4-.5 .1-.6-.4z"/><path class="b" d="M.9 13.1l.6 .5 .5-.4 .6 .1 .6-.2 .5-.2 .6 .1 .6-.1 .5 .1 .6 .8 .6-1.1 .5 .1 .6 .3 .6 .1 .5 .2 .6 .3 .6-.3 .5-.3 .6-1 .6 .9 .5-1.2 .6 .7 .6 .8 .5-.6 .6 .2 .6 .1 .5-.1 .6 0 .6-.3 .5-.1 .6-4.2 .6-4.5 .5 8.3 .6-8.6 .6 8.3 .5-.2 .6 1.2 .6-5.2 .5 4.4 .6 .1 .6 .5 .5-9.4 .6 9.9 .6-.6 .5 .3 .6 .2 .6-.5 .5 .4 .6 .4"/><path class="b" d="M.9 13.2l.6-.3 .5 .3 .6 .5 .6-.7 .5 .6 .6-.9 .6 .3 .5-.2 .6 1.3 .6-7.8 .5 6.7 .6 .6 .6-.8 .5 .2 .6 .7 .6-.4 .5-.3 .6-.2 .6-.1 .5-.2 .6 .1 .6 .4 .5-.3 .6 .4 .6 .1 .5-.3 .6-.1 .6-.2 .5-.7 .6 .3 .6-5 .5 .9 .6-.7 .6 .3 .5 3.9 .6-6.4 .6 7.1 .5 .2 .6-.1 .6-.1 .5 .1 .6-4 .6 4.1 .5 .4 .6 .4 .6-.9 .5 .6 .6-.4"/><path class="k" d="M.8 16.1l0-8.8 1.4 .4 .4 5-1.1 .7 .5-.1 .6 .4 .6-.7 .5 .4 .6-.2 .6-.4 .5 .3 .6 .9 .6-.7 .5-.2 .6 .3 .6-.3 .5 .1 .6 .3 .6-.2 .5-.4 .6-.3 .6 .4 .5-.7 .6 .4 .6 .5 .5-.2 .6 .1 .6 .3 .5-.5 .6-.1 .6-.3 .5 .2 .6-.3 .6 .8 .5-1.1 .6-.1 .6-.1 .5-.4 .6 1.3 .6-.1 .5-.5 .6 .2 .6 .1 .5 0 .6 .4 .6-.4 .5 .5 .6 .1 .6-.6 .5 .5 .6 .3 0 2.9-.6 0-.5-.1-.6 0-.6-.2-.5 0-.6 0-.6-.1-.5-.2-.6 .1-.6 0-.5 0-.6-.1-.6-.1-.5 0-.6 .2-.6 .1-.5 .1-.6-.1-.6 .2-.5-.1-.6 .2-.6-.1-.5 .3-.6-.2-.6 .2-.5-.1-.6 .1-.6-.3-.5 .2-.6-.1-.6 .2-.5-.1-.6 .1-.6 0-.5 0-.6 .1-.6-.2-.5 0-.6 .1-.6-.1-.5 .2-.6-.2-.6 0-.5 0-.6 .1-.6-.2-.5 .2-.7-.2z"/><use href="#f"/></g>
<g transform="translate(188.6 264.4)" color="#f00" stroke="none"><use href="#g"/><path class="c" d="M.9 7l.6 3.2 .5-1.8 .6-.8 .6 1.3 .5 1.6 .6-2.3 .6 .2 .5 1.2 .6-.5 .6 .3 .5-1 .6 2.5 .6-1.3 .5-.1 .6 .5 .6 .8 .5-.8 .6-1.6 .6 .9 .5-1.6 .6 3.4 .6-1.7 .5-.3 .6-.7 .6 1.4 .5-.5 .6-.5 .6-1.4 .5 .9 .6-1.6 .6 1.9 .5-3.2 .6 1.8 .6 1.5 .5-2.3 .6 .4 .6 3.4 .5-1.7 .6 .3 .6 1.7 .5-2.9 .6 3.6 .6-1.5 .5-.7 .6 .5 .6 1.2 .5 .1 .6-.8 0 2.6-.6 .5-.5-.1-.6-.1-.6-.1-.5 .4-.6-.1-.6-.3-.5-.3-.6 .2-.6 0-.5-.1-.6-.8-.6-.7-.5 .5-.6-.1-.6-.4-.5 0-.6 .1-.6-.5-.5 1.1-.6-.3-.6 .4-.5 .3-.6 .1-.6 0-.5 .5-.6 0-.6-.1-.5 .2-.6-.2-.6 .9-.5-.5-.6 .1-.6-.4-.5 .8-.6-.6-.6-.1-.5 .3-.6 .3-.6-.4-.5 .4-.6-.7-.6 .1-.5-.3-.6 .2-.6 .9-.5-.1-.6-.8z"/><path class="t" d="M.9 10.5l.6 1.7 .5-.5 .6-.8 .6-.4 .5 1.1 .6-.6 .6 .6 .5-.7 .6 .8 .6-.3 .5-.3 .6 .9 .6-.3 .5-.6 .6 .5 .6 .1 .5 .1 .6-1 .6 .4 .5-.7 .6 .3 .6 0 .5-.8 .6-.3 .6 .4 .5-.6 .6-.5 .6-.7 .5-.3 .6-.5 .6 .6 .5-.6 .6 .7 .6 .5 .5-1 .6 .9 .6 1.2 .5 .4 .6-.3 .6 .9 .5-.4 .6 1.3 .6-.5 .5-.3 .6 .5 .6 .2 .5 .2 .6-.5 0 1.3-.6 .5-.5-.1-.6-.1-.6-.1-.5 .4-.6-.1-.6-.3-.5-.3-.6 .2-.6 0-.5-.1-.6-.8-.6-.7-.5 .5-.6-.1-.6-.4-.5 0-.6 .1-.6-.5-.5 1.1-.6-.3-.6 .4-.5 .3-.6 .1-.6 0-.5 .5-.6 0-.6-.1-.5 .2-.6-.2-.6 .9-.5-.5-.6 .1-.6-.4-.5 .8-.6-.6-.6-.1-.5 .3-.6 .3-.6-.4-.5 .4-.6-.7-.6 .1-.5-.3-.6 .2-.6 .9-.5-.1-.6-.8z"/><path class="b" d="M.9 13l.6 .6 .5 .3 .6-1.1 .6-.6 .5 .4 .6 .2 .6 .2 .5 .1 .6 .4 .6-.5 .5 0 .6-.2 .6 .9 .5-.9 .6 .5 .6-.3 .5 .6 .6-1 .6 .1 .5-.1 .6-2.2 .6 2.3 .5-.5 .6 .3 .6-3.3 .5 2.9 .6-.5 .6 .2 .5-1.9 .6 1.5 .6-.1 .5-6.3 .6 6.6 .6 .2 .5-.9 .6 .9 .6 1 .5 0 .6 0 .6-.5 .5 .5 .6 .1 .6-.1 .5 .2 .6-.1 .6 0 .5 .2 .6-.5"/><path class="b" d="M.9 12.8l.6 .9 .5 .1 .6-.7 .6-.3 .5 .2 .6-.4 .6 .6 .5-.2 .6 .6 .6-.9 .5 0 .6-.1 .6 1 .5-.8 .6 .2 .6-.2 .5 .6 .6-1.4 .6 1 .5-.4 .6-.1 .6 .5 .5-.7 .6 0 .6-.4 .5 .1 .6-.3 .6 .3 .5-1 .6-4.8 .6 4.7 .5 0 .6 .7 .6 .2 .5-4.4 .6 4.5 .6 .8 .5-4.4 .6 .8 .6 3.3 .5-4 .6 4.6 .6 .2 .5-.1 .6 0 .6-.7 .5 .3 .6-.4"/><path class="k" d="M.8 16.1l0-8.1 1.4 .5 .4 4.2-1.1 .9 .5 .1 .6-.9 .6-.2 .5 .3 .6-.1 .6 .7 .5-.4 .6 .4 .6-.3 .5-.3 .6 .1 .6 .6 .5-.8 .6 .4 .6-.1 .5 .5 .6-.9 .6 .2 .5-.2 .6 .1 .6 0 .5-.5 .6 0 .6-.1 .5-.3 .6-.4 .6 .3 .5-1.1 .6 .5 .6-.1 .5 0 .6 .4 .6 .1 .5-.5 .6 .7 .6 .8 .5 .1 .6 0 .6-.2 .5 .3 .6 .3 .6 .1 .5-.4 .6 .1 .6 .1 .5 .1 .6-.5 0 3.7-.6 0-.5-.1-.6 0-.6-.1-.5 0-.6-.2-.6-.1-.5-.1-.6-.1-.6 .1-.5-.1-.6 0-.6-.2-.5 .1-.6-.4-.6 0-.5 0-.6 .2-.6-.1-.5 .2-.6 .1-.6-.1-.5 .3-.6-.1-.6 .1-.5 .2-.6 0-.6 0-.5 .2-.6-.1-.6 .3-.5-.2-.6 0-.6 0-.5 .3-.6-.3-.6 .1-.5 .2-.6-.2-.6 .3-.5-.4-.6 .1-.6-.1-.5 .1-.6-.1-.6 .3-.5-.2-.7-.1z"/><use href="#f"/></g>
<g transform="translate(229.7 264.4)" color="#f00" stroke="none"><use href="#g"/><path class="c" d="M.9 7l.6-.6 .5 3.2 .6-.5 .6 .8 .5-1.3 .6 2 .6-1.2 .5-.3 .6-1 .6 1.7 .5 1 .6-2.2 .6 .6 .5-.2 .6 1.5 .6-.4 .5 .9 .6 .7 .6-1.6 .5-.9 .6 .7 .6-.4 .5-.3 .6-1.1 .6 2.4 .5-1.4 .6 1.4 .6-1.4 .5-2 .6 1.3 .6-2.7 .5 2.4 .6-2.4 .6 2.6 .5-3 .6 3.5 .6-.5 .5 .3 .6-2.2 .6 1.8 .5 1 .6 .6 .6-2.4 .5 1.9 .6-.2 .6 .6 .5 1.6 .6-.4 0 2.3-.6 .6-.5-.6-.6-.1-.6-.9-.5 0-.6 .4-.6-.8-.5 .6-.6-1-.6-.1-.5-.3-.6-.7-.6 .5-.5 .2-.6-.8-.6 .3-.5-.1-.6 .4-.6 .4-.5 .4-.6 .4-.6-.2-.5 .6-.6-.3-.6 .6-.5-.3-.6 .6-.6 0-.5 .2-.6 0-.6 .3-.5 .1-.6-.2-.6-.7-.5 .7-.6 .2-.6-.4-.5-.1-.6 .5-.6 .2-.5-1-.6 .1-.6 .3-.5-.5-.6 .4-.6 .5-.5 .1-.6-.6z"/><path class="t" d="M.9 10.9l.6 .5 .5 .7 .6-.9 .6-.5 .5 .8 .6 0 .6-.1 .5 .8 .6-1.1 .6 .5 .5 .5 .6-.3 .6 0 .5-1.1 .6 1.4 .6-.2 .5 .4 .6-.1 .6-.4 .5-.5 .6-.1 .6-.7 .5 .3 .6-.8 .6 .7 .5-1.3 .6 .5 .6-.9 .5-1 .6-.4 .6-1.2 .5 .7 .6-.9 .6 1.1 .5-1.1 .6 1.1 .6 .2 .5 .8 .6-.3 .6 1.6 .5-.7 .6 1.8 .6-.9 .5 .8 .6 .6 .6 .4 .5 .8 .6-.7 0 1.5-.6 .6-.5-.6-.6-.1-.6-.9-.5 0-.6 .4-.6-.8-.5 .6-.6-1-.6-.1-.5-.3-.6-.7-.6 .5-.5 .2-.6-.8-.6 .3-.5-.1-.6 .4-.6 .4-.5 .4-.6 .4-.6-.2-.5 .6-.6-.3-.6 .6-.5-.3-.6 .6-.6 0-.5 .2-.6 0-.6 .3-.5 .1-.6-.2-.6-.7-.5 .7-.6 .2-.6-.4-.5-.1-.6 .5-.6 .2-.5-1-.6 .1-.6 .3-.5-.5-.6 .4-.6 .5-.5 .1-.6-.6z"/><path class="b" d="M.9 13.4l.6 .1 .5 .3 .6-7.3 .6 6.2 .5-.1 .6 .3 .6-.1 .5 .8 .6 .2 .6-.5 .5 .1 .6 .4 .6-.8 .5-.4 .6 .9 .6-.1 .5 .1 .6-.5 .6 .4 .5-.1 .6-.7 .6-.1 .5 .4 .6-.7 .6-2.6 .5 1.7 .6 .5 .6-.6 .5 .1 .6-.3 .6-.9 .5 .5 .6-.2 .6 .2 .5-.5 .6-6.1 .6 6.6 .5 .4 .6-4.9 .6 6.2 .5-1.1 .6-4.5 .6 5.7 .5-.1 .6 .7 .6-.1 .5 1 .6-.7"/><path class="b" d="M.9 13.3l.6 0 .5-.3 .6 .2 .6-.4 .5 .4 .6-.1 .6-.6 .5 1.4 .6-.5 .6-.4 .5 0 .6 .5 .6-6 .5 5.3 .6 .7 .6 .3 .5-.5 .6-.4 .6 .3 .5-.3 .6-.4 .6-.1 .5 .2 .6-.7 .6 .5 .5-.6 .6 .3 .6-1.1 .5 .5 .6-5 .6 3.3 .5 .3 .6-6 .6 5.9 .5 .9 .6-5.8 .6 6 .5 .2 .6 0 .6 1.2 .5-.9 .6 1 .6-.2 .5-.3 .6 1.1 .6-.4 .5 1.2 .6-.8"/><path class="k" d="M.8 16.1l0-8.3 1.4 .5 .4 4.4-1.1 1 .5-.1 .6-.5 .6-.4 .5 .5 .6-.3 .6-.1 .5 1 .6-.2 .6-.5 .5 .1 .6 .4 .6-.2 .5-.7 .6 .7 .6 .2 .5-.1 .6-.3 .6 0 .5-.2 .6 0 .6-.6 .5 .3 .6-.6 .6 .3 .5-.6 .6 .2 .6-.4 .5-.4 .6-.4 .6-.4 .5 .1 .6-.3 .6 .8 .5-.2 .6-.5 .6 .7 .5 .3 .6 .1 .6 1 .5-.6 .6 .8 .6-.4 .5 0 .6 .9 .6 .1 .5 .6 .6-.6 0 3.1-.6 0-.5-.2-.6-.1-.6-.1-.5 .2-.6-.3-.6-.2-.5-.1-.6-.1-.6-.2-.5-.3-.6-.1-.6-.2-.5 .2-.6-.1-.6 .1-.5 0-.6 .1-.6 .3-.5 .2-.6 .1-.6 0-.5 .1-.6 .2-.6 .2-.5 0-.6-.1-.6 .3-.5 .1-.6-.2-.6 0-.5 .2-.6 0-.6-.1-.5-.1-.6 .2-.6-.1-.5 0-.6 .1-.6 0-.5-.1-.6 .1-.6-.1-.5-.1-.6 .1-.6-.2-.5 .2-.7-.1z"/><use href="#f"/></g>
<g transform="translate(270.8 264.4)" color="#f00" stroke="none"><use href="#g"/><path class="c" d="M.9 7.6l.6 1.1 .5-.6 .6 1.1 .6-1.9 .5 1.8 .6 2.2 .6-.5 .5 .2 .6 .6 .6-.5 .5-.6 .6-1.7 .6 2.6 .5-3.3 .6 1.3 .6 1.2 .5-1.2 .6 .8 .6 .8 .5-.1 .6-2 .6 2.1 .5-1.7 .6 .7 .6-1.4 .5 .7 .6-.4 .6 1.3 .5-3.2 .6 .8 .6 0 .5 .2 .6-.4 .6 .8 .5-.7 .6 .2 .6 .6 .5-2.3 .6 1.3 .6 .6 .5 .4 .6 2.2 .6-2.1 .5 1.6 .6-.8 .6-1 .5 .8 .6 2 0 1.5-.6 .3-.5-.7-.6 1-.6-.5-.5-.4-.6 0-.6 0-.5 0-.6-.6-.6 0-.5 .1-.6-.7-.6 .5-.5 .4-.6-.4-.6 .5-.5-.9-.6 .8-.6-.7-.5 1-.6-.1-.6 .1-.5 .4-.6 0-.6 0-.5 .2-.6-.2-.6 .2-.5 0-.6 .1-.6 .1-.5 .9-.6-.8-.6-.9-.5 1-.6-.2-.6 .2-.5 0-.6-.2-.6-.3-.5 .9-.6-.5-.6 .1-.5-.8-.6 .6-.6 0-.5 0-.6 0z"/><path class="t" d="M.9 11.2l.6-.3 .5 .5 .6 .3 .6-1 .5 1 .6 .5 .6 .2 .5-.7 .6 .6 .6-.3 .5-.5 .6-.1 .6 .8 .5-1.5 .6 1 .6 1 .5-1.1 .6-.3 .6 .3 .5 .1 .6-1 .6 1 .5-1.5 .6 1 .6-.6 .5-.4 .6-.5 .6 .5 .5-1.7 .6 .5 .6-.9 .5 1.1 .6-.7 .6 .6 .5-.5 .6-.1 .6 .8 .5-.5 .6-.2 .6 1.1 .5 .4 .6 .3 .6-.1 .5 1 .6 0 .6-1.1 .5 .4 .6 .3 0 1.8-.6 .3-.5-.7-.6 1-.6-.5-.5-.4-.6 0-.6 0-.5 0-.6-.6-.6 0-.5 .1-.6-.7-.6 .5-.5 .4-.6-.4-.6 .5-.5-.9-.6 .8-.6-.7-.5 1-.6-.1-.6 .1-.5 .4-.6 0-.6 0-.5 .2-.6-.2-.6 .2-.5 0-.6 .1-.6 .1-.5 .9-.6-.8-.6-.9-.5 1-.6-.2-.6 .2-.5 0-.6-.2-.6-.3-.5 .9-.6-.5-.6 .1-.5-.8-.6 .6-.6 0-.5 0-.6 0z"/><path class="b" d="M.9 13l.6 .3 .5-.1 .6 0 .6-.5 .5 .8 .6-.1 .6 .5 .5-6.4 .6 5.9 .6-.7 .5 0 .6 .2 .6 .6 .5-1.1 .6 1.1 .6 .3 .5-4.9 .6 4.3 .6-.3 .5 .1 .6-.3 .6 .5 .5-.5 .6-.1 .6 .3 .5-.6 .6 .1 .6 .2 .5-1.1 .6 .5 .6-.7 .5 .7 .6-.4 .6 .6 .5-.3 .6-1 .6 1.2 .5-4.1 .6 3.1 .6 1.6 .5-.5 .6 .2 .6 .1 .5-.3 .6 1.1 .6-.9 .5 .7 .6-.5"/><path class="b" d="M.9 13l.6 .2 .5-.6 .6 .8 .6-.8 .5 1 .6-.7 .6 1 .5-.8 .6 0 .6 .5 .5-.5 .6 .2 .6-4.1 .5 3 .6 .9 .6 .5 .5-.5 .6-.4 .6 .3 .5 .1 .6-.2 .6-.2 .5 .2 .6-.4 .6 .2 .5-.9 .6 .3 .6 .1 .5-3.3 .6 3.2 .6-.9 .5 .7 .6-.3 .6 .7 .5-.4 .6-.7 .6 .6 .5 .1 .6-.5 .6 .6 .5 .3 .6 .1 .6 0 .5 .5 .6 .4 .6-1 .5 .8 .6-.5"/><path class="k" d="M.8 16.1l0-7.8 1.4 .4 .4 4-1.1 .5 .5 0 .6 0 .6-.6 .5 .8 .6-.1 .6 .5 .5-.9 .6 .3 .6 .2 .5 0 .6-.2 .6 .2 .5-1 .6 .9 .6 .8 .5-.9 .6-.1 .6-.1 .5 0 .6-.2 .6 .2 .5-.2 .6 0 .6 0 .5-.4 .6-.1 .6 .1 .5-1 .6 .7 .6-.8 .5 .9 .6-.5 .6 .4 .5-.4 .6-.5 .6 .7 .5-.1 .6 0 .6 .6 .5 0 .6 0 .6 0 .5 .4 .6 .5 .6-1 .5 .7 .6-.3 0 3.3-.6 .3-.5-.1-.6-.3-.6 .2-.5-.1-.6 0-.6-.4-.5 .2-.6-.2-.6 0-.5-.2-.6 0-.6 .1-.5-.1-.6 0-.6 0-.5 .1-.6-.1-.6 .1-.5 .2-.6 0-.6-.1-.5 .2-.6 .1-.6-.1-.5 .1-.6 .2-.6 0-.5 0-.6 .1-.6 0-.5 0-.6 0-.6-.1-.5 .2-.6-.2-.6 .2-.5 0-.6 .1-.6 0-.5-.2-.6-.1-.6 .1-.5 .1-.6-.2-.6 .2-.5-.2-.7 0z"/><use href="#f"/></g>
<g transform="translate(311.9 264.4)" color="#f00" stroke="none"><use href="#g"/><path class="c" d="M.9 6.2l.6 2.8 .5-2.8 .6 1.7 .6 1.4 .5 1.1 .6-.9 .6 .1 .5 0 .6-.6 .6 .1 .5-1.2 .6 1.3 .6 .7 .5-.5 .6 1.1 .6 .4 .5-1.1 .6 1.2 .6-1.8 .5-.4 .6-.3 .6 .7 .5 .3 .6-.1 .6-1.2 .5 2.2 .6-.6 .6-2.3 .5 1.9 .6-2.2 .6-.5 .5 2.6 .6-2.1 .6 1 .5-.6 .6 2.1 .6-1.3 .5-2.4 .6 2 .6 .7 .5 1.4 .6-.4 .6-1 .5 .6 .6-1.3 .6-.4 .5 2.2 .6 .5 0 3.1-.6-.2-.5-.3-.6-.3-.6 .3-.5-.3-.6-.1-.6-.4-.5 0-.6-.3-.6-.5-.5 .5-.6-.5-.6 .5-.5-.9-.6 .6-.6 .1-.5 .1-.6 .1-.6-.3-.5 .8-.6-.1-.6 .4-.5 0-.6 .6-.6-.8-.5-.1-.6 1-.6-.3-.5 0-.6 .1-.6-.1-.5 .2-.6 0-.6-.1-.5 .1-.6 .3-.6-.6-.5 .2-.6 .4-.6-.1-.5-.4-.6 0-.6-.2-.5 .2-.6-.3-.6 .4-.5 .2-.6 .4z"/><path class="t" d="M.9 11.3l.6 .3 .5-.8 .6 .2 .6 .4 .5-.6 .6 .9 .6-.1 .5 .3 .6 0 .6-.4 .5-.5 .6 .5 .6 0 .5 .2 .6 .2 .6 .2 .5-.6 .6 .5 .6-1.2 .5 .5 .6-.1 .6-.4 .5-.2 .6 .7 .6-1.4 .5 .7 .6-.3 .6-.7 .5-.3 .6-.6 .6-.5 .5 .4 .6-.3 .6-.4 .5 .7 .6-.6 .6 1 .5-1.1 .6 .6 .6 1.2 .5 .2 .6 .2 .6 .3 .5 .6 .6-.5 .6 .1 .5 .6 .6 .5 0 1.7-.6-.2-.5-.3-.6-.3-.6 .3-.5-.3-.6-.1-.6-.4-.5 0-.6-.3-.6-.5-.5 .5-.6-.5-.6 .5-.5-.9-.6 .6-.6 .1-.5 .1-.6 .1-.6-.3-.5 .8-.6-.1-.6 .4-.5 0-.6 .6-.6-.8-.5-.1-.6 1-.6-.3-.5 0-.6 .1-.6-.1-.5 .2-.6 0-.6-.1-.5 .1-.6 .3-.6-.6-.5 .2-.6 .4-.6-.1-.5-.4-.6 0-.6-.2-.5 .2-.6-.3-.6 .4-.5 .2-.6 .4z"/><path class="b" d="M.9 13.6l.6-.2 .5-.7 .6 .1 .6-.3 .5 .1 .6 .6 .6-2.3 .5 2.2 .6 .2 .6-.1 .5-6.8 .6 7.4 .6-.9 .5 .2 .6 .1 .6-.3 .5-.2 .6 .4 .6-.1 .5 .1 .6 0 .6-.7 .5-.1 .6 .5 .6-.6 .5 .5 .6-.6 .6 .4 .5-1.2 .6 .6 .6-.2 .5-.1 .6 .1 .6-.8 .5 .6 .6-.1 .6 .5 .5-.4 .6 .2 .6 .6 .5-1 .6 1.3 .6-.4 .5 .6 .6-6.1 .6-.4 .5 6.8 .6-5.4"/><path class="b" d="M.9 13.5l.6-5.1 .5 4.9 .6-.8 .6 .7 .5-.3 .6 .3 .6-.2 .5 .6 .6 .2 .6-.8 .5-.4 .6 .6 .6 0 .5 .1 .6-.3 .6 0 .5 .1 .6 0 .6-.1 .5-.1 .6 .2 .6-.9 .5-.6 .6-5.5 .6 6.1 .5 .4 .6-.2 .6-5.5 .5 4.7 .6 .1 .6-.1 .5-.1 .6 0 .6-.4 .5 .9 .6-.6 .6 .3 .5-.4 .6 .5 .6-8.5 .5 8.8 .6-7.8 .6 8.2 .5 .3 .6-.2 .6 .5 .5 .3 .6-4.5"/><path class="k" d="M.8 16.1l0-8.2 1.4 .5 .4 4.3-1.1 .6 .5-.2 .6-.4 .6 .3 .5-.2 .6 .2 .6 0 .5 .4 .6 .1 .6-.4 .5-.2 .6 .6 .6-.3 .5-.1 .6 .1 .6 0 .5-.2 .6 .1 .6-.1 .5 0 .6 .3 .6-1 .5 .1 .6 .8 .6-.6 .5 0 .6-.4 .6 .1 .5-.8 .6 .3 .6-.1 .5-.1 .6-.1 .6-.6 .5 .9 .6-.5 .6 .5 .5-.5 .6 .5 .6 .3 .5 0 .6 .4 .6 .1 .5 .3 .6-.3 .6 .3 .5 .3 .6 .2 0 2.8-.6-.1-.5-.1-.6-.1-.6 0-.5-.2-.6 0-.6 0-.5 0-.6-.3-.6-.2-.5 .1-.6 0-.6-.2-.5 .1-.6-.2-.6 .2-.5 0-.6 .4-.6-.1-.5 0-.6 0-.6 .3-.5 .1-.6 0-.6 .2-.5-.2-.6 0-.6 .2-.5 0-.6 .1-.6-.1-.5 .1-.6 .2-.6-.3-.5 .3-.6-.2-.6 0-.5-.1-.6 0-.6 .1-.5 0-.6 .1-.6 0-.5 0-.6-.1-.6 .1-.5 0-.7-.2z"/><use href="#f"/></g>
<g transform="translate(353 264.4)" color="#f00" stroke="none"><use href="#g"/><path class="c" d="M.9 7.8l.6-.8 .5 .6 .6 1.7 .6-1.3 .5 2.3 .6 0 .6-1.7 .5-.1 .6 1.3 .6-.2 .5 .1 .6 1.1 .6-2.1 .5 1 .6 .1 .6 .5 .5-1.1 .6 1.4 .6-.6 .5-.8 .6 .9 .6 .5 .5 .1 .6-1.1 .6-.7 .5-.3 .6 .2 .6 .9 .5-2.8 .6 1.8 .6-1.9 .5 2.3 .6 .2 .6 .4 .5-1 .6-2.5 .6 1 .5 2.5 .6-3.1 .6 1 .5 .3 .6-.6 .6 1.3 .5 1.5 .6-.6 .6 .4 .5-.2 .6 .2 0 3-.6-.2-.5 .3-.6-.2-.6-.7-.5-.3-.6-.1-.6-.2-.5-.9-.6 .8-.6-.2-.5-.2-.6-.4-.6 .7-.5 0-.6 .7-.6-.2-.5 .8-.6-.6-.6 .4-.5 .3-.6 .3-.6-.5-.5 .3-.6 .5-.6-.1-.5-.1-.6 .1-.6 0-.5 0-.6-.5-.6 0-.5 .5-.6-.6-.6 .5-.5 0-.6 .1-.6-.1-.5-.1-.6 .4-.6-.8-.5 .8-.6 .4-.6-.3-.5-.8-.6 .2-.6 .3-.5-.1-.6 .1z"/><path class="t" d="M.9 10.5l.6 .5 .5 .2 .6 .2 .6-1.1 .5 1.6 .6 .3 .6-1.2 .5-.3 .6 1.2 .6-.9 .5 .7 .6-.1 .6-.1 .5-.3 .6-.7 .6 1.2 .5-.8 .6 .1 .6 .4 .5 .1 .6 .1 .6 .1 .5 .1 .6-.7 .6-.1 .5-.5 .6 0 .6-.4 .5-.2 .6-.2 .6-.2 .5-.5 .6 .3 .6-.6 .5-.6 .6-.9 .6 .4 .5 .1 .6-.1 .6-.4 .5 1.1 .6 0 .6 .6 .5 .9 .6 .8 .6 .2 .5 .3 .6 .4 0 1.4-.6-.2-.5 .3-.6-.2-.6-.7-.5-.3-.6-.1-.6-.2-.5-.9-.6 .8-.6-.2-.5-.2-.6-.4-.6 .7-.5 0-.6 .7-.6-.2-.5 .8-.6-.6-.6 .4-.5 .3-.6 .3-.6-.5-.5 .3-.6 .5-.6-.1-.5-.1-.6 .1-.6 0-.5 0-.6-.5-.6 0-.5 .5-.6-.6-.6 .5-.5 0-.6 .1-.6-.1-.5-.1-.6 .4-.6-.8-.5 .8-.6 .4-.6-.3-.5-.8-.6 .2-.6 .3-.5-.1-.6 .1z"/><path class="b" d="M.9 13.3l.6-.1 .5 0 .6-.1 .6-4.2 .5 3.9 .6 1.2 .6-.5 .5-1.3 .6 1.3 .6-.8 .5 .4 .6-4.2 .6-1 .5 5.3 .6-1.1 .6 1 .5-.3 .6-.4 .6 .5 .5 .1 .6 .4 .6-.4 .5 .4 .6 .1 .6-.6 .5-.8 .6 .4 .6 0 .5-6.6 .6 5.9 .6 .4 .5-.5 .6-4.5 .6 4.1 .5 .2 .6-.9 .6 .3 .5 0 .6-3.5 .6 3.3 .5-4.6 .6 5.8 .6 0 .5 0 .6 .4 .6 .8 .5-.5 .6 .4"/><path class="b" d="M.9 13.3l.6-.2 .5-.1 .6 .1 .6-1.2 .5 1.8 .6 .1 .6-1.3 .5 .1 .6 .3 .6-.3 .5 .1 .6 .5 .6 0 .5-.1 .6-1.3 .6 1.2 .5-.2 .6 .1 .6 .2 .5-.2 .6 .4 .6-.2 .5 .2 .6-.1 .6-.7 .5-.3 .6 .5 .6 0 .5-.3 .6-5.3 .6 2.3 .5 2.2 .6-4.4 .6 4 .5-4.5 .6 4.1 .6 .4 .5-5.1 .6 2.7 .6 1.8 .5 1 .6 .3 .6 .1 .5 .2 .6 .8 .6-.2 .5-.1 .6-2.9"/><path class="k" d="M.8 16.1l0-8.4 1.4 .5 .4 4.5-1.1 .4 .5 .1 .6-.3 .6-.2 .5 .8 .6 .3 .6-.4 .5-.8 .6 .8 .6-.4 .5 .1 .6 .1 .6-.1 .5 0 .6-.5 .6 .6 .5-.5 .6 0 .6 .5 .5 0 .6 0 .6-.1 .5 .1 .6 .1 .6-.5 .5-.3 .6 .5 .6-.3 .5-.3 .6-.4 .6 .6 .5-.8 .6 .2 .6-.7 .5 0 .6-.7 .6 .4 .5 .2 .6 .2 .6-.8 .5 .9 .6 .2 .6 .1 .5 .3 .6 .7 .6 .2 .5-.3 .6 .2 0 3.4-.6-.3-.5-.2-.6 .1-.6-.4-.5 0-.6-.3-.6 0-.5-.2-.6 0-.6-.2-.5 .2-.6 0-.6 .1-.5 0-.6 .2-.6 0-.5 .1-.6 .2-.6 .1-.5 .2-.6 0-.6 .3-.5 0-.6 0-.6 .1-.5-.2-.6 .1-.6 0-.5 .1-.6-.1-.6 .1-.5-.1-.6 0-.6 0-.5-.2-.6 .2-.6 .1-.5 0-.6-.1-.6 .1-.5-.1-.6 0-.6 0-.5 .1-.6 0-.6-.2-.5 .2-.7-.2z"/><use href="#f"/></g>
<g transform="translate(394.2 264.4)" color="#f00" stroke="none"><use href="#g"/><path class="c" d="M.9 9l.6-.7 .5 1.3 .6-.8 .6 .3 .5 1.5 .6-.7 .6-1.3 .5 .9 .6 .8 .6-1.4 .5 1.2 .6-.5 .6-.8 .5 .6 .6 1.2 .6-.1 .5 .1 .6-.3 .6 1 .5-.7 .6-.8 .6-.4 .5-1.4 .6 3.3 .6-.6 .5-1.5 .6 .2 .6-1.4 .5 2 .6-.4 .6-2 .5 1.4 .6-1.9 .6 .9 .5 .6 .6 .1 .6 .1 .5-.7 .6 2.2 .6-2.8 .5 2.9 .6-1.9 .6 2.9 .5-3 .6 1.3 .6 .5 .5 1.1 .6-2 0 4.2-.6-.1-.5-.3-.6-.4-.6 .2-.5 .4-.6-.5-.6-.3-.5-.8-.6 .1-.6 0-.5 0-.6-.3-.6 .3-.5-.3-.6 .6-.6-.3-.5-.1-.6 .2-.6 .4-.5 0-.6 .7-.6-.4-.5 .2-.6 .4-.6-.6-.5 .3-.6 .3-.6-.1-.5-.3-.6 .6-.6-.2-.5 .3-.6-.3-.6-.1-.5-.7-.6 .5-.6-.6-.5 .6-.6 .2-.6 0-.5 0-.6 .6-.6 0-.5-.3-.6-.1-.6 .1-.5-.1-.6-.2z"/><path class="t" d="M.9 11.2l.6 .4 .5 .3 .6-1.2 .6 1 .5 .7 .6-.2 .6-1.4 .5 .9 .6-.1 .6-.6 .5 0 .6 .3 .6-.5 .5 .7 .6 .5 .6 .2 .5-.2 .6 .1 .6-.5 .5-.1 .6-.2 .6 .1 .5-.7 .6 .9 .6-.6 .5-.6 .6 .3 .6-.8 .5 0 .6-.6 .6-.9 .5 1 .6-.5 .6-.1 .5 0 .6 .2 .6 .1 .5-.1 .6 .7 .6-1 .5 1.9 .6-.1 .6 1.2 .5-.8 .6-.4 .6 .7 .5 .8 .6-1.1 0 2.6-.6-.1-.5-.3-.6-.4-.6 .2-.5 .4-.6-.5-.6-.3-.5-.8-.6 .1-.6 0-.5 0-.6-.3-.6 .3-.5-.3-.6 .6-.6-.3-.5-.1-.6 .2-.6 .4-.5 0-.6 .7-.6-.4-.5 .2-.6 .4-.6-.6-.5 .3-.6 .3-.6-.1-.5-.3-.6 .6-.6-.2-.5 .3-.6-.3-.6-.1-.5-.7-.6 .5-.6-.6-.5 .6-.6 .2-.6 0-.5 0-.6 .6-.6 0-.5-.3-.6-.1-.6 .1-.5-.1-.6-.2z"/><path class="b" d="M.9 13.3l.6-.4 .5 .5 .6 0 .6-.2 .5 .4 .6 .1 .6-.4 .5-.2 .6 .2 .6-.3 .5-1 .6 .7 .6-.9 .5 .7 .6 .4 .6 .7 .5-.3 .6-.3 .6-.6 .5 .3 .6-2.3 .6 2.3 .5 0 .6 .7 .6-1.4 .5 .8 .6 .1 .6-.5 .5-.2 .6-.1 .6-.5 .5 .5 .6-5.3 .6 4.8 .5 .3 .6-.4 .6-2.5 .5 2.9 .6-.1 .6-.2 .5 1.1 .6 .3 .6 .2 .5-.2 .6-.2 .6 .4 .5-.3 .6 .3"/><path class="b" d="M.9 13.1l.6 .3 .5 .2 .6-.7 .6 .7 .5 .2 .6-.7 .6 0 .5 0 .6 .2 .6-.5 .5-.3 .6 .4 .6-.4 .5 .6 .6-.1 .6 .4 .5-.3 .6-.2 .6-.4 .5 .4 .6 .1 .6 .1 .5-.3 .6 0 .6-.4 .5 .3 .6-.1 .6-.2 .5-.1 .6-.3 .6-.4 .5 .4 .6 .2 .6-.6 .5 .1 .6 .1 .6 .2 .5-.3 .6 .2 .6-.2 .5 .6 .6 .7 .6 .3 .5-.4 .6-.2 .6 .6 .5-.3 .6 .3"/><path class="k" d="M.8 16.1l0-7.4 1.4 .4 .4 3.6-1.1 .6 .5 .1 .6-.1 .6 .1 .5 .3 .6 0 .6-.6 .5 0 .6 0 .6-.2 .5-.6 .6 .6 .6-.5 .5 .7 .6 .1 .6 .3 .5-.3 .6 .2 .6-.6 .5 .3 .6 .1 .6-.3 .5-.3 .6 .6 .6-.4 .5-.2 .6 .4 .6-.7 .5 0 .6-.4 .6-.2 .5 .1 .6 .3 .6-.6 .5 .3 .6-.3 .6 .3 .5 0 .6 0 .6-.1 .5 .8 .6 .3 .6 .5 .5-.4 .6-.2 .6 .4 .5 .3 .6 .1 0 2.7-.6 0-.5-.2-.6 0-.6-.1-.5 0-.6 0-.6 0-.5-.1-.6-.2-.6-.2-.5 0-.6 .1-.6-.3-.5 0-.6 .2-.6 .1-.5 0-.6-.1-.6 .4-.5-.2-.6 .2-.6 .1-.5 0-.6 .1-.6 .1-.5 0-.6-.1-.6 .1-.5 .2-.6-.3-.6 .3-.5 0-.6-.1-.6-.1-.5 .1-.6 .1-.6-.2-.5 0-.6 0-.6 .1-.5 0-.6 .1-.6-.2-.5 .3-.6-.2-.6 .2-.5-.2-.7-.1z"/><use href="#f"/></g>
<g transform="translate(435.3 264.4)" color="#f00" stroke="none"><use href="#g"/><path class="c" d="M.9 6.3l.6 3 .5-1.4 .6 1.7 .6-.3 .5-1.1 .6 .7 .6 .5 .5-1.3 .6 1.3 .6-1.4 .5 1.7 .6 .8 .6 .9 .5-.9 .6-1.3 .6 1.6 .5 .1 .6-1.3 .6-1.8 .5 1.9 .6-.8 .6 1.1 .5-2.3 .6 2.6 .6-.6 .5-1.6 .6 .3 .6 1.1 .5 .3 .6-.4 .6-.1 .5-3 .6-.2 .6 1.3 .5-1.1 .6-1 .6 .1 .5 3.5 .6 0 .6-1.2 .5-1.3 .6 2.9 .6-.3 .5-.6 .6 2.2 .6 .5 .5-2.7 .6 1.7 0 2.9-.6 .3-.5-.6-.6-.3-.6-.2-.5 .6-.6-.7-.6-.6-.5 .6-.6-.8-.6-.5-.5-.2-.6 .2-.6-.1-.5 .6-.6-.8-.6 .7-.5 .3-.6 .6-.6 0-.5 .2-.6-.1-.6 .3-.5 .4-.6 .4-.6-.9-.5 .5-.6 .1-.6 0-.5 .1-.6 .1-.6-.1-.5-.5-.6 .8-.6 0-.5 .4-.6-1.2-.6 1-.5-.6-.6 .7-.6-.9-.5 .3-.6 .6-.6-1-.5 .5-.6-.6-.6 .9-.5-.4-.6-.3z"/><path class="t" d="M.9 10.3l.6 .9 .5 .4 .6-.2 .6 0 .5-.9 .6 1 .6-.2 .5-.4 .6 1.1 .6-.7 .5 .8 .6-.9 .6 1.3 .5-.3 .6-.5 .6 0 .5 .1 .6-.3 .6-.5 .5 .1 .6 .3 .6 .1 .5-1.7 .6 1.6 .6-.3 .5-.9 .6-.5 .6 0 .5 .1 .6-.3 .6-.7 .5-1.9 .6 .2 .6 .9 .5-1.7 .6 .5 .6-.4 .5 1.3 .6 .5 .6 .7 .5-.5 .6 1.2 .6 .8 .5-.2 .6 .5 .6 .3 .5-.1 .6 .1 0 2-.6 .3-.5-.6-.6-.3-.6-.2-.5 .6-.6-.7-.6-.6-.5 .6-.6-.8-.6-.5-.5-.2-.6 .2-.6-.1-.5 .6-.6-.8-.6 .7-.5 .3-.6 .6-.6 0-.5 .2-.6-.1-.6 .3-.5 .4-.6 .4-.6-.9-.5 .5-.6 .1-.6 0-.5 .1-.6 .1-.6-.1-.5-.5-.6 .8-.6 0-.5 .4-.6-1.2-.6 1-.5-.6-.6 .7-.6-.9-.5 .3-.6 .6-.6-1-.5 .5-.6-.6-.6 .9-.5-.4-.6-.3z"/><path class="b" d="M.9 12.7l.6 .4 .5 .2 .6-.6 .6 .1 .5-.6 .6 1.5 .6-1.5 .5 .3 .6 1.1 .6-.9 .5 1 .6-.9 .6 1.2 .5-.8 .6 .2 .6-.8 .5 .4 .6-.1 .6-.1 .5 .3 .6 0 .6-.1 .5-.4 .6-.1 .6 .6 .5-.5 .6-.9 .6-4.8 .5 5.2 .6-.3 .6-4.3 .5-3.1 .6 5.9 .6 .8 .5-.6 .6 .2 .6-.7 .5 .8 .6 .7 .6 .7 .5-.5 .6 .7 .6-.1 .5-.5 .6-.4 .6 1.2 .5 .1 .6-.2"/><path class="b" d="M.9 12.9l.6 .2 .5 .5 .6-1 .6 .2 .5 0 .6 .9 .6-.4 .5-.9 .6 1.1 .6-.6 .5 .9 .6-1.2 .6 1.4 .5-.8 .6 .1 .6-1.3 .5 1.1 .6 .2 .6-.3 .5-.2 .6 .2 .6-.2 .5-.8 .6 1.3 .6-1.3 .5 .6 .6-.4 .6 .1 .5 0 .6-.3 .6-.5 .5-.7 .6-.1 .6-4.5 .5 4.5 .6-.1 .6 .2 .5-2.9 .6 3.6 .6 .8 .5-1.6 .6 1.4 .6-6.8 .5 6.9 .6 .2 .6 .2 .5 .5 .6-.2"/><path class="k" d="M.8 16.1l0-7.4 1.4 .5 .4 3.5-1.1 .4 .5 .4 .6-.9 .6 .6 .5-.5 .6 1 .6-.6 .5-.3 .6 .9 .6-.7 .5 .6 .6-1 .6 1.2 .5-.4 .6 0 .6-.8 .5 .5 .6 .1 .6-.1 .5-.1 .6 0 .6-.1 .5-.5 .6 .9 .6-.4 .5-.4 .6-.3 .6 .1 .5-.2 .6 0 .6-.6 .5-.3 .6-.7 .6 .8 .5-.6 .6 .1 .6-.2 .5 .2 .6 .5 .6 .8 .5-.6 .6 .6 .6 .7 .5-.6 .6 .2 .6 .3 .5 .6 .6-.3 0 3.2-.6 0-.5-.2-.6 0-.6-.1-.5 0-.6-.2-.6-.2-.5-.2-.6-.1-.6 0-.5-.4-.6 .2-.6-.2-.5 .2-.6 .1-.6 .1-.5 .2-.6 .3-.6-.2-.5 .2-.6-.1-.6 .3-.5 0-.6 .2-.6 0-.5-.1-.6 .1-.6 .1-.5 .1-.6 0-.6-.2-.5 0-.6 .1-.6-.2-.5 .2-.6 .1-.6-.1-.5 0-.6 .2-.6-.1-.5-.1-.6 0-.6 0-.5 0-.6-.2-.6 .1-.5 .1-.7-.1z"/><use href="#f"/></g>
<g transform="translate(476.4 264.4)" color="#f00" stroke="none"><use href="#g"/><path class="c" d="M.9 4.9l.6 .9 .5 1.8 .6 1.4 .6-2.2 .5 3.9 .6-2.2 .6 .3 .5 .2 .6 1.2 .6 .9 .5-2.7 .6 2.3 .6 1 .5-2.6 .6 1.2 .6 .7 .5-.3 .6-1.2 .6 .9 .5-.5 .6-2.3 .6 1.8 .5-1.4 .6 .5 .6-.4 .5 1 .6 .9 .6-.5 .5-1.3 .6 .4 .6-.2 .5-1.9 .6 .5 .6 .9 .5-.1 .6-.2 .6-.3 .5 1.7 .6-2 .6 2.3 .5-3.7 .6 2.8 .6-2.7 .5 3.9 .6-.1 .6-.5 .5-.2 .6 1.2 0 2.6-.6 .5-.5-.3-.6 .2-.6 .6-.5-1-.6 .3-.6-1.1-.5 .6-.6-.8-.6-.6-.5 .6-.6-.6-.6 .4-.5 0-.6-.3-.6-.2-.5 .3-.6 .5-.6-.8-.5 1.2-.6 .3-.6-.2-.5-.2-.6 .4-.6 .4-.5 .3-.6 .3-.6-.7-.5 .5-.6 .1-.6-.1-.5 .1-.6-.1-.6-.1-.5 .7-.6-.7-.6-.4-.5 1-.6-.2-.6-.2-.5-.1-.6 .2-.6-.1-.5-.1-.6-.3-.6 0-.5 1.1-.6-1z"/><path class="t" d="M.9 10.5l.6 1 .5-.8 .6 .4 .6-.2 .5 1.1 .6-.7 .6 .2 .5 .2 .6 .2 .6 .7 .5-2.5 .6 1.6 .6 1.1 .5-1.5 .6-.3 .6 1 .5 .1 .6-.5 .6 .2 .5-.7 .6-.2 .6 .2 .5-.3 .6-.4 .6-1.1 .5 .5 .6 .5 .6-.8 .5-1.1 .6 .3 .6-.4 .5-1.2 .6 .5 .6-.3 .5 .6 .6-.6 .6 .9 .5 .3 .6 .1 .6 1.2 .5-1.3 .6 1.5 .6-.4 .5 1.7 .6-.6 .6-.1 .5 .6 .6-.2 0 1.6-.6 .5-.5-.3-.6 .2-.6 .6-.5-1-.6 .3-.6-1.1-.5 .6-.6-.8-.6-.6-.5 .6-.6-.6-.6 .4-.5 0-.6-.3-.6-.2-.5 .3-.6 .5-.6-.8-.5 1.2-.6 .3-.6-.2-.5-.2-.6 .4-.6 .4-.5 .3-.6 .3-.6-.7-.5 .5-.6 .1-.6-.1-.5 .1-.6-.1-.6-.1-.5 .7-.6-.7-.6-.4-.5 1-.6-.2-.6-.2-.5-.1-.6 .2-.6-.1-.5-.1-.6-.3-.6 0-.5 1.1-.6-1z"/><path class="b" d="M.9 13.1l.6 .9 .5-1.6 .6-5.4 .6 6 .5 .3 .6 .3 .6-.2 .5-.2 .6 .4 .6 .2 .5-.9 .6 .4 .6-.1 .5 0 .6 .1 .6-.6 .5 .5 .6 .2 .6-.4 .5-.2 .6 .5 .6-.5 .5 .1 .6-.3 .6-.6 .5-.4 .6-.9 .6 1.5 .5-1.2 .6 .5 .6-.4 .5-.7 .6 .9 .6-.7 .5-6.2 .6 6.8 .6 .6 .5-5.4 .6 5.4 .6 .5 .5-.4 .6 .9 .6-.1 .5 1 .6-.7 .6-.2 .5 .2 .6-.5"/><path class="b" d="M.9 12.7l.6 1.5 .5-1.1 .6-.2 .6 .4 .5 .1 .6 .1 .6-.1 .5 0 .6 .3 .6-.2 .5-1.2 .6 1 .6 .4 .5-.8 .6 .3 .6 0 .5 .1 .6 0 .6-.1 .5-1.1 .6 1 .6 .1 .5-.5 .6-.2 .6-1.5 .5 1 .6 .6 .6-.6 .5-5.4 .6 5.2 .6-5.8 .5 5.1 .6-5 .6 5.3 .5-5.5 .6 1.5 .6 4.4 .5-1.7 .6-5.9 .6 7.5 .5 .2 .6 .6 .6 .1 .5-5.5 .6 5.4 .6 .4 .5 .3 .6-.7"/><path class="k" d="M.8 16.1l0-8.5 1.4 .5 .4 4.6-1.1 1.3 .5-1.1 .6 0 .6 .3 .5 .1 .6 .1 .6-.2 .5 .1 .6 .2 .6 .2 .5-1 .6 .4 .6 .7 .5-.7 .6 .1 .6 .1 .5-.1 .6 .1 .6-.1 .5-.5 .6 .7 .6-.3 .5-.3 .6-.4 .6-.4 .5 .2 .6 .2 .6-.3 .5-1.2 .6 .8 .6-.5 .5-.3 .6 .2 .6 .3 .5 0 .6-.4 .6 .6 .5-.6 .6 .6 .6 .8 .5-.6 .6 1.1 .6-.3 .5 1 .6-.6 .6-.2 .5 .3 .6-.5 0 3.5-.6 0-.5-.1-.6 .2-.6-.2-.5-.1-.6-.1-.6-.1-.5 .1-.6-.3-.6-.2-.5 0-.6-.3-.6 0-.5-.2-.6 .1-.6-.1-.5 .4-.6-.1-.6 .2-.5 .3-.6-.1-.6 .3-.5 0-.6 0-.6 .2-.5 .2-.6-.3-.6 .3-.5 0-.6-.1-.6 0-.5 0-.6 0-.6 .2-.5-.1-.6 0-.6 .1-.5-.2-.6 .2-.6-.1-.5 0-.6 0-.6 0-.5 0-.6 .1-.6-.2-.5 .2-.7-.2z"/><use href="#f"/></g>
<g transform="translate(65.2 291.4)" color="#f00" stroke="none"><use href="#g"/><path class="c" d="M.9 8.4l.6-1.7 .5 2.9 .6-.1 .6 .4 .5 .3 .6 .2 .6-.7 .5 .6 .6-.3 .6-.3 .5-.3 .6 .1 .6-3 .5 1.6 .6 1 .6 .2 .5-1.4 .6-.8 .6 1 .5 1 .6 .4 .6-2.6 .5-.2 .6-1.7 .6 1.9 .5 .8 .6-2.3 .6 2.2 .5 2.4 .6-.9 .6 1.2 .5-3.6 .6 3 .6-.5 .5 1.5 .6-2.4 .6 1.9 .5-1.8 .6 1.1 .6 .5 .5 .4 .6-2.2 .6 .6 .5 1.7 .6 .7 .6-1.9 .5 .8 .6-.7 0 3.7-.6 .5-.5-.3-.6-.1-.6-.1-.5 .1-.6-.8-.6 .9-.5 .2-.6-.1-.6-.6-.5-.1-.6 .1-.6 .3-.5-.4-.6 .1-.6 0-.5-.4-.6-.5-.6 .2-.5-.5-.6 .1-.6-.6-.5-.3-.6 .3-.6-.3-.5-.1-.6 .1-.6 .3-.5 .2-.6 .2-.6 0-.5 .2-.6 .1-.6 .5-.5-.9-.6 .6-.6 .1-.5 .8-.6-.5-.6 .6-.5 .1-.6-.4-.6 .6-.5 .2-.6-.4-.6-.3-.5 .7-.6 .3z"/><path class="t" d="M.9 11.9l.6-.6 .5-.3 .6 .5 .6 .5 .5-.7 .6-.1 .6 .2 .5 0 .6-1.4 .6 1.1 .5-.8 .6-.3 .6-1.4 .5 1 .6-.4 .6 .1 .5-1.6 .6 .5 .6-.2 .5 0 .6 .1 .6-.8 .5-.2 .6-.2 .6 0 .5 .5 .6 .5 .6 .9 .5 .9 .6 0 .6 .9 .5-.7 .6 .7 .6 .4 .5 .6 .6-.6 .6 .3 .5-.1 .6 .6 .6-.3 .5 0 .6-.7 .6 .7 .5 0 .6 .2 .6 0 .5 .3 .6-.5 0 1.6-.6 .5-.5-.3-.6-.1-.6-.1-.5 .1-.6-.8-.6 .9-.5 .2-.6-.1-.6-.6-.5-.1-.6 .1-.6 .3-.5-.4-.6 .1-.6 0-.5-.4-.6-.5-.6 .2-.5-.5-.6 .1-.6-.6-.5-.3-.6 .3-.6-.3-.5-.1-.6 .1-.6 .3-.5 .2-.6 .2-.6 0-.5 .2-.6 .1-.6 .5-.5-.9-.6 .6-.6 .1-.5 .8-.6-.5-.6 .6-.5 .1-.6-.4-.6 .6-.5 .2-.6-.4-.6-.3-.5 .7-.6 .3z"/><path class="b" d="M.9 14.1l.6-.6 .5-.8 .6-3.4 .6 4.2 .5-.6 .6-.3 .6 .2 .5 .3 .6-.7 .6 .3 .5-1.5 .6 .9 .6-1.2 .5-2.6 .6 3.6 .6 0 .5-.6 .6 .2 .6-.1 .5-.5 .6-.2 .6-.2 .5 .2 .6 .4 .6-.5 .5 .5 .6-.1 .6-2.6 .5 3.9 .6-6.7 .6 6.5 .5 .3 .6 .3 .6 .2 .5 0 .6-.3 .6 .1 .5 .1 .6-2.4 .6 3.2 .5-.2 .6-.8 .6 .4 .5-.1 .6-.1 .6 .7 .5-.3 .6 0"/><path class="b" d="M.9 14l.6-.7 .5-.4 .6 .1 .6 .4 .5 .1 .6-.6 .6-.1 .5 .4 .6-.9 .6 .5 .5-.5 .6-.2 .6-1 .5 1.1 .6-.2 .6-.6 .5 .3 .6-.6 .6 .3 .5-.3 .6-.6 .6 .3 .5 .1 .6-.1 .6-.5 .5 .6 .6 .8 .6-.7 .5 1.3 .6-.2 .6-.3 .5 .8 .6 0 .6-.2 .5 .9 .6-.3 .6-.1 .5 0 .6 .6 .6 .2 .5-.2 .6-6.2 .6 5.6 .5-.1 .6 .4 .6-.1 .5 .3 .6-.7"/><path class="k" d="M.8 16.1l0-8.1 1.4 .5 .4 4.2-1.1 .8 .5-.7 .6 .3 .6 .4 .5-.2 .6-.6 .6 .4 .5-.1 .6-.6 .6 .5 .5-.8 .6-.1 .6-.6 .5 .9 .6-.5 .6-.1 .5-.2 .6 0 .6-.2 .5-.2 .6-.3 .6-.1 .5 .1 .6 .3 .6-.3 .5 .3 .6 .6 .6-.1 .5 .5 .6-.2 .6 .5 .5 .4 .6 0 .6-.1 .5 .4 .6-.3 .6-.1 .5 .1 .6 .6 .6 .1 .5-.2 .6-.9 .6 .8 .5-.1 .6 .1 .6 .1 .5 .3 .6-.5 0 3.3-.6-.1-.5-.2-.6 .1-.6 0-.5 .1-.6-.1-.6 .2-.5-.2-.6 0-.6-.1-.5-.2-.6 .2-.6 0-.5 0-.6-.2-.6 .1-.5-.4-.6 0-.6-.3-.5 0-.6-.1-.6-.1-.5-.1-.6-.2-.6-.1-.5 .3-.6-.2-.6 .2-.5 0-.6 .2-.6 0-.5 .2-.6 0-.6 .2-.5 0-.6 0-.6 .1-.5 .2-.6 0-.6 .1-.5 0-.6 .1-.6 0-.5 .2-.6-.1-.6 .1-.5 0-.7-.2z"/><use href="#f"/></g>
<g transform="translate(106.3 291.4)" color="#f00" stroke="none"><use href="#g"/><path class="c" d="M.9 5.2l.6 .9 .5 1.4 .6 .7 .6-1.4 .5 2.5 .6 .6 .6-1.1 .5-.4 .6 1.1 .6-1.9 .5 .8 .6-.7 .6 2.2 .5-1.4 .6-.5 .6-2 .5 1.7 .6-1.5 .6 1.7 .5-1.8 .6 .8 .6 0 .5-.3 .6-1 .6 2 .5-2.3 .6 1.3 .6 .4 .5 1.4 .6-2.3 .6 4.5 .5-.6 .6 .2 .6-.6 .5-.4 .6 .2 .6 1.5 .5-.1 .6-1.9 .6-.5 .5 2.5 .6-.8 .6 1.8 .5-.2 .6-1.2 .6-.8 .5 1.7 .6-1.1 0 3.3-.6-.5-.5 .1-.6-.3-.6 .6-.5 0-.6-.2-.6-.1-.5-.1-.6 .1-.6 1-.5-.7-.6-.4-.6 .2-.5-.3-.6 .4-.6-.1-.5-.1-.6-.9-.6-.1-.5-1.7-.6-.6-.6-.6-.5 .2-.6 .6-.6-.1-.5 0-.6-.2-.6 .4-.5-.1-.6 0-.6 .6-.5 .2-.6 0-.6 .2-.5 .3-.6 .2-.6 .2-.5 .1-.6 .8-.6-.4-.5 .2-.6-.3-.6 .7-.5-.2-.6 .5-.6-.3-.5-.1-.6 .1z"/><path class="t" d="M.9 10.1l.6-.6 .5 1 .6 .5 .6-1.3 .5 .9 .6-.6 .6 .4 .5-.9 .6 .9 .6-1.3 .5 .3 .6-.5 .6 0 .5-.6 .6-.4 .6-.5 .5-.4 .6-.9 .6 .5 .5-.8 .6 .1 .6 .1 .5-.9 .6 .3 .6 .3 .5-.9 .6 .7 .6 1.3 .5 2.6 .6 .2 .6 2.2 .5 0 .6 0 .6-.1 .5 0 .6-.8 .6 1.4 .5 .2 .6-1.3 .6-.3 .5 1 .6-.5 .6 1 .5-.1 .6-.7 .6 0 .5 .2 .6 .3 0 1.5-.6-.5-.5 .1-.6-.3-.6 .6-.5 0-.6-.2-.6-.1-.5-.1-.6 .1-.6 1-.5-.7-.6-.4-.6 .2-.5-.3-.6 .4-.6-.1-.5-.1-.6-.9-.6-.1-.5-1.7-.6-.6-.6-.6-.5 .2-.6 .6-.6-.1-.5 0-.6-.2-.6 .4-.5-.1-.6 0-.6 .6-.5 .2-.6 0-.6 .2-.5 .3-.6 .2-.6 .2-.5 .1-.6 .8-.6-.4-.5 .2-.6-.3-.6 .7-.5-.2-.6 .5-.6-.3-.5-.1-.6 .1z"/><path class="b" d="M.9 12.2l.6 .8 .5-1.1 .6 1.5 .6-.5 .5-.5 .6-.1 .6 .2 .5-.1 .6 .1 .6-.6 .5-.2 .6-.3 .6 0 .5-.5 .6 0 .6-.1 .5-.2 .6-.4 .6-.1 .5 .2 .6-.7 .6-.2 .5 .7 .6 .1 .6-.5 .5-.4 .6 .8 .6-.2 .5 2.2 .6 .1 .6 .9 .5 0 .6 .5 .6-.6 .5 .2 .6-.5 .6 .7 .5 .6 .6-.7 .6-.2 .5 .2 .6-.2 .6 .2 .5-.1 .6-.1 .6 .3 .5-.6 .6 .4"/><path class="b" d="M.9 12.7l.6 .1 .5-.1 .6 .1 .6 0 .5 .1 .6-.9 .6 .3 .5-.3 .6 .5 .6-.8 .5 .3 .6-.6 .6-.1 .5-.3 .6-.3 .6 0 .5-.1 .6-5.1 .6 4.6 .5 .1 .6-2.2 .6 2.2 .5-.4 .6 .1 .6-.6 .5-4.1 .6 4.8 .6-4.7 .5 7.1 .6-.1 .6 1.1 .5-.3 .6 .2 .6 0 .5-.7 .6 .5 .6 .5 .5 .8 .6-1.4 .6 .2 .5 .1 .6-.2 .6-2.7 .5 3.2 .6-.6 .6 .4 .5-.5 .6 .7"/><path class="k" d="M.8 16.1l0-8.6 1.4 .5 .4 4.7-1.1 .1 .5 .1 .6 .3 .6-.5 .5 .2 .6-.7 .6 .3 .5-.2 .6 .4 .6-.8 .5-.1 .6-.2 .6-.2 .5-.3 .6-.2 .6 0 .5-.2 .6-.6 .6 0 .5 .1 .6-.4 .6 .2 .5 0 .6 .1 .6-.6 .5-.2 .6 .6 .6 .6 .5 1.7 .6 .1 .6 .9 .5 .1 .6 .1 .6-.4 .5 .3 .6-.2 .6 .4 .5 .7 .6-1 .6-.1 .5 .1 .6 .1 .6 .2 .5 0 .6-.6 .6 .3 .5-.1 .6 .5 0 2.8-.6-.2-.5 .2-.6-.4-.6 .1-.5 .2-.6 0-.6-.1-.5-.1-.6 .3-.6-.3-.5 .2-.6 0-.6-.1-.5 .1-.6-.1-.6 .1-.5-.3-.6-.1-.6-.5-.5-.6-.6-.5-.6 .1-.5-.1-.6 0-.6 0-.5 .3-.6-.2-.6 .2-.5 .2-.6 0-.6 .1-.5 .3-.6 0-.6 .1-.5 .1-.6-.1-.6 .3-.5 0-.6 .2-.6 .2-.5-.3-.6 .3-.6-.1-.5 .3-.6-.2-.6 .2-.5-.1-.7 0z"/><use href="#f"/></g>
<g transform="translate(147.4 291.4)" color="#f00" stroke="none"><use href="#g"/><path class="c" d="M.9 6.9l.6 .2 .5 3.3 .6-1.7 .6 .8 .5-2.1 .6 1.2 .6-.1 .5 .4 .6 .7 .6-1 .5 .7 .6-.6 .6 .7 .5-.1 .6-.4 .6 .4 .5 .3 .6-2.3 .6-.4 .5-.3 .6 .6 .6-.8 .5-1 .6-.1 .6 .7 .5 0 .6-.8 .6-.1 .5-.2 .6 3.4 .6-.3 .5 1.5 .6 1 .6-.6 .5 .6 .6-1.2 .6 1.5 .5-1.7 .6 1 .6-.9 .5 1.7 .6-.9 .6 .5 .5-1.6 .6 2.4 .6-.9 .5-1.1 .6 .6 0 3.4-.6 0-.5 0-.6 .1-.6-.5-.5 .4-.6-.1-.6 0-.5-.2-.6 .4-.6-.5-.5 .2-.6 .2-.6 0-.5 0-.6-.2-.6 .1-.5-1-.6 .2-.6-.7-.5-.6-.6-.9-.6-.7-.5 .5-.6-.2-.6-.3-.5 .7-.6 .6-.6-.1-.5 0-.6 .8-.6 .5-.5 .1-.6 .3-.6 .3-.5-.1-.6-.7-.6 1-.5 0-.6 0-.6-.4-.5 .5-.6 .6-.6-.9-.5 .4-.6 .3-.6 0-.5 0-.6-.5z"/><path class="t" d="M.9 10.6l.6 .6 .5 1 .6-.6 .6-.1 .5-1 .6 1 .6-.3 .5-.5 .6 .2 .6-.1 .5-.1 .6-1 .6 1 .5-.1 .6-.8 .6-.2 .5-.3 .6-1.4 .6-1.4 .5 .6 .6-.5 .6-1 .5-.4 .6-.3 .6 .8 .5-.5 .6 .1 .6 1.8 .5 1 .6 1.9 .6-.2 .5 1.5 .6 .6 .6-.1 .5 .3 .6-.4 .6 .1 .5-.5 .6 .7 .6-1 .5 1.1 .6-.3 .6 .2 .5-1 .6 .6 .6 .2 .5-.1 .6-.3 0 1.9-.6 0-.5 0-.6 .1-.6-.5-.5 .4-.6-.1-.6 0-.5-.2-.6 .4-.6-.5-.5 .2-.6 .2-.6 0-.5 0-.6-.2-.6 .1-.5-1-.6 .2-.6-.7-.5-.6-.6-.9-.6-.7-.5 .5-.6-.2-.6-.3-.5 .7-.6 .6-.6-.1-.5 0-.6 .8-.6 .5-.5 .1-.6 .3-.6 .3-.5-.1-.6-.7-.6 1-.5 0-.6 0-.6-.4-.5 .5-.6 .6-.6-.9-.5 .4-.6 .3-.6 0-.5 0-.6-.5z"/><path class="b" d="M.9 12.7l.6 .8 .5-.1 .6 0 .6-5.1 .5 4.2 .6 .9 .6-.3 .5-.8 .6 .6 .6 .2 .5 0 .6-1 .6 .4 .5 .1 .6 0 .6-.6 .5-.2 .6-.1 .6-1.4 .5 0 .6 .1 .6-.5 .5-.4 .6 .5 .6 0 .5-.4 .6 .3 .6 1.4 .5 .3 .6 .3 .6-7.9 .5 8.7 .6-5.6 .6 6.4 .5-.8 .6 .7 .6-.1 .5-.4 .6 .4 .6-3.7 .5 3.6 .6-.1 .6-.1 .5-.2 .6 .5 .6 .1 .5 .1 .6 0"/><path class="b" d="M.9 13l.6 .2 .5 .2 .6-.4 .6 .3 .5-.5 .6 .7 .6-.9 .5-.4 .6 .7 .6 .2 .5-.3 .6-.9 .6 .9 .5 .2 .6-.7 .6-.1 .5-.3 .6-.2 .6-.9 .5-.4 .6 .5 .6-.8 .5-.8 .6-2.8 .6 3.8 .5-.8 .6 .8 .6-3.1 .5 4.2 .6 1.1 .6-.9 .5 1.8 .6-.1 .6-7.8 .5 7.9 .6-5.4 .6 5 .5-.1 .6 .3 .6-.2 .5-.3 .6 .4 .6-5.1 .5 4 .6 1.6 .6-.2 .5-.3 .6 .3"/><path class="k" d="M.8 16.1l0-7.6 1.4 .5 .4 3.7-1.1 .7 .5 0 .6 0 .6-.3 .5-.4 .6 .9 .6-.6 .5-.5 .6 .4 .6 0 .5 0 .6-1 .6 .7 .5 .1 .6-.3 .6-.3 .5-.1 .6-.5 .6-.8 .5 0 .6 .1 .6-.6 .5-.7 .6 .3 .6 .2 .5-.5 .6 .7 .6 .9 .5 .6 .6 .7 .6-.2 .5 1 .6-.1 .6 .2 .5 0 .6 0 .6-.2 .5-.2 .6 .5 .6-.4 .5 .2 .6 0 .6 .1 .5-.4 .6 .5 .6-.1 .5 0 .6 0 0 2.9-.6 0-.5 0-.6 .1-.6-.1-.5 .1-.6-.2-.6 .2-.5 .1-.6-.2-.6 0-.5 .2-.6 0-.6-.1-.5 0-.6 0-.6-.1-.5-.1-.6-.2-.6-.4-.5-.8-.6-.2-.6-.4-.5 .3-.6 0-.6 0-.5-.1-.6 .3-.6 .2-.5 .1-.6 0-.6 .3-.5 .2-.6 .1-.6 .2-.5 .1-.6 .1-.6 0-.5 .1-.6 0-.6 0-.5 0-.6 .1-.6 0-.5-.1-.6 .1-.6 0-.5 .1-.7-.1z"/><use href="#f"/></g>
<g transform="translate(188.6 291.4)" color="#f00" stroke="none"><use href="#g"/><path class="c" d="M.9 6l.6 0 .5 1.2 .6-.6 .6 2.3 .5 1.1 .6 .1 .6-1 .5 1 .6-.1 .6-.7 .5-.9 .6-.7 .6 2.3 .5-.5 .6-3.2 .6 3.5 .5-1.8 .6 1.4 .6-1.6 .5-1.3 .6 .9 .6-.2 .5 .3 .6-3.6 .6-.6 .5 5.2 .6-2.9 .6 2.4 .5-2.1 .6 1.3 .6 2.5 .5-2.7 .6 1.1 .6-.5 .5 .7 .6-.1 .6 .5 .5 .7 .6-.9 .6 1.7 .5-1.5 .6 .8 .6 .9 .5 .4 .6-.8 .6-.2 .5-1.1 .6 .1 0 4.1-.6 .2-.5-.1-.6 .1-.6 .1-.5-.6-.6 .7-.6 .2-.5-.6-.6 .5-.6-.4-.5 .2-.6-.6-.6 .1-.5-.3-.6-.5-.6 .1-.5-.4-.6-.5-.6-.5-.5-.3-.6-.3-.6 .3-.5-.5-.6 .2-.6 .1-.5 .5-.6-.1-.6 .2-.5 .4-.6 1-.6-.5-.5 .3-.6 .1-.6 .2-.5 .4-.6 .3-.6 0-.5-.5-.6 1.4-.6-1.1-.5 .1-.6 0-.6 .4-.5 .1-.6-.1-.6 .3-.5-.3-.6-.1z"/><path class="t" d="M.9 10.8l.6-.2 .5 .6 .6-.2 .6 .6 .5 .1 .6-.1 .6-.7 .5 .2 .6 .9 .6-1.2 .5-.1 .6-.1 .6 .3 .5-.9 .6-.8 .6 .5 .5-.9 .6 .1 .6-1.4 .5-.5 .6-.4 .6 .3 .5-.5 .6-1.4 .6-.2 .5 1.7 .6-1.1 .6 1.6 .5-.2 .6 1 .6 .9 .5 0 .6 .6 .6 .7 .5 .6 .6-.1 .6 .4 .5 .3 .6 .4 .6 0 .5 .1 .6 0 .6-.4 .5 .8 .6-.4 .6-.4 .5 0 .6-.2 0 1.8-.6 .2-.5-.1-.6 .1-.6 .1-.5-.6-.6 .7-.6 .2-.5-.6-.6 .5-.6-.4-.5 .2-.6-.6-.6 .1-.5-.3-.6-.5-.6 .1-.5-.4-.6-.5-.6-.5-.5-.3-.6-.3-.6 .3-.5-.5-.6 .2-.6 .1-.5 .5-.6-.1-.6 .2-.5 .4-.6 1-.6-.5-.5 .3-.6 .1-.6 .2-.5 .4-.6 .3-.6 0-.5-.5-.6 1.4-.6-1.1-.5 .1-.6 0-.6 .4-.5 .1-.6-.1-.6 .3-.5-.3-.6-.1z"/><path class="b" d="M.9 13.2l.6-.5 .5 .8 .6-.2 .6-.2 .5 .3 .6-1 .6 0 .5 .2 .6 1.1 .6-1 .5 .2 .6-.2 .6 .1 .5-.5 .6-.2 .6 0 .5-.7 .6 .7 .6-.8 .5-.5 .6-.4 .6-.2 .5-.2 .6-6.1 .6 6.1 .5 .2 .6-.2 .6 .5 .5 0 .6-5.7 .6 6.5 .5 .9 .6-.3 .6 .7 .5-.1 .6-.3 .6 .8 .5-.1 .6 .4 .6-.3 .5 .4 .6 0 .6-.9 .5 .4 .6 .3 .6-.3 .5 .4 .6-.4"/><path class="b" d="M.9 13.3l.6 0 .5-.2 .6 .1 .6 .2 .5-.1 .6-.5 .6 0 .5-.3 .6-2.1 .6 1.4 .5 1.1 .6 .2 .6-.5 .5-.2 .6-.5 .6 .2 .5-.6 .6 .7 .6-1.2 .5-.3 .6-.1 .6-.1 .5-.4 .6-.2 .6-.1 .5 .6 .6-.4 .6 .2 .5 .3 .6 .1 .6 1 .5 .4 .6 0 .6 .5 .5 .4 .6-.5 .6-5.4 .5 5.5 .6 1.1 .6-.7 .5 .9 .6-.5 .6-.7 .5 .5 .6 .3 .6-.4 .5-.1 .6 0"/><path class="k" d="M.8 16.1l0-7.5 1.4 .5 .4 3.6-1.1 .5 .5 .3 .6-.3 .6 .1 .5-.1 .6-.4 .6 0 .5-.1 .6 1.1 .6-1.4 .5 .5 .6 0 .6-.3 .5-.4 .6-.2 .6-.1 .5-.3 .6 .5 .6-1 .5-.4 .6-.2 .6 .1 .5-.5 .6-.1 .6-.2 .5 .5 .6-.3 .6 .3 .5 .3 .6 .5 .6 .5 .5 .4 .6-.1 .6 .5 .5 .3 .6-.1 .6 .6 .5-.2 .6 .4 .6-.5 .5 .6 .6-.2 .6-.7 .5 .6 .6-.1 .6-.1 .5 .1 .6-.2 0 3.2-.6 .1-.5-.2-.6 .2-.6 .1-.5 0-.6-.1-.6 .1-.5-.1-.6 .1-.6-.1-.5-.3-.6 .1-.6 0-.5-.2-.6-.1-.6-.2-.5-.3-.6-.2-.6-.2-.5-.2-.6 0-.6-.2-.5 .1-.6 .1-.6 0-.5 0-.6 .2-.6 .2-.5 .2-.6 .1-.6 0-.5 .2-.6 0-.6 .1-.5 .2-.6 .3-.6 0-.5-.1-.6 0-.6 .2-.5-.2-.6 .1-.6 .1-.5 0-.6 .1-.6-.1-.5 0-.7-.1z"/><use href="#f"/></g>
<g transform="translate(229.7 291.4)" color="#f00" stroke="none"><use href="#g"/><path class="c" d="M.9 7l.6-1 .5 3.7 .6-2.1 .6 1 .5 .2 .6 1.6 .6-.5 .5-1.1 .6 2 .6-2.5 .5 1.2 .6 1 .6 .2 .5-.9 .6-.1 .6 1.2 .5-1.9 .6 1.4 .6-1.3 .5 1.2 .6-1.2 .6-.3 .5 0 .6-.4 .6 1 .5 .5 .6-2.4 .6-1.2 .5 1.1 .6-1.9 .6 3 .5-1.9 .6-1.1 .6 2.1 .5-1.9 .6 4.6 .6-1.1 .5-.6 .6 2.4 .6-2.1 .5 .7 .6 .4 .6 .6 .5 1.3 .6-3.2 .6 1.6 .5-.4 .6 0 0 3-.6 .5-.5-.1-.6-.4-.6 .8-.5-.8-.6 .7-.6-.9-.5 .3-.6 0-.6-.3-.5-.5-.6 .1-.6-.3-.5 .1-.6-.8-.6-.1-.5-.4-.6 .3-.6-.4-.5-.1-.6 0-.6 1.3-.5-1-.6 .7-.6 .5-.5-.2-.6 .5-.6 .3-.5-.3-.6 .7-.6-.8-.5 .3-.6 .8-.6-.6-.5 .5-.6-.4-.6-.1-.5-.6-.6 1.4-.6-.2-.5-.3-.6 .3-.6-.2-.5 .2-.6 .3-.6-.8-.5 .4-.6-.8z"/><path class="t" d="M.9 10.6l.6-.1 .5 .9 .6 .3 .6-.3 .5 0 .6 .3 .6 0 .5-.3 .6 .8 .6-2 .5 1.1 .6 .3 .6 .2 .5-.4 .6 .4 .6-.5 .5-1.2 .6 1.3 .6-.9 .5 .1 .6-1.1 .6 0 .5-.1 .6-.7 .6-.5 .5 1.1 .6-1.8 .6-1 .5 .9 .6-.9 .6 .8 .5 .3 .6-.1 .6 1.8 .5-.5 .6 1.1 .6 .3 .5 .4 .6 .7 .6-.2 .5-.1 .6 .6 .6 0 .5 1.1 .6-1.4 .6 .3 .5 0 .6-.5 0 1.8-.6 .5-.5-.1-.6-.4-.6 .8-.5-.8-.6 .7-.6-.9-.5 .3-.6 0-.6-.3-.5-.5-.6 .1-.6-.3-.5 .1-.6-.8-.6-.1-.5-.4-.6 .3-.6-.4-.5-.1-.6 0-.6 1.3-.5-1-.6 .7-.6 .5-.5-.2-.6 .5-.6 .3-.5-.3-.6 .7-.6-.8-.5 .3-.6 .8-.6-.6-.5 .5-.6-.4-.6-.1-.5-.6-.6 1.4-.6-.2-.5-.3-.6 .3-.6-.2-.5 .2-.6 .3-.6-.8-.5 .4-.6-.8z"/><path class="b" d="M.9 7.8l.6 5.5 .5-5.9 .6 6.3 .6-.1 .5-.6 .6 .5 .6-.6 .5 .4 .6 0 .6-.9 .5-2.5 .6 2.5 .6 1 .5-.7 .6 .9 .6-.8 .5-.6 .6 1.1 .6-.9 .5 .5 .6-.7 .6-.4 .5-.2 .6 .1 .6-.9 .5 1.2 .6-1.3 .6-.3 .5-4.5 .6 5.2 .6-.6 .5 .8 .6-.2 .6 1 .5-5.7 .6 5.8 .6-.1 .5 .5 .6 .1 .6 .3 .5-.6 .6 1.4 .6-.8 .5 .7 .6-.6 .6 .3 .5-.3 .6-.7"/><path class="b" d="M.9 12.4l.6 1.1 .5-1.2 .6 1.6 .6-1.2 .5-.3 .6 1 .6-.9 .5 1 .6-.2 .6-1.2 .5 .6 .6 .3 .6 0 .5-.2 .6 .6 .6-.8 .5-.3 .6 .8 .6-.5 .5-3.5 .6 2.9 .6-.4 .5 .5 .6-.4 .6-.7 .5-6.2 .6 2 .6 3.6 .5-.1 .6 0 .6 .4 .5 .2 .6-3.6 .6 4.9 .5-.4 .6-2.8 .6 3.4 .5 .5 .6-.3 .6 .3 .5-.3 .6 1.2 .6-.8 .5 .9 .6-.9 .6 .2 .5 .4 .6-.9"/><path class="k" d="M.8 16.1l0-8.6 1.4 .4 .4 4.8-1.1 .6 .5-.4 .6 .8 .6-.3 .5-.2 .6 .2 .6-.3 .5 .3 .6 .2 .6-1.4 .5 .6 .6 .1 .6 .4 .5-.5 .6 .6 .6-.8 .5-.3 .6 .8 .6-.7 .5 .3 .6-.3 .6-.5 .5 .2 .6-.5 .6-.7 .5 1 .6-1.3 .6 0 .5 .1 .6 .4 .6-.3 .5 .4 .6 .1 .6 .8 .5-.1 .6 .3 .6-.1 .5 .5 .6 .3 .6 0 .5-.3 .6 .9 .6-.7 .5 .8 .6-.8 .6 .4 .5 .1 .6-.5 0 3.4-.6 0-.5 .1-.6 0-.6-.3-.5 0-.6 .2-.6-.2-.5 0-.6 .1-.6-.1-.5-.2-.6 0-.6-.2-.5-.3-.6-.2-.6-.1-.5-.1-.6 .1-.6-.1-.5-.2-.6 .1-.6 .2-.5 .1-.6-.2-.6 .5-.5 .2-.6-.2-.6 .5-.5-.1-.6 .2-.6-.1-.5 .1-.6 .1-.6 0-.5 .1-.6 .1-.6-.2-.5 0-.6-.1-.6 .1-.5 0-.6 .2-.6-.1-.5 0-.6-.2-.6 0-.5 .2-.7-.2z"/><use href="#f"/></g>
<g transform="translate(270.8 291.4)" color="#f00" stroke="none"><use href="#g"/><path class="c" d="M.9 6.2l.6 2.8 .5 0 .6 1 .6-.1 .5-.9 .6 1.9 .6-2.7 .5 2.2 .6-1.4 .6-.5 .5 2.7 .6-3.2 .6 2.5 .5-2.2 .6 2.9 .6-2.3 .5 1.3 .6 .6 .6-.1 .5-1.1 .6-1.2 .6-.8 .5 .1 .6 .7 .6-.5 .5-.4 .6 .5 .6 .6 .5-2.1 .6 .3 .6 .1 .5-1.3 .6 3.5 .6-2.4 .5 .4 .6-.2 .6-.2 .5 1 .6 3.2 .6-5.3 .5-.1 .6 5.8 .6-6.3 .5 5.3 .6-1.7 .6-.4 .5-1.8 .6 1.6 0 5.2-.6-.2-.5 .4-.6-.5-.6 .3-.5-.4-.6 .5-.6-.6-.5 .1-.6-.2-.6-.8-.5 .3-.6-.7-.6-.2-.5-.4-.6 .1-.6-.3-.5 .1-.6 .1-.6-.3-.5 .3-.6 .2-.6 .4-.5 .4-.6-.6-.6 .4-.5 .4-.6-.2-.6 .5-.5 .4-.6-.1-.6 .1-.5 .2-.6 .2-.6 0-.5 .2-.6-.6-.6 .5-.5-.3-.6 .3-.6-.2-.5 .3-.6 0-.6 0-.5-.2-.6 .2-.6 0-.5-.1-.6-.2z"/><path class="t" d="M.9 10.5l.6 .8 .5 0 .6 .7 .6-.2 .5-.1 .6 .5 .6-.7 .5 0 .6-.5 .6-.5 .5 1.4 .6-1.2 .6 .7 .5-.9 .6 1 .6-1 .5 .4 .6 .4 .6-.2 .5-1.1 .6-1.1 .6 .6 .5-.8 .6-.4 .6 .1 .5-1.1 .6 .8 .6-.4 .5-.7 .6 .1 .6 .1 .5-.3 .6 .7 .6-.3 .5 .6 .6 0 .6 1.2 .5-.1 .6 1.8 .6-1.4 .5 .2 .6 2.3 .6-1.8 .5 1 .6 0 .6 .1 .5-.4 .6 .5 0 1.9-.6-.2-.5 .4-.6-.5-.6 .3-.5-.4-.6 .5-.6-.6-.5 .1-.6-.2-.6-.8-.5 .3-.6-.7-.6-.2-.5-.4-.6 .1-.6-.3-.5 .1-.6 .1-.6-.3-.5 .3-.6 .2-.6 .4-.5 .4-.6-.6-.6 .4-.5 .4-.6-.2-.6 .5-.5 .4-.6-.1-.6 .1-.5 .2-.6 .2-.6 0-.5 .2-.6-.6-.6 .5-.5-.3-.6 .3-.6-.2-.5 .3-.6 0-.6 0-.5-.2-.6 .2-.6 0-.5-.1-.6-.2z"/><path class="b" d="M.9 12.3l.6 1.1 .5-.1 .6 0 .6-.1 .5-4.6 .6 4.9 .6 0 .5-.5 .6 .4 .6-.5 .5 .5 .6-.6 .6 .3 .5-.1 .6-.5 .6 0 .5 .2 .6-.2 .6 .5 .5-.5 .6-.6 .6 .3 .5-.8 .6-.4 .6 .7 .5-.3 .6-.1 .6-.8 .5-.7 .6 .9 .6 0 .5 0 .6 .1 .6-.2 .5 .7 .6-.1 .6 1 .5-.3 .6 .8 .6 0 .5-.7 .6 1.3 .6-.3 .5-.2 .6 .1 .6 .3 .5-.3 .6-7.4"/><path class="b" d="M.9 13l.6-2.6 .5 2.5 .6 .1 .6 .3 .5-.5 .6 .7 .6 0 .5-.7 .6-.1 .6-.2 .5 .7 .6-.9 .6 1 .5-.1 .6-.3 .6-4 .5 3.3 .6 .2 .6 .1 .5-.5 .6-.1 .6 .1 .5-.5 .6-.1 .6 .5 .5-.3 .6-1.2 .6 .3 .5-.1 .6-4.3 .6 4.1 .5-5.1 .6 5.5 .6 .3 .5-.2 .6 .5 .6 .4 .5-7.2 .6 8 .6 .1 .5 .2 .6 .1 .6-4.5 .5-4.9 .6 9 .6 .6 .5-.1 .6 0"/><path class="k" d="M.8 16.1l0-8 1.4 .5 .4 4.1-1.1 .5 .5 .1 .6 0 .6-.2 .5 .2 .6 0 .6 0 .5-.3 .6 .2 .6-.3 .5 .3 .6-.5 .6 .6 .5-.2 .6 0 .6-.2 .5-.2 .6-.1 .6 .1 .5-.4 .6-.5 .6 .2 .5-.4 .6-.4 .6 .6 .5-.4 .6-.4 .6-.2 .5-.3 .6 .3 .6-.1 .5-.1 .6 .3 .6-.1 .5 .4 .6 .2 .6 .7 .5-.3 .6 .8 .6 .2 .5-.1 .6 .6 .6-.5 .5 .4 .6-.3 .6 .5 .5-.4 .6 .2 0 2.9-.6 0-.5 .3-.6-.3-.6-.1-.5 0-.6-.1-.6 0-.5-.2-.6-.1-.6 0-.5 0-.6-.3-.6-.1-.5 .1-.6-.3-.6-.1-.5 .1-.6-.2-.6 .1-.5 .1-.6 .2-.6 0-.5 0-.6 .2-.6 .3-.5-.3-.6 .2-.6 .1-.5 .2-.6 0-.6 .1-.5 .2-.6-.2-.6 .1-.5 .1-.6-.2-.6 .1-.5 0-.6 .3-.6-.2-.5 0-.6 .1-.6 0-.5 0-.6-.1-.6 0-.5-.2-.7 .1z"/><use href="#f"/></g>
<g transform="translate(311.9 291.4)" color="#f00" stroke="none"><use href="#g"/><path class="c" d="M.9 7.5l.6 .9 .5 2.1 .6-3.6 .6 2.2 .5 .8 .6-.7 .6 1.6 .5-1.6 .6 1.5 .6-1.1 .5-1.2 .6 1.8 .6 .5 .5-.1 .6-1.2 .6-.2 .5 .9 .6-1.9 .6 1.7 .5 .5 .6-.8 .6 .2 .5 .2 .6-1.3 .6-1.9 .5 .5 .6 .8 .6-.4 .5-2.1 .6 0 .6 1.4 .5-.9 .6 2.6 .6-1.9 .5 .9 .6 2.9 .6-5.3 .5 5.2 .6-2.3 .6 2 .5-.6 .6 1.9 .6-2 .5-.1 .6-.2 .6 0 .5-.4 .6 .8 0 3.8-.6-.2-.5 .3-.6-.4-.6 .3-.5-.5-.6 .4-.6-.1-.5 .1-.6-.5-.6 .4-.5-.8-.6 .3-.6-.4-.5-1-.6-.4-.6-.9-.5 .7-.6-1-.6 .3-.5 .2-.6 .1-.6 .2-.5 .2-.6 .7-.6 .5-.5-.2-.6 .7-.6 .4-.5-.2-.6 .2-.6 .6-.5-.6-.6 .6-.6 .1-.5-.5-.6 .2-.6-.3-.5 1-.6-.8-.6 .4-.5-.1-.6 .2-.6-.2-.5-.9-.6 .5-.6 .7-.5-.2-.6-.3z"/><path class="t" d="M.9 11.3l.6 .1 .5 .9 .6-1.7 .6 .4 .5 .5 .6 .2 .6 .3 .5-.3 .6 .2 .6 0 .5-.6 .6-.1 .6 .5 .5 .3 .6-.6 .6-.7 .5 .9 .6-1.7 .6 .8 .5-.6 .6 .2 .6-.7 .5-.1 .6-.7 .6-1.4 .5-.5 .6 .1 .6-.4 .5-1 .6-.1 .6 1.2 .5-1 .6 2 .6 0 .5 1.7 .6 1.4 .6-1.3 .5 2.3 .6-.9 .6 .9 .5-.3 .6 .5 .6-1.1 .5 .3 .6 .2 .6 .4 .5-.3 .6 0 0 1.9-.6-.2-.5 .3-.6-.4-.6 .3-.5-.5-.6 .4-.6-.1-.5 .1-.6-.5-.6 .4-.5-.8-.6 .3-.6-.4-.5-1-.6-.4-.6-.9-.5 .7-.6-1-.6 .3-.5 .2-.6 .1-.6 .2-.5 .2-.6 .7-.6 .5-.5-.2-.6 .7-.6 .4-.5-.2-.6 .2-.6 .6-.5-.6-.6 .6-.6 .1-.5-.5-.6 .2-.6-.3-.5 1-.6-.8-.6 .4-.5-.1-.6 .2-.6-.2-.5-.9-.6 .5-.6 .7-.5-.2-.6-.3z"/><path class="b" d="M.9 13.4l.6 .3 .5 0 .6-.7 .6-.6 .5 1.2 .6-.2 .6-.1 .5 .4 .6-.4 .6 .7 .5-1.5 .6 .8 .6-.8 .5 .9 .6 .1 .6-.9 .5 .4 .6-.4 .6-.9 .5 1.2 .6-.5 .6-.9 .5 .6 .6-1 .6-.5 .5 0 .6-.2 .6-.3 .5 .1 .6-1 .6 1.3 .5-.7 .6-3.1 .6 4.8 .5 .6 .6-3.2 .6 3.6 .5-4.8 .6 5.1 .6 .6 .5-.1 .6-.2 .6 0 .5 .3 .6-.4 .6 .6 .5-.7 .6 .6"/><path class="b" d="M.9 13.3l.6 .2 .5 0 .6-.9 .6-.5 .5 1.1 .6 .1 .6-.2 .5 .4 .6-.3 .6 .6 .5-.8 .6-.1 .6 .3 .5 .4 .6 .1 .6-1 .5 .1 .6 .2 .6-.4 .5 .1 .6-.3 .6-.7 .5 .1 .6-.4 .6-1.1 .5 .1 .6-.5 .6 .3 .5 0 .6-5.2 .6 5.8 .5-1 .6 1 .6 .6 .5 .6 .6 .9 .6-8.9 .5 8.8 .6 .2 .6 .4 .5-.8 .6 .1 .6-.5 .5 1 .6-.9 .6 1.3 .5-1.1 .6 1.1"/><path class="k" d="M.8 16.1l0-8.7 1.4 .5 .4 4.8-1.1 .8 .5 .2 .6-.7 .6-.5 .5 .9 .6 .2 .6-.2 .5 .1 .6-.4 .6 .8 .5-1 .6 .3 .6-.2 .5 .5 .6-.1 .6-.6 .5 .6 .6-.6 .6-.2 .5 .2 .6-.4 .6-.7 .5 .2 .6-.5 .6-.7 .5-.2 .6-.2 .6-.1 .5-.2 .6-.3 .6 1 .5-.7 .6 .9 .6 .4 .5 1 .6 .4 .6-.3 .5 .8 .6-.4 .6 .5 .5-.1 .6 .1 .6-.4 .5 .5 .6-.3 .6 .4 .5-.3 .6 .2 0 2.7-.6 0-.5 .2-.6 0-.6 0-.5-.2-.6 .2-.6 .1-.5-.3-.6-.1-.6 .2-.5-.2-.6-.2-.6-.1-.5-.3-.6-.5-.6-.5-.5 0-.6 .3-.6-.2-.5 .1-.6 .3-.6 .3-.5 .1-.6 0-.6 .2-.5 .1-.6 .2-.6-.1-.5 .3-.6 0-.6 .1-.5 .2-.6-.1-.6 0-.5 .1-.6 0-.6 0-.5 0-.6 0-.6-.1-.5 0-.6 0-.6-.1-.5 0-.6 0-.6 .1-.5 .1-.7-.2z"/><use href="#f"/></g>
<g transform="translate(353 291.4)" color="#f00" stroke="none"><use href="#g"/><path class="c" d="M.9 8.6l.6-.7 .5 .1 .6 .5 .6 .1 .5 .5 .6 1 .6-1.4 .5 1.3 .6 .9 .6-.1 .5-1.7 .6 1.7 .6-.5 .5-2 .6 1.3 .6 .5 .5-1.2 .6-.6 .6 2 .5-1.6 .6 1.2 .6-2.5 .5 1 .6-1 .6-.4 .5 1.3 .6-.4 .6 1.1 .5-2.1 .6 .4 .6-2.4 .5 3.2 .6 .3 .6 .2 .5-.7 .6-.1 .6-.1 .5 2.6 .6-3 .6 1 .5 2.8 .6-.6 .6 1 .5-3 .6 3 .6-.6 .5 .3 .6-.4 0 2.7-.6 .3-.5-.4-.6-.2-.6-.6-.5 .6-.6 .2-.6-.9-.5 .2-.6-.1-.6 .2-.5-.3-.6-.2-.6-.6-.5 .2-.6-1-.6 .6-.5-1.6-.6 .2-.6 .2-.5 .3-.6 0-.6 .1-.5 1-.6-.4-.6 .4-.5-.1-.6 .7-.6 .2-.5 1-.6-.6-.6 .4-.5-.3-.6 .2-.6 .2-.5 .1-.6 0-.6-.3-.5 .1-.6 .2-.6 0-.5-.4-.6 .6-.6-.6-.5-.5-.6 1.1-.6-.9-.5 .4-.6 0z"/><path class="t" d="M.9 11.1l.6-.1 .5-.6 .6 1.4 .6-.8 .5-.1 .6 1.3 .6-1.1 .5 .5 .6 .5 .6-.1 .5-.6 .6 .7 .6-.1 .5-1.2 .6 .7 .6 .1 .5-.5 .6-.8 .6 .9 .5-1 .6-.5 .6-.8 .5 .2 .6-1 .6 0 .5-1 .6-.1 .6 .5 .5-.9 .6 0 .6-.5 .5 1.7 .6 .1 .6 .9 .5 0 .6 .7 .6 .2 .5 1.6 .6-1 .6 .2 .5 .8 .6 .9 .6-.3 .5-1 .6 .8 .6 .4 .5 .5 .6-.8 0 1.7-.6 .3-.5-.4-.6-.2-.6-.6-.5 .6-.6 .2-.6-.9-.5 .2-.6-.1-.6 .2-.5-.3-.6-.2-.6-.6-.5 .2-.6-1-.6 .6-.5-1.6-.6 .2-.6 .2-.5 .3-.6 0-.6 .1-.5 1-.6-.4-.6 .4-.5-.1-.6 .7-.6 .2-.5 1-.6-.6-.6 .4-.5-.3-.6 .2-.6 .2-.5 .1-.6 0-.6-.3-.5 .1-.6 .2-.6 0-.5-.4-.6 .6-.6-.6-.5-.5-.6 1.1-.6-.9-.5 .4-.6 0z"/><path class="b" d="M.9 13.2l.6-.1 .5-.3 .6 1 .6-1.4 .5 .9 .6 .1 .6-.2 .5-2.6 .6 2.4 .6 0 .5 .3 .6 .3 .6 .1 .5-.2 .6-.1 .6-.2 .5-.4 .6 .2 .6 .7 .5-1.3 .6-.1 .6-.5 .5-.1 .6-.8 .6 .9 .5-1.2 .6-.1 .6 .3 .5-.4 .6-.3 .6-.5 .5 1.8 .6-.7 .6 .6 .5 .2 .6 .8 .6-.3 .5 1 .6-.2 .6-.1 .5-.3 .6 .8 .6 0 .5-.5 .6 .7 .6-.2 .5 .5 .6 0"/><path class="b" d="M.9 13.2l.6 .2 .5-1 .6 1.4 .6-1.2 .5 .7 .6 0 .6-.2 .5 .1 .6 .4 .6-.3 .5 .1 .6 .2 .6 .1 .5-.7 .6 .3 .6-5.3 .5 5.3 .6-.6 .6 .7 .5-3 .6 2.1 .6-.9 .5-.2 .6 .1 .6 .3 .5-1 .6-.5 .6 0 .5 0 .6-3.9 .6 3.5 .5 1.7 .6-.7 .6 .5 .5 0 .6 .7 .6 .1 .5 .1 .6 .4 .6-5 .5 4.6 .6 1.1 .6-7.6 .5 6.7 .6 .4 .6 .7 .5 0 .6 0"/><path class="k" d="M.8 16.1l0-7.7 1.4 .5 .4 3.8-1.1 .5 .5-.4 .6 .9 .6-1.1 .5 .5 .6 .6 .6-.6 .5 .4 .6 0 .6-.2 .5-.1 .6 .3 .6 0 .5-.1 .6-.2 .6-.2 .5 .3 .6-.4 .6 .6 .5-1 .6-.2 .6-.7 .5 .1 .6-.4 .6 .4 .5-1 .6-.1 .6 0 .5-.3 .6-.2 .6-.2 .5 1.6 .6-.6 .6 1 .5-.2 .6 .6 .6 .2 .5 .3 .6-.2 .6 .1 .5-.2 .6 .9 .6-.2 .5-.6 .6 .6 .6 .2 .5 .4 .6-.3 0 2.8-.6 0-.5-.1-.6 0-.6 .1-.5-.2-.6 .1-.6 .2-.5-.3-.6-.1-.6 .1-.5-.3-.6-.2-.6 0-.5-.4-.6-.1-.6-.2-.5-.1-.6 0-.6-.1-.5-.1-.6 .3-.6 .1-.5 0-.6 .2-.6 .3-.5 0-.6 .2-.6 0-.5 .2-.6 .2-.6 0-.5 0-.6-.1-.6 .3-.5-.1-.6 0-.6 .1-.5-.1-.6 0-.6-.2-.5 .3-.6 0-.6 0-.5-.1-.6 .2-.6-.2-.5 0-.7-.1z"/><use href="#f"/></g>
<g transform="translate(394.2 291.4)" color="#f00" stroke="none"><use href="#g"/><path class="c" d="M.9 6l.6 .9 .5 2.4 .6-1.3 .6 1.2 .5 .5 .6 1.1 .6-.7 .5-.7 .6 1 .6 .4 .5-.3 .6-2.1 .6 3.1 .5-.7 .6-2.5 .6 1.8 .5-.2 .6 .7 .6 .5 .5-3.3 .6 1.9 .6-1.2 .5-.8 .6 1.5 .6-.5 .5 .1 .6-1.5 .6-.4 .5-.4 .6-.1 .6 1.6 .5 .1 .6-1.3 .6 .9 .5-2.1 .6 1.9 .6-.8 .5 2.4 .6-.5 .6 .7 .5-1.1 .6-.5 .6 1.3 .5 .8 .6 1.8 .6-2.7 .5 .1 .6-1.1 0 5-.6 .3-.5-.2-.6 .3-.6 0-.5-.7-.6-.1-.6-.4-.5 .1-.6 .1-.6 .3-.5-.5-.6-.9-.6-.6-.5 .2-.6 .1-.6-.6-.5 .2-.6-.3-.6 .3-.5 .6-.6-.5-.6 .9-.5 .1-.6 .1-.6 .5-.5 .1-.6 .4-.6-.1-.5 .6-.6 0-.6 0-.5-.3-.6 .3-.6 .3-.5-.4-.6 0-.6 0-.5 .9-.6-1-.6 .5-.5-.5-.6 .3-.6 .1-.5-.5-.6-.1-.6 .5-.5 .1-.6 0z"/><path class="t" d="M.9 10.5l.6 .5 .5 .2 .6-.5 .6 .5 .5 .6 .6 .1 .6-.2 .5 .1 .6 0 .6 .9 .5-1.3 .6 0 .6 .5 .5 .1 .6-.7 .6 .1 .5 .1 .6-.5 .6 .4 .5-1 .6 .1 .6-.6 .5-.9 .6-.1 .6 0 .5-.3 .6-1.4 .6 .3 .5-1.1 .6 .1 .6 .6 .5-.1 .6 .3 .6 .1 .5-.2 .6 1.2 .6 .8 .5 1.1 .6 0 .6 0 .5-.4 .6 .4 .6 .7 .5 .7 .6 .3 .6-1.2 .5 .6 .6-1 0 2.5-.6 .3-.5-.2-.6 .3-.6 0-.5-.7-.6-.1-.6-.4-.5 .1-.6 .1-.6 .3-.5-.5-.6-.9-.6-.6-.5 .2-.6 .1-.6-.6-.5 .2-.6-.3-.6 .3-.5 .6-.6-.5-.6 .9-.5 .1-.6 .1-.6 .5-.5 .1-.6 .4-.6-.1-.5 .6-.6 0-.6 0-.5-.3-.6 .3-.6 .3-.5-.4-.6 0-.6 0-.5 .9-.6-1-.6 .5-.5-.5-.6 .3-.6 .1-.5-.5-.6-.1-.6 .5-.5 .1-.6 0z"/><path class="b" d="M.9 13.3l.6 0 .5 .1 .6-.4 .6-.3 .5 .8 .6-.2 .6-.5 .5 .9 .6-.7 .6 .9 .5-1.1 .6-.4 .6 .6 .5 .4 .6-3 .6 2.7 .5 .1 .6-.1 .6 .2 .5-.8 .6 .1 .6-.3 .5 0 .6-.6 .6 .1 .5-.5 .6-.8 .6 .5 .5-.8 .6-.2 .6 .4 .5-.2 .6-4.4 .6 4.2 .5 .3 .6 .8 .6 1 .5-3.7 .6 4 .6-4.4 .5-.5 .6 5 .6-.4 .5 .9 .6 0 .6 .2 .5-.7 .6 .4"/><path class="b" d="M.9 12.8l.6 .7 .5-5.8 .6 4.5 .6 .6 .5 .4 .6 .3 .6-.3 .5 .1 .6-.1 .6 .6 .5-.5 .6-3 .6 2.8 .5 .3 .6-1.3 .6 .8 .5 .3 .6-.4 .6 .6 .5-1.2 .6 .4 .6-5.1 .5 4.2 .6 .1 .6-.2 .5 0 .6-1 .6 .5 .5-.9 .6-5.1 .6 2.5 .5 2.3 .6 .9 .6 .1 .5-5.3 .6 5.9 .6-6.5 .5 3.5 .6 4 .6-.6 .5-4.1 .6 4.7 .6-2.8 .5 3.8 .6-.2 .6-.9 .5 .7 .6-.1"/><path class="k" d="M.8 16.1l0-7.9 1.4 .5 .4 4-1.1 .7 .5-.1 .6-.5 .6 .1 .5 .5 .6-.1 .6-.3 .5 .5 .6-.5 .6 1 .5-.9 .6 0 .6 0 .5 .4 .6-.3 .6-.3 .5 .3 .6 0 .6 0 .5-.6 .6 .1 .6-.4 .5-.1 .6-.5 .6-.1 .5-.1 .6-.9 .6 .5 .5-.6 .6-.3 .6 .3 .5-.2 .6 .6 .6-.1 .5-.2 .6 .6 .6 .9 .5 .5 .6-.3 .6-.1 .5-.1 .6 .4 .6 .1 .5 .7 .6 0 .6-.3 .5 .2 .6-.3 0 3.2-.6 .1-.5 .1-.6-.1-.6-.1-.5 .1-.6 0-.6-.1-.5-.2-.6-.2-.6 0-.5-.2-.6-.2-.6-.3-.5-.1-.6-.2-.6 0-.5 .1-.6 .1-.6-.2-.5 .2-.6 .2-.6 .1-.5 .1-.6 .2-.6 .1-.5 .1-.6 .1-.6-.1-.5 .4-.6 .1-.6-.2-.5 .1-.6 0-.6 0-.5 .2-.6-.1-.6 0-.5 0-.6-.1-.6 .2-.5 .1-.6-.2-.6 0-.5 0-.6 0-.6 .1-.5 0-.7-.2z"/><use href="#f"/></g>
<g transform="translate(435.3 291.4)" color="#f00" stroke="none"><use href="#g"/><path class="c" d="M.9 8.2l.6 .3 .5 .5 .6 1.3 .6 .4 .5-.7 .6-1.1 .6 .9 .5-.2 .6 1 .6-1.6 .5-.1 .6 .9 .6 .4 .5-.1 .6 .3 .6 0 .5 .3 .6-.6 .6-.2 .5 2 .6-2 .6 .8 .5-2.1 .6-.8 .6 2.4 .5-.7 .6 .3 .6-.8 .5-2.1 .6 1.6 .6-.8 .5 1 .6-.7 .6-2.4 .5 2.2 .6 1.6 .6-1.2 .5 2.9 .6-4.3 .6-.5 .5 .2 .6 4.2 .6 .2 .5-1.9 .6 2.1 .6-2.7 .5 1.6 .6-.3 0 3.4-.6-.1-.5-.4-.6 .6-.6-.3-.5 .4-.6-.6-.6 .4-.5-.6-.6-.2-.6 .9-.5-.5-.6-.9-.6-.7-.5-.3-.6 .7-.6-.2-.5 .2-.6 .2-.6-.3-.5 .6-.6-.1-.6 0-.5 .4-.6 .5-.6 .2-.5 .1-.6 .2-.6 .2-.5-.3-.6-.4-.6 .3-.5-.5-.6 .8-.6 .1-.5-.2-.6 0-.6 .1-.5-.3-.6 .5-.6-.3-.5 .1-.6-.2-.6 0-.5-.3-.6 .5-.6-.7-.5 .4-.6 .3z"/><path class="t" d="M.9 11.5l.6-.5 .5-.1 .6 .9 .6 0 .5-.1 .6-.5 .6 .7 .5-.1 .6 .5 .6-1 .5-.1 .6 .6 .6 0 .5-.6 .6 .5 .6-.4 .5 .2 .6 .1 .6-.3 .5 1 .6-.8 .6 .2 .5-1.4 .6 .1 .6 .1 .5-1.3 .6 .6 .6-.4 .5-1.5 .6 .7 .6-.3 .5-.3 .6 .3 .6-1.1 .5 1.1 .6 1 .6 .5 .5 1.4 .6-1.6 .6-.3 .5 1.2 .6 .2 .6 1 .5-.5 .6 .7 .6-.9 .5 .6 .6 .1 0 1.4-.6-.1-.5-.4-.6 .6-.6-.3-.5 .4-.6-.6-.6 .4-.5-.6-.6-.2-.6 .9-.5-.5-.6-.9-.6-.7-.5-.3-.6 .7-.6-.2-.5 .2-.6 .2-.6-.3-.5 .6-.6-.1-.6 0-.5 .4-.6 .5-.6 .2-.5 .1-.6 .2-.6 .2-.5-.3-.6-.4-.6 .3-.5-.5-.6 .8-.6 .1-.5-.2-.6 0-.6 .1-.5-.3-.6 .5-.6-.3-.5 .1-.6-.2-.6 0-.5-.3-.6 .5-.6-.7-.5 .4-.6 .3z"/><path class="b" d="M.9 13.1l.6-.3 .5-.8 .6 1.6 .6-.8 .5 .4 .6-.6 .6 1 .5-.3 .6-.1 .6-.6 .5 .7 .6 0 .6-.4 .5 .7 .6-.3 .6-.9 .5 .6 .6 0 .6 .2 .5 .5 .6-.7 .6 .2 .5-.6 .6-.1 .6-.1 .5-.4 .6 0 .6 .2 .5-.7 .6-1.9 .6 2 .5-.3 .6 .3 .6-.9 .5-2.9 .6 4 .6 .3 .5 .9 .6-4 .6 2.9 .5 1.1 .6-.8 .6 1.3 .5-.6 .6 .4 .6-.5 .5-.6 .6 .9"/><path class="b" d="M.9 13.5l.6-.4 .5-.3 .6 .8 .6-.8 .5 .1 .6 .4 .6 .2 .5 0 .6 0 .6-.3 .5 .4 .6-.2 .6-.3 .5 .5 .6-.2 .6-5.7 .5 5.3 .6-.3 .6 .6 .5 .3 .6-.9 .6 .5 .5-.3 .6 .1 .6-1.2 .5-.5 .6-1.8 .6 2.5 .5-.8 .6 .5 .6-.3 .5-4.7 .6 4.6 .6-.3 .5 .1 .6 .8 .6 .7 .5-6.8 .6 6.5 .6-.3 .5 .9 .6-.2 .6 .8 .5-.8 .6 .3 .6-.2 .5 .2 .6 .2"/><path class="k" d="M.8 16.1l0-8.5 1.4 .5 .4 4.6-1.1 .4 .5-.4 .6 .7 .6-.5 .5 .3 .6 0 .6 .2 .5-.1 .6 .3 .6-.5 .5 .3 .6-.1 .6 0 .5 .2 .6-.1 .6-.8 .5 .5 .6-.3 .6 .4 .5 .3 .6-.2 .6-.2 .5-.1 .6-.2 .6-.5 .5-.4 .6 0 .6 .1 .5-.6 .6 .3 .6-.2 .5-.2 .6 .2 .6-.7 .5 .3 .6 .7 .6 .9 .5 .5 .6-.9 .6 .2 .5 .6 .6-.4 .6 .6 .5-.4 .6 .3 .6-.6 .5 .4 .6 .1 0 3.2-.6 .1-.5-.2-.6 .1-.6-.2-.5 0-.6-.1-.6 .1-.5-.1-.6-.2-.6-.3-.5 .1-.6-.3-.6 0-.5 .2-.6-.3-.6-.1-.5 0-.6 .1-.6 .1-.5 .1-.6 0-.6 .2-.5 .2-.6-.1-.6 .2-.5 .1-.6 .1-.6 .1-.5 0-.6 0-.6 0-.5 0-.6 0-.6 0-.5 0-.6-.1-.6 .1-.5 .1-.6-.2-.6 .1-.5 .1-.6-.2-.6 0-.5 .1-.6 0-.6 0-.5 0-.7-.1z"/><use href="#f"/></g>
<g transform="translate(476.4 291.4)" color="#f00" stroke="none"><use href="#g"/><path class="c" d="M.9 4.9l.6 5.1 .5-3.4 .6 .2 .6 3 .5 .7 .6-1.7 .6 1.2 .5-1 .6 .1 .6 .3 .5 2.3 .6-3.7 .6 1.2 .5-1.7 .6 2.3 .6-1.2 .5 2.2 .6-2.7 .6 1.6 .5-1.9 .6 .3 .6 .1 .5 1.1 .6-.5 .6-.9 .5-3.7 .6 2.4 .6 .1 .5-2 .6 .5 .6 1.4 .5 0 .6-.1 .6-.4 .5 .4 .6 2.4 .6 1 .5-.7 .6 1.7 .6 0 .5-2.3 .6 1.3 .6 1 .5 .1 .6 0 .6-.4 .5 0 .6 .1 0 2.4-.6 .2-.5-.2-.6 .3-.6-.7-.5 .6-.6 .1-.6 .5-.5-.9-.6 .2-.6 0-.5-.7-.6-.1-.6-1.9-.5 .2-.6-.8-.6-.7-.5 .1-.6 .2-.6 0-.5 .5-.6 .3-.6-.5-.5 1.3-.6-.4-.6 .7-.5 .4-.6 .1-.6 .3-.5-.1-.6 .9-.6-.4-.5 .3-.6-.3-.6 .6-.5 .2-.6-.6-.6 .6-.5-.4-.6 .3-.6-.6-.5 .3-.6 .3-.6-.1-.5-.1-.6 0-.6 .4-.5 0-.6-.3z"/><path class="t" d="M.9 10.2l.6 1.7 .5-.8 .6-.4 .6 .4 .5 .7 .6-.5 .6 0 .5-.5 .6 .7 .6-.2 .5 .5 .6-1.1 .6 1.1 .5-.7 .6 .2 .6-.4 .5-.2 .6 .3 .6-.8 .5-1 .6 .2 .6-.2 .5-.2 .6-1.5 .6 .1 .5-2.4 .6 .9 .6-.4 .5-1.3 .6 .2 .6 .1 .5 .2 .6 1.1 .6 .7 .5 1 .6 2.2 .6 1 .5 .1 .6 .5 .6 .1 .5 .2 .6 .1 .6-.4 .5 .3 .6 .2 .6-.3 .5 .4 .6-.4 0 1.4-.6 .2-.5-.2-.6 .3-.6-.7-.5 .6-.6 .1-.6 .5-.5-.9-.6 .2-.6 0-.5-.7-.6-.1-.6-1.9-.5 .2-.6-.8-.6-.7-.5 .1-.6 .2-.6 0-.5 .5-.6 .3-.6-.5-.5 1.3-.6-.4-.6 .7-.5 .4-.6 .1-.6 .3-.5-.1-.6 .9-.6-.4-.5 .3-.6-.3-.6 .6-.5 .2-.6-.6-.6 .6-.5-.4-.6 .3-.6-.6-.5 .3-.6 .3-.6-.1-.5-.1-.6 0-.6 .4-.5 0-.6-.3z"/><path class="b" d="M.9 13.4l.6 .3 .5-.3 .6-.1 .6 0 .5 .1 .6-.2 .6-.1 .5-.5 .6 .6 .6-.2 .5 .3 .6-7.8 .6 7.9 .5 0 .6-1.1 .6 .8 .5-.7 .6 .4 .6-1 .5 .1 .6-.4 .6 .5 .5-1.1 .6-.1 .6-2.2 .5 .5 .6 .9 .6 .1 .5-.6 .6-4.4 .6 3.9 .5-.5 .6 1.6 .6-2.9 .5 3.5 .6 1.6 .6 .4 .5 .7 .6-.1 .6-.1 .5 .8 .6-.5 .6-.4 .5-.2 .6 0 .6 .1 .5 .4 .6-.5"/><path class="b" d="M.9 13.4l.6 0 .5-6.1 .6 6 .6-6.2 .5 6.2 .6-.2 .6-.3 .5 .1 .6 .3 .6-.1 .5-.1 .6-.2 .6 .5 .5-3.3 .6 2.4 .6 0 .5 .4 .6 .3 .6-.9 .5-2.7 .6 2.1 .6-.2 .5-.6 .6-.2 .6 .2 .5-6 .6 5.6 .6-.4 .5-.4 .6 0 .6-.2 .5-.4 .6-4.7 .6 6.3 .5-.3 .6-5.8 .6 8.1 .5 .3 .6 .2 .6-.2 .5 .9 .6-1 .6 .6 .5-.5 .6 .6 .6-.9 .5 .8 .6-.3"/><path class="k" d="M.8 16.1l0-8.8 1.4 .4 .4 5-1.1 .8 .5 0 .6-.4 .6 0 .5 .1 .6 .1 .6-.3 .5-.3 .6 .6 .6-.3 .5 .4 .6-.6 .6 .6 .5-.2 .6-.6 .6 .3 .5-.3 .6 .4 .6-.9 .5 .1 .6-.3 .6-.1 .5-.4 .6-.7 .6 .4 .5-1.3 .6 .5 .6-.3 .5-.5 .6 0 .6-.2 .5-.1 .6 .7 .6 .8 .5-.2 .6 1.9 .6 .1 .5 .7 .6 0 .6-.2 .5 .9 .6-.5 .6-.1 .5-.6 .6 .7 .6-.3 .5 .2 .6-.2 0 3.1-.6 0-.5 .1-.6-.1-.6-.1-.5 .1-.6 .1-.6 0-.5-.3-.6 .2-.6 .1-.5-.4-.6-.4-.6-.2-.5-.3-.6-.6-.6-.2-.5-.2-.6-.1-.6 .3-.5 .1-.6 .2-.6 .2-.5 .3-.6 .1-.6 .1-.5 .3-.6 .2-.6 0-.5 .2-.6 .1-.6 .1-.5-.1-.6 .1-.6 .1-.5-.1-.6 .1-.6 .2-.5-.1-.6-.1-.6 0-.5-.2-.6 .3-.6-.1-.5 0-.6 .1-.6-.2-.5 .2-.7-.2z"/><use href="#f"/></g>
</svg></body></html>
